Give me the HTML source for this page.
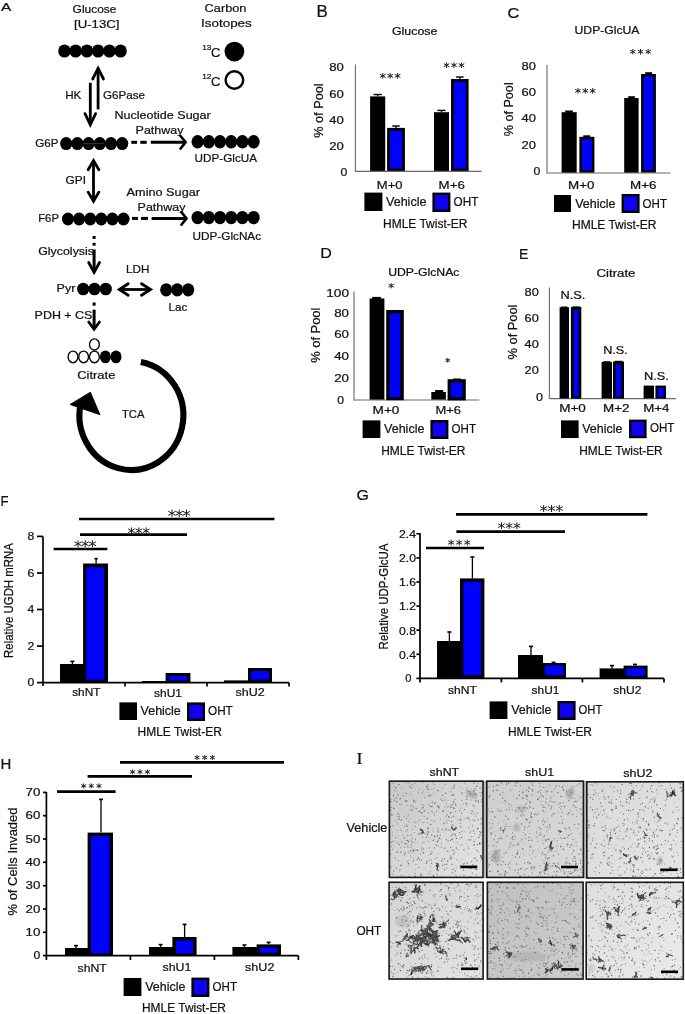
<!DOCTYPE html>
<html><head><meta charset="utf-8"><style>
html,body{margin:0;padding:0;background:#fff;}
body{width:685px;height:1014px;overflow:hidden;}
svg{display:block;will-change:transform;}
text{font-family:"Liberation Sans", sans-serif;fill:#111;stroke:#111;stroke-width:0.22px;}
</style></head><body>
<svg width="685" height="1014" viewBox="0 0 685 1014">
<rect x="0" y="0" width="685" height="1014" fill="#fff"/>
<text x="1.1" y="11.4" font-size="11.5" textLength="10.3" lengthAdjust="spacingAndGlyphs">A</text>
<text x="72.6" y="13.0" font-size="11" textLength="43.8" lengthAdjust="spacingAndGlyphs">Glucose</text>
<text x="74.0" y="28.0" font-size="11" textLength="45.4" lengthAdjust="spacingAndGlyphs">[U-13C]</text>
<ellipse cx="64.4" cy="51.0" rx="6.2" ry="6.6" fill="#000"/>
<ellipse cx="75.6" cy="51.0" rx="6.2" ry="6.6" fill="#000"/>
<ellipse cx="86.9" cy="51.0" rx="6.2" ry="6.6" fill="#000"/>
<ellipse cx="98.1" cy="51.0" rx="6.2" ry="6.6" fill="#000"/>
<ellipse cx="109.4" cy="51.0" rx="6.2" ry="6.6" fill="#000"/>
<ellipse cx="120.6" cy="51.0" rx="6.2" ry="6.6" fill="#000"/>
<polyline points="92.70,79.00 98.10,68.31 103.50,79.00" stroke="#000" stroke-width="2.8" fill="none" stroke-linejoin="miter" stroke-miterlimit="10" stroke-linecap="round"/>
<line x1="98.1" y1="68.3" x2="98.1" y2="109.4" stroke="#000" stroke-width="2.8" stroke-linecap="butt"/>
<polyline points="85.00,113.60 90.30,124.74 95.60,113.60" stroke="#000" stroke-width="2.8" fill="none" stroke-linejoin="miter" stroke-miterlimit="10" stroke-linecap="round"/>
<line x1="90.3" y1="82.8" x2="90.3" y2="124.7" stroke="#000" stroke-width="2.8" stroke-linecap="butt"/>
<text x="65.2" y="99.0" font-size="11" textLength="16.2" lengthAdjust="spacingAndGlyphs">HK</text>
<text x="103.0" y="99.0" font-size="11" textLength="41.9" lengthAdjust="spacingAndGlyphs">G6Pase</text>
<text x="204.6" y="12.4" font-size="11.5" textLength="41.8" lengthAdjust="spacingAndGlyphs">Carbon</text>
<text x="201.0" y="26.6" font-size="11.5" textLength="50.8" lengthAdjust="spacingAndGlyphs">Isotopes</text>
<text x="202.2" y="50.0" font-size="7" textLength="9.2" lengthAdjust="spacingAndGlyphs">13</text>
<text x="211.0" y="57.0" font-size="13.4" textLength="9.4" lengthAdjust="spacingAndGlyphs">C</text>
<ellipse cx="234.4" cy="51.6" rx="9.9" ry="9.9" fill="#000"/>
<text x="202.2" y="79.0" font-size="7" textLength="9.2" lengthAdjust="spacingAndGlyphs">12</text>
<text x="211.0" y="85.6" font-size="13.4" textLength="9.4" lengthAdjust="spacingAndGlyphs">C</text>
<ellipse cx="234.4" cy="80.0" rx="8.8" ry="8.8" fill="#fff" stroke="#000" stroke-width="2.4"/>
<text x="114.4" y="119.0" font-size="11" textLength="96.4" lengthAdjust="spacingAndGlyphs">Nucleotide Sugar</text>
<text x="135.6" y="133.6" font-size="11" textLength="47.8" lengthAdjust="spacingAndGlyphs">Pathway</text>
<text x="35.2" y="147.0" font-size="11.5" textLength="23.2" lengthAdjust="spacingAndGlyphs">G6P</text>
<ellipse cx="66.2" cy="143.6" rx="6.1" ry="6.5" fill="#000"/>
<ellipse cx="77.4" cy="143.6" rx="6.1" ry="6.5" fill="#000"/>
<ellipse cx="88.6" cy="143.6" rx="6.1" ry="6.5" fill="#000"/>
<ellipse cx="99.8" cy="143.6" rx="6.1" ry="6.5" fill="#000"/>
<ellipse cx="111.0" cy="143.6" rx="6.1" ry="6.5" fill="#000"/>
<ellipse cx="122.2" cy="143.6" rx="6.1" ry="6.5" fill="#000"/>
<line x1="83.0" y1="143.6" x2="104.0" y2="143.6" stroke="#3a3a3a" stroke-width="0.9" stroke-linecap="butt"/>
<line x1="131.3" y1="142.3" x2="137.1" y2="142.3" stroke="#000" stroke-width="3" stroke-linecap="butt"/>
<line x1="140.3" y1="142.3" x2="146.7" y2="142.3" stroke="#000" stroke-width="3" stroke-linecap="butt"/>
<line x1="150.8" y1="142.3" x2="150.8" y2="142.3" stroke="#000" stroke-width="3" stroke-linecap="butt"/>
<polyline points="180.50,136.00 185.62,142.30 180.50,148.60" stroke="#000" stroke-width="2.6" fill="none" stroke-linejoin="miter" stroke-miterlimit="10" stroke-linecap="round"/>
<line x1="150.8" y1="142.3" x2="185.6" y2="142.3" stroke="#000" stroke-width="3" stroke-linecap="butt"/>
<ellipse cx="197.6" cy="141.8" rx="6.1" ry="6.7" fill="#000"/>
<ellipse cx="208.8" cy="141.8" rx="6.1" ry="6.7" fill="#000"/>
<ellipse cx="220.0" cy="141.8" rx="6.1" ry="6.7" fill="#000"/>
<ellipse cx="231.2" cy="141.8" rx="6.1" ry="6.7" fill="#000"/>
<ellipse cx="242.4" cy="141.8" rx="6.1" ry="6.7" fill="#000"/>
<ellipse cx="253.6" cy="141.8" rx="6.1" ry="6.7" fill="#000"/>
<text x="194.6" y="162.4" font-size="11.5" textLength="62.4" lengthAdjust="spacingAndGlyphs">UDP-GlcUA</text>
<polyline points="88.15,169.80 93.50,160.51 98.85,169.80" stroke="#000" stroke-width="2.8" fill="none" stroke-linejoin="miter" stroke-miterlimit="10" stroke-linecap="round"/>
<polyline points="88.15,192.10 93.50,201.31 98.85,192.10" stroke="#000" stroke-width="2.8" fill="none" stroke-linejoin="miter" stroke-miterlimit="10" stroke-linecap="round"/>
<line x1="93.5" y1="160.5" x2="93.5" y2="201.3" stroke="#000" stroke-width="2.8" stroke-linecap="butt"/>
<text x="65.6" y="183.6" font-size="11" textLength="20.4" lengthAdjust="spacingAndGlyphs">GPI</text>
<text x="126.6" y="195.6" font-size="11" textLength="73.4" lengthAdjust="spacingAndGlyphs">Amino Sugar</text>
<text x="137.6" y="211.0" font-size="11" textLength="47.8" lengthAdjust="spacingAndGlyphs">Pathway</text>
<text x="38.2" y="222.4" font-size="11.5" textLength="20.8" lengthAdjust="spacingAndGlyphs">F6P</text>
<ellipse cx="68.0" cy="219.0" rx="6.1" ry="6.4" fill="#000"/>
<ellipse cx="79.1" cy="219.0" rx="6.1" ry="6.4" fill="#000"/>
<ellipse cx="90.2" cy="219.0" rx="6.1" ry="6.4" fill="#000"/>
<ellipse cx="101.3" cy="219.0" rx="6.1" ry="6.4" fill="#000"/>
<ellipse cx="112.4" cy="219.0" rx="6.1" ry="6.4" fill="#000"/>
<ellipse cx="123.5" cy="219.0" rx="6.1" ry="6.4" fill="#000"/>
<line x1="132.0" y1="218.4" x2="138.0" y2="218.4" stroke="#000" stroke-width="3" stroke-linecap="butt"/>
<line x1="141.0" y1="218.4" x2="148.0" y2="218.4" stroke="#000" stroke-width="3" stroke-linecap="butt"/>
<line x1="151.6" y1="218.4" x2="151.6" y2="218.4" stroke="#000" stroke-width="3" stroke-linecap="butt"/>
<polyline points="181.40,212.10 186.52,218.40 181.40,224.70" stroke="#000" stroke-width="2.6" fill="none" stroke-linejoin="miter" stroke-miterlimit="10" stroke-linecap="round"/>
<line x1="151.6" y1="218.4" x2="186.5" y2="218.4" stroke="#000" stroke-width="3" stroke-linecap="butt"/>
<ellipse cx="197.6" cy="217.6" rx="6.1" ry="6.7" fill="#000"/>
<ellipse cx="208.8" cy="217.6" rx="6.1" ry="6.7" fill="#000"/>
<ellipse cx="220.0" cy="217.6" rx="6.1" ry="6.7" fill="#000"/>
<ellipse cx="231.2" cy="217.6" rx="6.1" ry="6.7" fill="#000"/>
<ellipse cx="242.4" cy="217.6" rx="6.1" ry="6.7" fill="#000"/>
<ellipse cx="253.6" cy="217.6" rx="6.1" ry="6.7" fill="#000"/>
<text x="192.5" y="240.4" font-size="11.5" textLength="68.6" lengthAdjust="spacingAndGlyphs">UDP-GlcNAc</text>
<line x1="94.1" y1="236.0" x2="94.1" y2="238.9" stroke="#000" stroke-width="3" stroke-linecap="butt"/>
<line x1="94.1" y1="242.8" x2="94.1" y2="245.7" stroke="#000" stroke-width="3" stroke-linecap="butt"/>
<polyline points="88.70,262.50 94.10,272.38 99.50,262.50" stroke="#000" stroke-width="2.8" fill="none" stroke-linejoin="miter" stroke-miterlimit="10" stroke-linecap="round"/>
<line x1="94.1" y1="249.5" x2="94.1" y2="272.4" stroke="#000" stroke-width="3" stroke-linecap="butt"/>
<text x="38.2" y="255.0" font-size="11" textLength="55.8" lengthAdjust="spacingAndGlyphs">Glycolysis</text>
<text x="56.6" y="292.0" font-size="11" textLength="18.8" lengthAdjust="spacingAndGlyphs">Pyr</text>
<ellipse cx="83.2" cy="289.0" rx="6.1" ry="6.3" fill="#000"/>
<ellipse cx="94.5" cy="289.0" rx="6.1" ry="6.3" fill="#000"/>
<ellipse cx="105.8" cy="289.0" rx="6.1" ry="6.3" fill="#000"/>
<polyline points="128.20,283.80 119.30,289.50 128.20,295.20" stroke="#000" stroke-width="2.8" fill="none" stroke-linejoin="miter" stroke-miterlimit="10" stroke-linecap="round"/>
<polyline points="141.50,283.80 150.57,289.50 141.50,295.20" stroke="#000" stroke-width="2.8" fill="none" stroke-linejoin="miter" stroke-miterlimit="10" stroke-linecap="round"/>
<line x1="119.3" y1="289.5" x2="150.6" y2="289.5" stroke="#000" stroke-width="2.8" stroke-linecap="butt"/>
<text x="126.0" y="273.0" font-size="11" textLength="23.4" lengthAdjust="spacingAndGlyphs">LDH</text>
<ellipse cx="166.2" cy="289.8" rx="6.1" ry="6.6" fill="#000"/>
<ellipse cx="177.2" cy="289.8" rx="6.1" ry="6.6" fill="#000"/>
<ellipse cx="188.2" cy="289.8" rx="6.1" ry="6.6" fill="#000"/>
<text x="168.6" y="311.0" font-size="11" textLength="18.8" lengthAdjust="spacingAndGlyphs">Lac</text>
<text x="34.6" y="319.0" font-size="11" textLength="57.8" lengthAdjust="spacingAndGlyphs">PDH + CS</text>
<line x1="94.1" y1="302.5" x2="94.1" y2="305.7" stroke="#000" stroke-width="3" stroke-linecap="butt"/>
<polyline points="88.70,322.00 94.10,329.09 99.50,322.00" stroke="#000" stroke-width="2.8" fill="none" stroke-linejoin="miter" stroke-miterlimit="10" stroke-linecap="round"/>
<line x1="94.1" y1="309.7" x2="94.1" y2="329.1" stroke="#000" stroke-width="3" stroke-linecap="butt"/>
<ellipse cx="94.4" cy="344.4" rx="4.9" ry="5.6" fill="#fff" stroke="#000" stroke-width="1.35"/>
<ellipse cx="73.0" cy="356.9" rx="4.9" ry="5.8" fill="#fff" stroke="#000" stroke-width="1.35"/>
<ellipse cx="83.6" cy="356.9" rx="4.9" ry="5.8" fill="#fff" stroke="#000" stroke-width="1.35"/>
<ellipse cx="94.4" cy="356.9" rx="4.9" ry="5.8" fill="#fff" stroke="#000" stroke-width="1.35"/>
<ellipse cx="105.4" cy="356.9" rx="5.5" ry="6.4" fill="#000"/>
<ellipse cx="116.0" cy="356.9" rx="5.5" ry="6.4" fill="#000"/>
<text x="77.2" y="379.4" font-size="11" textLength="38.2" lengthAdjust="spacingAndGlyphs">Citrate</text>
<path d="M140.86,361.91 A51.9,54.5 0 1 1 81.77,399.57" stroke="#000" stroke-width="6.1" fill="none"/>
<polygon points="70.4,404.5 90.3,392.6 99.7,414.5" fill="#000" stroke="#000" stroke-width="1.2" stroke-linejoin="round"/>
<text x="122.0" y="418.0" font-size="11" textLength="22.4" lengthAdjust="spacingAndGlyphs">TCA</text>
<text x="316.6" y="17.0" font-size="16.5" textLength="11.3" lengthAdjust="spacingAndGlyphs">B</text>
<text x="392.0" y="35.0" font-size="10.5" textLength="45.4" lengthAdjust="spacingAndGlyphs">Glucose</text>
<line x1="355.4" y1="64.4" x2="355.4" y2="171.9" stroke="#6a6a6a" stroke-width="1.1" stroke-linecap="butt"/>
<line x1="355.4" y1="171.4" x2="481.6" y2="171.4" stroke="#6a6a6a" stroke-width="1.1" stroke-linecap="butt"/>
<text x="329.2" y="71.0" font-size="11" textLength="14.6" lengthAdjust="spacingAndGlyphs">80</text>
<text x="329.2" y="97.6" font-size="11" textLength="14.6" lengthAdjust="spacingAndGlyphs">60</text>
<text x="329.2" y="123.6" font-size="11" textLength="14.6" lengthAdjust="spacingAndGlyphs">40</text>
<text x="329.2" y="150.0" font-size="11" textLength="14.6" lengthAdjust="spacingAndGlyphs">20</text>
<text x="340.6" y="176.0" font-size="11" textLength="6.8" lengthAdjust="spacingAndGlyphs">0</text>
<text x="110.6" y="0" font-size="12" text-anchor="middle" textLength="54.5" lengthAdjust="spacingAndGlyphs" transform="translate(323.4,110.6) rotate(-90) translate(-110.6,0)">% of Pool</text>
<path d="M382.79,73.00V78.70M379.95,74.28L385.64,77.42M379.95,77.42L385.64,74.28M390.20,73.00V78.70M387.36,74.28L393.04,77.42M387.36,77.42L393.04,74.28M397.61,73.00V78.70M394.76,74.28L400.45,77.42M394.76,77.42L400.45,74.28" stroke="#222" stroke-width="1.0" fill="none"/>
<path d="M446.54,62.40V68.00M443.75,63.66L449.33,66.74M443.75,66.74L449.33,63.66M454.00,62.40V68.00M451.21,63.66L456.79,66.74M451.21,66.74L456.79,63.66M461.46,62.40V68.00M458.67,63.66L464.25,66.74M458.67,66.74L464.25,63.66" stroke="#222" stroke-width="1.0" fill="none"/>
<line x1="377.6" y1="96.4" x2="377.6" y2="94.5" stroke="#000" stroke-width="1.3" stroke-linecap="butt"/>
<line x1="373.5" y1="94.5" x2="381.8" y2="94.5" stroke="#000" stroke-width="1.4" stroke-linecap="butt"/>
<rect x="370.1" y="96.4" width="15.1" height="74.5" fill="#000"/>
<line x1="396.0" y1="128.0" x2="396.0" y2="126.0" stroke="#000" stroke-width="1.3" stroke-linecap="butt"/>
<line x1="392.2" y1="126.0" x2="399.8" y2="126.0" stroke="#000" stroke-width="1.4" stroke-linecap="butt"/>
<rect x="387.1" y="127.9" width="17.8" height="43.0" fill="#000"/>
<rect x="389.9" y="130.7" width="12.3" height="37.8" fill="#0000ff"/>
<line x1="441.5" y1="112.0" x2="441.5" y2="110.4" stroke="#000" stroke-width="1.3" stroke-linecap="butt"/>
<line x1="437.4" y1="110.4" x2="445.6" y2="110.4" stroke="#000" stroke-width="1.4" stroke-linecap="butt"/>
<rect x="434.0" y="112.2" width="15.0" height="58.7" fill="#000"/>
<line x1="459.8" y1="79.0" x2="459.8" y2="77.0" stroke="#000" stroke-width="1.3" stroke-linecap="butt"/>
<line x1="456.0" y1="77.0" x2="463.6" y2="77.0" stroke="#000" stroke-width="1.4" stroke-linecap="butt"/>
<rect x="451.0" y="79.0" width="17.6" height="91.9" fill="#000"/>
<rect x="453.8" y="81.8" width="12.1" height="86.7" fill="#0000ff"/>
<text x="376.8" y="188.8" font-size="10.5" textLength="25.7" lengthAdjust="spacingAndGlyphs">M+0</text>
<text x="438.6" y="188.8" font-size="10.5" textLength="26.2" lengthAdjust="spacingAndGlyphs">M+6</text>
<rect x="364.4" y="192.6" width="18.0" height="18.4" fill="#000"/>
<text x="386.0" y="206.0" font-size="13" textLength="40.4" lengthAdjust="spacingAndGlyphs">Vehicle</text>
<rect x="432.4" y="192.6" width="18.0" height="19.4" fill="#000"/>
<rect x="434.8" y="195.0" width="13.2" height="14.6" fill="#1000f0"/>
<text x="453.6" y="206.0" font-size="13" textLength="24.8" lengthAdjust="spacingAndGlyphs">OHT</text>
<text x="383.0" y="228.0" font-size="12" textLength="84.4" lengthAdjust="spacingAndGlyphs">HMLE Twist-ER</text>
<text x="507.6" y="18.0" font-size="15.5" textLength="11.8" lengthAdjust="spacingAndGlyphs">C</text>
<text x="574.6" y="33.6" font-size="10.5" textLength="64.8" lengthAdjust="spacingAndGlyphs">UDP-GlcUA</text>
<line x1="547.0" y1="65.0" x2="547.0" y2="173.5" stroke="#6a6a6a" stroke-width="1.1" stroke-linecap="butt"/>
<line x1="547.0" y1="173.0" x2="670.4" y2="173.0" stroke="#6a6a6a" stroke-width="1.1" stroke-linecap="butt"/>
<text x="521.6" y="70.0" font-size="11" textLength="14.4" lengthAdjust="spacingAndGlyphs">80</text>
<text x="521.6" y="96.0" font-size="11" textLength="14.4" lengthAdjust="spacingAndGlyphs">60</text>
<text x="521.6" y="122.0" font-size="11" textLength="14.4" lengthAdjust="spacingAndGlyphs">40</text>
<text x="521.6" y="148.6" font-size="11" textLength="14.4" lengthAdjust="spacingAndGlyphs">20</text>
<text x="533.6" y="175.0" font-size="11" textLength="6.8" lengthAdjust="spacingAndGlyphs">0</text>
<text x="109.3" y="0" font-size="12" text-anchor="middle" textLength="54.0" lengthAdjust="spacingAndGlyphs" transform="translate(513.3,109.3) rotate(-90) translate(-109.3,0)">% of Pool</text>
<path d="M577.94,88.00V93.60M575.15,89.26L580.73,92.34M575.15,92.34L580.73,89.26M585.30,88.00V93.60M582.51,89.26L588.09,92.34M582.51,92.34L588.09,89.26M592.66,88.00V93.60M589.87,89.26L595.45,92.34M589.87,92.34L595.45,89.26" stroke="#222" stroke-width="1.0" fill="none"/>
<path d="M632.84,49.00V54.40M630.14,50.22L635.53,53.19M630.14,53.19L635.53,50.22M640.50,49.00V54.40M637.81,50.22L643.19,53.19M637.81,53.19L643.19,50.22M648.17,49.00V54.40M645.47,50.22L650.86,53.19M645.47,53.19L650.86,50.22" stroke="#222" stroke-width="1.0" fill="none"/>
<rect x="565.2" y="110.5" width="7.7" height="2.3" fill="#000"/>
<rect x="561.6" y="112.2" width="15.1" height="60.4" fill="#000"/>
<rect x="583.3" y="135.3" width="6.9" height="2.1" fill="#000"/>
<rect x="579.4" y="136.8" width="15.0" height="35.8" fill="#000"/>
<rect x="581.9" y="139.3" width="10.0" height="30.9" fill="#0000ff"/>
<rect x="628.2" y="96.2" width="6.7" height="2.4" fill="#000"/>
<rect x="624.2" y="98.0" width="14.4" height="74.6" fill="#000"/>
<rect x="645.2" y="72.2" width="6.9" height="2.4" fill="#000"/>
<rect x="641.1" y="74.0" width="14.8" height="98.5" fill="#000"/>
<rect x="643.6" y="76.5" width="9.8" height="93.6" fill="#0000ff"/>
<text x="568.0" y="189.0" font-size="10.5" textLength="26.4" lengthAdjust="spacingAndGlyphs">M+0</text>
<text x="630.0" y="189.0" font-size="10.5" textLength="26.4" lengthAdjust="spacingAndGlyphs">M+6</text>
<rect x="554.0" y="195.0" width="17.0" height="17.0" fill="#000"/>
<text x="575.2" y="207.6" font-size="13" textLength="40.2" lengthAdjust="spacingAndGlyphs">Vehicle</text>
<rect x="621.6" y="194.0" width="18.0" height="19.0" fill="#000"/>
<rect x="624.0" y="196.4" width="13.2" height="14.2" fill="#1000f0"/>
<text x="642.6" y="207.6" font-size="13" textLength="24.4" lengthAdjust="spacingAndGlyphs">OHT</text>
<text x="572.0" y="228.6" font-size="12" textLength="84.4" lengthAdjust="spacingAndGlyphs">HMLE Twist-ER</text>
<text x="320.2" y="258.4" font-size="15" textLength="11.6" lengthAdjust="spacingAndGlyphs">D</text>
<text x="388.2" y="275.6" font-size="10.5" textLength="71.2" lengthAdjust="spacingAndGlyphs">UDP-GlcNAc</text>
<line x1="354.0" y1="291.6" x2="354.0" y2="400.5" stroke="#6a6a6a" stroke-width="1.1" stroke-linecap="butt"/>
<line x1="354.0" y1="400.0" x2="479.4" y2="400.0" stroke="#6a6a6a" stroke-width="1.1" stroke-linecap="butt"/>
<text x="326.2" y="297.4" font-size="11" textLength="22.8" lengthAdjust="spacingAndGlyphs">100</text>
<text x="334.2" y="317.0" font-size="11" textLength="14.8" lengthAdjust="spacingAndGlyphs">80</text>
<text x="334.2" y="338.0" font-size="11" textLength="14.8" lengthAdjust="spacingAndGlyphs">60</text>
<text x="334.2" y="359.6" font-size="11" textLength="14.8" lengthAdjust="spacingAndGlyphs">40</text>
<text x="334.2" y="381.6" font-size="11" textLength="14.8" lengthAdjust="spacingAndGlyphs">20</text>
<text x="337.2" y="403.6" font-size="11" textLength="6.8" lengthAdjust="spacingAndGlyphs">0</text>
<text x="335.2" y="0" font-size="12" text-anchor="middle" textLength="55.2" lengthAdjust="spacingAndGlyphs" transform="translate(320.3,335.2) rotate(-90) translate(-335.2,0)">% of Pool</text>
<path d="M391.20,283.00V288.40M388.54,284.21L393.86,287.19M388.54,287.19L393.86,284.21" stroke="#222" stroke-width="1.0" fill="none"/>
<path d="M447.70,358.00V362.60M445.41,359.04L449.99,361.56M445.41,361.56L449.99,359.04" stroke="#222" stroke-width="1.0" fill="none"/>
<rect x="372.2" y="296.9" width="8.7" height="2.2" fill="#000"/>
<rect x="369.6" y="298.5" width="14.8" height="101.1" fill="#000"/>
<rect x="386.2" y="310.0" width="17.6" height="90.2" fill="#000"/>
<rect x="389.6" y="313.4" width="10.7" height="83.8" fill="#0000ff"/>
<rect x="435.1" y="390.0" width="8.1" height="2.6" fill="#000"/>
<rect x="431.3" y="392.0" width="14.6" height="7.6" fill="#000"/>
<rect x="453.0" y="378.5" width="7.9" height="1.3" fill="#000"/>
<rect x="447.6" y="379.2" width="18.2" height="21.2" fill="#000"/>
<rect x="450.9" y="382.5" width="11.6" height="14.8" fill="#0000ff"/>
<text x="372.6" y="413.6" font-size="10.5" textLength="26.8" lengthAdjust="spacingAndGlyphs">M+0</text>
<text x="435.4" y="413.5" font-size="10.5" textLength="25.5" lengthAdjust="spacingAndGlyphs">M+6</text>
<rect x="362.6" y="420.4" width="17.8" height="17.6" fill="#000"/>
<text x="384.0" y="433.0" font-size="13" textLength="40.4" lengthAdjust="spacingAndGlyphs">Vehicle</text>
<rect x="430.4" y="420.0" width="18.0" height="19.0" fill="#000"/>
<rect x="432.8" y="422.4" width="13.2" height="14.2" fill="#1000f0"/>
<text x="451.6" y="432.6" font-size="13" textLength="24.4" lengthAdjust="spacingAndGlyphs">OHT</text>
<text x="381.2" y="455.0" font-size="12" textLength="84.2" lengthAdjust="spacingAndGlyphs">HMLE Twist-ER</text>
<text x="519.0" y="258.6" font-size="15" textLength="9.4" lengthAdjust="spacingAndGlyphs">E</text>
<text x="596.6" y="277.0" font-size="10.5" textLength="38.8" lengthAdjust="spacingAndGlyphs">Citrate</text>
<line x1="549.4" y1="287.6" x2="549.4" y2="399.0" stroke="#6a6a6a" stroke-width="1.1" stroke-linecap="butt"/>
<line x1="549.4" y1="398.6" x2="676.0" y2="398.6" stroke="#6a6a6a" stroke-width="1.1" stroke-linecap="butt"/>
<text x="524.6" y="295.6" font-size="11" textLength="14.2" lengthAdjust="spacingAndGlyphs">80</text>
<text x="524.6" y="321.6" font-size="11" textLength="14.2" lengthAdjust="spacingAndGlyphs">60</text>
<text x="524.6" y="348.0" font-size="11" textLength="14.2" lengthAdjust="spacingAndGlyphs">40</text>
<text x="524.6" y="374.0" font-size="11" textLength="14.2" lengthAdjust="spacingAndGlyphs">20</text>
<text x="536.0" y="401.0" font-size="11" textLength="7.0" lengthAdjust="spacingAndGlyphs">0</text>
<text x="332.0" y="0" font-size="12" text-anchor="middle" textLength="54.8" lengthAdjust="spacingAndGlyphs" transform="translate(517.1,332.0) rotate(-90) translate(-332.0,0)">% of Pool</text>
<text x="560.6" y="299.0" font-size="10.5" textLength="24.8" lengthAdjust="spacingAndGlyphs">N.S.</text>
<text x="603.2" y="354.0" font-size="10.5" textLength="24.6" lengthAdjust="spacingAndGlyphs">N.S.</text>
<text x="644.0" y="380.4" font-size="10.5" textLength="24.8" lengthAdjust="spacingAndGlyphs">N.S.</text>
<rect x="561.2" y="306.5" width="6.2" height="1.4" fill="#000"/>
<rect x="559.6" y="307.2" width="9.4" height="91.2" fill="#000"/>
<rect x="572.6" y="306.4" width="7.0" height="1.2" fill="#000"/>
<rect x="570.9" y="306.9" width="10.4" height="91.7" fill="#000"/>
<rect x="573.7" y="309.7" width="4.8" height="87.3" fill="#0000ff"/>
<rect x="603.2" y="361.2" width="7.2" height="1.4" fill="#000"/>
<rect x="601.6" y="362.0" width="10.4" height="36.4" fill="#000"/>
<rect x="614.6" y="360.8" width="8.0" height="1.4" fill="#000"/>
<rect x="613.0" y="361.6" width="11.0" height="37.0" fill="#000"/>
<rect x="615.8" y="364.4" width="5.4" height="32.6" fill="#0000ff"/>
<rect x="643.6" y="385.6" width="10.4" height="12.8" fill="#000"/>
<rect x="655.4" y="385.6" width="10.6" height="13.0" fill="#000"/>
<rect x="657.8" y="388.0" width="5.8" height="9.0" fill="#0000ff"/>
<text x="559.2" y="412.4" font-size="10.5" textLength="26.6" lengthAdjust="spacingAndGlyphs">M+0</text>
<text x="603.0" y="412.4" font-size="10.5" textLength="26.4" lengthAdjust="spacingAndGlyphs">M+2</text>
<text x="643.2" y="412.0" font-size="10.5" textLength="26.2" lengthAdjust="spacingAndGlyphs">M+4</text>
<rect x="561.0" y="420.4" width="17.6" height="17.6" fill="#000"/>
<text x="582.2" y="433.0" font-size="13" textLength="40.2" lengthAdjust="spacingAndGlyphs">Vehicle</text>
<rect x="629.0" y="419.6" width="17.6" height="18.6" fill="#000"/>
<rect x="631.4" y="422.0" width="12.8" height="13.8" fill="#1000f0"/>
<text x="650.0" y="432.4" font-size="13" textLength="24.4" lengthAdjust="spacingAndGlyphs">OHT</text>
<text x="579.3" y="455.0" font-size="12" textLength="83.3" lengthAdjust="spacingAndGlyphs">HMLE Twist-ER</text>
<text x="0.4" y="505.6" font-size="14.5" textLength="8.0" lengthAdjust="spacingAndGlyphs">F</text>
<line x1="43.0" y1="536.4" x2="43.0" y2="686.0" stroke="#000" stroke-width="1.7" stroke-linecap="butt"/>
<line x1="37.0" y1="536.4" x2="43.0" y2="536.4" stroke="#000" stroke-width="1.7" stroke-linecap="butt"/>
<text x="27.6" y="540.2" font-size="11.5" textLength="6.8" lengthAdjust="spacingAndGlyphs">8</text>
<line x1="37.0" y1="573.0" x2="43.0" y2="573.0" stroke="#000" stroke-width="1.7" stroke-linecap="butt"/>
<text x="27.6" y="576.8" font-size="11.5" textLength="6.8" lengthAdjust="spacingAndGlyphs">6</text>
<line x1="37.0" y1="609.5" x2="43.0" y2="609.5" stroke="#000" stroke-width="1.7" stroke-linecap="butt"/>
<text x="27.6" y="613.3" font-size="11.5" textLength="6.8" lengthAdjust="spacingAndGlyphs">4</text>
<line x1="37.0" y1="646.1" x2="43.0" y2="646.1" stroke="#000" stroke-width="1.7" stroke-linecap="butt"/>
<text x="27.6" y="649.9" font-size="11.5" textLength="6.8" lengthAdjust="spacingAndGlyphs">2</text>
<line x1="37.0" y1="682.6" x2="43.0" y2="682.6" stroke="#000" stroke-width="1.7" stroke-linecap="butt"/>
<text x="27.6" y="686.4" font-size="11.5" textLength="6.8" lengthAdjust="spacingAndGlyphs">0</text>
<text x="600.5" y="0" font-size="12" text-anchor="middle" textLength="114.8" lengthAdjust="spacingAndGlyphs" transform="translate(13.3,600.5) rotate(-90) translate(-600.5,0)">Relative UGDH mRNA</text>
<line x1="43.0" y1="682.6" x2="289.0" y2="682.6" stroke="#000" stroke-width="1.7" stroke-linecap="butt"/>
<line x1="125.0" y1="682.6" x2="125.0" y2="686.5" stroke="#000" stroke-width="1.7" stroke-linecap="butt"/>
<line x1="207.0" y1="682.6" x2="207.0" y2="686.5" stroke="#000" stroke-width="1.7" stroke-linecap="butt"/>
<line x1="289.0" y1="682.6" x2="289.0" y2="686.5" stroke="#000" stroke-width="1.7" stroke-linecap="butt"/>
<line x1="79.0" y1="519.0" x2="274.4" y2="519.0" stroke="#000" stroke-width="2.6" stroke-linecap="butt"/>
<path d="M171.88,509.60V517.00M168.19,511.26L175.58,515.33M168.19,515.33L175.58,511.26M179.20,509.60V517.00M175.51,511.26L182.89,515.33M175.51,515.33L182.89,511.26M186.52,509.60V517.00M182.82,511.26L190.21,515.33M182.82,515.33L190.21,511.26" stroke="#222" stroke-width="1.0" fill="none"/>
<line x1="80.0" y1="534.6" x2="187.0" y2="534.6" stroke="#000" stroke-width="2.6" stroke-linecap="butt"/>
<path d="M131.47,527.40V534.00M128.17,528.88L134.76,532.52M128.17,532.52L134.76,528.88M138.80,527.40V534.00M135.51,528.88L142.09,532.52M135.51,532.52L142.09,528.88M146.13,527.40V534.00M142.84,528.88L149.43,532.52M142.84,532.52L149.43,528.88" stroke="#222" stroke-width="1.0" fill="none"/>
<line x1="53.6" y1="549.0" x2="107.4" y2="549.0" stroke="#000" stroke-width="2.6" stroke-linecap="butt"/>
<path d="M77.98,540.20V547.40M74.39,541.82L81.57,545.78M74.39,545.78L81.57,541.82M85.20,540.20V547.40M81.61,541.82L88.79,545.78M81.61,545.78L88.79,541.82M92.42,540.20V547.40M88.83,541.82L96.01,545.78M88.83,545.78L96.01,541.82" stroke="#222" stroke-width="1.0" fill="none"/>
<line x1="72.4" y1="664.0" x2="72.4" y2="661.4" stroke="#000" stroke-width="1.3" stroke-linecap="butt"/>
<line x1="70.4" y1="661.4" x2="74.4" y2="661.4" stroke="#000" stroke-width="1.6" stroke-linecap="butt"/>
<rect x="60.0" y="664.0" width="24.2" height="18.6" fill="#000"/>
<line x1="96.1" y1="563.5" x2="96.1" y2="558.6" stroke="#000" stroke-width="1.3" stroke-linecap="butt"/>
<line x1="94.4" y1="558.6" x2="97.8" y2="558.6" stroke="#000" stroke-width="1.6" stroke-linecap="butt"/>
<rect x="83.1" y="563.5" width="24.9" height="119.1" fill="#000"/>
<rect x="86.2" y="567.3" width="17.9" height="112.5" fill="#0000ff"/>
<rect x="142.0" y="681.0" width="24.2" height="1.6" fill="#000"/>
<rect x="165.6" y="673.0" width="24.8" height="9.6" fill="#000"/>
<rect x="168.6" y="676.0" width="18.8" height="4.4" fill="#0000ff"/>
<rect x="224.0" y="680.4" width="24.6" height="2.2" fill="#000"/>
<rect x="248.0" y="668.0" width="24.0" height="14.6" fill="#000"/>
<rect x="251.0" y="671.0" width="18.0" height="8.6" fill="#0000ff"/>
<text x="72.2" y="696.4" font-size="11.5" textLength="28.2" lengthAdjust="spacingAndGlyphs">shNT</text>
<text x="154.0" y="697.0" font-size="11.5" textLength="28.0" lengthAdjust="spacingAndGlyphs">shU1</text>
<text x="235.6" y="696.4" font-size="11.5" textLength="29.2" lengthAdjust="spacingAndGlyphs">shU2</text>
<rect x="119.4" y="702.4" width="17.6" height="17.6" fill="#000"/>
<text x="140.6" y="715.0" font-size="12.5" textLength="40.2" lengthAdjust="spacingAndGlyphs">Vehicle</text>
<rect x="187.0" y="702.4" width="18.0" height="18.6" fill="#000"/>
<rect x="189.4" y="704.8" width="13.2" height="13.8" fill="#1000f0"/>
<text x="208.0" y="715.0" font-size="12.5" textLength="24.8" lengthAdjust="spacingAndGlyphs">OHT</text>
<text x="137.6" y="735.6" font-size="12" textLength="84.2" lengthAdjust="spacingAndGlyphs">HMLE Twist-ER</text>
<text x="356.6" y="500.4" font-size="14.5" textLength="12.4" lengthAdjust="spacingAndGlyphs">G</text>
<line x1="420.0" y1="533.0" x2="420.0" y2="682.4" stroke="#000" stroke-width="1.7" stroke-linecap="butt"/>
<line x1="416.4" y1="533.8" x2="420.0" y2="533.8" stroke="#000" stroke-width="1.7" stroke-linecap="butt"/>
<text x="399.0" y="538.1" font-size="11.5" textLength="17.0" lengthAdjust="spacingAndGlyphs">2.4</text>
<line x1="416.4" y1="557.9" x2="420.0" y2="557.9" stroke="#000" stroke-width="1.7" stroke-linecap="butt"/>
<text x="399.0" y="562.2" font-size="11.5" textLength="17.0" lengthAdjust="spacingAndGlyphs">2.0</text>
<line x1="416.4" y1="582.0" x2="420.0" y2="582.0" stroke="#000" stroke-width="1.7" stroke-linecap="butt"/>
<text x="399.0" y="586.3" font-size="11.5" textLength="17.0" lengthAdjust="spacingAndGlyphs">1.6</text>
<line x1="416.4" y1="606.1" x2="420.0" y2="606.1" stroke="#000" stroke-width="1.7" stroke-linecap="butt"/>
<text x="399.0" y="610.4" font-size="11.5" textLength="17.0" lengthAdjust="spacingAndGlyphs">1.2</text>
<line x1="416.4" y1="630.2" x2="420.0" y2="630.2" stroke="#000" stroke-width="1.7" stroke-linecap="butt"/>
<text x="399.0" y="634.5" font-size="11.5" textLength="17.0" lengthAdjust="spacingAndGlyphs">0.8</text>
<line x1="416.4" y1="654.3" x2="420.0" y2="654.3" stroke="#000" stroke-width="1.7" stroke-linecap="butt"/>
<text x="399.0" y="658.6" font-size="11.5" textLength="17.0" lengthAdjust="spacingAndGlyphs">0.4</text>
<line x1="416.4" y1="678.4" x2="420.0" y2="678.4" stroke="#000" stroke-width="1.7" stroke-linecap="butt"/>
<text x="405.2" y="682.4" font-size="11.5" textLength="6.2" lengthAdjust="spacingAndGlyphs">0</text>
<text x="596.5" y="0" font-size="12" text-anchor="middle" textLength="105.8" lengthAdjust="spacingAndGlyphs" transform="translate(388.3,596.5) rotate(-90) translate(-596.5,0)">Relative UDP-GlcUA</text>
<line x1="420.0" y1="678.4" x2="664.0" y2="678.4" stroke="#000" stroke-width="1.7" stroke-linecap="butt"/>
<line x1="501.4" y1="678.4" x2="501.4" y2="682.4" stroke="#000" stroke-width="1.7" stroke-linecap="butt"/>
<line x1="582.4" y1="678.4" x2="582.4" y2="682.4" stroke="#000" stroke-width="1.7" stroke-linecap="butt"/>
<line x1="664.0" y1="678.4" x2="664.0" y2="682.4" stroke="#000" stroke-width="1.7" stroke-linecap="butt"/>
<line x1="456.0" y1="514.4" x2="647.4" y2="514.4" stroke="#000" stroke-width="2.6" stroke-linecap="butt"/>
<path d="M543.67,505.00V512.00M540.18,506.57L547.17,510.43M540.18,510.43L547.17,506.57M551.50,505.00V512.00M548.01,506.57L554.99,510.43M548.01,510.43L554.99,506.57M559.32,505.00V512.00M555.83,506.57L562.82,510.43M555.83,510.43L562.82,506.57" stroke="#222" stroke-width="1.0" fill="none"/>
<line x1="456.4" y1="531.6" x2="565.0" y2="531.6" stroke="#000" stroke-width="2.6" stroke-linecap="butt"/>
<path d="M501.47,522.40V529.00M498.17,523.88L504.76,527.52M498.17,527.52L504.76,523.88M509.20,522.40V529.00M505.91,523.88L512.49,527.52M505.91,527.52L512.49,523.88M516.93,522.40V529.00M513.64,523.88L520.23,527.52M513.64,527.52L520.23,523.88" stroke="#222" stroke-width="1.0" fill="none"/>
<line x1="426.0" y1="548.0" x2="484.0" y2="548.0" stroke="#000" stroke-width="2.6" stroke-linecap="butt"/>
<path d="M451.15,539.60V545.60M448.16,540.95L454.14,544.25M448.16,544.25L454.14,540.95M459.20,539.60V545.60M456.21,540.95L462.19,544.25M456.21,544.25L462.19,540.95M467.25,539.60V545.60M464.26,540.95L470.24,544.25M464.26,544.25L470.24,540.95" stroke="#222" stroke-width="1.0" fill="none"/>
<line x1="449.4" y1="641.0" x2="449.4" y2="632.0" stroke="#000" stroke-width="1.3" stroke-linecap="butt"/>
<line x1="447.4" y1="632.0" x2="451.4" y2="632.0" stroke="#000" stroke-width="1.6" stroke-linecap="butt"/>
<rect x="437.0" y="641.0" width="23.6" height="37.4" fill="#000"/>
<line x1="472.4" y1="578.4" x2="472.4" y2="557.0" stroke="#000" stroke-width="1.3" stroke-linecap="butt"/>
<line x1="470.4" y1="557.0" x2="474.4" y2="557.0" stroke="#000" stroke-width="1.6" stroke-linecap="butt"/>
<rect x="460.0" y="578.4" width="24.4" height="100.0" fill="#000"/>
<rect x="463.3" y="581.7" width="17.8" height="93.4" fill="#0000ff"/>
<line x1="531.0" y1="655.0" x2="531.0" y2="646.4" stroke="#000" stroke-width="1.3" stroke-linecap="butt"/>
<line x1="529.0" y1="646.4" x2="533.0" y2="646.4" stroke="#000" stroke-width="1.6" stroke-linecap="butt"/>
<rect x="518.0" y="655.0" width="25.0" height="23.4" fill="#000"/>
<line x1="553.6" y1="663.0" x2="553.6" y2="662.4" stroke="#000" stroke-width="1.3" stroke-linecap="butt"/>
<line x1="551.6" y1="662.4" x2="555.6" y2="662.4" stroke="#000" stroke-width="1.6" stroke-linecap="butt"/>
<rect x="542.4" y="663.0" width="23.6" height="15.4" fill="#000"/>
<rect x="544.8" y="665.4" width="18.8" height="9.8" fill="#0000ff"/>
<line x1="612.0" y1="668.4" x2="612.0" y2="665.6" stroke="#000" stroke-width="1.3" stroke-linecap="butt"/>
<line x1="610.0" y1="665.6" x2="614.0" y2="665.6" stroke="#000" stroke-width="1.6" stroke-linecap="butt"/>
<rect x="599.6" y="668.4" width="24.6" height="10.0" fill="#000"/>
<line x1="635.0" y1="665.6" x2="635.0" y2="664.4" stroke="#000" stroke-width="1.3" stroke-linecap="butt"/>
<line x1="633.0" y1="664.4" x2="637.0" y2="664.4" stroke="#000" stroke-width="1.6" stroke-linecap="butt"/>
<rect x="623.6" y="665.6" width="24.0" height="12.8" fill="#000"/>
<rect x="626.2" y="668.2" width="18.8" height="7.8" fill="#0000ff"/>
<text x="448.0" y="694.0" font-size="11.5" textLength="28.8" lengthAdjust="spacingAndGlyphs">shNT</text>
<text x="531.6" y="694.0" font-size="11.5" textLength="27.8" lengthAdjust="spacingAndGlyphs">shU1</text>
<text x="613.2" y="694.0" font-size="11.5" textLength="28.2" lengthAdjust="spacingAndGlyphs">shU2</text>
<rect x="489.6" y="701.4" width="17.8" height="17.6" fill="#000"/>
<text x="511.2" y="714.0" font-size="12.5" textLength="40.2" lengthAdjust="spacingAndGlyphs">Vehicle</text>
<rect x="557.4" y="701.0" width="18.2" height="19.0" fill="#000"/>
<rect x="559.8" y="703.4" width="13.4" height="14.2" fill="#1000f0"/>
<text x="578.6" y="714.0" font-size="12.5" textLength="23.8" lengthAdjust="spacingAndGlyphs">OHT</text>
<text x="508.0" y="735.6" font-size="12" textLength="84.0" lengthAdjust="spacingAndGlyphs">HMLE Twist-ER</text>
<text x="0.6" y="769.4" font-size="14.5" textLength="10.8" lengthAdjust="spacingAndGlyphs">H</text>
<line x1="46.4" y1="792.0" x2="46.4" y2="960.0" stroke="#000" stroke-width="1.7" stroke-linecap="butt"/>
<line x1="43.0" y1="955.6" x2="46.4" y2="955.6" stroke="#000" stroke-width="1.7" stroke-linecap="butt"/>
<text x="33.6" y="959.2" font-size="11.5" textLength="6.8" lengthAdjust="spacingAndGlyphs">0</text>
<line x1="43.0" y1="932.3" x2="46.4" y2="932.3" stroke="#000" stroke-width="1.7" stroke-linecap="butt"/>
<text x="25.6" y="935.9" font-size="11.5" textLength="14.8" lengthAdjust="spacingAndGlyphs">10</text>
<line x1="43.0" y1="909.0" x2="46.4" y2="909.0" stroke="#000" stroke-width="1.7" stroke-linecap="butt"/>
<text x="25.6" y="912.6" font-size="11.5" textLength="14.8" lengthAdjust="spacingAndGlyphs">20</text>
<line x1="43.0" y1="885.7" x2="46.4" y2="885.7" stroke="#000" stroke-width="1.7" stroke-linecap="butt"/>
<text x="25.6" y="889.3" font-size="11.5" textLength="14.8" lengthAdjust="spacingAndGlyphs">30</text>
<line x1="43.0" y1="862.3" x2="46.4" y2="862.3" stroke="#000" stroke-width="1.7" stroke-linecap="butt"/>
<text x="25.6" y="865.9" font-size="11.5" textLength="14.8" lengthAdjust="spacingAndGlyphs">40</text>
<line x1="43.0" y1="839.0" x2="46.4" y2="839.0" stroke="#000" stroke-width="1.7" stroke-linecap="butt"/>
<text x="25.6" y="842.6" font-size="11.5" textLength="14.8" lengthAdjust="spacingAndGlyphs">50</text>
<line x1="43.0" y1="815.7" x2="46.4" y2="815.7" stroke="#000" stroke-width="1.7" stroke-linecap="butt"/>
<text x="25.6" y="819.3" font-size="11.5" textLength="14.8" lengthAdjust="spacingAndGlyphs">60</text>
<line x1="43.0" y1="792.4" x2="46.4" y2="792.4" stroke="#000" stroke-width="1.7" stroke-linecap="butt"/>
<text x="25.6" y="796.0" font-size="11.5" textLength="14.8" lengthAdjust="spacingAndGlyphs">70</text>
<text x="861.5" y="0" font-size="12" text-anchor="middle" textLength="107.8" lengthAdjust="spacingAndGlyphs" transform="translate(17.3,861.5) rotate(-90) translate(-861.5,0)">% of Cells Invaded</text>
<line x1="46.4" y1="955.6" x2="298.4" y2="955.6" stroke="#000" stroke-width="1.7" stroke-linecap="butt"/>
<line x1="130.4" y1="955.6" x2="130.4" y2="960.0" stroke="#000" stroke-width="1.7" stroke-linecap="butt"/>
<line x1="214.4" y1="955.6" x2="214.4" y2="960.0" stroke="#000" stroke-width="1.7" stroke-linecap="butt"/>
<line x1="298.4" y1="955.6" x2="298.4" y2="960.0" stroke="#000" stroke-width="1.7" stroke-linecap="butt"/>
<line x1="120.0" y1="762.4" x2="284.0" y2="762.4" stroke="#000" stroke-width="2.8" stroke-linecap="butt"/>
<path d="M197.03,755.00V760.00M194.53,756.12L199.52,758.88M194.53,758.88L199.52,756.12M204.70,755.00V760.00M202.21,756.12L207.19,758.88M202.21,758.88L207.19,756.12M212.38,755.00V760.00M209.88,756.12L214.87,758.88M209.88,758.88L214.87,756.12" stroke="#222" stroke-width="1.0" fill="none"/>
<line x1="87.6" y1="776.4" x2="192.0" y2="776.4" stroke="#000" stroke-width="2.8" stroke-linecap="butt"/>
<path d="M132.62,769.40V774.40M130.13,770.52L135.12,773.27M130.13,773.27L135.12,770.52M140.00,769.40V774.40M137.51,770.52L142.49,773.27M137.51,773.27L142.49,770.52M147.38,769.40V774.40M144.88,770.52L149.87,773.27M144.88,773.27L149.87,770.52" stroke="#222" stroke-width="1.0" fill="none"/>
<line x1="57.0" y1="791.6" x2="115.6" y2="791.6" stroke="#000" stroke-width="2.8" stroke-linecap="butt"/>
<path d="M83.62,783.40V788.40M81.13,784.52L86.12,787.27M81.13,787.27L86.12,784.52M91.30,783.40V788.40M88.81,784.52L93.79,787.27M88.81,787.27L93.79,784.52M98.97,783.40V788.40M96.48,784.52L101.47,787.27M96.48,787.27L101.47,784.52" stroke="#222" stroke-width="1.0" fill="none"/>
<line x1="76.0" y1="948.0" x2="76.0" y2="945.6" stroke="#000" stroke-width="1.3" stroke-linecap="butt"/>
<line x1="74.0" y1="945.6" x2="78.0" y2="945.6" stroke="#000" stroke-width="1.6" stroke-linecap="butt"/>
<rect x="65.0" y="948.0" width="23.6" height="7.6" fill="#000"/>
<line x1="101.0" y1="832.6" x2="101.0" y2="799.4" stroke="#000" stroke-width="1.3" stroke-linecap="butt"/>
<line x1="99.0" y1="799.4" x2="103.0" y2="799.4" stroke="#000" stroke-width="1.6" stroke-linecap="butt"/>
<rect x="87.6" y="832.6" width="25.4" height="123.0" fill="#000"/>
<rect x="91.0" y="836.0" width="18.6" height="117.4" fill="#0000ff"/>
<line x1="160.6" y1="947.0" x2="160.6" y2="944.6" stroke="#000" stroke-width="1.3" stroke-linecap="butt"/>
<line x1="158.6" y1="944.6" x2="162.6" y2="944.6" stroke="#000" stroke-width="1.6" stroke-linecap="butt"/>
<rect x="149.0" y="947.0" width="24.0" height="8.6" fill="#000"/>
<line x1="184.6" y1="937.0" x2="184.6" y2="924.4" stroke="#000" stroke-width="1.3" stroke-linecap="butt"/>
<line x1="182.6" y1="924.4" x2="186.6" y2="924.4" stroke="#000" stroke-width="1.6" stroke-linecap="butt"/>
<rect x="172.4" y="937.0" width="24.2" height="18.6" fill="#000"/>
<rect x="176.0" y="940.6" width="17.0" height="12.8" fill="#0000ff"/>
<line x1="244.4" y1="947.0" x2="244.4" y2="945.0" stroke="#000" stroke-width="1.3" stroke-linecap="butt"/>
<line x1="242.4" y1="945.0" x2="246.4" y2="945.0" stroke="#000" stroke-width="1.6" stroke-linecap="butt"/>
<rect x="232.4" y="947.0" width="24.8" height="8.6" fill="#000"/>
<line x1="268.6" y1="944.4" x2="268.6" y2="942.4" stroke="#000" stroke-width="1.3" stroke-linecap="butt"/>
<line x1="266.6" y1="942.4" x2="270.6" y2="942.4" stroke="#000" stroke-width="1.6" stroke-linecap="butt"/>
<rect x="256.6" y="944.4" width="24.4" height="11.2" fill="#000"/>
<rect x="259.8" y="947.6" width="18.0" height="5.2" fill="#0000ff"/>
<text x="77.6" y="972.0" font-size="11.5" textLength="29.2" lengthAdjust="spacingAndGlyphs">shNT</text>
<text x="162.6" y="971.4" font-size="11.5" textLength="28.8" lengthAdjust="spacingAndGlyphs">shU1</text>
<text x="245.0" y="971.0" font-size="11.5" textLength="29.4" lengthAdjust="spacingAndGlyphs">shU2</text>
<rect x="123.6" y="978.0" width="17.8" height="18.0" fill="#000"/>
<text x="145.2" y="990.6" font-size="12.5" textLength="40.2" lengthAdjust="spacingAndGlyphs">Vehicle</text>
<rect x="191.4" y="977.6" width="18.0" height="19.4" fill="#000"/>
<rect x="193.8" y="980.0" width="13.2" height="14.6" fill="#1000f0"/>
<text x="212.6" y="990.6" font-size="12.5" textLength="24.4" lengthAdjust="spacingAndGlyphs">OHT</text>
<text x="142.0" y="1012.0" font-size="12" textLength="84.0" lengthAdjust="spacingAndGlyphs">HMLE Twist-ER</text>
<text x="356.4" y="764.4" font-size="17" style="font-family:'Liberation Serif',serif" textLength="6" lengthAdjust="spacingAndGlyphs">I</text>
<text x="429.6" y="776.0" font-size="11.5" textLength="29.6" lengthAdjust="spacingAndGlyphs">shNT</text>
<text x="525.0" y="776.0" font-size="11.5" textLength="29.1" lengthAdjust="spacingAndGlyphs">shU1</text>
<text x="623.3" y="776.5" font-size="11.5" textLength="29.1" lengthAdjust="spacingAndGlyphs">shU2</text>
<text x="346.6" y="832.0" font-size="12.5" textLength="40.8" lengthAdjust="spacingAndGlyphs">Vehicle</text>
<text x="356.4" y="934.5" font-size="12.5" textLength="24.9" lengthAdjust="spacingAndGlyphs">OHT</text>
<rect x="483.6" y="781.0" width="2.8" height="97.0" fill="#b8b8b8"/>
<rect x="584.0" y="781.0" width="2.4" height="97.5" fill="#b8b8b8"/>
<defs>
<linearGradient id="lg0" x1="0" y1="0" x2="1" y2="1"><stop offset="0" stop-color="#c8c8c8"/><stop offset="1" stop-color="#e4e4e4"/></linearGradient>
<linearGradient id="lg1" x1="0" y1="0" x2="1" y2="1"><stop offset="0" stop-color="#cecece"/><stop offset="1" stop-color="#dadada"/></linearGradient>
<linearGradient id="lg2" x1="0" y1="0" x2="1" y2="1"><stop offset="0" stop-color="#d8d8d8"/><stop offset="1" stop-color="#e6e6e6"/></linearGradient>
<linearGradient id="lg3" x1="0" y1="0" x2="1" y2="1"><stop offset="0" stop-color="#d4d4d4"/><stop offset="1" stop-color="#e2e2e2"/></linearGradient>
<linearGradient id="lg4" x1="0" y1="0" x2="1" y2="1"><stop offset="0" stop-color="#c0c0c0"/><stop offset="1" stop-color="#cccccc"/></linearGradient>
<linearGradient id="lg5" x1="0" y1="0" x2="1" y2="1"><stop offset="0" stop-color="#dedede"/><stop offset="1" stop-color="#eaeaea"/></linearGradient>
<filter id="blur1" x="-50%" y="-50%" width="200%" height="200%"><feGaussianBlur stdDeviation="1.2"/></filter>
<filter id="blur2" x="-10%" y="-10%" width="120%" height="120%"><feGaussianBlur stdDeviation="0.45"/></filter>
</defs>
<g>
<rect x="388.6" y="780.4" width="95.2" height="97.8" fill="url(#lg0)"/>
<clipPath id="cp0"><rect x="388.6" y="780.4" width="95.2" height="97.8"/></clipPath>
<g clip-path="url(#cp0)">
<ellipse cx="471.4" cy="794.3" rx="6.0" ry="3.5" fill="#afafaf" filter="url(#blur1)" transform="rotate(20 471.4 794.3)"/>
<g filter="url(#blur2)"><circle cx="431.8" cy="835.0" r="0.77" fill="#7c7c7c"/><circle cx="431.7" cy="863.3" r="0.52" fill="#929292"/><circle cx="437.3" cy="841.7" r="0.73" fill="#656565"/><circle cx="431.2" cy="795.0" r="0.64" fill="#979797"/><circle cx="454.2" cy="785.4" r="0.79" fill="#7b7b7b"/><circle cx="450.5" cy="840.4" r="0.51" fill="#5f5f5f"/><circle cx="467.1" cy="787.5" r="0.46" fill="#979797"/><circle cx="412.1" cy="784.3" r="0.61" fill="#7b7b7b"/><circle cx="444.7" cy="800.1" r="0.53" fill="#717171"/><circle cx="436.2" cy="844.9" r="0.61" fill="#707070"/><circle cx="427.5" cy="834.2" r="0.78" fill="#646464"/><circle cx="455.6" cy="811.6" r="0.53" fill="#717171"/><circle cx="392.4" cy="835.3" r="0.49" fill="#656565"/><circle cx="468.5" cy="818.4" r="0.79" fill="#959595"/><circle cx="453.4" cy="801.9" r="0.77" fill="#626262"/><circle cx="433.4" cy="875.3" r="0.59" fill="#636363"/><circle cx="442.4" cy="800.4" r="0.69" fill="#747474"/><circle cx="397.7" cy="813.3" r="0.79" fill="#8f8f8f"/><circle cx="475.6" cy="794.3" r="0.70" fill="#5f5f5f"/><circle cx="395.2" cy="857.8" r="0.51" fill="#828282"/><circle cx="407.2" cy="830.1" r="0.79" fill="#909090"/><circle cx="401.8" cy="843.1" r="0.49" fill="#797979"/><circle cx="481.9" cy="781.4" r="0.75" fill="#929292"/><circle cx="444.8" cy="877.0" r="0.46" fill="#6a6a6a"/><circle cx="426.3" cy="863.2" r="0.67" fill="#656565"/><circle cx="393.5" cy="795.4" r="0.60" fill="#5f5f5f"/><circle cx="461.6" cy="812.9" r="0.55" fill="#636363"/><circle cx="396.5" cy="801.4" r="0.67" fill="#5f5f5f"/><circle cx="445.6" cy="817.0" r="0.61" fill="#848484"/><circle cx="434.7" cy="836.4" r="0.75" fill="#6a6a6a"/><circle cx="448.1" cy="811.2" r="0.53" fill="#868686"/><circle cx="412.9" cy="799.6" r="0.71" fill="#9b9b9b"/><circle cx="441.2" cy="847.2" r="0.59" fill="#7d7d7d"/><circle cx="445.8" cy="821.8" r="0.49" fill="#616161"/><circle cx="437.4" cy="805.8" r="0.71" fill="#787878"/><circle cx="413.6" cy="860.3" r="0.66" fill="#717171"/><circle cx="438.1" cy="870.4" r="0.79" fill="#676767"/><circle cx="410.9" cy="835.0" r="0.75" fill="#868686"/><circle cx="396.5" cy="801.7" r="0.77" fill="#8e8e8e"/><circle cx="391.1" cy="807.2" r="0.61" fill="#626262"/><circle cx="393.9" cy="808.4" r="0.64" fill="#676767"/><circle cx="398.2" cy="794.7" r="0.61" fill="#747474"/><circle cx="450.8" cy="847.6" r="0.65" fill="#676767"/><circle cx="444.6" cy="869.9" r="0.62" fill="#757575"/><circle cx="454.9" cy="873.6" r="0.46" fill="#878787"/><circle cx="396.6" cy="787.8" r="0.56" fill="#676767"/><circle cx="482.7" cy="788.6" r="0.64" fill="#8e8e8e"/><circle cx="393.7" cy="871.1" r="0.71" fill="#676767"/><circle cx="463.5" cy="869.1" r="0.57" fill="#8a8a8a"/><circle cx="433.7" cy="788.8" r="0.75" fill="#9b9b9b"/><circle cx="463.3" cy="864.1" r="0.65" fill="#868686"/><circle cx="451.3" cy="817.7" r="0.45" fill="#636363"/><circle cx="397.1" cy="842.7" r="0.80" fill="#979797"/><circle cx="428.4" cy="813.0" r="0.78" fill="#8b8b8b"/><circle cx="443.7" cy="823.6" r="0.74" fill="#646464"/><circle cx="437.9" cy="830.7" r="0.56" fill="#646464"/><circle cx="434.4" cy="803.5" r="0.69" fill="#7e7e7e"/><circle cx="462.3" cy="844.6" r="0.62" fill="#989898"/><circle cx="390.7" cy="810.2" r="0.69" fill="#6b6b6b"/><circle cx="437.9" cy="853.6" r="0.57" fill="#9a9a9a"/><circle cx="430.8" cy="866.8" r="0.56" fill="#898989"/><circle cx="413.0" cy="842.2" r="0.73" fill="#8f8f8f"/><circle cx="474.8" cy="865.7" r="0.58" fill="#848484"/><circle cx="475.4" cy="801.5" r="0.50" fill="#757575"/><circle cx="467.6" cy="862.7" r="0.70" fill="#9b9b9b"/><circle cx="481.0" cy="860.1" r="0.49" fill="#7d7d7d"/><circle cx="415.2" cy="801.9" r="0.59" fill="#878787"/><circle cx="438.1" cy="845.8" r="0.70" fill="#949494"/><circle cx="481.1" cy="824.7" r="0.48" fill="#616161"/><circle cx="415.5" cy="839.6" r="0.69" fill="#707070"/><circle cx="442.8" cy="811.0" r="0.73" fill="#606060"/><circle cx="449.3" cy="820.2" r="0.52" fill="#909090"/><circle cx="466.9" cy="804.1" r="0.50" fill="#626262"/><circle cx="481.3" cy="792.4" r="0.49" fill="#818181"/><circle cx="450.7" cy="858.7" r="0.79" fill="#8a8a8a"/><circle cx="408.1" cy="860.3" r="0.54" fill="#8c8c8c"/><circle cx="390.6" cy="826.6" r="0.70" fill="#6a6a6a"/><circle cx="410.7" cy="856.0" r="0.64" fill="#9b9b9b"/><circle cx="438.1" cy="840.3" r="0.71" fill="#787878"/><circle cx="468.7" cy="848.4" r="0.53" fill="#797979"/><circle cx="476.5" cy="850.6" r="0.50" fill="#7c7c7c"/><circle cx="407.9" cy="866.4" r="0.45" fill="#828282"/><circle cx="442.6" cy="865.6" r="0.73" fill="#9b9b9b"/><circle cx="421.6" cy="812.7" r="0.79" fill="#656565"/><circle cx="456.9" cy="859.8" r="0.67" fill="#8c8c8c"/><circle cx="401.1" cy="804.6" r="0.59" fill="#646464"/><circle cx="480.7" cy="832.8" r="0.73" fill="#737373"/><circle cx="414.0" cy="850.2" r="0.46" fill="#7f7f7f"/><circle cx="397.3" cy="823.6" r="0.64" fill="#909090"/><circle cx="415.3" cy="869.5" r="0.53" fill="#969696"/><circle cx="395.6" cy="858.0" r="0.51" fill="#747474"/><circle cx="453.6" cy="869.2" r="0.61" fill="#808080"/><circle cx="473.5" cy="831.0" r="0.69" fill="#7b7b7b"/><circle cx="477.7" cy="828.6" r="0.78" fill="#646464"/><circle cx="460.2" cy="823.5" r="0.65" fill="#949494"/><circle cx="457.5" cy="842.6" r="0.63" fill="#949494"/><circle cx="474.2" cy="806.0" r="0.68" fill="#959595"/><circle cx="470.7" cy="839.8" r="0.56" fill="#686868"/><circle cx="479.9" cy="831.6" r="0.65" fill="#6b6b6b"/><circle cx="427.9" cy="792.3" r="0.45" fill="#777777"/><circle cx="392.2" cy="874.3" r="0.63" fill="#787878"/><circle cx="440.3" cy="876.2" r="0.49" fill="#646464"/><circle cx="454.0" cy="787.7" r="0.64" fill="#797979"/><circle cx="475.4" cy="858.1" r="0.59" fill="#6e6e6e"/><circle cx="433.7" cy="793.6" r="0.60" fill="#939393"/><circle cx="476.8" cy="869.5" r="0.63" fill="#656565"/><circle cx="407.4" cy="840.6" r="0.77" fill="#676767"/><circle cx="455.0" cy="875.0" r="0.46" fill="#686868"/><circle cx="410.8" cy="847.2" r="0.56" fill="#757575"/><circle cx="412.4" cy="829.2" r="0.62" fill="#848484"/><circle cx="401.0" cy="830.3" r="0.54" fill="#6b6b6b"/><circle cx="455.0" cy="865.6" r="0.46" fill="#878787"/><circle cx="428.1" cy="832.1" r="0.51" fill="#6c6c6c"/><circle cx="470.1" cy="832.6" r="0.53" fill="#6c6c6c"/><circle cx="468.9" cy="840.0" r="0.75" fill="#6d6d6d"/><circle cx="474.9" cy="841.6" r="0.57" fill="#6a6a6a"/><circle cx="419.0" cy="811.6" r="0.77" fill="#6c6c6c"/><circle cx="462.1" cy="800.0" r="0.48" fill="#979797"/><circle cx="411.9" cy="851.0" r="0.54" fill="#656565"/><circle cx="430.1" cy="871.6" r="0.64" fill="#8c8c8c"/><circle cx="401.3" cy="820.0" r="0.69" fill="#606060"/><circle cx="398.6" cy="836.0" r="0.58" fill="#939393"/><circle cx="479.9" cy="792.5" r="0.63" fill="#8f8f8f"/><circle cx="421.6" cy="877.1" r="0.74" fill="#929292"/><circle cx="396.2" cy="791.6" r="0.46" fill="#828282"/><circle cx="446.8" cy="868.1" r="0.62" fill="#6b6b6b"/><circle cx="406.8" cy="800.9" r="0.74" fill="#717171"/><circle cx="476.0" cy="790.5" r="0.47" fill="#9b9b9b"/><circle cx="453.1" cy="788.8" r="0.48" fill="#787878"/><circle cx="433.1" cy="830.8" r="0.60" fill="#858585"/><circle cx="424.4" cy="842.1" r="0.46" fill="#6b6b6b"/><circle cx="406.5" cy="824.9" r="0.71" fill="#787878"/><circle cx="475.5" cy="839.3" r="0.48" fill="#919191"/><circle cx="391.0" cy="867.0" r="0.73" fill="#8c8c8c"/><circle cx="471.2" cy="868.5" r="0.78" fill="#838383"/><circle cx="445.5" cy="829.7" r="0.79" fill="#929292"/><circle cx="460.7" cy="808.2" r="0.49" fill="#8e8e8e"/><circle cx="462.1" cy="859.4" r="0.59" fill="#989898"/><circle cx="420.3" cy="833.0" r="0.58" fill="#7a7a7a"/><circle cx="460.9" cy="820.3" r="0.70" fill="#636363"/><circle cx="463.9" cy="810.3" r="0.49" fill="#979797"/><circle cx="422.7" cy="842.6" r="0.67" fill="#6d6d6d"/><circle cx="415.0" cy="873.5" r="0.55" fill="#6c6c6c"/><circle cx="451.1" cy="836.0" r="0.64" fill="#777777"/><circle cx="437.6" cy="829.1" r="0.52" fill="#666666"/><circle cx="460.6" cy="875.3" r="0.46" fill="#868686"/><circle cx="399.7" cy="804.1" r="0.61" fill="#7f7f7f"/><circle cx="394.3" cy="800.1" r="0.58" fill="#656565"/><circle cx="413.7" cy="807.8" r="0.57" fill="#818181"/><circle cx="436.9" cy="874.1" r="0.65" fill="#656565"/><circle cx="449.1" cy="859.0" r="0.48" fill="#858585"/><circle cx="451.9" cy="872.9" r="0.59" fill="#9b9b9b"/><circle cx="404.5" cy="826.6" r="0.51" fill="#7e7e7e"/><circle cx="440.1" cy="838.6" r="0.60" fill="#7e7e7e"/><circle cx="428.8" cy="831.9" r="0.66" fill="#767676"/><circle cx="439.0" cy="827.7" r="0.54" fill="#9a9a9a"/><circle cx="416.0" cy="850.1" r="0.55" fill="#5f5f5f"/><circle cx="461.6" cy="837.5" r="0.67" fill="#797979"/><circle cx="459.9" cy="818.8" r="0.76" fill="#8e8e8e"/><circle cx="426.7" cy="837.1" r="0.70" fill="#737373"/><circle cx="396.5" cy="868.2" r="0.60" fill="#7d7d7d"/><circle cx="413.0" cy="853.8" r="0.47" fill="#656565"/><circle cx="477.0" cy="850.6" r="0.61" fill="#939393"/><circle cx="412.5" cy="849.1" r="0.47" fill="#797979"/><circle cx="432.1" cy="800.9" r="0.47" fill="#808080"/><circle cx="404.0" cy="816.2" r="0.50" fill="#797979"/><circle cx="432.1" cy="806.5" r="0.65" fill="#797979"/><circle cx="423.5" cy="852.7" r="0.74" fill="#676767"/><circle cx="478.4" cy="851.7" r="0.53" fill="#666666"/><circle cx="436.5" cy="811.0" r="0.63" fill="#959595"/><circle cx="423.1" cy="807.4" r="0.69" fill="#838383"/><circle cx="454.8" cy="799.6" r="0.55" fill="#6e6e6e"/><circle cx="407.3" cy="805.3" r="0.79" fill="#999999"/><circle cx="407.9" cy="846.8" r="0.67" fill="#5f5f5f"/><circle cx="414.9" cy="822.1" r="0.67" fill="#656565"/><circle cx="410.3" cy="808.1" r="0.71" fill="#999999"/><circle cx="452.6" cy="834.2" r="0.67" fill="#767676"/><circle cx="434.7" cy="815.3" r="0.57" fill="#7e7e7e"/><circle cx="459.0" cy="861.7" r="0.48" fill="#666666"/><circle cx="431.3" cy="860.2" r="0.74" fill="#909090"/><circle cx="409.5" cy="822.1" r="0.54" fill="#929292"/><circle cx="403.6" cy="796.1" r="0.74" fill="#858585"/><circle cx="419.9" cy="834.0" r="0.71" fill="#999999"/><circle cx="406.7" cy="844.0" r="0.65" fill="#7c7c7c"/><circle cx="471.2" cy="788.9" r="0.48" fill="#838383"/><circle cx="442.5" cy="859.5" r="0.61" fill="#939393"/><circle cx="461.9" cy="788.7" r="0.52" fill="#898989"/><circle cx="445.9" cy="848.0" r="0.62" fill="#8f8f8f"/><circle cx="454.3" cy="808.5" r="0.50" fill="#757575"/><circle cx="450.9" cy="812.7" r="0.77" fill="#737373"/><circle cx="455.7" cy="835.9" r="0.77" fill="#9b9b9b"/><circle cx="453.6" cy="808.1" r="0.64" fill="#727272"/><circle cx="432.3" cy="802.6" r="0.79" fill="#8d8d8d"/><circle cx="473.0" cy="805.2" r="0.58" fill="#767676"/><circle cx="391.8" cy="846.3" r="0.65" fill="#919191"/><circle cx="407.8" cy="835.4" r="0.73" fill="#818181"/><circle cx="404.0" cy="838.0" r="0.51" fill="#646464"/><circle cx="460.3" cy="865.8" r="0.55" fill="#606060"/><circle cx="410.2" cy="786.9" r="0.51" fill="#717171"/><circle cx="479.7" cy="843.8" r="0.73" fill="#636363"/><circle cx="443.8" cy="810.7" r="0.64" fill="#747474"/><circle cx="397.2" cy="852.0" r="0.76" fill="#646464"/><circle cx="392.0" cy="844.0" r="0.48" fill="#939393"/><circle cx="450.1" cy="804.9" r="0.53" fill="#8f8f8f"/><circle cx="474.2" cy="813.8" r="0.61" fill="#757575"/><circle cx="421.1" cy="874.2" r="0.69" fill="#7e7e7e"/><circle cx="435.1" cy="858.5" r="0.48" fill="#868686"/><circle cx="474.9" cy="820.7" r="0.74" fill="#898989"/><circle cx="422.1" cy="781.8" r="0.58" fill="#646464"/><circle cx="472.4" cy="873.2" r="0.67" fill="#808080"/><circle cx="423.3" cy="782.4" r="0.49" fill="#9a9a9a"/><circle cx="428.8" cy="795.4" r="0.71" fill="#878787"/><circle cx="424.6" cy="797.5" r="0.52" fill="#7a7a7a"/><circle cx="438.9" cy="807.7" r="0.76" fill="#7d7d7d"/><circle cx="418.3" cy="792.4" r="0.68" fill="#909090"/><circle cx="475.3" cy="868.8" r="0.71" fill="#606060"/><circle cx="444.0" cy="868.5" r="0.46" fill="#656565"/><circle cx="408.0" cy="815.8" r="0.66" fill="#858585"/><circle cx="456.4" cy="838.4" r="0.53" fill="#6a6a6a"/><circle cx="473.0" cy="820.0" r="0.77" fill="#9a9a9a"/><circle cx="418.7" cy="833.9" r="0.74" fill="#7d7d7d"/><circle cx="469.1" cy="827.8" r="0.59" fill="#747474"/><circle cx="451.1" cy="855.3" r="0.48" fill="#969696"/><circle cx="410.2" cy="786.2" r="0.78" fill="#929292"/><circle cx="464.0" cy="874.9" r="0.73" fill="#909090"/><circle cx="415.2" cy="876.3" r="0.68" fill="#6e6e6e"/><circle cx="472.8" cy="865.1" r="0.77" fill="#7b7b7b"/><circle cx="463.9" cy="849.7" r="0.66" fill="#696969"/><circle cx="428.4" cy="855.4" r="0.50" fill="#999999"/><circle cx="470.6" cy="830.8" r="0.67" fill="#868686"/><circle cx="414.4" cy="832.6" r="0.50" fill="#909090"/><circle cx="406.2" cy="801.0" r="0.77" fill="#686868"/><circle cx="466.2" cy="789.3" r="0.54" fill="#8c8c8c"/><circle cx="438.8" cy="866.6" r="0.69" fill="#646464"/><circle cx="478.7" cy="837.6" r="0.75" fill="#727272"/><circle cx="391.4" cy="799.4" r="0.52" fill="#8a8a8a"/><circle cx="398.1" cy="860.6" r="0.52" fill="#818181"/><circle cx="428.1" cy="828.7" r="0.78" fill="#727272"/><circle cx="419.1" cy="820.2" r="0.64" fill="#7c7c7c"/><circle cx="451.8" cy="787.8" r="0.48" fill="#676767"/><circle cx="399.5" cy="819.2" r="0.61" fill="#919191"/><circle cx="466.9" cy="844.0" r="0.45" fill="#777777"/><circle cx="455.9" cy="826.9" r="0.55" fill="#666666"/><circle cx="432.3" cy="782.4" r="0.80" fill="#929292"/><circle cx="456.6" cy="867.8" r="0.50" fill="#878787"/><circle cx="424.6" cy="833.1" r="0.55" fill="#747474"/><circle cx="460.0" cy="834.6" r="0.48" fill="#6b6b6b"/><circle cx="408.2" cy="851.5" r="0.57" fill="#9b9b9b"/><circle cx="415.1" cy="826.4" r="0.67" fill="#7b7b7b"/><circle cx="466.7" cy="790.2" r="0.50" fill="#656565"/><circle cx="401.9" cy="841.8" r="0.51" fill="#6b6b6b"/><circle cx="427.1" cy="861.6" r="0.66" fill="#646464"/><circle cx="399.0" cy="784.5" r="0.80" fill="#7a7a7a"/><circle cx="427.5" cy="788.4" r="0.77" fill="#7a7a7a"/><circle cx="476.0" cy="794.7" r="0.52" fill="#686868"/><circle cx="466.1" cy="818.4" r="0.57" fill="#797979"/><circle cx="447.7" cy="851.0" r="0.66" fill="#737373"/><circle cx="481.1" cy="857.1" r="0.68" fill="#858585"/><circle cx="439.0" cy="806.4" r="0.52" fill="#727272"/><circle cx="450.2" cy="791.6" r="0.58" fill="#7f7f7f"/><circle cx="420.6" cy="809.5" r="0.49" fill="#8c8c8c"/><circle cx="404.4" cy="854.8" r="0.77" fill="#828282"/><circle cx="411.4" cy="840.0" r="0.63" fill="#838383"/><circle cx="456.1" cy="875.9" r="0.63" fill="#8c8c8c"/><circle cx="455.5" cy="871.1" r="0.65" fill="#606060"/><circle cx="448.0" cy="800.4" r="0.48" fill="#6e6e6e"/><circle cx="434.1" cy="821.4" r="0.57" fill="#646464"/><circle cx="476.2" cy="816.0" r="0.61" fill="#666666"/><circle cx="431.8" cy="851.3" r="0.53" fill="#838383"/><circle cx="440.2" cy="835.1" r="0.65" fill="#6f6f6f"/><circle cx="405.3" cy="852.8" r="0.76" fill="#747474"/><circle cx="445.7" cy="793.2" r="0.74" fill="#717171"/><circle cx="453.4" cy="816.2" r="0.72" fill="#767676"/><circle cx="467.0" cy="799.2" r="0.64" fill="#636363"/><circle cx="431.9" cy="820.0" r="0.72" fill="#9a9a9a"/><circle cx="477.2" cy="844.5" r="0.56" fill="#898989"/><circle cx="468.6" cy="868.2" r="0.67" fill="#878787"/><circle cx="464.5" cy="783.0" r="0.52" fill="#7c7c7c"/><circle cx="392.7" cy="832.0" r="0.49" fill="#787878"/><circle cx="405.8" cy="831.2" r="0.54" fill="#838383"/><circle cx="476.4" cy="786.5" r="0.72" fill="#8d8d8d"/><circle cx="452.1" cy="795.3" r="0.79" fill="#858585"/><circle cx="399.2" cy="814.5" r="0.76" fill="#999999"/><circle cx="453.8" cy="854.0" r="0.71" fill="#7e7e7e"/><circle cx="472.5" cy="825.8" r="0.77" fill="#8b8b8b"/><circle cx="427.7" cy="823.0" r="0.65" fill="#989898"/><circle cx="477.1" cy="813.0" r="0.63" fill="#797979"/><circle cx="473.9" cy="812.1" r="0.47" fill="#8d8d8d"/><circle cx="447.0" cy="822.9" r="0.58" fill="#737373"/><circle cx="459.7" cy="810.6" r="0.66" fill="#636363"/><circle cx="412.4" cy="862.3" r="0.53" fill="#969696"/><circle cx="426.6" cy="786.4" r="0.69" fill="#808080"/><circle cx="474.4" cy="833.6" r="0.68" fill="#9b9b9b"/><circle cx="411.6" cy="788.0" r="0.77" fill="#969696"/><circle cx="451.6" cy="864.4" r="0.60" fill="#929292"/><circle cx="404.9" cy="843.6" r="0.60" fill="#666666"/><circle cx="473.8" cy="790.8" r="0.73" fill="#666666"/><circle cx="471.8" cy="836.6" r="0.61" fill="#717171"/><circle cx="412.3" cy="810.1" r="0.56" fill="#636363"/><circle cx="430.7" cy="824.5" r="0.64" fill="#686868"/><circle cx="422.8" cy="837.5" r="0.47" fill="#606060"/><circle cx="432.0" cy="811.5" r="0.56" fill="#686868"/><circle cx="476.6" cy="875.0" r="0.62" fill="#6c6c6c"/><circle cx="408.5" cy="863.7" r="0.69" fill="#626262"/><circle cx="407.8" cy="861.7" r="0.57" fill="#7d7d7d"/><circle cx="391.1" cy="842.3" r="0.69" fill="#828282"/><circle cx="408.4" cy="842.0" r="0.52" fill="#979797"/><circle cx="480.6" cy="843.7" r="0.56" fill="#939393"/><circle cx="418.8" cy="867.6" r="0.75" fill="#8c8c8c"/><circle cx="471.5" cy="813.5" r="0.78" fill="#909090"/><circle cx="431.1" cy="789.0" r="0.53" fill="#727272"/><circle cx="400.8" cy="847.6" r="0.54" fill="#8d8d8d"/><circle cx="411.5" cy="845.1" r="0.73" fill="#767676"/><circle cx="464.5" cy="831.6" r="0.49" fill="#808080"/><circle cx="410.9" cy="810.2" r="0.77" fill="#898989"/><circle cx="410.7" cy="794.1" r="0.68" fill="#7c7c7c"/><circle cx="481.2" cy="823.6" r="0.63" fill="#808080"/><circle cx="474.2" cy="782.1" r="0.66" fill="#818181"/><circle cx="413.0" cy="858.3" r="0.48" fill="#717171"/><circle cx="481.7" cy="799.6" r="0.51" fill="#8d8d8d"/><circle cx="440.7" cy="799.3" r="0.76" fill="#989898"/><circle cx="392.7" cy="825.6" r="0.71" fill="#777777"/><circle cx="389.8" cy="866.8" r="0.47" fill="#636363"/><circle cx="441.4" cy="843.2" r="0.58" fill="#898989"/><circle cx="434.7" cy="784.5" r="0.55" fill="#939393"/><circle cx="468.4" cy="847.0" r="0.63" fill="#9b9b9b"/><circle cx="439.2" cy="838.3" r="0.72" fill="#666666"/><circle cx="446.3" cy="803.9" r="0.60" fill="#909090"/><circle cx="413.5" cy="850.0" r="0.70" fill="#6f6f6f"/><circle cx="435.2" cy="802.6" r="0.65" fill="#7e7e7e"/><circle cx="414.0" cy="800.8" r="0.79" fill="#626262"/><circle cx="443.0" cy="865.0" r="0.51" fill="#686868"/><circle cx="446.3" cy="839.7" r="0.73" fill="#7f7f7f"/><circle cx="430.8" cy="806.6" r="0.73" fill="#636363"/><circle cx="400.3" cy="798.5" r="0.67" fill="#848484"/><circle cx="463.4" cy="804.2" r="0.50" fill="#727272"/><circle cx="429.2" cy="848.0" r="0.74" fill="#8e8e8e"/><circle cx="438.6" cy="806.8" r="0.66" fill="#646464"/><circle cx="450.2" cy="830.3" r="0.58" fill="#6e6e6e"/><circle cx="404.5" cy="847.6" r="0.74" fill="#919191"/><circle cx="432.0" cy="811.7" r="0.61" fill="#8b8b8b"/><circle cx="409.8" cy="874.4" r="0.46" fill="#7e7e7e"/><circle cx="460.0" cy="839.0" r="0.50" fill="#8e8e8e"/><circle cx="432.0" cy="852.8" r="0.46" fill="#6e6e6e"/><circle cx="427.8" cy="831.8" r="0.48" fill="#828282"/><circle cx="417.4" cy="822.1" r="0.48" fill="#616161"/><circle cx="453.0" cy="850.1" r="0.79" fill="#868686"/><circle cx="411.0" cy="805.7" r="0.64" fill="#6e6e6e"/><circle cx="428.6" cy="789.6" r="0.53" fill="#727272"/><circle cx="421.0" cy="875.4" r="0.66" fill="#616161"/><circle cx="404.6" cy="837.5" r="0.80" fill="#8e8e8e"/><circle cx="421.6" cy="848.0" r="0.75" fill="#848484"/><circle cx="475.7" cy="798.4" r="0.75" fill="#9a9a9a"/><circle cx="468.2" cy="817.9" r="0.72" fill="#6c6c6c"/><circle cx="428.6" cy="805.0" r="0.73" fill="#929292"/><circle cx="404.9" cy="800.9" r="0.53" fill="#7c7c7c"/><circle cx="460.4" cy="826.7" r="0.62" fill="#878787"/><circle cx="452.9" cy="864.0" r="0.52" fill="#777777"/><circle cx="428.7" cy="785.9" r="0.55" fill="#9b9b9b"/><circle cx="415.2" cy="783.2" r="0.51" fill="#6f6f6f"/><circle cx="437.3" cy="835.8" r="0.68" fill="#6c6c6c"/><circle cx="414.6" cy="816.0" r="0.50" fill="#9a9a9a"/><circle cx="462.0" cy="794.5" r="0.53" fill="#949494"/><circle cx="474.1" cy="783.4" r="0.56" fill="#777777"/><circle cx="431.5" cy="863.3" r="0.58" fill="#6f6f6f"/><circle cx="461.4" cy="831.1" r="0.47" fill="#787878"/><circle cx="446.3" cy="828.2" r="0.52" fill="#7f7f7f"/><circle cx="445.1" cy="784.4" r="0.56" fill="#7a7a7a"/><circle cx="434.2" cy="847.9" r="0.63" fill="#828282"/><circle cx="413.9" cy="850.9" r="0.68" fill="#686868"/><circle cx="471.6" cy="861.4" r="0.64" fill="#7b7b7b"/><circle cx="427.4" cy="818.4" r="0.75" fill="#6d6d6d"/><circle cx="399.2" cy="816.9" r="0.66" fill="#676767"/><circle cx="393.4" cy="783.7" r="0.67" fill="#838383"/><circle cx="390.7" cy="854.4" r="0.71" fill="#898989"/><circle cx="452.1" cy="869.4" r="0.53" fill="#8b8b8b"/><circle cx="422.5" cy="793.1" r="0.72" fill="#767676"/><circle cx="411.5" cy="842.0" r="0.48" fill="#7a7a7a"/><circle cx="400.8" cy="828.6" r="0.62" fill="#9a9a9a"/><circle cx="420.2" cy="829.0" r="0.55" fill="#696969"/><circle cx="475.9" cy="800.7" r="0.72" fill="#757575"/><circle cx="451.6" cy="804.4" r="0.48" fill="#747474"/><circle cx="474.2" cy="858.4" r="0.62" fill="#6f6f6f"/><circle cx="455.0" cy="834.4" r="0.70" fill="#606060"/><circle cx="473.7" cy="792.9" r="0.77" fill="#999999"/><circle cx="427.3" cy="786.6" r="0.62" fill="#848484"/><circle cx="417.6" cy="850.3" r="0.76" fill="#636363"/><circle cx="391.8" cy="814.7" r="0.76" fill="#838383"/><circle cx="417.3" cy="859.5" r="0.76" fill="#888888"/><circle cx="433.3" cy="840.3" r="0.78" fill="#767676"/><circle cx="392.5" cy="849.2" r="0.53" fill="#636363"/><circle cx="448.1" cy="840.9" r="0.59" fill="#797979"/><circle cx="395.5" cy="787.9" r="0.61" fill="#7b7b7b"/><circle cx="425.2" cy="868.5" r="0.46" fill="#676767"/><circle cx="453.3" cy="807.5" r="0.62" fill="#7d7d7d"/><circle cx="480.7" cy="795.8" r="0.52" fill="#6d6d6d"/><circle cx="413.7" cy="802.5" r="0.63" fill="#9a9a9a"/><circle cx="440.3" cy="819.1" r="0.53" fill="#7e7e7e"/><circle cx="468.7" cy="854.7" r="0.48" fill="#939393"/><circle cx="441.9" cy="861.0" r="0.79" fill="#747474"/><circle cx="414.2" cy="791.4" r="0.46" fill="#929292"/><circle cx="456.3" cy="848.0" r="0.69" fill="#6b6b6b"/><circle cx="466.4" cy="796.7" r="0.67" fill="#7e7e7e"/><circle cx="464.6" cy="809.5" r="0.60" fill="#767676"/><circle cx="459.4" cy="832.6" r="0.53" fill="#6e6e6e"/><circle cx="423.4" cy="849.1" r="0.77" fill="#8e8e8e"/><circle cx="401.3" cy="787.5" r="0.47" fill="#656565"/><circle cx="472.1" cy="811.1" r="0.75" fill="#7f7f7f"/><circle cx="461.6" cy="827.5" r="0.51" fill="#969696"/><circle cx="428.1" cy="827.6" r="0.57" fill="#787878"/><circle cx="436.9" cy="857.7" r="0.59" fill="#8c8c8c"/><circle cx="448.8" cy="816.6" r="0.69" fill="#6a6a6a"/><circle cx="420.7" cy="854.1" r="0.74" fill="#949494"/><circle cx="401.7" cy="875.6" r="0.67" fill="#676767"/><circle cx="447.7" cy="861.0" r="0.73" fill="#676767"/><circle cx="408.3" cy="840.9" r="0.55" fill="#888888"/><circle cx="406.8" cy="782.7" r="0.65" fill="#9b9b9b"/><circle cx="463.3" cy="870.3" r="0.54" fill="#707070"/><circle cx="428.7" cy="841.9" r="0.59" fill="#9a9a9a"/><circle cx="452.9" cy="794.7" r="0.51" fill="#666666"/><circle cx="470.8" cy="800.0" r="0.57" fill="#818181"/><circle cx="482.2" cy="792.9" r="0.57" fill="#606060"/><circle cx="467.2" cy="863.4" r="0.51" fill="#636363"/><circle cx="418.4" cy="858.1" r="0.74" fill="#717171"/><circle cx="410.4" cy="850.6" r="0.59" fill="#686868"/><circle cx="481.0" cy="818.7" r="0.69" fill="#818181"/><circle cx="415.9" cy="864.4" r="0.60" fill="#949494"/><circle cx="399.6" cy="870.8" r="0.54" fill="#7e7e7e"/><circle cx="429.9" cy="795.9" r="0.76" fill="#707070"/><circle cx="442.3" cy="795.2" r="0.67" fill="#707070"/><circle cx="419.6" cy="789.2" r="0.52" fill="#828282"/><circle cx="413.8" cy="786.3" r="0.47" fill="#989898"/><circle cx="460.5" cy="845.6" r="0.45" fill="#747474"/><circle cx="434.7" cy="876.9" r="0.52" fill="#969696"/><circle cx="427.7" cy="784.5" r="0.57" fill="#828282"/><circle cx="426.5" cy="786.9" r="0.64" fill="#898989"/><circle cx="466.7" cy="805.6" r="0.52" fill="#717171"/><circle cx="470.2" cy="876.7" r="0.61" fill="#949494"/><circle cx="477.3" cy="785.9" r="0.75" fill="#9b9b9b"/><circle cx="405.3" cy="792.8" r="0.48" fill="#757575"/><circle cx="391.8" cy="834.6" r="0.47" fill="#7c7c7c"/><circle cx="390.6" cy="801.5" r="0.79" fill="#5f5f5f"/><circle cx="461.1" cy="806.8" r="0.54" fill="#9a9a9a"/><circle cx="458.1" cy="819.7" r="0.73" fill="#939393"/><circle cx="451.7" cy="858.3" r="0.72" fill="#9a9a9a"/><circle cx="478.2" cy="819.9" r="0.70" fill="#6f6f6f"/><circle cx="473.4" cy="841.2" r="0.45" fill="#686868"/><circle cx="410.8" cy="818.6" r="0.58" fill="#898989"/><circle cx="415.4" cy="876.5" r="0.67" fill="#7b7b7b"/><circle cx="422.6" cy="808.1" r="0.77" fill="#737373"/><circle cx="445.0" cy="806.8" r="0.52" fill="#6a6a6a"/><circle cx="409.3" cy="852.6" r="0.64" fill="#8a8a8a"/><circle cx="408.8" cy="814.7" r="0.50" fill="#767676"/><circle cx="422.3" cy="822.7" r="0.45" fill="#7f7f7f"/><circle cx="394.5" cy="790.5" r="0.78" fill="#949494"/><circle cx="478.4" cy="801.0" r="0.76" fill="#737373"/><circle cx="395.8" cy="837.8" r="0.65" fill="#737373"/><circle cx="429.7" cy="873.6" r="0.53" fill="#797979"/><circle cx="462.3" cy="866.4" r="0.73" fill="#636363"/><circle cx="452.7" cy="872.2" r="0.56" fill="#6a6a6a"/><circle cx="462.1" cy="831.7" r="0.45" fill="#8d8d8d"/><circle cx="448.8" cy="817.6" r="0.68" fill="#6c6c6c"/><circle cx="447.1" cy="814.4" r="0.60" fill="#8c8c8c"/><circle cx="448.2" cy="829.8" r="0.65" fill="#666666"/><circle cx="400.9" cy="852.2" r="0.71" fill="#7a7a7a"/><circle cx="451.6" cy="821.6" r="0.58" fill="#6d6d6d"/><circle cx="424.6" cy="833.2" r="0.46" fill="#999999"/><circle cx="392.6" cy="841.5" r="0.61" fill="#848484"/><circle cx="393.9" cy="786.6" r="0.56" fill="#818181"/><circle cx="433.3" cy="876.5" r="0.71" fill="#737373"/><circle cx="407.1" cy="826.3" r="0.64" fill="#626262"/><circle cx="470.4" cy="793.5" r="0.80" fill="#7e7e7e"/><circle cx="400.0" cy="799.3" r="0.77" fill="#919191"/><circle cx="477.0" cy="860.8" r="0.73" fill="#7f7f7f"/><circle cx="413.1" cy="806.5" r="0.51" fill="#616161"/><circle cx="455.9" cy="805.4" r="0.73" fill="#7c7c7c"/><circle cx="408.9" cy="782.8" r="0.60" fill="#7e7e7e"/><circle cx="415.7" cy="843.1" r="0.48" fill="#828282"/><circle cx="430.7" cy="853.9" r="0.76" fill="#636363"/><circle cx="464.2" cy="863.3" r="0.72" fill="#828282"/><circle cx="480.3" cy="787.7" r="0.78" fill="#929292"/><circle cx="423.7" cy="791.0" r="0.46" fill="#757575"/><circle cx="478.6" cy="802.4" r="0.55" fill="#797979"/><circle cx="406.5" cy="818.6" r="0.75" fill="#868686"/><circle cx="433.0" cy="828.3" r="0.48" fill="#888888"/><circle cx="408.9" cy="841.7" r="0.76" fill="#8d8d8d"/><circle cx="480.0" cy="835.0" r="0.80" fill="#777777"/><circle cx="391.0" cy="813.9" r="0.56" fill="#878787"/><circle cx="477.8" cy="844.5" r="0.52" fill="#6c6c6c"/><circle cx="406.4" cy="793.7" r="0.69" fill="#7c7c7c"/><circle cx="393.5" cy="808.1" r="0.54" fill="#757575"/><circle cx="446.5" cy="815.7" r="0.52" fill="#636363"/><circle cx="454.1" cy="851.9" r="0.58" fill="#727272"/><circle cx="461.3" cy="800.6" r="0.48" fill="#707070"/><circle cx="429.2" cy="860.0" r="0.59" fill="#7c7c7c"/><circle cx="402.1" cy="793.2" r="0.48" fill="#7f7f7f"/><circle cx="455.2" cy="803.9" r="0.65" fill="#717171"/><circle cx="401.1" cy="865.4" r="0.78" fill="#646464"/><circle cx="452.7" cy="825.0" r="0.78" fill="#777777"/><circle cx="408.1" cy="821.1" r="0.53" fill="#878787"/><circle cx="395.6" cy="821.5" r="0.55" fill="#7b7b7b"/><circle cx="451.0" cy="807.0" r="0.68" fill="#5f5f5f"/><circle cx="452.2" cy="804.8" r="0.59" fill="#676767"/><circle cx="444.9" cy="864.4" r="0.59" fill="#707070"/><circle cx="421.4" cy="860.0" r="0.75" fill="#848484"/><circle cx="399.3" cy="844.4" r="0.61" fill="#6c6c6c"/><circle cx="397.8" cy="816.2" r="0.58" fill="#8d8d8d"/><circle cx="444.6" cy="848.2" r="0.80" fill="#939393"/><circle cx="478.1" cy="783.6" r="0.67" fill="#7d7d7d"/><circle cx="396.4" cy="797.7" r="0.63" fill="#7d7d7d"/><circle cx="452.1" cy="839.4" r="0.79" fill="#606060"/><circle cx="482.1" cy="819.3" r="0.74" fill="#888888"/><circle cx="440.1" cy="791.9" r="0.47" fill="#7c7c7c"/><circle cx="450.8" cy="857.1" r="0.78" fill="#808080"/><circle cx="481.8" cy="801.5" r="0.58" fill="#686868"/><circle cx="437.7" cy="790.6" r="0.73" fill="#5f5f5f"/><circle cx="405.2" cy="843.6" r="0.67" fill="#8e8e8e"/><circle cx="474.1" cy="844.9" r="0.79" fill="#7d7d7d"/><circle cx="461.9" cy="792.9" r="0.61" fill="#606060"/><circle cx="424.2" cy="816.5" r="0.74" fill="#979797"/><circle cx="391.9" cy="815.0" r="0.64" fill="#818181"/><circle cx="480.4" cy="855.8" r="0.48" fill="#7f7f7f"/><circle cx="442.2" cy="787.9" r="0.53" fill="#898989"/><circle cx="397.8" cy="830.5" r="0.55" fill="#909090"/><circle cx="412.5" cy="838.0" r="0.61" fill="#6c6c6c"/><circle cx="444.5" cy="797.7" r="0.49" fill="#676767"/><circle cx="468.9" cy="791.4" r="0.75" fill="#686868"/><circle cx="403.0" cy="835.5" r="0.51" fill="#868686"/><circle cx="446.7" cy="864.2" r="0.79" fill="#797979"/><circle cx="466.2" cy="803.3" r="0.73" fill="#666666"/><circle cx="458.0" cy="849.7" r="0.50" fill="#808080"/><circle cx="447.3" cy="820.2" r="0.62" fill="#999999"/><circle cx="479.7" cy="843.0" r="0.75" fill="#616161"/><circle cx="425.9" cy="810.1" r="0.53" fill="#818181"/><circle cx="400.0" cy="869.4" r="0.57" fill="#7e7e7e"/><circle cx="408.6" cy="876.6" r="0.65" fill="#676767"/><circle cx="442.5" cy="829.4" r="0.77" fill="#787878"/><circle cx="447.9" cy="807.0" r="0.66" fill="#6d6d6d"/><circle cx="423.9" cy="822.5" r="0.62" fill="#757575"/><circle cx="450.1" cy="813.4" r="0.49" fill="#727272"/><circle cx="467.5" cy="787.3" r="0.63" fill="#828282"/><circle cx="419.7" cy="859.8" r="0.69" fill="#8c8c8c"/><circle cx="424.3" cy="811.5" r="0.62" fill="#6d6d6d"/><circle cx="438.1" cy="831.9" r="0.71" fill="#767676"/><circle cx="427.5" cy="874.0" r="0.45" fill="#848484"/><circle cx="422.9" cy="805.0" r="0.79" fill="#8b8b8b"/><circle cx="424.0" cy="810.3" r="0.66" fill="#848484"/><circle cx="394.8" cy="799.0" r="0.49" fill="#8f8f8f"/><circle cx="459.9" cy="786.5" r="0.48" fill="#6f6f6f"/><circle cx="444.5" cy="858.8" r="0.78" fill="#888888"/><circle cx="469.8" cy="819.9" r="0.55" fill="#8a8a8a"/><circle cx="398.7" cy="819.4" r="0.53" fill="#6f6f6f"/><circle cx="420.2" cy="811.8" r="0.74" fill="#919191"/><circle cx="416.2" cy="808.5" r="0.80" fill="#7e7e7e"/><circle cx="394.1" cy="841.2" r="0.64" fill="#9a9a9a"/><circle cx="421.3" cy="850.2" r="0.67" fill="#8a8a8a"/><circle cx="459.8" cy="836.9" r="0.45" fill="#8e8e8e"/><circle cx="434.3" cy="813.5" r="0.67" fill="#999999"/><circle cx="475.0" cy="788.6" r="0.72" fill="#7b7b7b"/><circle cx="453.5" cy="794.8" r="0.71" fill="#8a8a8a"/><polyline points="455.5,828.7 454.2,829.8 453.1,829.5 452.1,828.3 451.8,827.1" fill="none" stroke="#545454" stroke-width="1.6" stroke-linecap="round" stroke-linejoin="round"/><ellipse cx="454.9" cy="828.2" rx="0.6" ry="0.5" fill="#595959" transform="rotate(35 454.9 828.2)"/><ellipse cx="456.0" cy="828.3" rx="1.0" ry="0.5" fill="#393939" transform="rotate(110 456.0 828.3)"/><polyline points="423.1,832.8 422.7,831.4 421.9,830.0 420.4,829.6" fill="none" stroke="#323232" stroke-width="1.4" stroke-linecap="round" stroke-linejoin="round"/><ellipse cx="422.4" cy="833.1" rx="1.0" ry="0.6" fill="#4f4f4f" transform="rotate(151 422.4 833.1)"/><ellipse cx="422.9" cy="832.1" rx="0.8" ry="0.6" fill="#545454" transform="rotate(91 422.9 832.1)"/><ellipse cx="422.6" cy="832.5" rx="0.9" ry="0.5" fill="#3c3c3c" transform="rotate(178 422.6 832.5)"/><ellipse cx="421.3" cy="833.1" rx="0.7" ry="0.5" fill="#393939" transform="rotate(65 421.3 833.1)"/><polyline points="438.0,864.0 437.5,865.1 436.6,866.1" fill="none" stroke="#424242" stroke-width="1.5" stroke-linecap="round" stroke-linejoin="round"/><polyline points="436.4,865.6 437.3,866.2 437.5,867.1 437.2,868.4 436.9,869.5" fill="none" stroke="#313131" stroke-width="1.2" stroke-linecap="round" stroke-linejoin="round"/><ellipse cx="437.7" cy="864.9" rx="0.7" ry="0.4" fill="#404040" transform="rotate(55 437.7 864.9)"/><ellipse cx="438.0" cy="865.0" rx="0.9" ry="0.5" fill="#414141" transform="rotate(48 438.0 865.0)"/><ellipse cx="436.6" cy="863.6" rx="1.1" ry="0.6" fill="#4e4e4e" transform="rotate(27 436.6 863.6)"/><ellipse cx="437.9" cy="864.5" rx="0.7" ry="0.7" fill="#656565" transform="rotate(67 437.9 864.5)"/><ellipse cx="437.3" cy="866.3" rx="0.6" ry="0.7" fill="#616161" transform="rotate(75 437.3 866.3)"/><polyline points="481.4,857.3 481.8,858.3 482.8,859.2" fill="none" stroke="#5f5f5f" stroke-width="1.2" stroke-linecap="round" stroke-linejoin="round"/><ellipse cx="481.9" cy="855.6" rx="0.6" ry="0.4" fill="#6a6a6a" transform="rotate(41 481.9 855.6)"/><ellipse cx="480.8" cy="856.2" rx="1.1" ry="0.6" fill="#474747" transform="rotate(78 480.8 856.2)"/></g>
</g>
<rect x="389.4" y="781.2" width="93.6" height="96.2" fill="none" stroke="#1a1a1a" stroke-width="1.6"/>
<line x1="460.3" y1="866.9" x2="477.2" y2="866.9" stroke="#000" stroke-width="2.6" stroke-linecap="butt"/>
</g>
<g>
<rect x="486.0" y="780.4" width="98.2" height="97.8" fill="url(#lg1)"/>
<clipPath id="cp1"><rect x="486.0" y="780.4" width="98.2" height="97.8"/></clipPath>
<g clip-path="url(#cp1)">
<ellipse cx="570.4" cy="792.9" rx="3.5" ry="6.0" fill="#a8a8a8" filter="url(#blur1)" transform="rotate(20 570.4 792.9)"/>
<ellipse cx="521.5" cy="809.0" rx="5.0" ry="3.0" fill="#b4b4b4" filter="url(#blur1)" transform="rotate(0 521.5 809.0)"/>
<ellipse cx="516.4" cy="827.2" rx="3.0" ry="4.0" fill="#b2b2b2" filter="url(#blur1)" transform="rotate(0 516.4 827.2)"/>
<ellipse cx="496.0" cy="856.4" rx="4.0" ry="7.0" fill="#acacac" filter="url(#blur1)" transform="rotate(0 496.0 856.4)"/>
<ellipse cx="533.2" cy="868.0" rx="3.0" ry="2.0" fill="#b9b9b9" filter="url(#blur1)" transform="rotate(0 533.2 868.0)"/>
<g filter="url(#blur2)"><circle cx="492.2" cy="871.1" r="0.58" fill="#919191"/><circle cx="539.2" cy="827.5" r="0.69" fill="#757575"/><circle cx="557.2" cy="871.8" r="0.63" fill="#838383"/><circle cx="556.9" cy="866.2" r="0.48" fill="#828282"/><circle cx="497.6" cy="871.5" r="0.68" fill="#636363"/><circle cx="516.1" cy="781.7" r="0.78" fill="#666666"/><circle cx="505.8" cy="816.6" r="0.57" fill="#686868"/><circle cx="492.9" cy="845.2" r="0.47" fill="#606060"/><circle cx="526.8" cy="795.1" r="0.77" fill="#959595"/><circle cx="580.8" cy="869.5" r="0.64" fill="#7a7a7a"/><circle cx="537.7" cy="799.1" r="0.63" fill="#757575"/><circle cx="545.9" cy="870.0" r="0.76" fill="#656565"/><circle cx="527.1" cy="827.9" r="0.48" fill="#7e7e7e"/><circle cx="489.8" cy="871.4" r="0.76" fill="#646464"/><circle cx="500.0" cy="810.2" r="0.57" fill="#8b8b8b"/><circle cx="513.2" cy="795.9" r="0.64" fill="#969696"/><circle cx="576.0" cy="863.7" r="0.78" fill="#606060"/><circle cx="545.6" cy="857.6" r="0.80" fill="#838383"/><circle cx="545.9" cy="840.1" r="0.78" fill="#646464"/><circle cx="561.0" cy="796.5" r="0.77" fill="#656565"/><circle cx="497.7" cy="864.7" r="0.79" fill="#606060"/><circle cx="526.8" cy="795.7" r="0.52" fill="#858585"/><circle cx="537.0" cy="837.0" r="0.72" fill="#929292"/><circle cx="495.0" cy="817.0" r="0.79" fill="#6c6c6c"/><circle cx="580.8" cy="861.2" r="0.59" fill="#747474"/><circle cx="508.1" cy="819.0" r="0.76" fill="#6e6e6e"/><circle cx="512.2" cy="837.5" r="0.63" fill="#747474"/><circle cx="537.1" cy="815.1" r="0.68" fill="#9a9a9a"/><circle cx="571.8" cy="798.2" r="0.50" fill="#6f6f6f"/><circle cx="530.4" cy="802.6" r="0.77" fill="#6a6a6a"/><circle cx="509.9" cy="844.1" r="0.54" fill="#808080"/><circle cx="542.2" cy="836.3" r="0.46" fill="#727272"/><circle cx="509.3" cy="810.3" r="0.57" fill="#8d8d8d"/><circle cx="506.7" cy="784.7" r="0.54" fill="#646464"/><circle cx="494.6" cy="854.5" r="0.54" fill="#6c6c6c"/><circle cx="491.3" cy="834.8" r="0.50" fill="#898989"/><circle cx="521.3" cy="868.7" r="0.80" fill="#777777"/><circle cx="583.2" cy="821.6" r="0.68" fill="#6d6d6d"/><circle cx="519.5" cy="857.1" r="0.58" fill="#717171"/><circle cx="541.1" cy="871.8" r="0.47" fill="#939393"/><circle cx="574.7" cy="786.4" r="0.46" fill="#636363"/><circle cx="527.9" cy="796.6" r="0.47" fill="#696969"/><circle cx="571.5" cy="873.4" r="0.78" fill="#747474"/><circle cx="500.3" cy="794.5" r="0.73" fill="#737373"/><circle cx="578.0" cy="799.9" r="0.50" fill="#8a8a8a"/><circle cx="509.8" cy="862.7" r="0.76" fill="#898989"/><circle cx="530.7" cy="817.1" r="0.49" fill="#707070"/><circle cx="501.1" cy="864.8" r="0.79" fill="#8d8d8d"/><circle cx="520.4" cy="786.1" r="0.56" fill="#6a6a6a"/><circle cx="543.0" cy="807.6" r="0.63" fill="#939393"/><circle cx="541.6" cy="854.4" r="0.63" fill="#9b9b9b"/><circle cx="495.9" cy="844.0" r="0.46" fill="#999999"/><circle cx="516.8" cy="854.3" r="0.77" fill="#7f7f7f"/><circle cx="504.9" cy="873.9" r="0.67" fill="#656565"/><circle cx="515.3" cy="857.3" r="0.79" fill="#7c7c7c"/><circle cx="520.7" cy="876.9" r="0.62" fill="#616161"/><circle cx="505.4" cy="871.8" r="0.79" fill="#606060"/><circle cx="529.2" cy="837.4" r="0.64" fill="#717171"/><circle cx="502.7" cy="798.0" r="0.71" fill="#6c6c6c"/><circle cx="579.5" cy="783.7" r="0.60" fill="#7e7e7e"/><circle cx="545.9" cy="787.4" r="0.46" fill="#747474"/><circle cx="488.5" cy="810.6" r="0.46" fill="#6f6f6f"/><circle cx="568.6" cy="835.2" r="0.69" fill="#6f6f6f"/><circle cx="547.0" cy="811.8" r="0.57" fill="#979797"/><circle cx="542.7" cy="840.1" r="0.60" fill="#848484"/><circle cx="531.3" cy="813.2" r="0.77" fill="#6d6d6d"/><circle cx="552.2" cy="841.0" r="0.76" fill="#898989"/><circle cx="502.6" cy="830.1" r="0.79" fill="#717171"/><circle cx="560.6" cy="870.9" r="0.56" fill="#828282"/><circle cx="543.1" cy="796.5" r="0.78" fill="#717171"/><circle cx="548.5" cy="842.1" r="0.45" fill="#7d7d7d"/><circle cx="540.8" cy="829.0" r="0.77" fill="#7f7f7f"/><circle cx="549.6" cy="847.1" r="0.68" fill="#787878"/><circle cx="512.9" cy="836.4" r="0.67" fill="#7c7c7c"/><circle cx="492.4" cy="812.0" r="0.67" fill="#626262"/><circle cx="548.7" cy="874.3" r="0.55" fill="#7b7b7b"/><circle cx="491.8" cy="808.2" r="0.47" fill="#848484"/><circle cx="566.8" cy="857.8" r="0.54" fill="#989898"/><circle cx="547.9" cy="791.2" r="0.57" fill="#626262"/><circle cx="578.0" cy="828.3" r="0.62" fill="#717171"/><circle cx="517.4" cy="845.2" r="0.63" fill="#9a9a9a"/><circle cx="505.9" cy="802.0" r="0.74" fill="#929292"/><circle cx="515.7" cy="845.4" r="0.49" fill="#6e6e6e"/><circle cx="563.7" cy="849.6" r="0.73" fill="#929292"/><circle cx="571.8" cy="792.7" r="0.62" fill="#8c8c8c"/><circle cx="510.5" cy="869.5" r="0.46" fill="#7f7f7f"/><circle cx="550.3" cy="826.5" r="0.68" fill="#8a8a8a"/><circle cx="574.6" cy="870.7" r="0.68" fill="#636363"/><circle cx="580.9" cy="796.7" r="0.54" fill="#717171"/><circle cx="570.8" cy="811.2" r="0.52" fill="#8b8b8b"/><circle cx="561.5" cy="806.4" r="0.70" fill="#888888"/><circle cx="499.1" cy="851.0" r="0.47" fill="#969696"/><circle cx="526.2" cy="819.2" r="0.71" fill="#5f5f5f"/><circle cx="541.8" cy="871.8" r="0.67" fill="#7e7e7e"/><circle cx="508.6" cy="849.5" r="0.46" fill="#979797"/><circle cx="502.5" cy="857.6" r="0.53" fill="#888888"/><circle cx="546.5" cy="792.7" r="0.50" fill="#7a7a7a"/><circle cx="517.4" cy="807.5" r="0.52" fill="#888888"/><circle cx="512.7" cy="855.3" r="0.49" fill="#747474"/><circle cx="576.2" cy="868.7" r="0.55" fill="#9b9b9b"/><circle cx="542.9" cy="810.4" r="0.61" fill="#626262"/><circle cx="519.1" cy="808.2" r="0.63" fill="#7e7e7e"/><circle cx="493.3" cy="790.7" r="0.70" fill="#626262"/><circle cx="532.5" cy="852.7" r="0.54" fill="#6b6b6b"/><circle cx="576.7" cy="816.3" r="0.60" fill="#787878"/><circle cx="493.7" cy="786.4" r="0.57" fill="#808080"/><circle cx="569.7" cy="863.5" r="0.64" fill="#6c6c6c"/><circle cx="526.1" cy="803.9" r="0.62" fill="#646464"/><circle cx="498.7" cy="822.9" r="0.69" fill="#8f8f8f"/><circle cx="547.5" cy="858.9" r="0.77" fill="#7f7f7f"/><circle cx="573.8" cy="805.5" r="0.64" fill="#5f5f5f"/><circle cx="537.8" cy="799.5" r="0.72" fill="#626262"/><circle cx="546.2" cy="799.0" r="0.79" fill="#919191"/><circle cx="556.2" cy="851.0" r="0.56" fill="#909090"/><circle cx="563.7" cy="785.4" r="0.47" fill="#626262"/><circle cx="528.6" cy="791.6" r="0.62" fill="#6f6f6f"/><circle cx="572.5" cy="786.8" r="0.47" fill="#707070"/><circle cx="531.7" cy="840.3" r="0.75" fill="#7a7a7a"/><circle cx="534.9" cy="856.6" r="0.54" fill="#939393"/><circle cx="549.5" cy="846.7" r="0.67" fill="#616161"/><circle cx="495.4" cy="835.4" r="0.54" fill="#838383"/><circle cx="532.6" cy="783.0" r="0.48" fill="#787878"/><circle cx="557.3" cy="840.7" r="0.52" fill="#6e6e6e"/><circle cx="569.0" cy="828.0" r="0.66" fill="#737373"/><circle cx="576.1" cy="842.5" r="0.57" fill="#606060"/><circle cx="508.3" cy="864.3" r="0.63" fill="#797979"/><circle cx="558.1" cy="864.7" r="0.52" fill="#616161"/><circle cx="563.1" cy="849.2" r="0.61" fill="#767676"/><circle cx="550.8" cy="801.0" r="0.60" fill="#6c6c6c"/><circle cx="547.0" cy="820.8" r="0.56" fill="#909090"/><circle cx="495.6" cy="851.8" r="0.67" fill="#828282"/><circle cx="530.7" cy="817.4" r="0.76" fill="#929292"/><circle cx="562.6" cy="819.9" r="0.68" fill="#8e8e8e"/><circle cx="508.8" cy="803.3" r="0.66" fill="#858585"/><circle cx="550.1" cy="845.5" r="0.60" fill="#888888"/><circle cx="515.7" cy="838.9" r="0.48" fill="#848484"/><circle cx="581.3" cy="814.1" r="0.70" fill="#606060"/><circle cx="567.8" cy="814.4" r="0.60" fill="#646464"/><circle cx="546.0" cy="802.6" r="0.59" fill="#6b6b6b"/><circle cx="558.9" cy="822.9" r="0.62" fill="#626262"/><circle cx="566.0" cy="861.6" r="0.59" fill="#848484"/><circle cx="581.1" cy="849.6" r="0.57" fill="#767676"/><circle cx="542.7" cy="805.5" r="0.70" fill="#828282"/><circle cx="526.2" cy="796.5" r="0.46" fill="#8f8f8f"/><circle cx="562.1" cy="812.5" r="0.70" fill="#9b9b9b"/><circle cx="489.1" cy="853.9" r="0.57" fill="#7e7e7e"/><circle cx="518.5" cy="869.8" r="0.73" fill="#7e7e7e"/><circle cx="550.8" cy="809.1" r="0.73" fill="#797979"/><circle cx="552.0" cy="790.8" r="0.47" fill="#7c7c7c"/><circle cx="538.0" cy="876.4" r="0.65" fill="#717171"/><circle cx="520.9" cy="854.1" r="0.48" fill="#727272"/><circle cx="539.5" cy="797.5" r="0.58" fill="#6c6c6c"/><circle cx="523.6" cy="807.6" r="0.58" fill="#818181"/><circle cx="536.4" cy="833.1" r="0.59" fill="#787878"/><circle cx="501.3" cy="811.2" r="0.76" fill="#9a9a9a"/><circle cx="545.8" cy="801.2" r="0.46" fill="#999999"/><circle cx="495.2" cy="857.5" r="0.71" fill="#6f6f6f"/><circle cx="489.0" cy="786.9" r="0.65" fill="#898989"/><circle cx="565.8" cy="863.7" r="0.52" fill="#8c8c8c"/><circle cx="521.9" cy="812.2" r="0.73" fill="#989898"/><circle cx="508.0" cy="826.8" r="0.56" fill="#7b7b7b"/><circle cx="575.3" cy="856.9" r="0.55" fill="#7f7f7f"/><circle cx="582.0" cy="802.8" r="0.53" fill="#868686"/><circle cx="517.7" cy="843.4" r="0.77" fill="#919191"/><circle cx="529.3" cy="822.7" r="0.74" fill="#999999"/><circle cx="544.0" cy="854.6" r="0.62" fill="#858585"/><circle cx="555.0" cy="802.1" r="0.76" fill="#969696"/><circle cx="569.2" cy="827.3" r="0.47" fill="#7e7e7e"/><circle cx="556.1" cy="785.9" r="0.69" fill="#636363"/><circle cx="560.8" cy="846.6" r="0.78" fill="#606060"/><circle cx="496.2" cy="785.6" r="0.57" fill="#7e7e7e"/><circle cx="544.7" cy="864.0" r="0.47" fill="#656565"/><circle cx="527.2" cy="868.5" r="0.67" fill="#828282"/><circle cx="513.2" cy="845.3" r="0.69" fill="#737373"/><circle cx="492.2" cy="856.1" r="0.53" fill="#606060"/><circle cx="521.2" cy="815.9" r="0.54" fill="#717171"/><circle cx="515.8" cy="782.8" r="0.58" fill="#797979"/><circle cx="544.0" cy="807.1" r="0.49" fill="#959595"/><circle cx="496.3" cy="846.3" r="0.52" fill="#818181"/><circle cx="572.3" cy="853.6" r="0.67" fill="#898989"/><circle cx="529.7" cy="850.2" r="0.54" fill="#939393"/><circle cx="524.5" cy="829.7" r="0.61" fill="#808080"/><circle cx="542.3" cy="877.0" r="0.73" fill="#959595"/><circle cx="508.5" cy="783.5" r="0.56" fill="#616161"/><circle cx="549.3" cy="785.2" r="0.61" fill="#808080"/><circle cx="505.4" cy="864.6" r="0.74" fill="#8a8a8a"/><circle cx="531.5" cy="817.0" r="0.78" fill="#646464"/><circle cx="525.2" cy="834.4" r="0.76" fill="#888888"/><circle cx="575.2" cy="861.4" r="0.48" fill="#6e6e6e"/><circle cx="538.4" cy="813.6" r="0.60" fill="#828282"/><circle cx="516.8" cy="864.0" r="0.63" fill="#636363"/><circle cx="538.2" cy="792.2" r="0.75" fill="#929292"/><circle cx="524.5" cy="842.7" r="0.49" fill="#828282"/><circle cx="582.2" cy="867.2" r="0.66" fill="#818181"/><circle cx="543.9" cy="837.2" r="0.51" fill="#7c7c7c"/><circle cx="558.6" cy="804.6" r="0.62" fill="#9a9a9a"/><circle cx="530.0" cy="833.5" r="0.57" fill="#838383"/><circle cx="575.7" cy="840.3" r="0.45" fill="#8d8d8d"/><circle cx="550.2" cy="801.9" r="0.48" fill="#8f8f8f"/><circle cx="516.9" cy="798.4" r="0.76" fill="#808080"/><circle cx="496.7" cy="842.4" r="0.54" fill="#939393"/><circle cx="563.6" cy="802.8" r="0.51" fill="#757575"/><circle cx="490.3" cy="857.8" r="0.50" fill="#6b6b6b"/><circle cx="548.0" cy="852.3" r="0.76" fill="#888888"/><circle cx="579.2" cy="812.2" r="0.54" fill="#939393"/><circle cx="558.4" cy="812.0" r="0.49" fill="#5f5f5f"/><circle cx="577.0" cy="785.6" r="0.65" fill="#777777"/><circle cx="571.6" cy="844.3" r="0.59" fill="#888888"/><circle cx="504.8" cy="828.8" r="0.79" fill="#6e6e6e"/><circle cx="543.8" cy="807.3" r="0.52" fill="#646464"/><circle cx="493.3" cy="799.3" r="0.53" fill="#717171"/><circle cx="577.0" cy="845.1" r="0.49" fill="#878787"/><circle cx="551.4" cy="841.5" r="0.58" fill="#8c8c8c"/><circle cx="517.8" cy="782.1" r="0.59" fill="#848484"/><circle cx="523.9" cy="832.3" r="0.47" fill="#606060"/><circle cx="521.6" cy="839.8" r="0.65" fill="#777777"/><circle cx="501.3" cy="838.2" r="0.77" fill="#6a6a6a"/><circle cx="506.6" cy="782.5" r="0.68" fill="#888888"/><circle cx="541.4" cy="804.3" r="0.52" fill="#8d8d8d"/><circle cx="491.1" cy="833.4" r="0.79" fill="#676767"/><circle cx="505.2" cy="826.2" r="0.75" fill="#868686"/><circle cx="523.1" cy="797.0" r="0.58" fill="#979797"/><circle cx="492.0" cy="860.5" r="0.50" fill="#696969"/><circle cx="546.2" cy="867.3" r="0.53" fill="#888888"/><circle cx="523.6" cy="789.7" r="0.47" fill="#959595"/><circle cx="519.9" cy="876.1" r="0.73" fill="#848484"/><circle cx="497.8" cy="808.9" r="0.52" fill="#666666"/><circle cx="529.0" cy="788.5" r="0.63" fill="#636363"/><circle cx="503.2" cy="832.7" r="0.58" fill="#686868"/><circle cx="523.4" cy="853.0" r="0.48" fill="#5f5f5f"/><circle cx="532.6" cy="785.2" r="0.67" fill="#6b6b6b"/><circle cx="564.6" cy="871.0" r="0.60" fill="#919191"/><circle cx="543.5" cy="819.0" r="0.64" fill="#9b9b9b"/><circle cx="550.9" cy="796.8" r="0.73" fill="#979797"/><circle cx="522.8" cy="849.1" r="0.77" fill="#616161"/><circle cx="512.4" cy="809.8" r="0.54" fill="#919191"/><circle cx="496.5" cy="851.7" r="0.68" fill="#878787"/><circle cx="524.8" cy="863.1" r="0.72" fill="#666666"/><circle cx="540.6" cy="793.0" r="0.60" fill="#8a8a8a"/><circle cx="521.8" cy="839.4" r="0.79" fill="#989898"/><circle cx="571.7" cy="866.6" r="0.55" fill="#6d6d6d"/><circle cx="567.7" cy="844.2" r="0.79" fill="#686868"/><circle cx="512.0" cy="829.0" r="0.48" fill="#909090"/><circle cx="562.1" cy="787.4" r="0.67" fill="#707070"/><circle cx="507.1" cy="872.9" r="0.59" fill="#707070"/><circle cx="530.1" cy="863.5" r="0.80" fill="#6f6f6f"/><circle cx="505.0" cy="829.9" r="0.66" fill="#818181"/><circle cx="568.7" cy="800.4" r="0.64" fill="#747474"/><circle cx="557.6" cy="792.4" r="0.69" fill="#878787"/><circle cx="518.6" cy="807.8" r="0.80" fill="#878787"/><circle cx="489.6" cy="822.7" r="0.77" fill="#929292"/><circle cx="533.3" cy="850.6" r="0.75" fill="#9a9a9a"/><circle cx="551.7" cy="807.1" r="0.65" fill="#6e6e6e"/><circle cx="517.1" cy="852.5" r="0.61" fill="#8a8a8a"/><circle cx="546.5" cy="869.0" r="0.68" fill="#6b6b6b"/><circle cx="499.1" cy="838.8" r="0.69" fill="#797979"/><circle cx="526.8" cy="799.0" r="0.71" fill="#838383"/><circle cx="551.8" cy="815.8" r="0.68" fill="#767676"/><circle cx="496.5" cy="784.8" r="0.61" fill="#939393"/><circle cx="511.6" cy="805.9" r="0.61" fill="#949494"/><circle cx="522.8" cy="792.2" r="0.67" fill="#606060"/><circle cx="532.8" cy="791.1" r="0.66" fill="#959595"/><circle cx="493.1" cy="832.3" r="0.49" fill="#858585"/><circle cx="554.4" cy="863.8" r="0.77" fill="#767676"/><circle cx="551.6" cy="851.2" r="0.76" fill="#828282"/><circle cx="548.4" cy="804.5" r="0.47" fill="#818181"/><circle cx="580.8" cy="808.9" r="0.72" fill="#878787"/><circle cx="527.8" cy="801.6" r="0.60" fill="#959595"/><circle cx="512.3" cy="839.0" r="0.63" fill="#7f7f7f"/><circle cx="512.6" cy="833.0" r="0.58" fill="#767676"/><circle cx="552.6" cy="876.3" r="0.73" fill="#717171"/><circle cx="494.1" cy="839.7" r="0.60" fill="#707070"/><circle cx="525.0" cy="869.6" r="0.62" fill="#787878"/><circle cx="552.6" cy="863.3" r="0.48" fill="#666666"/><circle cx="491.5" cy="819.7" r="0.48" fill="#8a8a8a"/><circle cx="578.7" cy="823.9" r="0.65" fill="#656565"/><circle cx="544.9" cy="854.6" r="0.61" fill="#717171"/><circle cx="516.9" cy="818.2" r="0.77" fill="#8d8d8d"/><circle cx="488.1" cy="866.3" r="0.62" fill="#676767"/><circle cx="502.6" cy="792.3" r="0.76" fill="#8d8d8d"/><circle cx="493.2" cy="846.1" r="0.52" fill="#7b7b7b"/><circle cx="504.6" cy="875.4" r="0.55" fill="#626262"/><circle cx="519.2" cy="795.2" r="0.72" fill="#656565"/><circle cx="540.2" cy="874.9" r="0.57" fill="#787878"/><circle cx="573.6" cy="857.1" r="0.52" fill="#616161"/><circle cx="574.7" cy="798.5" r="0.62" fill="#727272"/><circle cx="575.2" cy="801.4" r="0.68" fill="#636363"/><circle cx="527.3" cy="796.5" r="0.61" fill="#6a6a6a"/><circle cx="517.8" cy="850.8" r="0.77" fill="#919191"/><circle cx="580.7" cy="859.6" r="0.53" fill="#959595"/><circle cx="539.6" cy="872.4" r="0.75" fill="#6e6e6e"/><circle cx="503.5" cy="830.9" r="0.76" fill="#858585"/><circle cx="558.5" cy="854.1" r="0.57" fill="#797979"/><circle cx="570.6" cy="871.2" r="0.53" fill="#636363"/><circle cx="498.4" cy="790.6" r="0.51" fill="#939393"/><circle cx="527.5" cy="862.5" r="0.62" fill="#6b6b6b"/><circle cx="522.5" cy="798.3" r="0.79" fill="#858585"/><circle cx="510.8" cy="790.0" r="0.63" fill="#808080"/><circle cx="546.0" cy="855.2" r="0.66" fill="#979797"/><circle cx="562.3" cy="822.8" r="0.53" fill="#767676"/><circle cx="574.7" cy="856.3" r="0.49" fill="#6f6f6f"/><circle cx="520.9" cy="815.1" r="0.75" fill="#929292"/><circle cx="553.2" cy="796.1" r="0.55" fill="#8a8a8a"/><circle cx="548.8" cy="805.5" r="0.56" fill="#656565"/><circle cx="580.3" cy="798.0" r="0.77" fill="#848484"/><circle cx="523.4" cy="792.6" r="0.50" fill="#878787"/><circle cx="538.1" cy="841.7" r="0.64" fill="#909090"/><circle cx="560.0" cy="803.0" r="0.76" fill="#757575"/><circle cx="554.3" cy="871.7" r="0.73" fill="#9a9a9a"/><circle cx="527.8" cy="808.1" r="0.71" fill="#606060"/><circle cx="507.1" cy="836.0" r="0.72" fill="#7e7e7e"/><circle cx="505.4" cy="792.9" r="0.48" fill="#919191"/><circle cx="559.0" cy="834.5" r="0.53" fill="#7c7c7c"/><circle cx="544.6" cy="812.0" r="0.46" fill="#797979"/><circle cx="529.2" cy="806.1" r="0.50" fill="#868686"/><circle cx="575.7" cy="864.6" r="0.65" fill="#676767"/><circle cx="519.9" cy="841.7" r="0.51" fill="#888888"/><circle cx="496.4" cy="790.3" r="0.59" fill="#696969"/><circle cx="515.8" cy="811.8" r="0.55" fill="#717171"/><circle cx="579.0" cy="854.0" r="0.68" fill="#7d7d7d"/><circle cx="499.8" cy="811.4" r="0.49" fill="#808080"/><circle cx="538.0" cy="821.0" r="0.63" fill="#8c8c8c"/><circle cx="573.1" cy="839.6" r="0.74" fill="#8f8f8f"/><circle cx="566.4" cy="790.2" r="0.50" fill="#626262"/><circle cx="569.9" cy="873.6" r="0.72" fill="#666666"/><circle cx="529.2" cy="826.0" r="0.65" fill="#707070"/><circle cx="547.5" cy="839.8" r="0.49" fill="#747474"/><circle cx="564.3" cy="781.5" r="0.64" fill="#646464"/><circle cx="574.0" cy="801.7" r="0.57" fill="#888888"/><circle cx="561.0" cy="838.0" r="0.68" fill="#797979"/><circle cx="518.6" cy="844.1" r="0.60" fill="#616161"/><circle cx="511.7" cy="846.1" r="0.49" fill="#676767"/><circle cx="544.4" cy="835.7" r="0.64" fill="#7e7e7e"/><circle cx="487.3" cy="876.0" r="0.74" fill="#777777"/><circle cx="547.3" cy="827.0" r="0.68" fill="#7b7b7b"/><circle cx="504.1" cy="853.8" r="0.74" fill="#9a9a9a"/><circle cx="543.3" cy="843.3" r="0.58" fill="#7a7a7a"/><circle cx="509.2" cy="867.6" r="0.77" fill="#7d7d7d"/><circle cx="568.1" cy="868.4" r="0.48" fill="#717171"/><circle cx="549.4" cy="850.4" r="0.72" fill="#7a7a7a"/><circle cx="579.4" cy="784.0" r="0.72" fill="#919191"/><circle cx="530.8" cy="847.0" r="0.70" fill="#737373"/><circle cx="580.5" cy="848.2" r="0.50" fill="#808080"/><circle cx="524.2" cy="815.8" r="0.46" fill="#646464"/><circle cx="573.1" cy="845.5" r="0.53" fill="#757575"/><circle cx="489.9" cy="811.7" r="0.58" fill="#727272"/><circle cx="562.6" cy="787.0" r="0.69" fill="#868686"/><circle cx="523.7" cy="798.3" r="0.49" fill="#5f5f5f"/><circle cx="529.7" cy="854.8" r="0.52" fill="#939393"/><circle cx="563.1" cy="789.4" r="0.52" fill="#737373"/><circle cx="532.2" cy="790.1" r="0.74" fill="#616161"/><circle cx="530.5" cy="815.4" r="0.62" fill="#919191"/><circle cx="580.2" cy="870.9" r="0.47" fill="#727272"/><circle cx="544.8" cy="873.3" r="0.78" fill="#696969"/><circle cx="569.0" cy="812.9" r="0.78" fill="#6d6d6d"/><circle cx="498.7" cy="810.4" r="0.60" fill="#949494"/><circle cx="543.5" cy="812.0" r="0.48" fill="#797979"/><circle cx="570.3" cy="830.2" r="0.47" fill="#717171"/><circle cx="574.8" cy="858.7" r="0.59" fill="#636363"/><circle cx="544.2" cy="859.9" r="0.47" fill="#6e6e6e"/><circle cx="525.8" cy="838.7" r="0.60" fill="#7e7e7e"/><circle cx="493.1" cy="786.3" r="0.59" fill="#818181"/><circle cx="515.1" cy="870.0" r="0.64" fill="#767676"/><circle cx="488.6" cy="846.0" r="0.57" fill="#7e7e7e"/><circle cx="563.6" cy="790.3" r="0.67" fill="#5f5f5f"/><circle cx="515.5" cy="809.9" r="0.49" fill="#606060"/><circle cx="564.3" cy="838.4" r="0.71" fill="#606060"/><circle cx="521.7" cy="823.9" r="0.63" fill="#606060"/><circle cx="527.3" cy="819.9" r="0.74" fill="#888888"/><circle cx="534.5" cy="814.3" r="0.71" fill="#7f7f7f"/><circle cx="524.6" cy="874.2" r="0.69" fill="#919191"/><circle cx="556.8" cy="846.0" r="0.61" fill="#818181"/><circle cx="573.3" cy="861.5" r="0.63" fill="#959595"/><circle cx="575.6" cy="861.2" r="0.74" fill="#818181"/><circle cx="544.6" cy="868.4" r="0.47" fill="#7d7d7d"/><circle cx="499.8" cy="782.1" r="0.65" fill="#989898"/><circle cx="541.2" cy="795.2" r="0.71" fill="#7e7e7e"/><circle cx="497.8" cy="842.1" r="0.74" fill="#7a7a7a"/><circle cx="487.7" cy="802.9" r="0.71" fill="#979797"/><circle cx="553.6" cy="855.8" r="0.79" fill="#797979"/><circle cx="555.2" cy="851.5" r="0.47" fill="#9a9a9a"/><circle cx="554.4" cy="788.8" r="0.60" fill="#6e6e6e"/><circle cx="519.5" cy="791.4" r="0.76" fill="#9a9a9a"/><circle cx="531.5" cy="858.7" r="0.49" fill="#828282"/><circle cx="551.7" cy="791.9" r="0.57" fill="#797979"/><circle cx="536.5" cy="831.7" r="0.50" fill="#727272"/><circle cx="577.4" cy="870.6" r="0.77" fill="#949494"/><circle cx="538.0" cy="849.2" r="0.52" fill="#999999"/><circle cx="548.9" cy="839.5" r="0.57" fill="#717171"/><circle cx="517.0" cy="783.3" r="0.48" fill="#6c6c6c"/><circle cx="582.3" cy="872.6" r="0.78" fill="#898989"/><circle cx="509.8" cy="804.6" r="0.73" fill="#989898"/><circle cx="571.1" cy="833.9" r="0.61" fill="#707070"/><circle cx="580.5" cy="850.1" r="0.62" fill="#8e8e8e"/><circle cx="520.8" cy="868.5" r="0.72" fill="#808080"/><circle cx="545.0" cy="848.5" r="0.71" fill="#676767"/><circle cx="501.1" cy="874.4" r="0.52" fill="#6d6d6d"/><circle cx="558.6" cy="792.5" r="0.46" fill="#8b8b8b"/><circle cx="567.9" cy="862.7" r="0.74" fill="#838383"/><circle cx="552.5" cy="865.9" r="0.78" fill="#8e8e8e"/><circle cx="567.6" cy="785.6" r="0.47" fill="#8d8d8d"/><circle cx="559.3" cy="785.9" r="0.65" fill="#8a8a8a"/><circle cx="530.0" cy="846.1" r="0.68" fill="#8b8b8b"/><circle cx="528.9" cy="787.1" r="0.79" fill="#8f8f8f"/><circle cx="573.6" cy="850.7" r="0.73" fill="#7c7c7c"/><circle cx="577.7" cy="795.8" r="0.60" fill="#939393"/><circle cx="539.7" cy="791.8" r="0.45" fill="#787878"/><circle cx="575.4" cy="861.4" r="0.50" fill="#797979"/><circle cx="565.9" cy="838.0" r="0.50" fill="#929292"/><circle cx="489.0" cy="864.5" r="0.66" fill="#8d8d8d"/><circle cx="516.5" cy="798.2" r="0.48" fill="#878787"/><circle cx="493.9" cy="845.0" r="0.47" fill="#8a8a8a"/><circle cx="539.9" cy="786.4" r="0.61" fill="#7e7e7e"/><circle cx="564.7" cy="873.3" r="0.73" fill="#7c7c7c"/><circle cx="531.2" cy="782.8" r="0.67" fill="#878787"/><circle cx="503.3" cy="861.6" r="0.58" fill="#626262"/><circle cx="487.5" cy="861.0" r="0.67" fill="#7e7e7e"/><circle cx="544.1" cy="863.1" r="0.72" fill="#6c6c6c"/><circle cx="531.5" cy="867.4" r="0.59" fill="#5f5f5f"/><circle cx="540.3" cy="869.3" r="0.47" fill="#838383"/><circle cx="525.0" cy="807.7" r="0.69" fill="#656565"/><circle cx="542.4" cy="852.7" r="0.71" fill="#646464"/><circle cx="544.5" cy="821.9" r="0.73" fill="#747474"/><circle cx="546.8" cy="846.9" r="0.65" fill="#727272"/><circle cx="508.8" cy="782.8" r="0.56" fill="#989898"/><circle cx="553.2" cy="813.9" r="0.75" fill="#868686"/><circle cx="512.6" cy="832.6" r="0.47" fill="#757575"/><circle cx="573.0" cy="872.6" r="0.72" fill="#929292"/><circle cx="554.4" cy="838.4" r="0.75" fill="#8e8e8e"/><circle cx="523.3" cy="814.6" r="0.54" fill="#656565"/><circle cx="567.8" cy="876.2" r="0.72" fill="#696969"/><circle cx="566.5" cy="791.8" r="0.60" fill="#7c7c7c"/><circle cx="499.9" cy="874.2" r="0.63" fill="#707070"/><circle cx="492.7" cy="823.6" r="0.74" fill="#8e8e8e"/><circle cx="551.4" cy="806.3" r="0.53" fill="#727272"/><circle cx="530.7" cy="822.3" r="0.75" fill="#989898"/><circle cx="541.1" cy="801.4" r="0.71" fill="#8c8c8c"/><circle cx="511.4" cy="860.3" r="0.48" fill="#848484"/><circle cx="565.0" cy="827.6" r="0.63" fill="#8b8b8b"/><circle cx="499.2" cy="850.1" r="0.63" fill="#5f5f5f"/><circle cx="566.4" cy="794.0" r="0.75" fill="#909090"/><circle cx="565.7" cy="828.9" r="0.61" fill="#606060"/><circle cx="530.2" cy="807.1" r="0.68" fill="#5f5f5f"/><circle cx="576.0" cy="846.4" r="0.49" fill="#8d8d8d"/><circle cx="504.0" cy="821.1" r="0.70" fill="#949494"/><circle cx="542.7" cy="821.0" r="0.63" fill="#707070"/><circle cx="570.1" cy="847.3" r="0.55" fill="#646464"/><circle cx="561.2" cy="816.5" r="0.52" fill="#5f5f5f"/><circle cx="496.6" cy="790.1" r="0.80" fill="#909090"/><circle cx="543.7" cy="787.4" r="0.51" fill="#626262"/><circle cx="554.9" cy="813.4" r="0.59" fill="#717171"/><circle cx="513.1" cy="789.5" r="0.46" fill="#959595"/><circle cx="489.7" cy="828.7" r="0.60" fill="#767676"/><circle cx="539.7" cy="865.8" r="0.56" fill="#6b6b6b"/><circle cx="538.2" cy="791.3" r="0.46" fill="#858585"/><circle cx="546.6" cy="830.7" r="0.54" fill="#676767"/><circle cx="509.4" cy="847.2" r="0.74" fill="#8d8d8d"/><circle cx="506.5" cy="809.7" r="0.63" fill="#7e7e7e"/><circle cx="575.1" cy="869.9" r="0.64" fill="#626262"/><circle cx="565.9" cy="862.9" r="0.53" fill="#696969"/><circle cx="515.4" cy="785.5" r="0.76" fill="#757575"/><circle cx="570.5" cy="864.4" r="0.47" fill="#9b9b9b"/><circle cx="528.7" cy="840.4" r="0.68" fill="#656565"/><circle cx="521.6" cy="810.0" r="0.49" fill="#656565"/><circle cx="564.7" cy="806.5" r="0.74" fill="#6e6e6e"/><circle cx="542.4" cy="860.3" r="0.54" fill="#818181"/><circle cx="540.3" cy="832.8" r="0.70" fill="#9b9b9b"/><circle cx="500.7" cy="827.9" r="0.79" fill="#666666"/><circle cx="533.3" cy="808.4" r="0.64" fill="#646464"/><circle cx="536.0" cy="814.3" r="0.75" fill="#808080"/><circle cx="498.6" cy="871.0" r="0.75" fill="#979797"/><circle cx="556.3" cy="875.4" r="0.53" fill="#636363"/><circle cx="556.8" cy="871.6" r="0.52" fill="#5f5f5f"/><circle cx="510.3" cy="826.5" r="0.57" fill="#959595"/><circle cx="545.3" cy="827.0" r="0.49" fill="#888888"/><circle cx="488.4" cy="808.6" r="0.46" fill="#6f6f6f"/><circle cx="548.9" cy="858.1" r="0.74" fill="#676767"/><circle cx="543.3" cy="824.7" r="0.59" fill="#808080"/><circle cx="489.7" cy="864.5" r="0.69" fill="#929292"/><circle cx="550.8" cy="866.3" r="0.52" fill="#7e7e7e"/><circle cx="566.8" cy="858.6" r="0.53" fill="#757575"/><circle cx="506.4" cy="824.0" r="0.61" fill="#7b7b7b"/><circle cx="581.9" cy="809.1" r="0.60" fill="#969696"/><circle cx="579.9" cy="809.5" r="0.52" fill="#909090"/><circle cx="575.9" cy="807.4" r="0.67" fill="#636363"/><circle cx="582.0" cy="866.5" r="0.65" fill="#868686"/><circle cx="501.0" cy="835.9" r="0.47" fill="#7c7c7c"/><circle cx="582.5" cy="853.8" r="0.62" fill="#6c6c6c"/><circle cx="558.1" cy="863.2" r="0.61" fill="#7b7b7b"/><circle cx="563.5" cy="872.1" r="0.49" fill="#868686"/><circle cx="526.2" cy="795.3" r="0.61" fill="#636363"/><circle cx="500.2" cy="830.1" r="0.68" fill="#656565"/><circle cx="500.2" cy="860.7" r="0.66" fill="#969696"/><circle cx="529.8" cy="846.6" r="0.74" fill="#999999"/><circle cx="567.8" cy="837.4" r="0.68" fill="#878787"/><circle cx="539.4" cy="783.6" r="0.57" fill="#656565"/><circle cx="568.2" cy="871.8" r="0.66" fill="#6f6f6f"/><circle cx="502.3" cy="802.2" r="0.57" fill="#959595"/><circle cx="576.5" cy="801.2" r="0.52" fill="#606060"/><circle cx="526.6" cy="790.3" r="0.74" fill="#787878"/><circle cx="501.8" cy="782.9" r="0.65" fill="#6e6e6e"/><circle cx="504.9" cy="800.6" r="0.79" fill="#808080"/><circle cx="513.9" cy="839.5" r="0.55" fill="#8f8f8f"/><circle cx="506.0" cy="852.6" r="0.73" fill="#6c6c6c"/><circle cx="572.8" cy="814.5" r="0.78" fill="#848484"/><circle cx="489.5" cy="857.7" r="0.46" fill="#8d8d8d"/><circle cx="497.9" cy="785.2" r="0.66" fill="#6e6e6e"/><circle cx="493.4" cy="799.7" r="0.69" fill="#989898"/><circle cx="559.6" cy="807.6" r="0.58" fill="#9a9a9a"/><circle cx="487.1" cy="841.6" r="0.70" fill="#6a6a6a"/><circle cx="545.1" cy="871.0" r="0.67" fill="#848484"/><circle cx="546.3" cy="791.0" r="0.66" fill="#717171"/><circle cx="510.8" cy="842.9" r="0.75" fill="#8d8d8d"/><circle cx="570.9" cy="845.1" r="0.53" fill="#666666"/><circle cx="528.8" cy="862.5" r="0.64" fill="#808080"/><circle cx="572.7" cy="860.0" r="0.46" fill="#696969"/><circle cx="540.7" cy="834.3" r="0.53" fill="#666666"/><circle cx="542.4" cy="811.3" r="0.49" fill="#9a9a9a"/><circle cx="515.2" cy="836.5" r="0.63" fill="#7c7c7c"/><circle cx="532.3" cy="873.0" r="0.66" fill="#8b8b8b"/><circle cx="508.9" cy="808.1" r="0.52" fill="#6b6b6b"/><circle cx="550.6" cy="798.6" r="0.70" fill="#848484"/><circle cx="548.8" cy="838.9" r="0.67" fill="#7d7d7d"/><circle cx="532.3" cy="794.9" r="0.63" fill="#808080"/><circle cx="553.2" cy="802.0" r="0.71" fill="#848484"/><circle cx="576.7" cy="810.1" r="0.54" fill="#8f8f8f"/><circle cx="560.9" cy="809.0" r="0.58" fill="#7a7a7a"/><circle cx="534.4" cy="866.8" r="0.64" fill="#757575"/><circle cx="578.8" cy="875.5" r="0.62" fill="#747474"/><circle cx="546.8" cy="818.2" r="0.48" fill="#606060"/><circle cx="517.5" cy="853.5" r="0.75" fill="#6d6d6d"/><circle cx="562.3" cy="823.2" r="0.71" fill="#858585"/><circle cx="567.6" cy="845.8" r="0.58" fill="#959595"/><circle cx="540.9" cy="790.1" r="0.69" fill="#8c8c8c"/><circle cx="491.8" cy="827.4" r="0.70" fill="#8e8e8e"/><circle cx="503.0" cy="830.4" r="0.58" fill="#696969"/><circle cx="489.6" cy="796.1" r="0.73" fill="#6a6a6a"/><circle cx="503.4" cy="830.9" r="0.80" fill="#646464"/><circle cx="549.7" cy="824.7" r="0.64" fill="#6b6b6b"/><circle cx="574.4" cy="824.4" r="0.67" fill="#7c7c7c"/><circle cx="580.5" cy="863.3" r="0.58" fill="#717171"/><circle cx="570.7" cy="792.3" r="0.64" fill="#7d7d7d"/><circle cx="565.7" cy="781.7" r="0.65" fill="#7a7a7a"/><circle cx="518.1" cy="872.9" r="0.66" fill="#707070"/><circle cx="519.8" cy="830.7" r="0.66" fill="#999999"/><circle cx="549.3" cy="828.1" r="0.55" fill="#696969"/><circle cx="529.6" cy="801.4" r="0.53" fill="#757575"/><circle cx="544.9" cy="807.3" r="0.67" fill="#7d7d7d"/><circle cx="548.1" cy="870.8" r="0.51" fill="#868686"/><circle cx="581.0" cy="833.7" r="0.57" fill="#6f6f6f"/><circle cx="528.8" cy="876.0" r="0.62" fill="#6f6f6f"/><circle cx="545.5" cy="841.0" r="0.58" fill="#7b7b7b"/><circle cx="524.9" cy="821.9" r="0.50" fill="#999999"/><circle cx="539.7" cy="835.1" r="0.78" fill="#8e8e8e"/><circle cx="505.7" cy="815.5" r="0.49" fill="#808080"/><circle cx="492.1" cy="859.8" r="0.55" fill="#606060"/><circle cx="562.9" cy="870.2" r="0.49" fill="#7c7c7c"/><circle cx="488.9" cy="797.2" r="0.45" fill="#626262"/><circle cx="524.6" cy="826.8" r="0.74" fill="#868686"/><circle cx="549.4" cy="863.3" r="0.66" fill="#999999"/><polyline points="561.6,831.5 560.7,831.6 559.7,830.9 558.4,830.8" fill="none" stroke="#5b5b5b" stroke-width="1.2" stroke-linecap="round" stroke-linejoin="round"/><ellipse cx="560.6" cy="831.5" rx="0.9" ry="0.4" fill="#4c4c4c" transform="rotate(129 560.6 831.5)"/><ellipse cx="560.3" cy="831.5" rx="0.5" ry="0.7" fill="#474747" transform="rotate(8 560.3 831.5)"/><ellipse cx="560.0" cy="832.2" rx="0.8" ry="0.5" fill="#424242" transform="rotate(64 560.0 832.2)"/><polyline points="551.5,849.1 552.3,849.0 553.1,847.5" fill="none" stroke="#5a5a5a" stroke-width="1.4" stroke-linecap="round" stroke-linejoin="round"/><polyline points="550.8,847.7 550.6,846.5 550.4,845.0 551.2,843.7 551.3,842.1" fill="none" stroke="#2e2e2e" stroke-width="1.5" stroke-linecap="round" stroke-linejoin="round"/><ellipse cx="551.5" cy="848.5" rx="0.9" ry="0.4" fill="#373737" transform="rotate(94 551.5 848.5)"/><ellipse cx="550.0" cy="848.1" rx="1.1" ry="0.5" fill="#686868" transform="rotate(2 550.0 848.1)"/><ellipse cx="550.7" cy="847.3" rx="0.6" ry="0.6" fill="#4b4b4b" transform="rotate(176 550.7 847.3)"/><ellipse cx="551.0" cy="847.8" rx="1.0" ry="0.6" fill="#454545" transform="rotate(90 551.0 847.8)"/><ellipse cx="552.1" cy="848.1" rx="0.8" ry="0.4" fill="#656565" transform="rotate(149 552.1 848.1)"/><ellipse cx="550.4" cy="849.2" rx="0.6" ry="0.6" fill="#525252" transform="rotate(175 550.4 849.2)"/><polyline points="545.5,866.0 545.5,867.3 546.1,868.3 545.6,869.5 544.9,870.1" fill="none" stroke="#505050" stroke-width="1.5" stroke-linecap="round" stroke-linejoin="round"/><polyline points="545.4,868.3 546.7,867.1 547.1,866.4" fill="none" stroke="#565656" stroke-width="1.2" stroke-linecap="round" stroke-linejoin="round"/><polyline points="547.8,868.6 546.6,869.6 545.6,869.8 544.0,870.1" fill="none" stroke="#4e4e4e" stroke-width="1.0" stroke-linecap="round" stroke-linejoin="round"/><polyline points="546.0,866.4 546.2,865.0 546.3,863.6 546.7,862.2" fill="none" stroke="#424242" stroke-width="1.2" stroke-linecap="round" stroke-linejoin="round"/><ellipse cx="547.6" cy="865.0" rx="0.6" ry="0.4" fill="#6e6e6e" transform="rotate(176 547.6 865.0)"/><ellipse cx="548.3" cy="865.4" rx="0.9" ry="0.4" fill="#494949" transform="rotate(63 548.3 865.4)"/><ellipse cx="546.4" cy="865.7" rx="0.8" ry="0.5" fill="#464646" transform="rotate(44 546.4 865.7)"/><ellipse cx="546.4" cy="869.0" rx="1.0" ry="0.5" fill="#4b4b4b" transform="rotate(129 546.4 869.0)"/><ellipse cx="545.6" cy="867.2" rx="0.9" ry="0.6" fill="#686868" transform="rotate(141 545.6 867.2)"/><ellipse cx="547.7" cy="864.2" rx="1.1" ry="0.5" fill="#535353" transform="rotate(132 547.7 864.2)"/><ellipse cx="546.3" cy="865.2" rx="1.0" ry="0.5" fill="#5a5a5a" transform="rotate(133 546.3 865.2)"/><ellipse cx="545.9" cy="867.3" rx="1.0" ry="0.6" fill="#595959" transform="rotate(35 545.9 867.3)"/><ellipse cx="549.0" cy="868.0" rx="0.5" ry="0.6" fill="#696969" transform="rotate(4 549.0 868.0)"/><ellipse cx="546.5" cy="865.6" rx="1.1" ry="0.5" fill="#606060" transform="rotate(172 546.5 865.6)"/><polyline points="555.6,866.4 556.9,867.2 558.1,867.1 559.4,867.8 559.7,869.0" fill="none" stroke="#595959" stroke-width="0.9" stroke-linecap="round" stroke-linejoin="round"/><ellipse cx="555.7" cy="866.1" rx="0.9" ry="0.5" fill="#4f4f4f" transform="rotate(17 555.7 866.1)"/><ellipse cx="555.5" cy="866.1" rx="0.6" ry="0.5" fill="#5a5a5a" transform="rotate(16 555.5 866.1)"/><ellipse cx="555.5" cy="865.8" rx="0.9" ry="0.4" fill="#4c4c4c" transform="rotate(119 555.5 865.8)"/></g>
</g>
<rect x="486.8" y="781.2" width="96.6" height="96.2" fill="none" stroke="#1a1a1a" stroke-width="1.6"/>
<line x1="561.0" y1="867.0" x2="578.0" y2="867.0" stroke="#000" stroke-width="2.6" stroke-linecap="butt"/>
</g>
<g>
<rect x="586.0" y="781.0" width="98.1" height="97.8" fill="url(#lg2)"/>
<clipPath id="cp2"><rect x="586.0" y="781.0" width="98.1" height="97.8"/></clipPath>
<g clip-path="url(#cp2)">
<ellipse cx="660.0" cy="861.0" rx="2.5" ry="4.0" fill="#afafaf" filter="url(#blur1)" transform="rotate(0 660.0 861.0)"/>
<g filter="url(#blur2)"><circle cx="609.0" cy="865.2" r="0.63" fill="#676767"/><circle cx="669.1" cy="834.8" r="0.54" fill="#7d7d7d"/><circle cx="610.3" cy="786.1" r="0.64" fill="#797979"/><circle cx="601.3" cy="806.2" r="0.49" fill="#606060"/><circle cx="648.5" cy="825.5" r="0.70" fill="#939393"/><circle cx="673.7" cy="840.3" r="0.68" fill="#717171"/><circle cx="652.4" cy="876.9" r="0.71" fill="#8c8c8c"/><circle cx="610.5" cy="873.2" r="0.69" fill="#6a6a6a"/><circle cx="595.6" cy="792.5" r="0.56" fill="#767676"/><circle cx="623.4" cy="814.1" r="0.58" fill="#696969"/><circle cx="602.2" cy="845.3" r="0.55" fill="#919191"/><circle cx="621.0" cy="850.2" r="0.60" fill="#6c6c6c"/><circle cx="671.5" cy="849.6" r="0.74" fill="#999999"/><circle cx="623.9" cy="825.4" r="0.51" fill="#7c7c7c"/><circle cx="593.6" cy="816.9" r="0.56" fill="#868686"/><circle cx="621.5" cy="874.8" r="0.62" fill="#919191"/><circle cx="627.6" cy="828.5" r="0.74" fill="#878787"/><circle cx="594.8" cy="871.6" r="0.56" fill="#8a8a8a"/><circle cx="646.3" cy="821.6" r="0.78" fill="#7b7b7b"/><circle cx="610.3" cy="832.6" r="0.75" fill="#747474"/><circle cx="620.5" cy="805.3" r="0.64" fill="#898989"/><circle cx="650.2" cy="869.3" r="0.74" fill="#878787"/><circle cx="656.5" cy="829.5" r="0.69" fill="#8a8a8a"/><circle cx="668.2" cy="841.6" r="0.67" fill="#777777"/><circle cx="616.2" cy="799.5" r="0.55" fill="#666666"/><circle cx="622.8" cy="847.0" r="0.71" fill="#999999"/><circle cx="602.3" cy="791.0" r="0.70" fill="#646464"/><circle cx="638.2" cy="846.8" r="0.51" fill="#7a7a7a"/><circle cx="662.4" cy="830.5" r="0.63" fill="#767676"/><circle cx="614.1" cy="848.0" r="0.46" fill="#6b6b6b"/><circle cx="666.5" cy="792.1" r="0.60" fill="#818181"/><circle cx="670.9" cy="850.2" r="0.61" fill="#959595"/><circle cx="677.2" cy="877.8" r="0.64" fill="#8d8d8d"/><circle cx="612.7" cy="796.2" r="0.49" fill="#9b9b9b"/><circle cx="648.7" cy="824.5" r="0.69" fill="#616161"/><circle cx="587.7" cy="836.6" r="0.73" fill="#777777"/><circle cx="633.0" cy="809.4" r="0.72" fill="#808080"/><circle cx="659.2" cy="814.4" r="0.61" fill="#767676"/><circle cx="592.8" cy="785.5" r="0.79" fill="#979797"/><circle cx="616.1" cy="877.6" r="0.47" fill="#929292"/><circle cx="652.5" cy="792.0" r="0.60" fill="#868686"/><circle cx="647.3" cy="791.3" r="0.77" fill="#7b7b7b"/><circle cx="649.9" cy="801.9" r="0.62" fill="#7a7a7a"/><circle cx="609.4" cy="862.2" r="0.70" fill="#8e8e8e"/><circle cx="655.8" cy="797.9" r="0.62" fill="#909090"/><circle cx="645.6" cy="852.3" r="0.72" fill="#8e8e8e"/><circle cx="624.3" cy="819.9" r="0.71" fill="#606060"/><circle cx="653.3" cy="798.2" r="0.76" fill="#8b8b8b"/><circle cx="657.4" cy="864.5" r="0.63" fill="#8b8b8b"/><circle cx="630.8" cy="866.4" r="0.47" fill="#929292"/><circle cx="646.1" cy="829.0" r="0.63" fill="#797979"/><circle cx="673.1" cy="812.3" r="0.77" fill="#7e7e7e"/><circle cx="636.6" cy="785.7" r="0.67" fill="#949494"/><circle cx="624.5" cy="872.1" r="0.62" fill="#656565"/><circle cx="604.5" cy="830.7" r="0.61" fill="#696969"/><circle cx="631.0" cy="829.3" r="0.75" fill="#737373"/><circle cx="591.0" cy="843.8" r="0.68" fill="#6f6f6f"/><circle cx="657.2" cy="846.0" r="0.77" fill="#686868"/><circle cx="676.1" cy="844.2" r="0.61" fill="#8e8e8e"/><circle cx="654.2" cy="859.3" r="0.79" fill="#717171"/><circle cx="657.4" cy="853.7" r="0.66" fill="#666666"/><circle cx="604.6" cy="810.5" r="0.46" fill="#8a8a8a"/><circle cx="646.8" cy="843.0" r="0.48" fill="#767676"/><circle cx="657.0" cy="836.1" r="0.67" fill="#777777"/><circle cx="626.7" cy="863.7" r="0.67" fill="#6d6d6d"/><circle cx="611.8" cy="855.7" r="0.75" fill="#777777"/><circle cx="654.4" cy="801.8" r="0.71" fill="#5f5f5f"/><circle cx="667.0" cy="871.8" r="0.79" fill="#949494"/><circle cx="590.4" cy="797.4" r="0.71" fill="#8f8f8f"/><circle cx="629.1" cy="797.2" r="0.61" fill="#646464"/><circle cx="680.3" cy="869.0" r="0.65" fill="#646464"/><circle cx="642.3" cy="853.8" r="0.65" fill="#959595"/><circle cx="660.0" cy="830.2" r="0.79" fill="#7c7c7c"/><circle cx="626.6" cy="799.2" r="0.79" fill="#747474"/><circle cx="643.5" cy="872.1" r="0.55" fill="#989898"/><circle cx="634.6" cy="865.4" r="0.72" fill="#727272"/><circle cx="644.8" cy="841.4" r="0.79" fill="#828282"/><circle cx="677.6" cy="832.4" r="0.53" fill="#898989"/><circle cx="655.3" cy="873.7" r="0.75" fill="#767676"/><circle cx="675.0" cy="809.7" r="0.48" fill="#9b9b9b"/><circle cx="592.3" cy="857.4" r="0.71" fill="#949494"/><circle cx="600.5" cy="862.5" r="0.68" fill="#7c7c7c"/><circle cx="589.3" cy="827.7" r="0.75" fill="#878787"/><circle cx="588.4" cy="825.2" r="0.47" fill="#606060"/><circle cx="649.2" cy="840.8" r="0.64" fill="#636363"/><circle cx="634.1" cy="824.0" r="0.48" fill="#676767"/><circle cx="608.4" cy="796.9" r="0.62" fill="#767676"/><circle cx="633.1" cy="876.9" r="0.79" fill="#6b6b6b"/><circle cx="645.4" cy="806.7" r="0.71" fill="#6c6c6c"/><circle cx="677.3" cy="830.5" r="0.58" fill="#878787"/><circle cx="638.0" cy="869.4" r="0.80" fill="#919191"/><circle cx="617.7" cy="782.4" r="0.57" fill="#676767"/><circle cx="599.3" cy="798.9" r="0.48" fill="#888888"/><circle cx="678.4" cy="854.9" r="0.64" fill="#959595"/><circle cx="638.1" cy="814.6" r="0.56" fill="#626262"/><circle cx="610.3" cy="818.5" r="0.56" fill="#838383"/><circle cx="587.8" cy="875.9" r="0.58" fill="#909090"/><circle cx="607.3" cy="863.2" r="0.77" fill="#727272"/><circle cx="632.5" cy="844.0" r="0.46" fill="#999999"/><circle cx="682.1" cy="791.1" r="0.67" fill="#878787"/><circle cx="594.5" cy="790.3" r="0.73" fill="#9b9b9b"/><circle cx="647.5" cy="856.0" r="0.57" fill="#717171"/><circle cx="661.7" cy="830.6" r="0.72" fill="#878787"/><circle cx="632.8" cy="865.0" r="0.66" fill="#848484"/><circle cx="594.8" cy="823.4" r="0.55" fill="#868686"/><circle cx="591.7" cy="854.7" r="0.49" fill="#656565"/><circle cx="632.5" cy="822.4" r="0.53" fill="#838383"/><circle cx="643.2" cy="820.2" r="0.57" fill="#676767"/><circle cx="640.7" cy="872.3" r="0.45" fill="#7d7d7d"/><circle cx="665.7" cy="789.3" r="0.60" fill="#757575"/><circle cx="592.6" cy="838.3" r="0.60" fill="#777777"/><circle cx="631.1" cy="783.4" r="0.63" fill="#636363"/><circle cx="617.4" cy="820.1" r="0.70" fill="#848484"/><circle cx="607.5" cy="837.9" r="0.56" fill="#8b8b8b"/><circle cx="674.4" cy="828.1" r="0.66" fill="#686868"/><circle cx="603.6" cy="809.9" r="0.67" fill="#656565"/><circle cx="648.9" cy="823.3" r="0.69" fill="#9b9b9b"/><circle cx="594.0" cy="825.7" r="0.79" fill="#6a6a6a"/><circle cx="633.4" cy="869.8" r="0.54" fill="#878787"/><circle cx="600.7" cy="803.0" r="0.66" fill="#6e6e6e"/><circle cx="644.5" cy="833.9" r="0.50" fill="#727272"/><circle cx="664.5" cy="863.9" r="0.52" fill="#727272"/><circle cx="652.4" cy="835.8" r="0.63" fill="#707070"/><circle cx="640.2" cy="804.4" r="0.53" fill="#646464"/><circle cx="611.4" cy="809.3" r="0.61" fill="#888888"/><circle cx="671.2" cy="873.9" r="0.50" fill="#7f7f7f"/><circle cx="647.0" cy="782.5" r="0.58" fill="#767676"/><circle cx="604.4" cy="855.7" r="0.74" fill="#7d7d7d"/><circle cx="588.7" cy="825.0" r="0.62" fill="#6d6d6d"/><circle cx="657.5" cy="826.8" r="0.52" fill="#929292"/><circle cx="630.7" cy="869.7" r="0.57" fill="#666666"/><circle cx="620.8" cy="852.9" r="0.57" fill="#6a6a6a"/><circle cx="665.2" cy="822.9" r="0.55" fill="#606060"/><circle cx="611.2" cy="829.7" r="0.73" fill="#858585"/><circle cx="637.4" cy="793.5" r="0.58" fill="#7d7d7d"/><circle cx="658.2" cy="848.2" r="0.77" fill="#858585"/><circle cx="665.0" cy="870.7" r="0.61" fill="#767676"/><circle cx="677.5" cy="810.7" r="0.52" fill="#7f7f7f"/><circle cx="642.5" cy="803.2" r="0.58" fill="#7e7e7e"/><circle cx="587.2" cy="802.0" r="0.67" fill="#787878"/><circle cx="634.9" cy="851.1" r="0.57" fill="#9a9a9a"/><circle cx="653.3" cy="875.3" r="0.48" fill="#868686"/><circle cx="629.6" cy="861.3" r="0.51" fill="#878787"/><circle cx="635.7" cy="876.8" r="0.76" fill="#7a7a7a"/><circle cx="612.0" cy="863.5" r="0.62" fill="#9b9b9b"/><circle cx="682.9" cy="788.8" r="0.52" fill="#6d6d6d"/><circle cx="623.3" cy="838.7" r="0.72" fill="#858585"/><circle cx="633.7" cy="867.2" r="0.70" fill="#848484"/><circle cx="671.2" cy="844.9" r="0.67" fill="#636363"/><circle cx="679.8" cy="809.9" r="0.67" fill="#8f8f8f"/><circle cx="633.8" cy="830.2" r="0.56" fill="#686868"/><circle cx="663.0" cy="875.6" r="0.48" fill="#878787"/><circle cx="616.3" cy="808.4" r="0.63" fill="#8f8f8f"/><circle cx="613.9" cy="791.7" r="0.51" fill="#6f6f6f"/><circle cx="652.3" cy="840.6" r="0.58" fill="#626262"/><circle cx="595.3" cy="847.7" r="0.74" fill="#666666"/><circle cx="670.3" cy="785.2" r="0.55" fill="#646464"/><circle cx="638.4" cy="859.7" r="0.46" fill="#969696"/><circle cx="638.2" cy="839.8" r="0.76" fill="#686868"/><circle cx="634.3" cy="872.1" r="0.47" fill="#646464"/><circle cx="663.5" cy="871.8" r="0.75" fill="#818181"/><circle cx="605.1" cy="826.1" r="0.73" fill="#838383"/><circle cx="615.3" cy="833.5" r="0.66" fill="#646464"/><circle cx="643.3" cy="851.4" r="0.48" fill="#646464"/><circle cx="592.9" cy="799.5" r="0.77" fill="#838383"/><circle cx="603.4" cy="789.1" r="0.68" fill="#939393"/><circle cx="647.9" cy="870.1" r="0.49" fill="#868686"/><circle cx="654.2" cy="800.0" r="0.71" fill="#959595"/><circle cx="646.0" cy="869.6" r="0.78" fill="#676767"/><circle cx="609.0" cy="802.3" r="0.80" fill="#6d6d6d"/><circle cx="588.4" cy="863.0" r="0.68" fill="#797979"/><circle cx="672.4" cy="794.1" r="0.54" fill="#808080"/><circle cx="632.5" cy="792.5" r="0.70" fill="#666666"/><circle cx="682.5" cy="820.7" r="0.48" fill="#808080"/><circle cx="596.0" cy="809.0" r="0.61" fill="#818181"/><circle cx="630.0" cy="863.6" r="0.59" fill="#8f8f8f"/><circle cx="620.6" cy="802.0" r="0.71" fill="#767676"/><circle cx="591.0" cy="784.8" r="0.57" fill="#7d7d7d"/><circle cx="667.4" cy="824.0" r="0.73" fill="#7d7d7d"/><circle cx="607.7" cy="864.3" r="0.74" fill="#7b7b7b"/><circle cx="656.6" cy="790.1" r="0.61" fill="#6f6f6f"/><circle cx="597.4" cy="784.6" r="0.46" fill="#757575"/><circle cx="642.4" cy="785.9" r="0.53" fill="#6f6f6f"/><circle cx="652.3" cy="854.7" r="0.50" fill="#999999"/><circle cx="672.3" cy="794.7" r="0.52" fill="#737373"/><circle cx="641.5" cy="818.4" r="0.51" fill="#979797"/><circle cx="669.6" cy="783.7" r="0.46" fill="#747474"/><circle cx="604.6" cy="813.3" r="0.56" fill="#868686"/><circle cx="599.3" cy="865.7" r="0.52" fill="#737373"/><circle cx="592.7" cy="840.2" r="0.57" fill="#727272"/><circle cx="629.2" cy="803.1" r="0.54" fill="#676767"/><circle cx="655.6" cy="852.5" r="0.57" fill="#848484"/><circle cx="648.1" cy="803.8" r="0.47" fill="#818181"/><circle cx="597.6" cy="808.7" r="0.51" fill="#878787"/><circle cx="665.5" cy="805.2" r="0.79" fill="#868686"/><circle cx="595.7" cy="867.5" r="0.68" fill="#919191"/><circle cx="652.8" cy="810.7" r="0.68" fill="#9a9a9a"/><circle cx="652.5" cy="812.2" r="0.71" fill="#7e7e7e"/><circle cx="633.9" cy="832.4" r="0.77" fill="#949494"/><circle cx="587.2" cy="840.7" r="0.54" fill="#999999"/><circle cx="620.6" cy="812.7" r="0.47" fill="#787878"/><circle cx="647.9" cy="851.4" r="0.60" fill="#929292"/><circle cx="633.1" cy="787.9" r="0.54" fill="#909090"/><circle cx="670.5" cy="867.6" r="0.59" fill="#848484"/><circle cx="646.8" cy="830.1" r="0.74" fill="#747474"/><circle cx="658.6" cy="821.0" r="0.80" fill="#6f6f6f"/><circle cx="653.4" cy="832.8" r="0.73" fill="#6f6f6f"/><circle cx="639.4" cy="798.6" r="0.74" fill="#979797"/><circle cx="605.8" cy="828.3" r="0.68" fill="#999999"/><circle cx="621.2" cy="857.7" r="0.70" fill="#838383"/><circle cx="642.5" cy="847.9" r="0.58" fill="#767676"/><circle cx="662.2" cy="872.6" r="0.47" fill="#838383"/><circle cx="600.2" cy="811.8" r="0.50" fill="#646464"/><circle cx="672.9" cy="856.8" r="0.70" fill="#747474"/><circle cx="642.0" cy="873.6" r="0.73" fill="#666666"/><circle cx="656.5" cy="849.8" r="0.61" fill="#9b9b9b"/><circle cx="617.6" cy="790.8" r="0.62" fill="#676767"/><circle cx="626.2" cy="810.0" r="0.62" fill="#8f8f8f"/><circle cx="643.1" cy="837.0" r="0.52" fill="#737373"/><circle cx="657.5" cy="852.6" r="0.48" fill="#797979"/><circle cx="592.9" cy="854.1" r="0.77" fill="#686868"/><circle cx="622.8" cy="805.3" r="0.48" fill="#818181"/><circle cx="606.8" cy="816.1" r="0.48" fill="#676767"/><circle cx="628.3" cy="797.1" r="0.47" fill="#8b8b8b"/><circle cx="619.3" cy="858.7" r="0.51" fill="#6e6e6e"/><circle cx="626.5" cy="868.8" r="0.47" fill="#6d6d6d"/><circle cx="630.9" cy="858.0" r="0.73" fill="#646464"/><circle cx="628.5" cy="810.4" r="0.72" fill="#656565"/><circle cx="613.8" cy="787.1" r="0.77" fill="#8a8a8a"/><circle cx="657.1" cy="816.0" r="0.67" fill="#656565"/><circle cx="609.2" cy="797.8" r="0.58" fill="#8e8e8e"/><circle cx="631.6" cy="785.6" r="0.64" fill="#969696"/><circle cx="674.3" cy="861.5" r="0.64" fill="#6d6d6d"/><circle cx="681.6" cy="791.6" r="0.77" fill="#8b8b8b"/><circle cx="671.8" cy="855.9" r="0.66" fill="#969696"/><circle cx="657.4" cy="848.7" r="0.67" fill="#646464"/><circle cx="680.6" cy="872.3" r="0.67" fill="#878787"/><circle cx="669.6" cy="867.2" r="0.79" fill="#636363"/><circle cx="609.2" cy="842.5" r="0.68" fill="#878787"/><circle cx="611.8" cy="844.9" r="0.48" fill="#808080"/><circle cx="596.6" cy="817.4" r="0.77" fill="#7c7c7c"/><circle cx="649.5" cy="847.5" r="0.77" fill="#686868"/><circle cx="663.8" cy="810.1" r="0.71" fill="#858585"/><circle cx="680.1" cy="783.8" r="0.70" fill="#616161"/><circle cx="681.6" cy="818.0" r="0.55" fill="#8c8c8c"/><circle cx="643.7" cy="848.7" r="0.62" fill="#868686"/><circle cx="622.9" cy="806.1" r="0.74" fill="#999999"/><circle cx="608.8" cy="848.5" r="0.48" fill="#666666"/><circle cx="672.3" cy="829.6" r="0.80" fill="#858585"/><circle cx="651.3" cy="853.0" r="0.52" fill="#7f7f7f"/><circle cx="590.9" cy="858.4" r="0.73" fill="#949494"/><circle cx="598.1" cy="793.6" r="0.57" fill="#7d7d7d"/><circle cx="594.5" cy="833.4" r="0.46" fill="#5f5f5f"/><circle cx="678.3" cy="876.4" r="0.77" fill="#676767"/><circle cx="640.1" cy="782.3" r="0.54" fill="#8e8e8e"/><circle cx="601.3" cy="844.2" r="0.79" fill="#9a9a9a"/><circle cx="636.9" cy="876.9" r="0.48" fill="#828282"/><circle cx="677.0" cy="868.2" r="0.79" fill="#8f8f8f"/><circle cx="644.3" cy="844.5" r="0.46" fill="#8f8f8f"/><circle cx="642.1" cy="871.1" r="0.65" fill="#606060"/><circle cx="608.5" cy="844.4" r="0.71" fill="#717171"/><circle cx="633.4" cy="871.5" r="0.71" fill="#6d6d6d"/><circle cx="660.5" cy="873.3" r="0.76" fill="#7b7b7b"/><circle cx="677.0" cy="823.4" r="0.75" fill="#5f5f5f"/><circle cx="597.8" cy="843.3" r="0.52" fill="#878787"/><circle cx="650.2" cy="858.2" r="0.68" fill="#999999"/><circle cx="653.3" cy="858.3" r="0.75" fill="#828282"/><circle cx="663.2" cy="852.7" r="0.80" fill="#969696"/><circle cx="638.8" cy="827.6" r="0.73" fill="#939393"/><circle cx="637.0" cy="847.1" r="0.75" fill="#949494"/><circle cx="619.7" cy="875.6" r="0.78" fill="#8e8e8e"/><circle cx="665.4" cy="800.2" r="0.75" fill="#8f8f8f"/><circle cx="620.8" cy="851.4" r="0.80" fill="#767676"/><circle cx="646.9" cy="797.3" r="0.77" fill="#6c6c6c"/><circle cx="634.6" cy="843.8" r="0.46" fill="#7a7a7a"/><circle cx="654.4" cy="834.7" r="0.77" fill="#7b7b7b"/><circle cx="648.9" cy="858.7" r="0.77" fill="#656565"/><circle cx="617.8" cy="869.3" r="0.46" fill="#979797"/><circle cx="592.6" cy="809.8" r="0.69" fill="#626262"/><circle cx="617.9" cy="838.6" r="0.59" fill="#636363"/><circle cx="640.5" cy="827.8" r="0.73" fill="#747474"/><circle cx="590.4" cy="797.6" r="0.53" fill="#939393"/><circle cx="602.4" cy="815.0" r="0.61" fill="#666666"/><circle cx="624.2" cy="863.1" r="0.75" fill="#6e6e6e"/><circle cx="654.2" cy="837.2" r="0.59" fill="#7a7a7a"/><circle cx="650.4" cy="788.7" r="0.61" fill="#7a7a7a"/><circle cx="651.4" cy="806.8" r="0.61" fill="#737373"/><circle cx="625.7" cy="831.8" r="0.74" fill="#8a8a8a"/><circle cx="624.4" cy="824.0" r="0.46" fill="#6b6b6b"/><circle cx="678.4" cy="819.1" r="0.76" fill="#7c7c7c"/><circle cx="654.2" cy="817.3" r="0.71" fill="#7f7f7f"/><circle cx="657.9" cy="835.9" r="0.77" fill="#949494"/><circle cx="652.8" cy="842.3" r="0.51" fill="#838383"/><circle cx="606.9" cy="833.8" r="0.65" fill="#989898"/><circle cx="606.8" cy="817.4" r="0.54" fill="#7e7e7e"/><circle cx="612.1" cy="810.1" r="0.76" fill="#6e6e6e"/><circle cx="669.5" cy="830.2" r="0.49" fill="#767676"/><circle cx="630.9" cy="828.8" r="0.46" fill="#909090"/><circle cx="633.1" cy="875.7" r="0.64" fill="#696969"/><circle cx="619.5" cy="850.4" r="0.67" fill="#979797"/><circle cx="626.4" cy="829.3" r="0.59" fill="#8a8a8a"/><circle cx="611.1" cy="782.0" r="0.52" fill="#818181"/><circle cx="611.0" cy="837.8" r="0.61" fill="#8f8f8f"/><circle cx="638.4" cy="843.6" r="0.68" fill="#757575"/><circle cx="635.8" cy="792.8" r="0.71" fill="#6b6b6b"/><circle cx="654.8" cy="821.6" r="0.45" fill="#5f5f5f"/><circle cx="670.0" cy="834.3" r="0.79" fill="#606060"/><circle cx="614.2" cy="829.2" r="0.64" fill="#676767"/><circle cx="649.3" cy="838.6" r="0.78" fill="#7b7b7b"/><circle cx="588.9" cy="834.8" r="0.67" fill="#878787"/><circle cx="612.8" cy="870.3" r="0.53" fill="#636363"/><circle cx="627.5" cy="850.1" r="0.46" fill="#868686"/><circle cx="665.4" cy="840.5" r="0.63" fill="#717171"/><circle cx="674.6" cy="789.3" r="0.56" fill="#737373"/><circle cx="640.2" cy="876.0" r="0.73" fill="#818181"/><circle cx="617.2" cy="836.7" r="0.57" fill="#909090"/><circle cx="667.0" cy="799.1" r="0.77" fill="#8a8a8a"/><circle cx="634.7" cy="835.3" r="0.54" fill="#797979"/><circle cx="653.7" cy="830.3" r="0.67" fill="#999999"/><circle cx="616.3" cy="806.6" r="0.61" fill="#636363"/><circle cx="655.7" cy="845.9" r="0.48" fill="#7f7f7f"/><circle cx="656.8" cy="822.0" r="0.49" fill="#828282"/><circle cx="615.6" cy="806.1" r="0.55" fill="#838383"/><circle cx="660.2" cy="817.7" r="0.46" fill="#818181"/><circle cx="660.2" cy="819.4" r="0.60" fill="#888888"/><circle cx="595.4" cy="782.9" r="0.67" fill="#616161"/><circle cx="671.6" cy="788.2" r="0.77" fill="#6d6d6d"/><circle cx="654.1" cy="846.8" r="0.60" fill="#717171"/><circle cx="604.2" cy="840.2" r="0.64" fill="#818181"/><circle cx="678.9" cy="799.0" r="0.62" fill="#9b9b9b"/><circle cx="656.3" cy="849.6" r="0.74" fill="#7d7d7d"/><circle cx="616.0" cy="808.1" r="0.62" fill="#636363"/><circle cx="630.5" cy="847.2" r="0.53" fill="#868686"/><circle cx="614.8" cy="829.1" r="0.61" fill="#6c6c6c"/><circle cx="601.8" cy="806.1" r="0.67" fill="#767676"/><circle cx="602.3" cy="826.9" r="0.74" fill="#8a8a8a"/><circle cx="629.5" cy="837.4" r="0.54" fill="#9a9a9a"/><circle cx="615.9" cy="850.2" r="0.65" fill="#626262"/><circle cx="638.1" cy="813.1" r="0.78" fill="#7b7b7b"/><circle cx="648.1" cy="855.0" r="0.75" fill="#7e7e7e"/><circle cx="681.8" cy="817.4" r="0.46" fill="#6f6f6f"/><circle cx="604.3" cy="852.3" r="0.75" fill="#6c6c6c"/><circle cx="616.3" cy="827.5" r="0.61" fill="#6a6a6a"/><circle cx="620.6" cy="793.4" r="0.77" fill="#686868"/><circle cx="658.1" cy="825.4" r="0.52" fill="#9b9b9b"/><circle cx="677.4" cy="818.7" r="0.74" fill="#999999"/><circle cx="626.7" cy="802.2" r="0.75" fill="#727272"/><circle cx="680.3" cy="787.7" r="0.80" fill="#636363"/><circle cx="628.4" cy="794.7" r="0.64" fill="#8d8d8d"/><circle cx="633.5" cy="870.6" r="0.74" fill="#9b9b9b"/><circle cx="631.1" cy="845.8" r="0.58" fill="#9b9b9b"/><circle cx="630.5" cy="810.8" r="0.58" fill="#7f7f7f"/><circle cx="624.4" cy="848.7" r="0.74" fill="#7e7e7e"/><circle cx="660.4" cy="808.5" r="0.50" fill="#676767"/><circle cx="655.1" cy="831.5" r="0.49" fill="#989898"/><circle cx="629.9" cy="783.2" r="0.77" fill="#6e6e6e"/><circle cx="661.7" cy="785.7" r="0.62" fill="#727272"/><circle cx="678.0" cy="869.8" r="0.60" fill="#656565"/><circle cx="628.7" cy="854.7" r="0.68" fill="#707070"/><circle cx="618.8" cy="826.3" r="0.70" fill="#989898"/><circle cx="627.8" cy="830.3" r="0.72" fill="#8e8e8e"/><circle cx="612.1" cy="810.3" r="0.63" fill="#5f5f5f"/><circle cx="676.1" cy="836.0" r="0.62" fill="#7c7c7c"/><circle cx="643.4" cy="818.7" r="0.80" fill="#727272"/><circle cx="620.9" cy="840.0" r="0.47" fill="#767676"/><circle cx="657.9" cy="852.8" r="0.57" fill="#979797"/><circle cx="620.6" cy="790.4" r="0.75" fill="#8e8e8e"/><circle cx="638.2" cy="857.7" r="0.56" fill="#989898"/><circle cx="650.2" cy="829.1" r="0.70" fill="#8a8a8a"/><circle cx="607.3" cy="836.0" r="0.78" fill="#5f5f5f"/><circle cx="648.2" cy="808.3" r="0.71" fill="#909090"/><circle cx="651.1" cy="799.6" r="0.66" fill="#5f5f5f"/><circle cx="671.4" cy="788.3" r="0.46" fill="#858585"/><circle cx="674.4" cy="802.8" r="0.55" fill="#8d8d8d"/><circle cx="626.1" cy="836.3" r="0.77" fill="#858585"/><circle cx="656.7" cy="853.4" r="0.75" fill="#747474"/><circle cx="660.9" cy="830.7" r="0.56" fill="#727272"/><circle cx="661.5" cy="844.5" r="0.69" fill="#696969"/><circle cx="637.0" cy="822.9" r="0.66" fill="#717171"/><circle cx="598.6" cy="814.8" r="0.75" fill="#6c6c6c"/><circle cx="612.0" cy="867.0" r="0.64" fill="#818181"/><circle cx="619.3" cy="835.3" r="0.47" fill="#8b8b8b"/><circle cx="638.4" cy="816.8" r="0.61" fill="#707070"/><circle cx="671.2" cy="867.8" r="0.72" fill="#6f6f6f"/><circle cx="622.1" cy="784.6" r="0.68" fill="#656565"/><circle cx="644.0" cy="810.5" r="0.75" fill="#888888"/><circle cx="639.8" cy="809.9" r="0.70" fill="#727272"/><circle cx="633.2" cy="833.0" r="0.53" fill="#929292"/><circle cx="671.8" cy="847.9" r="0.54" fill="#888888"/><circle cx="661.6" cy="831.1" r="0.49" fill="#808080"/><circle cx="638.9" cy="844.1" r="0.75" fill="#6f6f6f"/><circle cx="639.9" cy="790.2" r="0.53" fill="#636363"/><circle cx="633.1" cy="864.8" r="0.77" fill="#797979"/><circle cx="596.5" cy="844.2" r="0.64" fill="#929292"/><circle cx="638.0" cy="856.5" r="0.66" fill="#808080"/><circle cx="660.6" cy="788.8" r="0.46" fill="#8d8d8d"/><circle cx="587.8" cy="851.0" r="0.74" fill="#8e8e8e"/><circle cx="650.1" cy="856.0" r="0.70" fill="#8f8f8f"/><circle cx="617.9" cy="870.3" r="0.49" fill="#979797"/><circle cx="677.2" cy="873.6" r="0.65" fill="#8d8d8d"/><circle cx="657.3" cy="844.6" r="0.46" fill="#808080"/><circle cx="607.6" cy="859.2" r="0.56" fill="#7e7e7e"/><circle cx="588.3" cy="819.9" r="0.45" fill="#989898"/><circle cx="641.7" cy="788.0" r="0.48" fill="#858585"/><circle cx="677.1" cy="807.3" r="0.68" fill="#8f8f8f"/><circle cx="599.6" cy="872.8" r="0.70" fill="#8a8a8a"/><circle cx="657.2" cy="793.9" r="0.58" fill="#9a9a9a"/><circle cx="619.3" cy="866.9" r="0.66" fill="#868686"/><circle cx="620.6" cy="857.7" r="0.58" fill="#949494"/><circle cx="681.0" cy="827.9" r="0.61" fill="#616161"/><circle cx="629.8" cy="793.8" r="0.77" fill="#747474"/><circle cx="640.5" cy="838.7" r="0.54" fill="#676767"/><circle cx="681.2" cy="847.5" r="0.50" fill="#898989"/><circle cx="603.1" cy="830.6" r="0.61" fill="#6b6b6b"/><circle cx="601.6" cy="862.9" r="0.66" fill="#8e8e8e"/><circle cx="642.5" cy="853.9" r="0.64" fill="#8f8f8f"/><circle cx="616.1" cy="844.7" r="0.60" fill="#919191"/><circle cx="665.3" cy="822.6" r="0.54" fill="#979797"/><circle cx="590.8" cy="802.6" r="0.46" fill="#7a7a7a"/><circle cx="681.6" cy="787.3" r="0.67" fill="#929292"/><circle cx="681.7" cy="791.1" r="0.74" fill="#757575"/><circle cx="619.5" cy="796.7" r="0.58" fill="#8e8e8e"/><circle cx="588.6" cy="794.5" r="0.69" fill="#8d8d8d"/><circle cx="651.6" cy="791.6" r="0.61" fill="#777777"/><circle cx="619.9" cy="831.4" r="0.55" fill="#797979"/><circle cx="657.6" cy="864.1" r="0.52" fill="#6f6f6f"/><circle cx="674.3" cy="825.3" r="0.73" fill="#818181"/><circle cx="635.3" cy="821.8" r="0.53" fill="#929292"/><circle cx="623.6" cy="877.6" r="0.48" fill="#959595"/><circle cx="645.9" cy="876.8" r="0.56" fill="#797979"/><circle cx="659.0" cy="786.2" r="0.68" fill="#969696"/><circle cx="628.2" cy="848.7" r="0.63" fill="#6c6c6c"/><circle cx="635.2" cy="855.8" r="0.62" fill="#666666"/><circle cx="588.0" cy="821.3" r="0.66" fill="#999999"/><circle cx="631.4" cy="862.0" r="0.45" fill="#969696"/><circle cx="642.8" cy="861.9" r="0.65" fill="#848484"/><circle cx="642.1" cy="809.6" r="0.50" fill="#797979"/><circle cx="661.5" cy="874.9" r="0.46" fill="#999999"/><circle cx="653.9" cy="847.8" r="0.77" fill="#696969"/><circle cx="604.0" cy="796.9" r="0.78" fill="#929292"/><circle cx="637.3" cy="820.6" r="0.77" fill="#868686"/><circle cx="681.2" cy="830.1" r="0.49" fill="#888888"/><circle cx="640.0" cy="826.8" r="0.65" fill="#626262"/><circle cx="589.3" cy="825.0" r="0.75" fill="#777777"/><circle cx="605.1" cy="799.1" r="0.78" fill="#969696"/><circle cx="608.9" cy="858.1" r="0.75" fill="#606060"/><circle cx="671.8" cy="869.1" r="0.78" fill="#959595"/><circle cx="656.8" cy="804.7" r="0.74" fill="#777777"/><circle cx="603.1" cy="852.8" r="0.57" fill="#616161"/><circle cx="664.4" cy="844.2" r="0.49" fill="#6f6f6f"/><circle cx="604.4" cy="846.0" r="0.60" fill="#626262"/><circle cx="673.6" cy="852.7" r="0.46" fill="#929292"/><circle cx="661.1" cy="871.6" r="0.51" fill="#6c6c6c"/><circle cx="681.0" cy="841.4" r="0.71" fill="#979797"/><circle cx="659.3" cy="782.5" r="0.64" fill="#676767"/><circle cx="669.9" cy="848.8" r="0.72" fill="#666666"/><circle cx="677.2" cy="852.5" r="0.60" fill="#969696"/><circle cx="611.4" cy="800.0" r="0.67" fill="#909090"/><circle cx="614.3" cy="830.7" r="0.70" fill="#747474"/><circle cx="637.5" cy="845.6" r="0.71" fill="#929292"/><circle cx="638.9" cy="870.0" r="0.61" fill="#9b9b9b"/><circle cx="624.4" cy="862.4" r="0.66" fill="#929292"/><circle cx="636.6" cy="835.7" r="0.64" fill="#949494"/><circle cx="670.2" cy="868.3" r="0.71" fill="#6b6b6b"/><circle cx="637.5" cy="820.7" r="0.49" fill="#999999"/><circle cx="661.0" cy="860.3" r="0.79" fill="#646464"/><circle cx="595.0" cy="812.8" r="0.57" fill="#646464"/><circle cx="590.5" cy="807.7" r="0.66" fill="#747474"/><circle cx="593.6" cy="794.7" r="0.78" fill="#828282"/><circle cx="622.9" cy="823.6" r="0.67" fill="#747474"/><circle cx="633.6" cy="799.0" r="0.71" fill="#9a9a9a"/><circle cx="610.6" cy="834.7" r="0.71" fill="#696969"/><circle cx="638.6" cy="832.0" r="0.69" fill="#767676"/><circle cx="640.9" cy="857.5" r="0.77" fill="#606060"/><circle cx="651.8" cy="785.8" r="0.74" fill="#626262"/><circle cx="627.7" cy="818.8" r="0.58" fill="#676767"/><circle cx="609.2" cy="840.9" r="0.70" fill="#979797"/><circle cx="611.5" cy="803.0" r="0.79" fill="#636363"/><circle cx="595.2" cy="794.3" r="0.51" fill="#717171"/><circle cx="655.3" cy="800.0" r="0.61" fill="#6f6f6f"/><polyline points="631.1,793.2 631.5,794.7 630.7,796.2 630.3,797.4 630.7,799.0" fill="none" stroke="#5f5f5f" stroke-width="1.3" stroke-linecap="round" stroke-linejoin="round"/><polyline points="632.1,790.2 633.4,790.8 633.9,791.7 635.3,792.4 636.1,792.7" fill="none" stroke="#575757" stroke-width="1.1" stroke-linecap="round" stroke-linejoin="round"/><polyline points="632.6,795.2 632.5,794.2 633.1,793.1" fill="none" stroke="#4b4b4b" stroke-width="1.1" stroke-linecap="round" stroke-linejoin="round"/><polyline points="631.3,793.2 632.2,793.8 632.6,794.6 633.1,795.4" fill="none" stroke="#4d4d4d" stroke-width="1.5" stroke-linecap="round" stroke-linejoin="round"/><ellipse cx="633.0" cy="792.3" rx="0.9" ry="0.5" fill="#5e5e5e" transform="rotate(8 633.0 792.3)"/><ellipse cx="631.6" cy="791.7" rx="0.8" ry="0.6" fill="#383838" transform="rotate(45 631.6 791.7)"/><ellipse cx="633.2" cy="793.3" rx="1.0" ry="0.6" fill="#5c5c5c" transform="rotate(80 633.2 793.3)"/><ellipse cx="633.1" cy="791.7" rx="0.9" ry="0.7" fill="#404040" transform="rotate(160 633.1 791.7)"/><ellipse cx="631.8" cy="793.8" rx="1.1" ry="0.6" fill="#4e4e4e" transform="rotate(17 631.8 793.8)"/><ellipse cx="631.6" cy="794.0" rx="0.6" ry="0.5" fill="#3d3d3d" transform="rotate(161 631.6 794.0)"/><ellipse cx="632.7" cy="792.8" rx="0.6" ry="0.7" fill="#696969" transform="rotate(147 632.7 792.8)"/><ellipse cx="633.5" cy="793.5" rx="1.1" ry="0.7" fill="#3d3d3d" transform="rotate(17 633.5 793.5)"/><polyline points="671.4,795.2 672.1,794.8 673.1,793.9 673.7,792.6 674.4,791.9" fill="none" stroke="#2d2d2d" stroke-width="1.5" stroke-linecap="round" stroke-linejoin="round"/><polyline points="671.5,794.5 671.1,795.5 671.0,796.3" fill="none" stroke="#3c3c3c" stroke-width="1.4" stroke-linecap="round" stroke-linejoin="round"/><polyline points="667.3,795.4 667.0,794.5 667.1,793.1 666.7,791.3" fill="none" stroke="#575757" stroke-width="1.2" stroke-linecap="round" stroke-linejoin="round"/><polyline points="672.0,794.4 673.1,793.2 674.3,792.9" fill="none" stroke="#4a4a4a" stroke-width="1.6" stroke-linecap="round" stroke-linejoin="round"/><polyline points="673.1,790.6 672.7,791.4 672.5,792.3 672.7,793.9" fill="none" stroke="#282828" stroke-width="1.3" stroke-linecap="round" stroke-linejoin="round"/><polyline points="673.0,792.7 674.2,794.0 674.7,795.1 675.8,795.7" fill="none" stroke="#292929" stroke-width="1.2" stroke-linecap="round" stroke-linejoin="round"/><ellipse cx="670.7" cy="792.8" rx="0.9" ry="0.5" fill="#636363" transform="rotate(160 670.7 792.8)"/><ellipse cx="674.5" cy="791.8" rx="1.1" ry="0.7" fill="#6d6d6d" transform="rotate(19 674.5 791.8)"/><ellipse cx="671.9" cy="793.9" rx="0.6" ry="0.6" fill="#3a3a3a" transform="rotate(141 671.9 793.9)"/><ellipse cx="674.2" cy="790.0" rx="0.7" ry="0.4" fill="#3a3a3a" transform="rotate(130 674.2 790.0)"/><ellipse cx="669.7" cy="795.7" rx="0.8" ry="0.6" fill="#696969" transform="rotate(52 669.7 795.7)"/><ellipse cx="670.2" cy="795.1" rx="0.7" ry="0.7" fill="#414141" transform="rotate(106 670.2 795.1)"/><ellipse cx="667.2" cy="796.8" rx="0.8" ry="0.7" fill="#525252" transform="rotate(81 667.2 796.8)"/><ellipse cx="667.7" cy="796.6" rx="0.6" ry="0.7" fill="#474747" transform="rotate(84 667.7 796.6)"/><ellipse cx="669.5" cy="795.8" rx="0.8" ry="0.5" fill="#555555" transform="rotate(90 669.5 795.8)"/><ellipse cx="668.6" cy="793.8" rx="0.6" ry="0.5" fill="#585858" transform="rotate(69 668.6 793.8)"/><ellipse cx="669.9" cy="794.5" rx="0.9" ry="0.4" fill="#606060" transform="rotate(146 669.9 794.5)"/><ellipse cx="671.5" cy="793.2" rx="0.7" ry="0.6" fill="#555555" transform="rotate(45 671.5 793.2)"/><ellipse cx="668.0" cy="796.3" rx="0.9" ry="0.5" fill="#484848" transform="rotate(115 668.0 796.3)"/><ellipse cx="671.5" cy="793.1" rx="0.5" ry="0.4" fill="#616161" transform="rotate(4 671.5 793.1)"/><polyline points="660.5,817.9 659.2,817.0 658.4,815.8 657.6,814.6 657.4,813.1" fill="none" stroke="#4f4f4f" stroke-width="1.4" stroke-linecap="round" stroke-linejoin="round"/><ellipse cx="659.3" cy="818.9" rx="0.8" ry="0.4" fill="#656565" transform="rotate(2 659.3 818.9)"/><ellipse cx="660.6" cy="817.3" rx="0.7" ry="0.4" fill="#3e3e3e" transform="rotate(16 660.6 817.3)"/><ellipse cx="659.8" cy="817.1" rx="0.7" ry="0.4" fill="#464646" transform="rotate(53 659.8 817.1)"/><ellipse cx="661.5" cy="817.9" rx="0.5" ry="0.4" fill="#3c3c3c" transform="rotate(68 661.5 817.9)"/><polyline points="645.6,835.1 646.5,835.5 647.2,835.1" fill="none" stroke="#2d2d2d" stroke-width="1.1" stroke-linecap="round" stroke-linejoin="round"/><polyline points="645.0,835.9 645.4,834.2 644.5,833.2 644.4,832.1 643.5,831.4" fill="none" stroke="#404040" stroke-width="1.0" stroke-linecap="round" stroke-linejoin="round"/><ellipse cx="644.5" cy="837.2" rx="0.9" ry="0.5" fill="#636363" transform="rotate(52 644.5 837.2)"/><ellipse cx="644.5" cy="838.1" rx="0.7" ry="0.5" fill="#5c5c5c" transform="rotate(46 644.5 838.1)"/><ellipse cx="644.3" cy="838.4" rx="0.5" ry="0.4" fill="#636363" transform="rotate(58 644.3 838.4)"/><ellipse cx="645.0" cy="837.8" rx="1.0" ry="0.4" fill="#646464" transform="rotate(133 645.0 837.8)"/><polyline points="610.9,837.2 609.7,838.0 609.7,839.0 610.1,840.5" fill="none" stroke="#585858" stroke-width="1.1" stroke-linecap="round" stroke-linejoin="round"/><ellipse cx="611.9" cy="837.4" rx="0.5" ry="0.4" fill="#494949" transform="rotate(167 611.9 837.4)"/><ellipse cx="610.6" cy="838.3" rx="0.8" ry="0.6" fill="#3b3b3b" transform="rotate(160 610.6 838.3)"/><ellipse cx="612.1" cy="838.6" rx="0.6" ry="0.4" fill="#6b6b6b" transform="rotate(41 612.1 838.6)"/><polyline points="626.2,856.4 625.6,855.6 624.0,854.8 623.6,854.1" fill="none" stroke="#282828" stroke-width="1.5" stroke-linecap="round" stroke-linejoin="round"/><ellipse cx="626.2" cy="855.1" rx="1.1" ry="0.7" fill="#414141" transform="rotate(34 626.2 855.1)"/><ellipse cx="627.0" cy="856.0" rx="1.0" ry="0.7" fill="#656565" transform="rotate(61 627.0 856.0)"/><ellipse cx="626.1" cy="855.3" rx="0.5" ry="0.6" fill="#6d6d6d" transform="rotate(68 626.1 855.3)"/><ellipse cx="626.4" cy="855.5" rx="0.9" ry="0.4" fill="#404040" transform="rotate(115 626.4 855.5)"/><polyline points="630.2,862.0 630.5,861.2 630.3,859.9 630.0,858.5" fill="none" stroke="#4c4c4c" stroke-width="1.1" stroke-linecap="round" stroke-linejoin="round"/><ellipse cx="630.6" cy="860.7" rx="0.6" ry="0.6" fill="#434343" transform="rotate(107 630.6 860.7)"/><ellipse cx="630.3" cy="861.0" rx="1.0" ry="0.5" fill="#606060" transform="rotate(165 630.3 861.0)"/><ellipse cx="628.4" cy="861.9" rx="0.7" ry="0.6" fill="#565656" transform="rotate(126 628.4 861.9)"/><ellipse cx="629.2" cy="862.3" rx="0.8" ry="0.6" fill="#535353" transform="rotate(11 629.2 862.3)"/><polyline points="636.1,858.3 635.2,857.4 634.2,856.9" fill="none" stroke="#484848" stroke-width="1.5" stroke-linecap="round" stroke-linejoin="round"/><ellipse cx="635.4" cy="858.8" rx="1.0" ry="0.4" fill="#3e3e3e" transform="rotate(122 635.4 858.8)"/><ellipse cx="636.5" cy="859.2" rx="0.9" ry="0.7" fill="#6a6a6a" transform="rotate(113 636.5 859.2)"/><ellipse cx="636.4" cy="859.9" rx="0.8" ry="0.4" fill="#424242" transform="rotate(15 636.4 859.9)"/><ellipse cx="637.3" cy="858.1" rx="0.6" ry="0.4" fill="#4d4d4d" transform="rotate(44 637.3 858.1)"/></g>
</g>
<rect x="586.8" y="781.8" width="96.5" height="96.2" fill="none" stroke="#1a1a1a" stroke-width="1.6"/>
<line x1="660.2" y1="869.8" x2="677.5" y2="869.8" stroke="#000" stroke-width="2.6" stroke-linecap="butt"/>
</g>
<g>
<rect x="388.3" y="881.5" width="95.6" height="98.3" fill="url(#lg3)"/>
<clipPath id="cp3"><rect x="388.3" y="881.5" width="95.6" height="98.3"/></clipPath>
<g clip-path="url(#cp3)">
<ellipse cx="403.3" cy="921.5" rx="8.0" ry="6.0" fill="#c3c3c3" filter="url(#blur1)" transform="rotate(0 403.3 921.5)"/>
<g filter="url(#blur2)"><circle cx="454.6" cy="935.0" r="0.61" fill="#929292"/><circle cx="477.5" cy="894.5" r="0.72" fill="#858585"/><circle cx="423.7" cy="934.4" r="0.60" fill="#989898"/><circle cx="454.1" cy="948.1" r="0.48" fill="#7d7d7d"/><circle cx="419.0" cy="946.5" r="0.68" fill="#868686"/><circle cx="450.2" cy="928.3" r="0.77" fill="#767676"/><circle cx="434.1" cy="949.3" r="0.71" fill="#939393"/><circle cx="464.3" cy="931.2" r="0.76" fill="#7f7f7f"/><circle cx="447.4" cy="961.5" r="0.52" fill="#6b6b6b"/><circle cx="418.8" cy="913.1" r="0.55" fill="#989898"/><circle cx="422.1" cy="972.4" r="0.74" fill="#616161"/><circle cx="424.2" cy="911.2" r="0.70" fill="#8f8f8f"/><circle cx="462.2" cy="965.5" r="0.56" fill="#5f5f5f"/><circle cx="472.4" cy="967.4" r="0.76" fill="#626262"/><circle cx="451.2" cy="883.6" r="0.78" fill="#868686"/><circle cx="396.8" cy="889.9" r="0.76" fill="#636363"/><circle cx="406.1" cy="932.0" r="0.75" fill="#818181"/><circle cx="401.1" cy="925.7" r="0.63" fill="#757575"/><circle cx="411.6" cy="911.8" r="0.62" fill="#9b9b9b"/><circle cx="427.8" cy="945.4" r="0.50" fill="#727272"/><circle cx="477.1" cy="905.2" r="0.55" fill="#797979"/><circle cx="467.3" cy="969.5" r="0.50" fill="#616161"/><circle cx="412.3" cy="905.0" r="0.73" fill="#7d7d7d"/><circle cx="392.5" cy="894.8" r="0.73" fill="#909090"/><circle cx="475.5" cy="975.9" r="0.49" fill="#8e8e8e"/><circle cx="474.0" cy="949.2" r="0.72" fill="#828282"/><circle cx="401.4" cy="897.2" r="0.53" fill="#929292"/><circle cx="420.1" cy="889.8" r="0.51" fill="#797979"/><circle cx="459.3" cy="939.4" r="0.48" fill="#7c7c7c"/><circle cx="419.9" cy="916.2" r="0.59" fill="#8c8c8c"/><circle cx="407.7" cy="913.6" r="0.65" fill="#898989"/><circle cx="430.5" cy="918.2" r="0.72" fill="#7d7d7d"/><circle cx="476.3" cy="887.3" r="0.76" fill="#828282"/><circle cx="405.9" cy="943.9" r="0.56" fill="#606060"/><circle cx="391.5" cy="903.9" r="0.68" fill="#747474"/><circle cx="402.0" cy="919.8" r="0.59" fill="#636363"/><circle cx="451.9" cy="936.8" r="0.54" fill="#6c6c6c"/><circle cx="424.9" cy="884.8" r="0.60" fill="#797979"/><circle cx="418.0" cy="977.5" r="0.59" fill="#646464"/><circle cx="477.4" cy="932.7" r="0.55" fill="#828282"/><circle cx="393.3" cy="973.7" r="0.60" fill="#7c7c7c"/><circle cx="470.2" cy="884.2" r="0.61" fill="#858585"/><circle cx="404.5" cy="950.3" r="0.79" fill="#939393"/><circle cx="467.8" cy="908.5" r="0.52" fill="#898989"/><circle cx="451.5" cy="967.9" r="0.69" fill="#898989"/><circle cx="427.2" cy="966.2" r="0.54" fill="#939393"/><circle cx="464.1" cy="897.5" r="0.61" fill="#878787"/><circle cx="413.9" cy="925.8" r="0.64" fill="#8d8d8d"/><circle cx="397.5" cy="953.2" r="0.70" fill="#979797"/><circle cx="456.6" cy="924.6" r="0.79" fill="#747474"/><circle cx="433.7" cy="924.9" r="0.66" fill="#747474"/><circle cx="407.3" cy="926.6" r="0.52" fill="#727272"/><circle cx="437.5" cy="950.8" r="0.74" fill="#939393"/><circle cx="437.5" cy="945.0" r="0.70" fill="#626262"/><circle cx="400.6" cy="890.6" r="0.63" fill="#636363"/><circle cx="474.2" cy="923.3" r="0.53" fill="#676767"/><circle cx="471.0" cy="917.1" r="0.62" fill="#6f6f6f"/><circle cx="428.4" cy="933.2" r="0.70" fill="#9a9a9a"/><circle cx="403.1" cy="910.4" r="0.70" fill="#727272"/><circle cx="409.6" cy="905.7" r="0.79" fill="#848484"/><circle cx="471.3" cy="883.9" r="0.59" fill="#757575"/><circle cx="412.5" cy="977.0" r="0.76" fill="#5f5f5f"/><circle cx="398.2" cy="963.4" r="0.59" fill="#626262"/><circle cx="433.7" cy="911.5" r="0.72" fill="#787878"/><circle cx="421.8" cy="921.1" r="0.68" fill="#7d7d7d"/><circle cx="405.6" cy="949.9" r="0.50" fill="#858585"/><circle cx="448.8" cy="887.7" r="0.63" fill="#686868"/><circle cx="454.2" cy="887.9" r="0.76" fill="#888888"/><circle cx="452.0" cy="902.6" r="0.72" fill="#747474"/><circle cx="418.7" cy="899.1" r="0.73" fill="#9b9b9b"/><circle cx="427.1" cy="907.2" r="0.63" fill="#7e7e7e"/><circle cx="438.1" cy="924.9" r="0.55" fill="#969696"/><circle cx="400.7" cy="900.8" r="0.75" fill="#606060"/><circle cx="393.0" cy="943.5" r="0.67" fill="#9a9a9a"/><circle cx="425.3" cy="884.9" r="0.68" fill="#636363"/><circle cx="414.8" cy="903.5" r="0.73" fill="#5f5f5f"/><circle cx="409.7" cy="935.9" r="0.46" fill="#838383"/><circle cx="431.8" cy="906.0" r="0.53" fill="#8b8b8b"/><circle cx="417.0" cy="966.2" r="0.47" fill="#7e7e7e"/><circle cx="415.8" cy="944.3" r="0.50" fill="#6d6d6d"/><circle cx="436.0" cy="885.3" r="0.45" fill="#717171"/><circle cx="443.5" cy="946.6" r="0.68" fill="#828282"/><circle cx="428.2" cy="941.1" r="0.66" fill="#8c8c8c"/><circle cx="457.8" cy="965.8" r="0.52" fill="#6b6b6b"/><circle cx="441.4" cy="889.8" r="0.74" fill="#808080"/><circle cx="464.5" cy="888.0" r="0.46" fill="#7f7f7f"/><circle cx="478.0" cy="922.7" r="0.61" fill="#989898"/><circle cx="465.5" cy="963.5" r="0.72" fill="#7a7a7a"/><circle cx="402.1" cy="966.6" r="0.80" fill="#6e6e6e"/><circle cx="455.0" cy="936.6" r="0.64" fill="#6c6c6c"/><circle cx="426.6" cy="925.4" r="0.46" fill="#8a8a8a"/><circle cx="391.7" cy="903.6" r="0.52" fill="#939393"/><circle cx="451.0" cy="917.7" r="0.55" fill="#8a8a8a"/><circle cx="439.3" cy="947.4" r="0.75" fill="#878787"/><circle cx="445.3" cy="885.4" r="0.73" fill="#969696"/><circle cx="422.1" cy="949.9" r="0.74" fill="#828282"/><circle cx="480.7" cy="961.2" r="0.75" fill="#696969"/><circle cx="414.7" cy="885.2" r="0.47" fill="#929292"/><circle cx="474.7" cy="960.8" r="0.77" fill="#989898"/><circle cx="476.7" cy="975.7" r="0.74" fill="#939393"/><circle cx="405.5" cy="916.0" r="0.73" fill="#949494"/><circle cx="482.3" cy="917.9" r="0.72" fill="#939393"/><circle cx="482.5" cy="943.0" r="0.57" fill="#6e6e6e"/><circle cx="429.2" cy="905.4" r="0.50" fill="#9b9b9b"/><circle cx="410.1" cy="954.1" r="0.66" fill="#838383"/><circle cx="477.4" cy="911.9" r="0.60" fill="#868686"/><circle cx="439.6" cy="946.3" r="0.76" fill="#888888"/><circle cx="439.1" cy="908.7" r="0.67" fill="#868686"/><circle cx="479.5" cy="973.4" r="0.48" fill="#626262"/><circle cx="443.4" cy="931.3" r="0.65" fill="#999999"/><circle cx="447.7" cy="913.8" r="0.66" fill="#656565"/><circle cx="452.3" cy="977.6" r="0.65" fill="#878787"/><circle cx="400.0" cy="945.0" r="0.79" fill="#9a9a9a"/><circle cx="433.0" cy="972.0" r="0.52" fill="#7d7d7d"/><circle cx="403.9" cy="938.6" r="0.64" fill="#949494"/><circle cx="478.2" cy="948.9" r="0.75" fill="#7a7a7a"/><circle cx="460.0" cy="891.1" r="0.62" fill="#909090"/><circle cx="430.4" cy="973.1" r="0.69" fill="#969696"/><circle cx="417.2" cy="944.0" r="0.64" fill="#7e7e7e"/><circle cx="474.6" cy="960.0" r="0.70" fill="#8f8f8f"/><circle cx="399.5" cy="887.0" r="0.52" fill="#666666"/><circle cx="464.2" cy="893.1" r="0.63" fill="#7e7e7e"/><circle cx="462.4" cy="955.3" r="0.50" fill="#7e7e7e"/><circle cx="390.3" cy="966.3" r="0.79" fill="#747474"/><circle cx="464.6" cy="909.2" r="0.51" fill="#8e8e8e"/><circle cx="448.9" cy="949.1" r="0.77" fill="#767676"/><circle cx="448.3" cy="949.0" r="0.65" fill="#7a7a7a"/><circle cx="437.7" cy="970.9" r="0.79" fill="#606060"/><circle cx="459.7" cy="972.1" r="0.58" fill="#939393"/><circle cx="448.3" cy="890.1" r="0.65" fill="#8b8b8b"/><circle cx="468.0" cy="899.5" r="0.61" fill="#777777"/><circle cx="403.6" cy="907.1" r="0.78" fill="#878787"/><circle cx="433.5" cy="976.0" r="0.67" fill="#898989"/><circle cx="460.1" cy="921.1" r="0.64" fill="#737373"/><circle cx="411.7" cy="946.5" r="0.71" fill="#868686"/><circle cx="424.1" cy="964.5" r="0.56" fill="#999999"/><circle cx="469.3" cy="910.0" r="0.80" fill="#626262"/><circle cx="448.8" cy="958.9" r="0.76" fill="#939393"/><circle cx="478.0" cy="923.5" r="0.65" fill="#6b6b6b"/><circle cx="433.0" cy="916.1" r="0.46" fill="#6c6c6c"/><circle cx="442.0" cy="935.5" r="0.61" fill="#727272"/><circle cx="458.4" cy="885.7" r="0.66" fill="#6c6c6c"/><circle cx="421.6" cy="965.2" r="0.50" fill="#6e6e6e"/><circle cx="422.3" cy="883.1" r="0.56" fill="#727272"/><circle cx="431.8" cy="908.3" r="0.78" fill="#6f6f6f"/><circle cx="396.9" cy="972.6" r="0.54" fill="#767676"/><circle cx="457.2" cy="921.2" r="0.72" fill="#666666"/><circle cx="396.4" cy="918.2" r="0.77" fill="#999999"/><circle cx="400.5" cy="956.4" r="0.59" fill="#939393"/><circle cx="473.8" cy="955.1" r="0.54" fill="#949494"/><circle cx="395.8" cy="954.9" r="0.74" fill="#949494"/><circle cx="442.4" cy="906.7" r="0.64" fill="#6f6f6f"/><circle cx="434.1" cy="904.0" r="0.48" fill="#797979"/><circle cx="431.2" cy="931.8" r="0.68" fill="#6f6f6f"/><circle cx="435.3" cy="904.1" r="0.57" fill="#868686"/><circle cx="457.8" cy="926.8" r="0.66" fill="#6f6f6f"/><circle cx="476.5" cy="913.8" r="0.52" fill="#626262"/><circle cx="423.9" cy="938.2" r="0.70" fill="#818181"/><circle cx="468.1" cy="910.7" r="0.66" fill="#838383"/><circle cx="419.1" cy="932.1" r="0.50" fill="#787878"/><circle cx="465.6" cy="901.1" r="0.47" fill="#9b9b9b"/><circle cx="440.1" cy="945.8" r="0.69" fill="#8a8a8a"/><circle cx="478.7" cy="937.3" r="0.64" fill="#868686"/><circle cx="440.2" cy="909.5" r="0.45" fill="#7f7f7f"/><circle cx="408.2" cy="955.0" r="0.53" fill="#626262"/><circle cx="447.6" cy="886.1" r="0.64" fill="#888888"/><circle cx="450.5" cy="911.2" r="0.77" fill="#898989"/><circle cx="407.6" cy="907.8" r="0.76" fill="#9a9a9a"/><circle cx="433.1" cy="933.6" r="0.56" fill="#959595"/><circle cx="411.4" cy="966.6" r="0.70" fill="#7a7a7a"/><circle cx="430.5" cy="941.1" r="0.56" fill="#858585"/><circle cx="410.7" cy="902.9" r="0.55" fill="#989898"/><circle cx="471.0" cy="965.2" r="0.73" fill="#8f8f8f"/><circle cx="457.8" cy="883.9" r="0.65" fill="#8e8e8e"/><circle cx="467.8" cy="885.0" r="0.65" fill="#7e7e7e"/><circle cx="397.8" cy="946.8" r="0.69" fill="#626262"/><circle cx="470.6" cy="965.1" r="0.78" fill="#858585"/><circle cx="474.3" cy="908.8" r="0.46" fill="#646464"/><circle cx="424.7" cy="884.7" r="0.70" fill="#797979"/><circle cx="430.1" cy="890.5" r="0.74" fill="#737373"/><circle cx="453.2" cy="932.2" r="0.57" fill="#8c8c8c"/><circle cx="432.5" cy="930.2" r="0.65" fill="#646464"/><circle cx="448.6" cy="888.4" r="0.50" fill="#7c7c7c"/><circle cx="457.0" cy="968.7" r="0.66" fill="#8e8e8e"/><circle cx="415.6" cy="937.9" r="0.50" fill="#646464"/><circle cx="481.6" cy="976.0" r="0.53" fill="#878787"/><circle cx="426.3" cy="973.0" r="0.71" fill="#777777"/><circle cx="482.5" cy="919.4" r="0.61" fill="#646464"/><circle cx="445.5" cy="927.2" r="0.46" fill="#7d7d7d"/><circle cx="411.7" cy="905.2" r="0.46" fill="#757575"/><circle cx="420.4" cy="907.3" r="0.75" fill="#8e8e8e"/><circle cx="458.9" cy="904.6" r="0.71" fill="#909090"/><circle cx="469.5" cy="886.4" r="0.72" fill="#919191"/><circle cx="468.2" cy="922.0" r="0.71" fill="#878787"/><circle cx="452.6" cy="938.4" r="0.62" fill="#909090"/><circle cx="422.3" cy="901.0" r="0.75" fill="#686868"/><circle cx="473.2" cy="977.9" r="0.76" fill="#6f6f6f"/><circle cx="412.0" cy="922.0" r="0.55" fill="#8b8b8b"/><circle cx="396.7" cy="917.8" r="0.78" fill="#777777"/><circle cx="434.4" cy="896.9" r="0.62" fill="#898989"/><circle cx="475.1" cy="976.5" r="0.45" fill="#848484"/><circle cx="460.4" cy="956.8" r="0.55" fill="#747474"/><circle cx="403.5" cy="967.4" r="0.65" fill="#848484"/><circle cx="400.6" cy="953.1" r="0.79" fill="#676767"/><circle cx="440.8" cy="925.6" r="0.57" fill="#707070"/><circle cx="449.8" cy="930.1" r="0.48" fill="#878787"/><circle cx="439.8" cy="933.5" r="0.54" fill="#6c6c6c"/><circle cx="426.0" cy="903.8" r="0.53" fill="#7a7a7a"/><circle cx="439.6" cy="910.4" r="0.70" fill="#707070"/><circle cx="398.8" cy="964.0" r="0.59" fill="#6c6c6c"/><circle cx="424.4" cy="955.0" r="0.74" fill="#878787"/><circle cx="389.4" cy="899.7" r="0.78" fill="#7e7e7e"/><circle cx="402.1" cy="883.4" r="0.56" fill="#606060"/><circle cx="403.5" cy="965.5" r="0.67" fill="#737373"/><circle cx="474.7" cy="946.2" r="0.60" fill="#6a6a6a"/><circle cx="462.8" cy="964.6" r="0.55" fill="#6c6c6c"/><circle cx="477.8" cy="902.0" r="0.48" fill="#636363"/><circle cx="439.9" cy="927.5" r="0.72" fill="#6f6f6f"/><circle cx="404.2" cy="908.8" r="0.74" fill="#676767"/><circle cx="413.1" cy="916.7" r="0.61" fill="#707070"/><circle cx="475.3" cy="964.4" r="0.77" fill="#999999"/><circle cx="467.1" cy="968.1" r="0.62" fill="#757575"/><circle cx="458.7" cy="922.4" r="0.55" fill="#616161"/><circle cx="425.0" cy="907.0" r="0.74" fill="#696969"/><circle cx="422.9" cy="959.2" r="0.58" fill="#969696"/><circle cx="416.7" cy="940.1" r="0.57" fill="#898989"/><circle cx="440.1" cy="921.6" r="0.52" fill="#6f6f6f"/><circle cx="400.9" cy="908.5" r="0.68" fill="#878787"/><circle cx="411.9" cy="968.2" r="0.64" fill="#808080"/><circle cx="396.2" cy="887.2" r="0.64" fill="#737373"/><circle cx="421.1" cy="929.1" r="0.45" fill="#878787"/><circle cx="421.9" cy="957.1" r="0.69" fill="#6c6c6c"/><circle cx="425.5" cy="945.0" r="0.71" fill="#9a9a9a"/><circle cx="428.8" cy="944.8" r="0.78" fill="#626262"/><circle cx="418.1" cy="932.9" r="0.64" fill="#7b7b7b"/><circle cx="445.6" cy="907.7" r="0.50" fill="#828282"/><circle cx="419.2" cy="894.7" r="0.58" fill="#646464"/><circle cx="406.4" cy="902.2" r="0.68" fill="#7f7f7f"/><circle cx="458.3" cy="964.1" r="0.72" fill="#919191"/><circle cx="428.1" cy="978.2" r="0.77" fill="#6b6b6b"/><circle cx="459.6" cy="955.9" r="0.67" fill="#717171"/><circle cx="444.7" cy="949.0" r="0.50" fill="#888888"/><circle cx="482.2" cy="925.8" r="0.60" fill="#636363"/><circle cx="412.9" cy="941.0" r="0.49" fill="#6c6c6c"/><circle cx="448.9" cy="914.8" r="0.56" fill="#767676"/><circle cx="440.2" cy="896.8" r="0.57" fill="#626262"/><circle cx="436.2" cy="956.9" r="0.53" fill="#838383"/><circle cx="412.3" cy="909.1" r="0.50" fill="#777777"/><circle cx="466.5" cy="884.1" r="0.60" fill="#676767"/><circle cx="421.1" cy="963.4" r="0.77" fill="#909090"/><circle cx="482.1" cy="963.2" r="0.51" fill="#5f5f5f"/><circle cx="468.0" cy="896.3" r="0.71" fill="#646464"/><circle cx="436.4" cy="922.2" r="0.65" fill="#606060"/><circle cx="394.9" cy="910.6" r="0.52" fill="#929292"/><circle cx="415.7" cy="963.4" r="0.52" fill="#686868"/><circle cx="390.9" cy="895.1" r="0.69" fill="#6c6c6c"/><circle cx="407.4" cy="895.3" r="0.45" fill="#666666"/><circle cx="464.2" cy="930.9" r="0.70" fill="#727272"/><circle cx="406.2" cy="920.7" r="0.64" fill="#696969"/><circle cx="459.7" cy="897.5" r="0.54" fill="#676767"/><circle cx="392.8" cy="976.4" r="0.79" fill="#7d7d7d"/><circle cx="470.9" cy="977.0" r="0.74" fill="#7a7a7a"/><circle cx="427.7" cy="971.1" r="0.78" fill="#707070"/><circle cx="447.7" cy="939.6" r="0.78" fill="#959595"/><circle cx="482.1" cy="930.7" r="0.68" fill="#656565"/><circle cx="458.2" cy="906.6" r="0.70" fill="#6b6b6b"/><circle cx="480.1" cy="920.7" r="0.65" fill="#909090"/><circle cx="406.9" cy="907.7" r="0.74" fill="#737373"/><circle cx="461.9" cy="913.1" r="0.57" fill="#848484"/><circle cx="409.2" cy="975.6" r="0.67" fill="#767676"/><circle cx="460.3" cy="896.3" r="0.52" fill="#676767"/><circle cx="408.3" cy="912.6" r="0.53" fill="#939393"/><circle cx="408.6" cy="925.6" r="0.72" fill="#717171"/><circle cx="443.4" cy="951.7" r="0.79" fill="#616161"/><circle cx="422.0" cy="973.5" r="0.50" fill="#727272"/><circle cx="404.0" cy="964.8" r="0.61" fill="#696969"/><circle cx="399.0" cy="931.2" r="0.71" fill="#767676"/><circle cx="441.2" cy="883.4" r="0.50" fill="#767676"/><circle cx="442.2" cy="917.2" r="0.75" fill="#777777"/><circle cx="439.3" cy="959.1" r="0.48" fill="#606060"/><circle cx="446.3" cy="911.4" r="0.69" fill="#898989"/><circle cx="471.4" cy="909.5" r="0.51" fill="#909090"/><circle cx="478.1" cy="978.2" r="0.74" fill="#666666"/><circle cx="443.9" cy="924.9" r="0.52" fill="#6b6b6b"/><circle cx="431.6" cy="974.7" r="0.78" fill="#888888"/><circle cx="419.0" cy="915.2" r="0.57" fill="#777777"/><circle cx="482.8" cy="888.9" r="0.54" fill="#8c8c8c"/><circle cx="440.6" cy="941.3" r="0.57" fill="#8d8d8d"/><circle cx="466.5" cy="933.6" r="0.72" fill="#7d7d7d"/><circle cx="408.7" cy="950.3" r="0.78" fill="#696969"/><circle cx="402.9" cy="922.0" r="0.55" fill="#9a9a9a"/><circle cx="475.1" cy="895.8" r="0.63" fill="#686868"/><circle cx="438.5" cy="966.9" r="0.59" fill="#888888"/><circle cx="433.4" cy="937.4" r="0.51" fill="#747474"/><circle cx="456.6" cy="955.7" r="0.52" fill="#888888"/><circle cx="480.3" cy="895.2" r="0.52" fill="#7f7f7f"/><circle cx="440.8" cy="883.9" r="0.79" fill="#888888"/><circle cx="418.2" cy="936.3" r="0.74" fill="#838383"/><circle cx="441.5" cy="958.3" r="0.75" fill="#676767"/><circle cx="451.0" cy="934.3" r="0.63" fill="#686868"/><circle cx="414.9" cy="931.2" r="0.65" fill="#949494"/><circle cx="434.7" cy="953.4" r="0.76" fill="#909090"/><circle cx="419.5" cy="958.7" r="0.78" fill="#5f5f5f"/><circle cx="466.8" cy="962.6" r="0.61" fill="#727272"/><circle cx="403.1" cy="916.3" r="0.71" fill="#6c6c6c"/><circle cx="453.9" cy="967.6" r="0.75" fill="#868686"/><circle cx="413.9" cy="897.6" r="0.52" fill="#656565"/><circle cx="459.5" cy="899.1" r="0.57" fill="#7e7e7e"/><circle cx="406.0" cy="921.3" r="0.47" fill="#717171"/><circle cx="448.7" cy="923.2" r="0.71" fill="#7e7e7e"/><circle cx="433.2" cy="895.6" r="0.69" fill="#808080"/><circle cx="455.2" cy="890.7" r="0.52" fill="#696969"/><circle cx="391.1" cy="946.8" r="0.64" fill="#8a8a8a"/><circle cx="461.4" cy="962.8" r="0.60" fill="#797979"/><circle cx="453.7" cy="958.5" r="0.78" fill="#8e8e8e"/><circle cx="455.4" cy="924.6" r="0.74" fill="#858585"/><circle cx="479.0" cy="954.0" r="0.74" fill="#7f7f7f"/><circle cx="475.1" cy="887.0" r="0.59" fill="#7a7a7a"/><circle cx="441.0" cy="967.8" r="0.48" fill="#939393"/><circle cx="401.8" cy="909.2" r="0.56" fill="#636363"/><circle cx="410.7" cy="949.0" r="0.78" fill="#8e8e8e"/><circle cx="453.5" cy="972.0" r="0.66" fill="#828282"/><circle cx="413.4" cy="922.8" r="0.53" fill="#707070"/><circle cx="405.8" cy="938.9" r="0.73" fill="#616161"/><circle cx="474.3" cy="940.7" r="0.52" fill="#828282"/><circle cx="467.2" cy="975.7" r="0.64" fill="#717171"/><circle cx="424.5" cy="913.6" r="0.76" fill="#7a7a7a"/><circle cx="405.3" cy="887.5" r="0.70" fill="#7e7e7e"/><circle cx="400.3" cy="964.9" r="0.52" fill="#6b6b6b"/><circle cx="415.4" cy="972.9" r="0.62" fill="#999999"/><circle cx="431.5" cy="972.1" r="0.66" fill="#7a7a7a"/><circle cx="450.4" cy="895.6" r="0.65" fill="#939393"/><circle cx="391.7" cy="960.0" r="0.72" fill="#8c8c8c"/><circle cx="415.9" cy="943.2" r="0.61" fill="#626262"/><circle cx="476.4" cy="959.0" r="0.53" fill="#818181"/><circle cx="439.9" cy="891.1" r="0.67" fill="#656565"/><circle cx="402.4" cy="883.3" r="0.67" fill="#868686"/><circle cx="410.3" cy="933.5" r="0.79" fill="#8f8f8f"/><circle cx="400.5" cy="970.6" r="0.73" fill="#686868"/><circle cx="401.8" cy="922.0" r="0.45" fill="#848484"/><circle cx="434.5" cy="934.5" r="0.52" fill="#626262"/><circle cx="458.7" cy="925.1" r="0.80" fill="#909090"/><circle cx="472.1" cy="910.7" r="0.45" fill="#888888"/><circle cx="424.8" cy="957.2" r="0.67" fill="#939393"/><circle cx="475.0" cy="947.6" r="0.78" fill="#919191"/><circle cx="423.6" cy="928.0" r="0.49" fill="#636363"/><circle cx="448.4" cy="919.9" r="0.61" fill="#767676"/><circle cx="401.6" cy="950.1" r="0.51" fill="#929292"/><circle cx="422.0" cy="894.9" r="0.67" fill="#868686"/><circle cx="445.2" cy="894.7" r="0.46" fill="#7f7f7f"/><circle cx="460.7" cy="940.2" r="0.78" fill="#838383"/><circle cx="478.7" cy="913.9" r="0.64" fill="#797979"/><circle cx="423.4" cy="908.1" r="0.55" fill="#6a6a6a"/><circle cx="481.3" cy="948.0" r="0.57" fill="#828282"/><circle cx="464.5" cy="952.3" r="0.78" fill="#999999"/><circle cx="456.8" cy="955.1" r="0.65" fill="#646464"/><circle cx="423.4" cy="966.3" r="0.51" fill="#7e7e7e"/><circle cx="477.9" cy="967.2" r="0.50" fill="#5f5f5f"/><circle cx="408.4" cy="945.8" r="0.48" fill="#686868"/><circle cx="442.6" cy="917.1" r="0.60" fill="#878787"/><circle cx="406.8" cy="977.0" r="0.58" fill="#868686"/><circle cx="456.1" cy="958.3" r="0.67" fill="#707070"/><circle cx="409.8" cy="911.4" r="0.76" fill="#797979"/><circle cx="473.0" cy="939.2" r="0.66" fill="#777777"/><circle cx="447.0" cy="956.2" r="0.67" fill="#606060"/><circle cx="449.5" cy="933.6" r="0.54" fill="#999999"/><circle cx="394.8" cy="890.4" r="0.73" fill="#747474"/><circle cx="442.9" cy="920.1" r="0.52" fill="#767676"/><circle cx="399.2" cy="910.8" r="0.80" fill="#7b7b7b"/><circle cx="478.2" cy="918.0" r="0.55" fill="#868686"/><circle cx="475.9" cy="885.6" r="0.68" fill="#616161"/><circle cx="466.9" cy="884.6" r="0.67" fill="#6e6e6e"/><circle cx="409.1" cy="929.8" r="0.69" fill="#6c6c6c"/><circle cx="407.2" cy="918.3" r="0.51" fill="#949494"/><circle cx="446.7" cy="958.9" r="0.77" fill="#646464"/><circle cx="458.2" cy="926.2" r="0.51" fill="#898989"/><circle cx="461.7" cy="930.2" r="0.65" fill="#6c6c6c"/><circle cx="422.0" cy="941.5" r="0.46" fill="#777777"/><circle cx="465.4" cy="907.7" r="0.52" fill="#7a7a7a"/><circle cx="452.0" cy="906.1" r="0.69" fill="#717171"/><circle cx="413.6" cy="921.5" r="0.75" fill="#8c8c8c"/><circle cx="414.7" cy="884.2" r="0.65" fill="#767676"/><circle cx="451.9" cy="945.5" r="0.51" fill="#717171"/><circle cx="444.4" cy="962.4" r="0.79" fill="#949494"/><circle cx="464.6" cy="932.4" r="0.50" fill="#7d7d7d"/><circle cx="475.6" cy="936.2" r="0.67" fill="#858585"/><circle cx="474.6" cy="971.7" r="0.48" fill="#7d7d7d"/><circle cx="435.0" cy="894.4" r="0.62" fill="#7a7a7a"/><circle cx="446.5" cy="933.2" r="0.54" fill="#808080"/><circle cx="408.0" cy="954.7" r="0.65" fill="#909090"/><circle cx="467.8" cy="906.5" r="0.49" fill="#7d7d7d"/><circle cx="405.5" cy="916.1" r="0.55" fill="#929292"/><circle cx="399.2" cy="931.9" r="0.48" fill="#979797"/><circle cx="457.1" cy="927.5" r="0.69" fill="#8a8a8a"/><circle cx="422.8" cy="891.9" r="0.67" fill="#636363"/><circle cx="394.6" cy="969.4" r="0.59" fill="#616161"/><circle cx="450.1" cy="950.8" r="0.47" fill="#999999"/><circle cx="402.8" cy="906.1" r="0.53" fill="#9b9b9b"/><circle cx="421.4" cy="894.9" r="0.60" fill="#999999"/><circle cx="422.0" cy="908.0" r="0.68" fill="#878787"/><circle cx="464.9" cy="926.9" r="0.68" fill="#969696"/><circle cx="423.0" cy="913.0" r="0.61" fill="#828282"/><circle cx="462.8" cy="964.1" r="0.50" fill="#6b6b6b"/><circle cx="403.1" cy="925.3" r="0.59" fill="#949494"/><circle cx="389.3" cy="925.2" r="0.80" fill="#797979"/><circle cx="464.3" cy="958.2" r="0.60" fill="#868686"/><circle cx="391.8" cy="898.9" r="0.63" fill="#767676"/><circle cx="425.6" cy="930.3" r="0.54" fill="#878787"/><circle cx="474.7" cy="954.8" r="0.68" fill="#858585"/><circle cx="408.9" cy="930.4" r="0.58" fill="#676767"/><circle cx="453.3" cy="927.1" r="0.63" fill="#646464"/><circle cx="429.2" cy="904.3" r="0.59" fill="#676767"/><circle cx="464.7" cy="973.7" r="0.58" fill="#7b7b7b"/><circle cx="395.9" cy="935.9" r="0.69" fill="#767676"/><circle cx="409.6" cy="915.0" r="0.45" fill="#636363"/><circle cx="463.4" cy="954.8" r="0.59" fill="#898989"/><circle cx="417.7" cy="916.1" r="0.78" fill="#626262"/><circle cx="431.6" cy="929.0" r="0.59" fill="#606060"/><circle cx="453.4" cy="978.2" r="0.79" fill="#858585"/><circle cx="425.1" cy="915.7" r="0.71" fill="#828282"/><circle cx="436.9" cy="908.4" r="0.77" fill="#929292"/><circle cx="478.0" cy="896.7" r="0.68" fill="#858585"/><circle cx="461.5" cy="896.6" r="0.65" fill="#656565"/><circle cx="448.7" cy="935.2" r="0.63" fill="#666666"/><circle cx="427.5" cy="932.1" r="0.49" fill="#808080"/><circle cx="467.6" cy="928.6" r="0.66" fill="#858585"/><circle cx="434.6" cy="882.9" r="0.72" fill="#9b9b9b"/><circle cx="449.3" cy="894.1" r="0.73" fill="#797979"/><circle cx="460.0" cy="889.9" r="0.57" fill="#7d7d7d"/><circle cx="407.9" cy="890.3" r="0.54" fill="#838383"/><circle cx="402.3" cy="939.2" r="0.60" fill="#676767"/><circle cx="460.6" cy="908.2" r="0.51" fill="#646464"/><circle cx="419.2" cy="951.7" r="0.66" fill="#5f5f5f"/><circle cx="475.3" cy="920.0" r="0.72" fill="#868686"/><circle cx="461.4" cy="965.5" r="0.77" fill="#8f8f8f"/><circle cx="409.9" cy="969.2" r="0.54" fill="#828282"/><circle cx="416.8" cy="907.7" r="0.73" fill="#919191"/><circle cx="446.2" cy="896.7" r="0.55" fill="#999999"/><circle cx="449.2" cy="916.8" r="0.45" fill="#808080"/><circle cx="417.1" cy="924.1" r="0.64" fill="#797979"/><circle cx="425.5" cy="906.9" r="0.51" fill="#7a7a7a"/><circle cx="445.8" cy="941.5" r="0.70" fill="#666666"/><circle cx="478.5" cy="957.6" r="0.60" fill="#6e6e6e"/><circle cx="472.3" cy="945.7" r="0.56" fill="#707070"/><circle cx="476.5" cy="938.3" r="0.50" fill="#696969"/><circle cx="410.0" cy="937.1" r="0.65" fill="#979797"/><circle cx="413.8" cy="901.4" r="0.65" fill="#707070"/><circle cx="463.0" cy="937.9" r="0.49" fill="#777777"/><circle cx="461.7" cy="969.0" r="0.79" fill="#696969"/><circle cx="448.8" cy="887.8" r="0.59" fill="#606060"/><circle cx="417.9" cy="897.4" r="0.68" fill="#757575"/><circle cx="456.3" cy="887.3" r="0.50" fill="#9a9a9a"/><circle cx="428.2" cy="958.9" r="0.65" fill="#8f8f8f"/><circle cx="461.0" cy="926.4" r="0.60" fill="#787878"/><circle cx="410.6" cy="930.7" r="0.57" fill="#949494"/><circle cx="460.8" cy="928.7" r="0.53" fill="#6f6f6f"/><circle cx="412.2" cy="936.2" r="0.76" fill="#707070"/><circle cx="425.4" cy="976.5" r="0.58" fill="#757575"/><circle cx="465.7" cy="901.3" r="0.72" fill="#838383"/><circle cx="437.2" cy="922.9" r="0.61" fill="#949494"/><circle cx="448.1" cy="944.1" r="0.77" fill="#9b9b9b"/><circle cx="425.3" cy="957.5" r="0.47" fill="#828282"/><circle cx="407.4" cy="902.5" r="0.74" fill="#666666"/><circle cx="447.2" cy="977.2" r="0.76" fill="#808080"/><circle cx="455.1" cy="920.3" r="0.53" fill="#9b9b9b"/><circle cx="402.0" cy="898.2" r="0.64" fill="#737373"/><circle cx="441.2" cy="889.6" r="0.78" fill="#737373"/><circle cx="434.8" cy="905.7" r="0.71" fill="#626262"/><circle cx="441.8" cy="894.7" r="0.70" fill="#7f7f7f"/><circle cx="392.7" cy="966.4" r="0.60" fill="#838383"/><circle cx="430.4" cy="915.9" r="0.67" fill="#797979"/><circle cx="398.8" cy="935.4" r="0.49" fill="#979797"/><circle cx="398.9" cy="943.6" r="0.77" fill="#848484"/><circle cx="414.2" cy="902.2" r="0.48" fill="#656565"/><circle cx="475.9" cy="918.8" r="0.47" fill="#8b8b8b"/><circle cx="407.6" cy="950.0" r="0.52" fill="#858585"/><circle cx="391.5" cy="971.8" r="0.59" fill="#7b7b7b"/><circle cx="437.6" cy="943.1" r="0.52" fill="#737373"/><circle cx="437.9" cy="934.9" r="0.76" fill="#898989"/><circle cx="475.1" cy="932.0" r="0.70" fill="#6c6c6c"/><circle cx="409.2" cy="931.8" r="0.54" fill="#989898"/><circle cx="408.8" cy="903.5" r="0.64" fill="#6f6f6f"/><circle cx="419.0" cy="950.8" r="0.62" fill="#919191"/><circle cx="411.1" cy="920.4" r="0.70" fill="#888888"/><circle cx="427.0" cy="972.7" r="0.77" fill="#6d6d6d"/><circle cx="405.7" cy="889.4" r="0.51" fill="#787878"/><circle cx="470.5" cy="911.7" r="0.74" fill="#777777"/><circle cx="479.2" cy="965.9" r="0.73" fill="#959595"/><circle cx="390.5" cy="942.1" r="0.65" fill="#717171"/><circle cx="409.4" cy="898.6" r="0.63" fill="#7c7c7c"/><circle cx="410.4" cy="952.9" r="0.64" fill="#686868"/><circle cx="393.0" cy="887.6" r="0.46" fill="#7b7b7b"/><circle cx="456.9" cy="922.9" r="0.73" fill="#7a7a7a"/><circle cx="417.6" cy="919.1" r="0.77" fill="#8f8f8f"/><circle cx="404.6" cy="893.3" r="0.62" fill="#686868"/><circle cx="406.6" cy="972.7" r="0.59" fill="#6e6e6e"/><circle cx="397.3" cy="908.8" r="0.58" fill="#6f6f6f"/><circle cx="481.4" cy="913.0" r="0.65" fill="#858585"/><circle cx="400.8" cy="931.1" r="0.68" fill="#606060"/><circle cx="467.6" cy="889.2" r="0.55" fill="#6b6b6b"/><polyline points="429.5,936.8 430.5,936.6 431.3,935.5" fill="none" stroke="#323232" stroke-width="1.2" stroke-linecap="round" stroke-linejoin="round"/><polyline points="418.5,937.6 419.3,938.0 419.9,938.9 421.5,939.1" fill="none" stroke="#5a5a5a" stroke-width="1.5" stroke-linecap="round" stroke-linejoin="round"/><polyline points="436.0,936.8 437.0,936.6 438.5,936.3 439.3,935.7" fill="none" stroke="#313131" stroke-width="1.4" stroke-linecap="round" stroke-linejoin="round"/><polyline points="436.0,936.0 436.6,937.1 437.5,938.0 437.3,939.7" fill="none" stroke="#565656" stroke-width="1.4" stroke-linecap="round" stroke-linejoin="round"/><polyline points="433.2,930.8 434.2,931.5 436.0,931.3" fill="none" stroke="#343434" stroke-width="1.1" stroke-linecap="round" stroke-linejoin="round"/><polyline points="424.6,928.8 425.2,929.3 426.9,929.2 428.0,928.0 429.1,926.6" fill="none" stroke="#545454" stroke-width="1.0" stroke-linecap="round" stroke-linejoin="round"/><polyline points="434.3,932.9 435.4,931.7 436.8,930.9 437.6,930.8" fill="none" stroke="#3f3f3f" stroke-width="1.5" stroke-linecap="round" stroke-linejoin="round"/><polyline points="427.7,929.5 426.7,929.5 425.4,930.6" fill="none" stroke="#484848" stroke-width="0.9" stroke-linecap="round" stroke-linejoin="round"/><polyline points="423.9,931.3 423.5,933.0 423.0,934.0 421.8,934.6 420.6,934.9" fill="none" stroke="#555555" stroke-width="1.1" stroke-linecap="round" stroke-linejoin="round"/><polyline points="426.4,940.1 425.6,938.8 425.1,937.3 423.6,936.4" fill="none" stroke="#404040" stroke-width="1.5" stroke-linecap="round" stroke-linejoin="round"/><polyline points="420.2,930.4 421.5,930.4 422.9,931.1 424.3,931.6 424.8,932.5" fill="none" stroke="#404040" stroke-width="1.2" stroke-linecap="round" stroke-linejoin="round"/><polyline points="434.7,938.1 435.7,938.6 436.1,940.0 437.1,941.0" fill="none" stroke="#3a3a3a" stroke-width="1.5" stroke-linecap="round" stroke-linejoin="round"/><polyline points="423.5,941.9 424.5,940.6 424.4,939.0 425.2,937.5" fill="none" stroke="#4c4c4c" stroke-width="1.2" stroke-linecap="round" stroke-linejoin="round"/><polyline points="422.5,939.6 421.7,938.6 420.4,938.5 419.6,939.1 417.8,939.2" fill="none" stroke="#505050" stroke-width="1.0" stroke-linecap="round" stroke-linejoin="round"/><polyline points="435.6,932.9 436.4,933.3 437.4,932.8" fill="none" stroke="#474747" stroke-width="1.4" stroke-linecap="round" stroke-linejoin="round"/><polyline points="421.8,942.7 420.1,942.9 419.3,943.9 418.8,945.5 417.6,946.7" fill="none" stroke="#414141" stroke-width="1.3" stroke-linecap="round" stroke-linejoin="round"/><polyline points="433.2,941.0 433.6,942.1 433.3,943.2" fill="none" stroke="#2b2b2b" stroke-width="0.9" stroke-linecap="round" stroke-linejoin="round"/><polyline points="423.2,934.8 422.7,935.7 423.2,936.6 424.1,936.9" fill="none" stroke="#595959" stroke-width="1.0" stroke-linecap="round" stroke-linejoin="round"/><polyline points="418.5,937.5 417.0,938.2 415.9,937.8" fill="none" stroke="#373737" stroke-width="1.5" stroke-linecap="round" stroke-linejoin="round"/><polyline points="421.4,931.2 421.5,929.8 421.7,928.4 421.5,927.1 421.7,925.4" fill="none" stroke="#3a3a3a" stroke-width="1.0" stroke-linecap="round" stroke-linejoin="round"/><polyline points="433.1,932.9 432.2,931.6 431.2,930.5 430.3,929.9 429.6,928.7" fill="none" stroke="#393939" stroke-width="1.4" stroke-linecap="round" stroke-linejoin="round"/><polyline points="426.6,930.9 427.5,929.9 427.3,928.7 427.4,927.1 427.2,925.9" fill="none" stroke="#5e5e5e" stroke-width="1.5" stroke-linecap="round" stroke-linejoin="round"/><polyline points="428.5,933.8 428.8,934.6 429.9,935.3 430.8,935.9 431.6,936.2" fill="none" stroke="#282828" stroke-width="0.9" stroke-linecap="round" stroke-linejoin="round"/><polyline points="431.1,935.2 432.5,934.8 433.9,935.8" fill="none" stroke="#303030" stroke-width="1.5" stroke-linecap="round" stroke-linejoin="round"/><polyline points="432.8,934.0 433.4,932.8 434.7,932.0 436.3,932.6" fill="none" stroke="#5f5f5f" stroke-width="1.5" stroke-linecap="round" stroke-linejoin="round"/><polyline points="427.5,932.6 426.6,931.2 427.1,930.0 427.5,929.1" fill="none" stroke="#4a4a4a" stroke-width="1.5" stroke-linecap="round" stroke-linejoin="round"/><polyline points="425.0,933.5 426.2,933.4 427.1,933.7 428.1,933.8" fill="none" stroke="#2c2c2c" stroke-width="1.5" stroke-linecap="round" stroke-linejoin="round"/><polyline points="425.8,928.4 425.3,930.0 425.7,931.6" fill="none" stroke="#5e5e5e" stroke-width="1.2" stroke-linecap="round" stroke-linejoin="round"/><polyline points="422.8,942.4 423.4,941.7 423.1,940.4 422.1,939.9 420.5,939.8" fill="none" stroke="#474747" stroke-width="1.6" stroke-linecap="round" stroke-linejoin="round"/><polyline points="433.4,939.7 433.5,938.8 432.5,937.6 432.7,936.7 432.2,936.1" fill="none" stroke="#353535" stroke-width="1.2" stroke-linecap="round" stroke-linejoin="round"/><polyline points="427.5,932.4 426.7,931.5 425.6,931.5" fill="none" stroke="#3b3b3b" stroke-width="1.6" stroke-linecap="round" stroke-linejoin="round"/><polyline points="422.6,932.9 422.9,934.3 423.9,934.8" fill="none" stroke="#454545" stroke-width="1.4" stroke-linecap="round" stroke-linejoin="round"/><polyline points="424.6,938.4 423.7,939.0 423.4,940.4" fill="none" stroke="#343434" stroke-width="1.1" stroke-linecap="round" stroke-linejoin="round"/><polyline points="426.4,934.3 426.4,935.5 426.8,936.7 426.2,937.5" fill="none" stroke="#474747" stroke-width="1.1" stroke-linecap="round" stroke-linejoin="round"/><polyline points="417.2,937.2 417.8,936.0 419.3,935.6 420.5,935.6" fill="none" stroke="#595959" stroke-width="1.2" stroke-linecap="round" stroke-linejoin="round"/><polyline points="430.2,928.7 429.9,927.8 429.9,926.8 431.0,925.4" fill="none" stroke="#454545" stroke-width="1.5" stroke-linecap="round" stroke-linejoin="round"/><polyline points="427.1,933.4 428.4,933.2 429.4,932.3" fill="none" stroke="#3f3f3f" stroke-width="0.9" stroke-linecap="round" stroke-linejoin="round"/><polyline points="429.3,934.1 428.9,934.8 427.9,935.1 426.3,934.8 425.6,934.1" fill="none" stroke="#5c5c5c" stroke-width="1.5" stroke-linecap="round" stroke-linejoin="round"/><polyline points="432.5,939.0 433.5,939.2 435.1,939.6 436.4,939.6" fill="none" stroke="#5e5e5e" stroke-width="1.2" stroke-linecap="round" stroke-linejoin="round"/><polyline points="419.6,939.4 420.4,938.4 421.2,938.0" fill="none" stroke="#373737" stroke-width="1.3" stroke-linecap="round" stroke-linejoin="round"/><polyline points="435.7,934.2 435.2,935.2 433.6,935.5 432.7,936.3 431.7,936.7" fill="none" stroke="#5f5f5f" stroke-width="1.4" stroke-linecap="round" stroke-linejoin="round"/><polyline points="425.1,936.4 425.2,937.5 424.8,939.0 424.4,939.7 424.4,940.6" fill="none" stroke="#292929" stroke-width="1.0" stroke-linecap="round" stroke-linejoin="round"/><polyline points="420.0,940.5 421.0,942.0 421.1,943.6 421.5,945.3 421.5,946.4" fill="none" stroke="#353535" stroke-width="1.4" stroke-linecap="round" stroke-linejoin="round"/><polyline points="434.5,937.5 433.7,938.5 434.0,940.0 434.2,941.3" fill="none" stroke="#5e5e5e" stroke-width="1.6" stroke-linecap="round" stroke-linejoin="round"/><polyline points="422.9,937.7 422.2,938.2 421.2,939.3" fill="none" stroke="#4a4a4a" stroke-width="1.4" stroke-linecap="round" stroke-linejoin="round"/><polyline points="432.5,938.7 431.6,938.8 430.3,938.8 429.4,939.0" fill="none" stroke="#444444" stroke-width="1.1" stroke-linecap="round" stroke-linejoin="round"/><polyline points="435.1,939.6 435.2,940.6 436.3,941.7" fill="none" stroke="#5d5d5d" stroke-width="0.9" stroke-linecap="round" stroke-linejoin="round"/><polyline points="426.1,931.1 425.9,932.0 424.9,932.8 424.2,933.3" fill="none" stroke="#484848" stroke-width="1.1" stroke-linecap="round" stroke-linejoin="round"/><polyline points="436.7,934.7 436.1,934.0 435.5,933.3 434.9,932.0" fill="none" stroke="#595959" stroke-width="1.4" stroke-linecap="round" stroke-linejoin="round"/><polyline points="430.2,942.1 429.8,943.0 428.6,944.1 428.4,944.9 428.0,946.2" fill="none" stroke="#4f4f4f" stroke-width="1.3" stroke-linecap="round" stroke-linejoin="round"/><polyline points="417.2,936.9 416.3,935.4 416.1,934.3" fill="none" stroke="#585858" stroke-width="1.3" stroke-linecap="round" stroke-linejoin="round"/><polyline points="420.1,935.0 419.9,934.0 418.7,932.7" fill="none" stroke="#565656" stroke-width="1.0" stroke-linecap="round" stroke-linejoin="round"/><polyline points="417.3,935.4 417.0,936.3 416.2,937.0 415.5,938.1 413.7,938.4" fill="none" stroke="#4b4b4b" stroke-width="1.2" stroke-linecap="round" stroke-linejoin="round"/><polyline points="428.6,934.7 428.8,935.8 428.7,936.8 429.5,937.5" fill="none" stroke="#494949" stroke-width="1.3" stroke-linecap="round" stroke-linejoin="round"/><polyline points="429.4,938.0 429.9,936.8 429.6,935.6 428.6,934.4 426.9,933.8" fill="none" stroke="#353535" stroke-width="1.5" stroke-linecap="round" stroke-linejoin="round"/><polyline points="435.6,935.4 434.2,935.0 433.4,933.9 432.2,933.2" fill="none" stroke="#515151" stroke-width="1.2" stroke-linecap="round" stroke-linejoin="round"/><polyline points="428.5,937.0 427.2,936.2 426.1,936.1 425.0,936.8" fill="none" stroke="#595959" stroke-width="1.2" stroke-linecap="round" stroke-linejoin="round"/><polyline points="425.7,943.6 427.0,942.7 428.1,941.4" fill="none" stroke="#282828" stroke-width="1.3" stroke-linecap="round" stroke-linejoin="round"/><polyline points="433.4,941.0 434.2,940.9 435.1,939.6 436.5,938.6" fill="none" stroke="#434343" stroke-width="1.1" stroke-linecap="round" stroke-linejoin="round"/><polyline points="429.8,934.2 431.1,935.2 432.2,935.6" fill="none" stroke="#2e2e2e" stroke-width="1.4" stroke-linecap="round" stroke-linejoin="round"/><polyline points="424.4,943.4 425.6,943.9 426.3,944.4 427.8,944.1" fill="none" stroke="#363636" stroke-width="1.6" stroke-linecap="round" stroke-linejoin="round"/><polyline points="427.6,935.3 426.2,936.4 425.0,937.0 423.9,937.6 423.8,938.5" fill="none" stroke="#454545" stroke-width="1.5" stroke-linecap="round" stroke-linejoin="round"/><polyline points="433.9,936.1 434.4,937.5 435.8,937.9 437.4,938.3" fill="none" stroke="#373737" stroke-width="1.5" stroke-linecap="round" stroke-linejoin="round"/><polyline points="425.1,931.3 424.3,930.9 423.0,930.6 421.7,930.6" fill="none" stroke="#454545" stroke-width="1.5" stroke-linecap="round" stroke-linejoin="round"/><polyline points="424.3,940.5 423.4,939.5 422.0,938.9 421.0,937.8 420.2,937.3" fill="none" stroke="#343434" stroke-width="1.1" stroke-linecap="round" stroke-linejoin="round"/><polyline points="436.2,934.0 436.7,934.8 436.6,936.1 435.7,936.9" fill="none" stroke="#2a2a2a" stroke-width="1.3" stroke-linecap="round" stroke-linejoin="round"/><ellipse cx="434.9" cy="935.4" rx="1.1" ry="0.6" fill="#545454" transform="rotate(171 434.9 935.4)"/><ellipse cx="428.9" cy="941.0" rx="0.6" ry="0.4" fill="#4a4a4a" transform="rotate(120 428.9 941.0)"/><ellipse cx="429.2" cy="937.3" rx="1.1" ry="0.6" fill="#5b5b5b" transform="rotate(46 429.2 937.3)"/><ellipse cx="420.3" cy="935.1" rx="0.9" ry="0.6" fill="#3f3f3f" transform="rotate(100 420.3 935.1)"/><ellipse cx="422.6" cy="940.4" rx="0.6" ry="0.4" fill="#606060" transform="rotate(168 422.6 940.4)"/><ellipse cx="436.0" cy="935.3" rx="0.7" ry="0.5" fill="#616161" transform="rotate(6 436.0 935.3)"/><ellipse cx="424.7" cy="934.7" rx="0.6" ry="0.6" fill="#4e4e4e" transform="rotate(169 424.7 934.7)"/><ellipse cx="423.7" cy="941.4" rx="0.6" ry="0.6" fill="#4f4f4f" transform="rotate(32 423.7 941.4)"/><ellipse cx="425.3" cy="941.3" rx="0.7" ry="0.4" fill="#434343" transform="rotate(48 425.3 941.3)"/><ellipse cx="422.3" cy="937.4" rx="0.8" ry="0.5" fill="#636363" transform="rotate(129 422.3 937.4)"/><ellipse cx="428.4" cy="932.9" rx="1.0" ry="0.6" fill="#525252" transform="rotate(112 428.4 932.9)"/><ellipse cx="421.3" cy="930.4" rx="0.6" ry="0.5" fill="#414141" transform="rotate(11 421.3 930.4)"/><ellipse cx="426.2" cy="929.8" rx="0.8" ry="0.5" fill="#4b4b4b" transform="rotate(118 426.2 929.8)"/><ellipse cx="425.9" cy="941.6" rx="0.8" ry="0.5" fill="#454545" transform="rotate(124 425.9 941.6)"/><ellipse cx="432.1" cy="934.9" rx="1.1" ry="0.4" fill="#454545" transform="rotate(129 432.1 934.9)"/><ellipse cx="418.8" cy="937.7" rx="0.7" ry="0.7" fill="#464646" transform="rotate(16 418.8 937.7)"/><ellipse cx="418.2" cy="937.9" rx="0.9" ry="0.6" fill="#404040" transform="rotate(108 418.2 937.9)"/><ellipse cx="418.6" cy="934.0" rx="0.7" ry="0.5" fill="#616161" transform="rotate(25 418.6 934.0)"/><ellipse cx="432.0" cy="937.6" rx="0.6" ry="0.4" fill="#474747" transform="rotate(6 432.0 937.6)"/><ellipse cx="427.1" cy="943.2" rx="1.0" ry="0.6" fill="#444444" transform="rotate(152 427.1 943.2)"/><ellipse cx="436.2" cy="936.0" rx="1.0" ry="0.4" fill="#4c4c4c" transform="rotate(30 436.2 936.0)"/><ellipse cx="420.9" cy="938.4" rx="0.7" ry="0.6" fill="#474747" transform="rotate(80 420.9 938.4)"/><ellipse cx="427.7" cy="941.9" rx="0.7" ry="0.5" fill="#3c3c3c" transform="rotate(34 427.7 941.9)"/><ellipse cx="435.3" cy="932.4" rx="1.0" ry="0.5" fill="#505050" transform="rotate(105 435.3 932.4)"/><ellipse cx="424.3" cy="930.1" rx="1.0" ry="0.5" fill="#4b4b4b" transform="rotate(13 424.3 930.1)"/><ellipse cx="432.9" cy="937.4" rx="0.5" ry="0.4" fill="#676767" transform="rotate(22 432.9 937.4)"/><ellipse cx="436.1" cy="939.0" rx="1.0" ry="0.5" fill="#555555" transform="rotate(156 436.1 939.0)"/><ellipse cx="431.3" cy="936.1" rx="0.5" ry="0.5" fill="#474747" transform="rotate(17 431.3 936.1)"/><ellipse cx="429.6" cy="943.1" rx="0.6" ry="0.4" fill="#4b4b4b" transform="rotate(111 429.6 943.1)"/><ellipse cx="424.4" cy="937.1" rx="1.0" ry="0.4" fill="#454545" transform="rotate(129 424.4 937.1)"/><ellipse cx="435.8" cy="938.0" rx="0.8" ry="0.6" fill="#575757" transform="rotate(4 435.8 938.0)"/><ellipse cx="434.3" cy="931.9" rx="0.8" ry="0.6" fill="#444444" transform="rotate(132 434.3 931.9)"/><ellipse cx="427.1" cy="935.2" rx="1.0" ry="0.5" fill="#3e3e3e" transform="rotate(11 427.1 935.2)"/><ellipse cx="433.5" cy="935.5" rx="0.8" ry="0.5" fill="#474747" transform="rotate(89 433.5 935.5)"/><ellipse cx="422.8" cy="942.9" rx="0.8" ry="0.6" fill="#5e5e5e" transform="rotate(15 422.8 942.9)"/><ellipse cx="427.3" cy="943.6" rx="1.1" ry="0.4" fill="#3a3a3a" transform="rotate(172 427.3 943.6)"/><ellipse cx="432.4" cy="942.0" rx="0.8" ry="0.5" fill="#484848" transform="rotate(120 432.4 942.0)"/><ellipse cx="421.7" cy="934.5" rx="0.5" ry="0.5" fill="#6e6e6e" transform="rotate(170 421.7 934.5)"/><ellipse cx="428.2" cy="936.1" rx="0.6" ry="0.4" fill="#626262" transform="rotate(94 428.2 936.1)"/><ellipse cx="421.6" cy="940.2" rx="0.7" ry="0.5" fill="#6d6d6d" transform="rotate(167 421.6 940.2)"/><ellipse cx="429.5" cy="930.7" rx="0.6" ry="0.5" fill="#454545" transform="rotate(50 429.5 930.7)"/><ellipse cx="423.8" cy="938.8" rx="1.0" ry="0.5" fill="#686868" transform="rotate(125 423.8 938.8)"/><ellipse cx="433.3" cy="932.3" rx="1.0" ry="0.6" fill="#3c3c3c" transform="rotate(79 433.3 932.3)"/><ellipse cx="429.3" cy="939.4" rx="0.6" ry="0.4" fill="#616161" transform="rotate(145 429.3 939.4)"/><ellipse cx="426.7" cy="930.6" rx="0.8" ry="0.6" fill="#626262" transform="rotate(0 426.7 930.6)"/><ellipse cx="421.6" cy="938.1" rx="0.8" ry="0.6" fill="#3f3f3f" transform="rotate(82 421.6 938.1)"/><ellipse cx="420.1" cy="937.4" rx="1.0" ry="0.4" fill="#656565" transform="rotate(164 420.1 937.4)"/><ellipse cx="421.9" cy="932.1" rx="0.6" ry="0.5" fill="#4a4a4a" transform="rotate(84 421.9 932.1)"/><ellipse cx="424.3" cy="936.3" rx="0.5" ry="0.7" fill="#373737" transform="rotate(26 424.3 936.3)"/><ellipse cx="425.0" cy="940.8" rx="1.1" ry="0.5" fill="#494949" transform="rotate(115 425.0 940.8)"/><ellipse cx="419.1" cy="936.6" rx="1.0" ry="0.6" fill="#3b3b3b" transform="rotate(57 419.1 936.6)"/><ellipse cx="434.8" cy="931.6" rx="0.6" ry="0.6" fill="#4a4a4a" transform="rotate(116 434.8 931.6)"/><ellipse cx="424.2" cy="942.0" rx="1.0" ry="0.6" fill="#5d5d5d" transform="rotate(86 424.2 942.0)"/><ellipse cx="433.1" cy="931.7" rx="0.7" ry="0.7" fill="#515151" transform="rotate(77 433.1 931.7)"/><ellipse cx="434.6" cy="940.7" rx="0.7" ry="0.6" fill="#696969" transform="rotate(143 434.6 940.7)"/><ellipse cx="424.9" cy="931.8" rx="0.8" ry="0.5" fill="#6a6a6a" transform="rotate(80 424.9 931.8)"/><ellipse cx="423.3" cy="938.2" rx="0.8" ry="0.4" fill="#535353" transform="rotate(141 423.3 938.2)"/><ellipse cx="421.1" cy="933.9" rx="0.5" ry="0.6" fill="#545454" transform="rotate(158 421.1 933.9)"/><ellipse cx="424.5" cy="933.2" rx="0.7" ry="0.4" fill="#4e4e4e" transform="rotate(74 424.5 933.2)"/><ellipse cx="421.4" cy="937.7" rx="0.8" ry="0.6" fill="#434343" transform="rotate(55 421.4 937.7)"/><ellipse cx="425.9" cy="941.5" rx="0.6" ry="0.4" fill="#3f3f3f" transform="rotate(148 425.9 941.5)"/><ellipse cx="431.8" cy="930.9" rx="0.6" ry="0.5" fill="#3f3f3f" transform="rotate(72 431.8 930.9)"/><ellipse cx="423.9" cy="943.2" rx="0.9" ry="0.4" fill="#6b6b6b" transform="rotate(66 423.9 943.2)"/><ellipse cx="420.1" cy="939.4" rx="0.6" ry="0.6" fill="#454545" transform="rotate(96 420.1 939.4)"/><ellipse cx="428.8" cy="940.7" rx="0.7" ry="0.5" fill="#686868" transform="rotate(97 428.8 940.7)"/><ellipse cx="420.3" cy="938.0" rx="0.7" ry="0.7" fill="#4c4c4c" transform="rotate(120 420.3 938.0)"/><ellipse cx="418.3" cy="932.1" rx="0.5" ry="0.6" fill="#6b6b6b" transform="rotate(25 418.3 932.1)"/><ellipse cx="423.7" cy="935.1" rx="1.1" ry="0.5" fill="#393939" transform="rotate(121 423.7 935.1)"/><ellipse cx="432.3" cy="939.8" rx="0.8" ry="0.4" fill="#4c4c4c" transform="rotate(147 432.3 939.8)"/><ellipse cx="433.1" cy="936.7" rx="1.0" ry="0.5" fill="#5d5d5d" transform="rotate(24 433.1 936.7)"/><ellipse cx="430.1" cy="928.9" rx="0.5" ry="0.5" fill="#404040" transform="rotate(78 430.1 928.9)"/><ellipse cx="424.3" cy="939.9" rx="1.1" ry="0.6" fill="#444444" transform="rotate(11 424.3 939.9)"/><ellipse cx="428.1" cy="928.6" rx="0.5" ry="0.4" fill="#555555" transform="rotate(78 428.1 928.6)"/><ellipse cx="418.5" cy="931.9" rx="0.7" ry="0.4" fill="#464646" transform="rotate(117 418.5 931.9)"/><ellipse cx="433.1" cy="940.9" rx="0.8" ry="0.4" fill="#676767" transform="rotate(97 433.1 940.9)"/><ellipse cx="428.8" cy="941.6" rx="0.8" ry="0.6" fill="#646464" transform="rotate(68 428.8 941.6)"/><ellipse cx="436.5" cy="934.0" rx="0.5" ry="0.4" fill="#575757" transform="rotate(52 436.5 934.0)"/><ellipse cx="421.1" cy="935.5" rx="0.6" ry="0.4" fill="#505050" transform="rotate(126 421.1 935.5)"/><ellipse cx="427.6" cy="938.8" rx="0.5" ry="0.5" fill="#6e6e6e" transform="rotate(147 427.6 938.8)"/><ellipse cx="425.2" cy="939.7" rx="0.8" ry="0.6" fill="#484848" transform="rotate(171 425.2 939.7)"/><ellipse cx="429.9" cy="934.5" rx="0.6" ry="0.5" fill="#424242" transform="rotate(85 429.9 934.5)"/><ellipse cx="430.8" cy="939.3" rx="0.5" ry="0.6" fill="#5a5a5a" transform="rotate(47 430.8 939.3)"/><ellipse cx="432.3" cy="941.4" rx="0.7" ry="0.5" fill="#656565" transform="rotate(128 432.3 941.4)"/><ellipse cx="417.9" cy="933.8" rx="0.6" ry="0.5" fill="#626262" transform="rotate(60 417.9 933.8)"/><ellipse cx="431.1" cy="940.9" rx="0.5" ry="0.4" fill="#383838" transform="rotate(133 431.1 940.9)"/><ellipse cx="427.9" cy="940.4" rx="0.6" ry="0.5" fill="#6a6a6a" transform="rotate(68 427.9 940.4)"/><ellipse cx="426.1" cy="935.6" rx="0.9" ry="0.4" fill="#595959" transform="rotate(158 426.1 935.6)"/><ellipse cx="424.5" cy="931.6" rx="0.9" ry="0.6" fill="#676767" transform="rotate(90 424.5 931.6)"/><ellipse cx="424.6" cy="938.4" rx="0.9" ry="0.5" fill="#616161" transform="rotate(3 424.6 938.4)"/><ellipse cx="424.6" cy="939.2" rx="1.0" ry="0.6" fill="#686868" transform="rotate(168 424.6 939.2)"/><ellipse cx="424.6" cy="929.1" rx="1.0" ry="0.4" fill="#686868" transform="rotate(50 424.6 929.1)"/><ellipse cx="426.6" cy="941.4" rx="1.1" ry="0.6" fill="#585858" transform="rotate(2 426.6 941.4)"/><ellipse cx="418.0" cy="935.5" rx="1.0" ry="0.4" fill="#404040" transform="rotate(66 418.0 935.5)"/><ellipse cx="419.8" cy="930.9" rx="1.0" ry="0.4" fill="#646464" transform="rotate(117 419.8 930.9)"/><ellipse cx="428.9" cy="938.6" rx="0.9" ry="0.7" fill="#4a4a4a" transform="rotate(106 428.9 938.6)"/><ellipse cx="428.0" cy="929.6" rx="0.6" ry="0.6" fill="#494949" transform="rotate(43 428.0 929.6)"/><ellipse cx="431.1" cy="935.2" rx="0.8" ry="0.6" fill="#4a4a4a" transform="rotate(102 431.1 935.2)"/><ellipse cx="436.4" cy="935.4" rx="0.9" ry="0.7" fill="#393939" transform="rotate(22 436.4 935.4)"/><ellipse cx="422.3" cy="940.0" rx="0.6" ry="0.6" fill="#6b6b6b" transform="rotate(114 422.3 940.0)"/><ellipse cx="429.1" cy="939.0" rx="0.9" ry="0.4" fill="#555555" transform="rotate(98 429.1 939.0)"/><ellipse cx="429.8" cy="940.9" rx="1.1" ry="0.4" fill="#5c5c5c" transform="rotate(128 429.8 940.9)"/><ellipse cx="427.2" cy="942.9" rx="0.6" ry="0.7" fill="#515151" transform="rotate(51 427.2 942.9)"/><ellipse cx="422.9" cy="940.8" rx="0.6" ry="0.5" fill="#4b4b4b" transform="rotate(140 422.9 940.8)"/><ellipse cx="431.1" cy="942.6" rx="0.8" ry="0.6" fill="#5d5d5d" transform="rotate(105 431.1 942.6)"/><ellipse cx="427.8" cy="940.2" rx="0.6" ry="0.6" fill="#4a4a4a" transform="rotate(33 427.8 940.2)"/><ellipse cx="418.9" cy="939.5" rx="0.7" ry="0.5" fill="#6d6d6d" transform="rotate(172 418.9 939.5)"/><ellipse cx="424.6" cy="934.4" rx="1.0" ry="0.5" fill="#464646" transform="rotate(137 424.6 934.4)"/><ellipse cx="429.3" cy="937.9" rx="0.9" ry="0.5" fill="#6c6c6c" transform="rotate(97 429.3 937.9)"/><ellipse cx="431.9" cy="942.2" rx="0.9" ry="0.7" fill="#515151" transform="rotate(118 431.9 942.2)"/><ellipse cx="423.5" cy="936.8" rx="0.7" ry="0.4" fill="#5c5c5c" transform="rotate(166 423.5 936.8)"/><ellipse cx="425.6" cy="940.5" rx="0.9" ry="0.6" fill="#6d6d6d" transform="rotate(41 425.6 940.5)"/><ellipse cx="430.6" cy="938.9" rx="0.6" ry="0.4" fill="#505050" transform="rotate(115 430.6 938.9)"/><ellipse cx="428.1" cy="928.8" rx="0.6" ry="0.6" fill="#434343" transform="rotate(115 428.1 928.8)"/><ellipse cx="421.9" cy="935.1" rx="0.6" ry="0.6" fill="#626262" transform="rotate(126 421.9 935.1)"/><ellipse cx="431.3" cy="928.8" rx="0.9" ry="0.4" fill="#3a3a3a" transform="rotate(33 431.3 928.8)"/><ellipse cx="421.4" cy="933.8" rx="0.8" ry="0.5" fill="#5f5f5f" transform="rotate(66 421.4 933.8)"/><ellipse cx="427.9" cy="932.4" rx="0.5" ry="0.6" fill="#676767" transform="rotate(162 427.9 932.4)"/><ellipse cx="432.6" cy="931.6" rx="1.0" ry="0.5" fill="#3c3c3c" transform="rotate(131 432.6 931.6)"/><ellipse cx="430.5" cy="933.8" rx="0.5" ry="0.6" fill="#3d3d3d" transform="rotate(130 430.5 933.8)"/><ellipse cx="427.6" cy="928.3" rx="0.8" ry="0.6" fill="#404040" transform="rotate(179 427.6 928.3)"/><ellipse cx="425.3" cy="939.8" rx="0.7" ry="0.6" fill="#4c4c4c" transform="rotate(153 425.3 939.8)"/><ellipse cx="433.0" cy="942.2" rx="1.0" ry="0.5" fill="#3d3d3d" transform="rotate(30 433.0 942.2)"/><ellipse cx="433.1" cy="937.8" rx="0.7" ry="0.5" fill="#474747" transform="rotate(46 433.1 937.8)"/><ellipse cx="422.2" cy="929.5" rx="0.7" ry="0.4" fill="#464646" transform="rotate(7 422.2 929.5)"/><ellipse cx="425.5" cy="938.5" rx="1.0" ry="0.6" fill="#3f3f3f" transform="rotate(79 425.5 938.5)"/><ellipse cx="433.0" cy="933.0" rx="0.9" ry="0.6" fill="#666666" transform="rotate(54 433.0 933.0)"/><ellipse cx="420.9" cy="938.2" rx="1.0" ry="0.4" fill="#5f5f5f" transform="rotate(57 420.9 938.2)"/><ellipse cx="420.5" cy="930.0" rx="0.8" ry="0.4" fill="#6e6e6e" transform="rotate(79 420.5 930.0)"/><ellipse cx="436.3" cy="935.1" rx="1.0" ry="0.4" fill="#6a6a6a" transform="rotate(107 436.3 935.1)"/><ellipse cx="429.2" cy="933.2" rx="0.6" ry="0.7" fill="#424242" transform="rotate(114 429.2 933.2)"/><ellipse cx="432.7" cy="937.4" rx="0.7" ry="0.5" fill="#424242" transform="rotate(116 432.7 937.4)"/><ellipse cx="428.5" cy="936.7" rx="0.8" ry="0.7" fill="#6b6b6b" transform="rotate(166 428.5 936.7)"/><ellipse cx="434.4" cy="937.1" rx="0.6" ry="0.4" fill="#6e6e6e" transform="rotate(69 434.4 937.1)"/><ellipse cx="428.2" cy="936.0" rx="0.5" ry="0.5" fill="#4e4e4e" transform="rotate(137 428.2 936.0)"/><polyline points="433.6,923.9 433.1,924.6 432.3,925.3" fill="none" stroke="#4d4d4d" stroke-width="1.0" stroke-linecap="round" stroke-linejoin="round"/><polyline points="429.4,924.3 428.9,923.5 429.6,921.9 429.9,920.7" fill="none" stroke="#595959" stroke-width="0.9" stroke-linecap="round" stroke-linejoin="round"/><polyline points="430.7,923.4 429.2,923.9 428.8,924.6 428.0,925.5 427.7,927.0" fill="none" stroke="#4d4d4d" stroke-width="1.5" stroke-linecap="round" stroke-linejoin="round"/><polyline points="432.8,920.9 433.6,920.7 434.6,921.0 435.4,921.0" fill="none" stroke="#4b4b4b" stroke-width="1.1" stroke-linecap="round" stroke-linejoin="round"/><polyline points="431.0,924.9 429.7,925.6 429.3,926.4 429.7,928.0 428.9,929.3" fill="none" stroke="#404040" stroke-width="1.0" stroke-linecap="round" stroke-linejoin="round"/><polyline points="430.8,915.5 431.8,914.6 432.8,914.3" fill="none" stroke="#565656" stroke-width="1.0" stroke-linecap="round" stroke-linejoin="round"/><polyline points="432.7,923.8 431.8,923.5 430.5,922.2 430.5,920.9" fill="none" stroke="#2b2b2b" stroke-width="1.2" stroke-linecap="round" stroke-linejoin="round"/><polyline points="433.4,921.2 434.2,921.0 434.6,920.2 434.0,918.8" fill="none" stroke="#2f2f2f" stroke-width="1.6" stroke-linecap="round" stroke-linejoin="round"/><polyline points="433.0,919.9 433.4,918.9 433.9,918.2" fill="none" stroke="#424242" stroke-width="1.6" stroke-linecap="round" stroke-linejoin="round"/><ellipse cx="433.8" cy="917.5" rx="1.0" ry="0.6" fill="#4f4f4f" transform="rotate(172 433.8 917.5)"/><ellipse cx="434.0" cy="915.2" rx="0.7" ry="0.7" fill="#4d4d4d" transform="rotate(175 434.0 915.2)"/><ellipse cx="431.6" cy="925.6" rx="1.0" ry="0.4" fill="#585858" transform="rotate(83 431.6 925.6)"/><ellipse cx="432.7" cy="924.6" rx="0.6" ry="0.7" fill="#414141" transform="rotate(93 432.7 924.6)"/><ellipse cx="432.2" cy="921.0" rx="0.6" ry="0.6" fill="#444444" transform="rotate(5 432.2 921.0)"/><ellipse cx="429.5" cy="919.9" rx="1.1" ry="0.6" fill="#373737" transform="rotate(51 429.5 919.9)"/><ellipse cx="432.1" cy="915.6" rx="0.8" ry="0.4" fill="#4f4f4f" transform="rotate(96 432.1 915.6)"/><ellipse cx="430.4" cy="921.2" rx="0.6" ry="0.5" fill="#464646" transform="rotate(10 430.4 921.2)"/><ellipse cx="431.8" cy="924.0" rx="0.8" ry="0.7" fill="#525252" transform="rotate(36 431.8 924.0)"/><ellipse cx="432.6" cy="920.5" rx="0.9" ry="0.5" fill="#5c5c5c" transform="rotate(6 432.6 920.5)"/><ellipse cx="433.7" cy="919.4" rx="0.6" ry="0.5" fill="#424242" transform="rotate(8 433.7 919.4)"/><ellipse cx="430.0" cy="917.5" rx="0.7" ry="0.5" fill="#444444" transform="rotate(149 430.0 917.5)"/><ellipse cx="430.4" cy="916.6" rx="0.8" ry="0.7" fill="#464646" transform="rotate(70 430.4 916.6)"/><ellipse cx="432.2" cy="914.6" rx="0.8" ry="0.5" fill="#4f4f4f" transform="rotate(74 432.2 914.6)"/><ellipse cx="434.6" cy="920.5" rx="0.5" ry="0.5" fill="#6c6c6c" transform="rotate(131 434.6 920.5)"/><ellipse cx="432.7" cy="916.0" rx="0.7" ry="0.6" fill="#505050" transform="rotate(103 432.7 916.0)"/><ellipse cx="430.3" cy="922.4" rx="0.6" ry="0.6" fill="#525252" transform="rotate(157 430.3 922.4)"/><ellipse cx="430.7" cy="921.8" rx="1.0" ry="0.4" fill="#565656" transform="rotate(34 430.7 921.8)"/><ellipse cx="432.7" cy="918.3" rx="0.6" ry="0.4" fill="#606060" transform="rotate(29 432.7 918.3)"/><polyline points="403.8,938.8 405.0,937.5 406.2,936.4 407.1,935.0 407.2,933.8" fill="none" stroke="#363636" stroke-width="1.5" stroke-linecap="round" stroke-linejoin="round"/><polyline points="411.1,936.9 412.0,936.2 413.4,935.8" fill="none" stroke="#2d2d2d" stroke-width="1.5" stroke-linecap="round" stroke-linejoin="round"/><polyline points="412.2,939.0 414.0,938.9 414.8,938.4 416.0,938.3" fill="none" stroke="#5e5e5e" stroke-width="1.3" stroke-linecap="round" stroke-linejoin="round"/><polyline points="409.1,937.9 410.5,938.0 412.0,937.5" fill="none" stroke="#333333" stroke-width="1.6" stroke-linecap="round" stroke-linejoin="round"/><polyline points="409.0,938.1 408.8,939.3 407.8,939.9 406.3,940.6" fill="none" stroke="#585858" stroke-width="1.1" stroke-linecap="round" stroke-linejoin="round"/><polyline points="405.5,935.9 407.1,936.4 407.7,937.0" fill="none" stroke="#474747" stroke-width="1.1" stroke-linecap="round" stroke-linejoin="round"/><polyline points="407.7,940.1 408.6,940.4 409.8,941.7 411.3,942.5 412.1,943.0" fill="none" stroke="#303030" stroke-width="1.0" stroke-linecap="round" stroke-linejoin="round"/><ellipse cx="404.5" cy="938.8" rx="1.0" ry="0.7" fill="#454545" transform="rotate(51 404.5 938.8)"/><ellipse cx="404.4" cy="937.2" rx="1.1" ry="0.5" fill="#515151" transform="rotate(22 404.4 937.2)"/><ellipse cx="412.6" cy="937.4" rx="1.0" ry="0.4" fill="#383838" transform="rotate(29 412.6 937.4)"/><ellipse cx="407.5" cy="940.2" rx="0.9" ry="0.4" fill="#575757" transform="rotate(89 407.5 940.2)"/><ellipse cx="408.8" cy="940.0" rx="1.1" ry="0.4" fill="#4d4d4d" transform="rotate(96 408.8 940.0)"/><ellipse cx="407.9" cy="940.1" rx="0.8" ry="0.4" fill="#666666" transform="rotate(18 407.9 940.1)"/><ellipse cx="412.8" cy="938.6" rx="0.6" ry="0.5" fill="#5a5a5a" transform="rotate(61 412.8 938.6)"/><ellipse cx="412.7" cy="937.5" rx="0.8" ry="0.4" fill="#393939" transform="rotate(27 412.7 937.5)"/><ellipse cx="410.0" cy="936.5" rx="0.9" ry="0.7" fill="#4e4e4e" transform="rotate(89 410.0 936.5)"/><ellipse cx="406.7" cy="937.8" rx="0.6" ry="0.6" fill="#6b6b6b" transform="rotate(5 406.7 937.8)"/><ellipse cx="405.0" cy="936.0" rx="1.1" ry="0.4" fill="#3f3f3f" transform="rotate(98 405.0 936.0)"/><ellipse cx="409.1" cy="940.1" rx="0.6" ry="0.6" fill="#555555" transform="rotate(32 409.1 940.1)"/><ellipse cx="410.1" cy="937.2" rx="1.1" ry="0.4" fill="#4b4b4b" transform="rotate(36 410.1 937.2)"/><ellipse cx="403.7" cy="938.9" rx="0.5" ry="0.7" fill="#6a6a6a" transform="rotate(29 403.7 938.9)"/><ellipse cx="404.7" cy="938.1" rx="1.0" ry="0.6" fill="#5d5d5d" transform="rotate(12 404.7 938.1)"/><polyline points="414.1,949.0 414.4,948.0 415.5,947.6 417.0,947.7 418.2,948.7" fill="none" stroke="#373737" stroke-width="1.4" stroke-linecap="round" stroke-linejoin="round"/><polyline points="409.2,947.8 409.1,946.9 408.2,946.5" fill="none" stroke="#424242" stroke-width="1.0" stroke-linecap="round" stroke-linejoin="round"/><polyline points="410.0,945.8 409.0,945.2 407.8,945.1" fill="none" stroke="#5f5f5f" stroke-width="1.3" stroke-linecap="round" stroke-linejoin="round"/><polyline points="413.6,950.6 412.0,951.2 411.5,952.2 411.4,953.3" fill="none" stroke="#2a2a2a" stroke-width="1.1" stroke-linecap="round" stroke-linejoin="round"/><polyline points="411.6,950.7 411.6,949.7 410.6,948.7 410.8,947.9 410.8,946.8" fill="none" stroke="#5a5a5a" stroke-width="1.2" stroke-linecap="round" stroke-linejoin="round"/><polyline points="414.3,948.8 414.6,950.4 415.0,951.2 414.8,952.8" fill="none" stroke="#292929" stroke-width="1.4" stroke-linecap="round" stroke-linejoin="round"/><ellipse cx="415.2" cy="948.1" rx="0.9" ry="0.5" fill="#626262" transform="rotate(50 415.2 948.1)"/><ellipse cx="413.9" cy="950.4" rx="0.6" ry="0.6" fill="#545454" transform="rotate(106 413.9 950.4)"/><ellipse cx="414.4" cy="948.1" rx="0.9" ry="0.6" fill="#6d6d6d" transform="rotate(35 414.4 948.1)"/><ellipse cx="414.1" cy="945.9" rx="0.9" ry="0.4" fill="#3b3b3b" transform="rotate(9 414.1 945.9)"/><ellipse cx="410.7" cy="951.1" rx="0.7" ry="0.6" fill="#494949" transform="rotate(66 410.7 951.1)"/><ellipse cx="411.3" cy="948.6" rx="0.9" ry="0.5" fill="#575757" transform="rotate(7 411.3 948.6)"/><ellipse cx="411.4" cy="948.4" rx="0.7" ry="0.6" fill="#595959" transform="rotate(36 411.4 948.4)"/><ellipse cx="412.8" cy="945.3" rx="1.0" ry="0.5" fill="#4a4a4a" transform="rotate(162 412.8 945.3)"/><ellipse cx="413.6" cy="950.0" rx="0.9" ry="0.4" fill="#494949" transform="rotate(56 413.6 950.0)"/><ellipse cx="414.1" cy="949.1" rx="1.1" ry="0.6" fill="#434343" transform="rotate(76 414.1 949.1)"/><ellipse cx="410.3" cy="950.6" rx="0.9" ry="0.4" fill="#575757" transform="rotate(101 410.3 950.6)"/><ellipse cx="412.5" cy="945.1" rx="1.0" ry="0.5" fill="#616161" transform="rotate(161 412.5 945.1)"/><ellipse cx="410.9" cy="945.6" rx="1.0" ry="0.5" fill="#3a3a3a" transform="rotate(14 410.9 945.6)"/><ellipse cx="412.1" cy="947.1" rx="0.8" ry="0.5" fill="#3f3f3f" transform="rotate(42 412.1 947.1)"/><polyline points="443.5,925.3 444.1,926.1 444.7,926.6" fill="none" stroke="#4d4d4d" stroke-width="1.2" stroke-linecap="round" stroke-linejoin="round"/><polyline points="443.9,927.0 443.7,925.6 444.2,924.7" fill="none" stroke="#2b2b2b" stroke-width="1.0" stroke-linecap="round" stroke-linejoin="round"/><polyline points="444.0,927.7 443.9,926.2 443.9,925.4 444.7,924.5" fill="none" stroke="#2a2a2a" stroke-width="1.0" stroke-linecap="round" stroke-linejoin="round"/><polyline points="445.9,923.9 445.6,922.6 446.8,921.3 447.7,920.9 448.7,920.1" fill="none" stroke="#282828" stroke-width="0.9" stroke-linecap="round" stroke-linejoin="round"/><polyline points="444.1,926.3 443.4,925.0 443.7,923.3 443.8,921.9" fill="none" stroke="#4e4e4e" stroke-width="1.4" stroke-linecap="round" stroke-linejoin="round"/><ellipse cx="444.3" cy="926.1" rx="0.8" ry="0.4" fill="#5a5a5a" transform="rotate(19 444.3 926.1)"/><ellipse cx="446.0" cy="925.2" rx="1.0" ry="0.6" fill="#535353" transform="rotate(80 446.0 925.2)"/><ellipse cx="445.7" cy="924.1" rx="0.7" ry="0.4" fill="#676767" transform="rotate(179 445.7 924.1)"/><ellipse cx="444.7" cy="925.5" rx="0.7" ry="0.4" fill="#3e3e3e" transform="rotate(8 444.7 925.5)"/><ellipse cx="443.0" cy="927.2" rx="0.7" ry="0.6" fill="#565656" transform="rotate(63 443.0 927.2)"/><ellipse cx="442.7" cy="925.0" rx="0.6" ry="0.4" fill="#454545" transform="rotate(141 442.7 925.0)"/><ellipse cx="444.2" cy="926.7" rx="0.6" ry="0.4" fill="#5d5d5d" transform="rotate(62 444.2 926.7)"/><ellipse cx="443.7" cy="927.4" rx="0.6" ry="0.5" fill="#434343" transform="rotate(69 443.7 927.4)"/><ellipse cx="443.8" cy="924.1" rx="0.6" ry="0.6" fill="#3c3c3c" transform="rotate(174 443.8 924.1)"/><ellipse cx="444.9" cy="924.5" rx="0.7" ry="0.4" fill="#545454" transform="rotate(63 444.9 924.5)"/><polyline points="440.6,951.4 441.4,951.4 442.5,950.8 443.1,949.4" fill="none" stroke="#2f2f2f" stroke-width="1.4" stroke-linecap="round" stroke-linejoin="round"/><polyline points="437.9,948.2 436.5,948.1 435.7,947.2" fill="none" stroke="#292929" stroke-width="1.1" stroke-linecap="round" stroke-linejoin="round"/><polyline points="437.6,951.5 438.5,951.8 439.4,952.1 440.7,952.8" fill="none" stroke="#4d4d4d" stroke-width="1.1" stroke-linecap="round" stroke-linejoin="round"/><polyline points="440.0,952.6 441.3,952.4 442.7,953.2 443.2,954.0" fill="none" stroke="#303030" stroke-width="1.1" stroke-linecap="round" stroke-linejoin="round"/><ellipse cx="441.0" cy="947.9" rx="0.6" ry="0.6" fill="#666666" transform="rotate(149 441.0 947.9)"/><ellipse cx="440.2" cy="948.0" rx="0.9" ry="0.6" fill="#484848" transform="rotate(49 440.2 948.0)"/><ellipse cx="439.5" cy="951.6" rx="1.1" ry="0.7" fill="#525252" transform="rotate(106 439.5 951.6)"/><ellipse cx="440.5" cy="950.0" rx="1.0" ry="0.4" fill="#525252" transform="rotate(2 440.5 950.0)"/><ellipse cx="440.8" cy="949.6" rx="0.8" ry="0.6" fill="#575757" transform="rotate(68 440.8 949.6)"/><ellipse cx="438.7" cy="951.7" rx="1.0" ry="0.6" fill="#6a6a6a" transform="rotate(1 438.7 951.7)"/><ellipse cx="437.7" cy="950.2" rx="0.5" ry="0.7" fill="#5f5f5f" transform="rotate(36 437.7 950.2)"/><ellipse cx="440.7" cy="949.2" rx="0.6" ry="0.4" fill="#686868" transform="rotate(14 440.7 949.2)"/><ellipse cx="437.6" cy="950.1" rx="0.7" ry="0.5" fill="#3a3a3a" transform="rotate(159 437.6 950.1)"/><ellipse cx="438.9" cy="948.7" rx="0.8" ry="0.5" fill="#666666" transform="rotate(124 438.9 948.7)"/><polyline points="420.7,919.7 419.6,918.4 418.5,918.4 416.9,917.8" fill="none" stroke="#505050" stroke-width="1.1" stroke-linecap="round" stroke-linejoin="round"/><polyline points="419.9,919.9 419.5,921.0 418.3,921.8 417.2,921.4 416.7,920.6" fill="none" stroke="#4a4a4a" stroke-width="0.9" stroke-linecap="round" stroke-linejoin="round"/><polyline points="417.8,917.1 417.3,918.1 417.2,919.0 417.5,920.6 417.4,922.2" fill="none" stroke="#545454" stroke-width="1.3" stroke-linecap="round" stroke-linejoin="round"/><polyline points="420.3,916.7 421.4,917.2 422.8,917.2" fill="none" stroke="#4a4a4a" stroke-width="1.4" stroke-linecap="round" stroke-linejoin="round"/><ellipse cx="421.9" cy="919.3" rx="1.0" ry="0.7" fill="#646464" transform="rotate(132 421.9 919.3)"/><ellipse cx="421.1" cy="915.9" rx="0.5" ry="0.4" fill="#373737" transform="rotate(90 421.1 915.9)"/><ellipse cx="417.8" cy="916.2" rx="0.9" ry="0.6" fill="#646464" transform="rotate(103 417.8 916.2)"/><ellipse cx="420.5" cy="914.4" rx="1.1" ry="0.6" fill="#4a4a4a" transform="rotate(57 420.5 914.4)"/><ellipse cx="420.8" cy="918.6" rx="1.0" ry="0.6" fill="#494949" transform="rotate(163 420.8 918.6)"/><ellipse cx="421.3" cy="917.7" rx="1.0" ry="0.6" fill="#404040" transform="rotate(44 421.3 917.7)"/><ellipse cx="419.0" cy="918.7" rx="0.8" ry="0.5" fill="#393939" transform="rotate(99 419.0 918.7)"/><ellipse cx="419.9" cy="917.9" rx="0.9" ry="0.6" fill="#515151" transform="rotate(132 419.9 917.9)"/><ellipse cx="420.7" cy="919.6" rx="0.5" ry="0.4" fill="#545454" transform="rotate(80 420.7 919.6)"/><ellipse cx="417.7" cy="917.0" rx="1.0" ry="0.5" fill="#484848" transform="rotate(6 417.7 917.0)"/><polyline points="438.1,941.7 437.7,940.0 438.4,939.2" fill="none" stroke="#373737" stroke-width="1.0" stroke-linecap="round" stroke-linejoin="round"/><polyline points="432.4,940.3 432.5,939.0 432.2,938.2 431.1,937.7" fill="none" stroke="#464646" stroke-width="1.4" stroke-linecap="round" stroke-linejoin="round"/><polyline points="437.1,938.9 436.2,939.0 434.8,938.9 433.5,939.1" fill="none" stroke="#5d5d5d" stroke-width="1.2" stroke-linecap="round" stroke-linejoin="round"/><polyline points="433.4,943.8 434.3,943.3 435.3,942.1" fill="none" stroke="#595959" stroke-width="1.2" stroke-linecap="round" stroke-linejoin="round"/><polyline points="435.5,944.1 434.4,942.8 434.4,941.5" fill="none" stroke="#373737" stroke-width="1.4" stroke-linecap="round" stroke-linejoin="round"/><polyline points="434.2,942.3 435.0,942.5 435.6,943.9 435.2,945.1" fill="none" stroke="#525252" stroke-width="1.5" stroke-linecap="round" stroke-linejoin="round"/><ellipse cx="436.7" cy="943.2" rx="1.1" ry="0.5" fill="#5d5d5d" transform="rotate(55 436.7 943.2)"/><ellipse cx="434.8" cy="944.3" rx="0.9" ry="0.5" fill="#5c5c5c" transform="rotate(46 434.8 944.3)"/><ellipse cx="436.2" cy="944.2" rx="0.8" ry="0.6" fill="#5b5b5b" transform="rotate(74 436.2 944.2)"/><ellipse cx="431.9" cy="942.6" rx="0.7" ry="0.6" fill="#535353" transform="rotate(49 431.9 942.6)"/><ellipse cx="439.0" cy="941.6" rx="0.6" ry="0.6" fill="#3f3f3f" transform="rotate(59 439.0 941.6)"/><ellipse cx="438.3" cy="940.5" rx="0.9" ry="0.5" fill="#3f3f3f" transform="rotate(50 438.3 940.5)"/><ellipse cx="436.3" cy="938.7" rx="0.9" ry="0.5" fill="#676767" transform="rotate(152 436.3 938.7)"/><ellipse cx="434.0" cy="941.0" rx="0.8" ry="0.5" fill="#565656" transform="rotate(88 434.0 941.0)"/><ellipse cx="435.2" cy="943.4" rx="0.7" ry="0.6" fill="#535353" transform="rotate(65 435.2 943.4)"/><ellipse cx="434.7" cy="942.1" rx="0.6" ry="0.4" fill="#5a5a5a" transform="rotate(37 434.7 942.1)"/><ellipse cx="433.7" cy="940.1" rx="1.0" ry="0.7" fill="#4d4d4d" transform="rotate(133 433.7 940.1)"/><ellipse cx="437.0" cy="939.7" rx="0.6" ry="0.4" fill="#565656" transform="rotate(127 437.0 939.7)"/><ellipse cx="434.2" cy="939.8" rx="0.9" ry="0.6" fill="#393939" transform="rotate(165 434.2 939.8)"/><ellipse cx="433.1" cy="943.2" rx="1.0" ry="0.4" fill="#606060" transform="rotate(83 433.1 943.2)"/><polyline points="420.2,944.6 418.9,944.2 417.8,944.4 417.1,944.9 415.6,944.3" fill="none" stroke="#525252" stroke-width="1.1" stroke-linecap="round" stroke-linejoin="round"/><polyline points="415.8,939.1 414.9,938.4 414.7,936.8" fill="none" stroke="#454545" stroke-width="1.6" stroke-linecap="round" stroke-linejoin="round"/><polyline points="415.6,940.3 414.5,940.7 413.6,941.8 413.6,943.2 414.3,944.0" fill="none" stroke="#404040" stroke-width="1.4" stroke-linecap="round" stroke-linejoin="round"/><polyline points="417.2,943.0 417.8,941.7 418.4,940.4" fill="none" stroke="#484848" stroke-width="1.0" stroke-linecap="round" stroke-linejoin="round"/><polyline points="415.8,940.0 416.6,940.9 417.4,940.8 418.2,940.2 418.3,939.3" fill="none" stroke="#383838" stroke-width="1.6" stroke-linecap="round" stroke-linejoin="round"/><polyline points="417.2,937.8 416.4,937.8 415.2,938.9 414.3,938.9 412.6,939.0" fill="none" stroke="#535353" stroke-width="1.0" stroke-linecap="round" stroke-linejoin="round"/><polyline points="421.0,944.3 421.2,943.0 421.5,941.7 422.7,940.7 422.8,939.0" fill="none" stroke="#464646" stroke-width="1.4" stroke-linecap="round" stroke-linejoin="round"/><polyline points="420.6,943.1 421.3,944.7 421.3,945.8" fill="none" stroke="#424242" stroke-width="1.6" stroke-linecap="round" stroke-linejoin="round"/><ellipse cx="415.0" cy="941.0" rx="1.0" ry="0.6" fill="#505050" transform="rotate(5 415.0 941.0)"/><ellipse cx="416.9" cy="939.7" rx="0.9" ry="0.5" fill="#6b6b6b" transform="rotate(88 416.9 939.7)"/><ellipse cx="414.5" cy="941.2" rx="0.9" ry="0.6" fill="#565656" transform="rotate(76 414.5 941.2)"/><ellipse cx="417.4" cy="942.8" rx="0.6" ry="0.5" fill="#373737" transform="rotate(76 417.4 942.8)"/><ellipse cx="417.7" cy="939.5" rx="1.0" ry="0.6" fill="#696969" transform="rotate(127 417.7 939.5)"/><ellipse cx="422.3" cy="941.6" rx="0.8" ry="0.5" fill="#3d3d3d" transform="rotate(82 422.3 941.6)"/><ellipse cx="419.5" cy="938.8" rx="0.7" ry="0.6" fill="#515151" transform="rotate(81 419.5 938.8)"/><ellipse cx="418.6" cy="939.2" rx="0.7" ry="0.7" fill="#626262" transform="rotate(178 418.6 939.2)"/><ellipse cx="418.7" cy="938.3" rx="1.0" ry="0.4" fill="#575757" transform="rotate(70 418.7 938.3)"/><ellipse cx="417.8" cy="939.4" rx="1.0" ry="0.4" fill="#525252" transform="rotate(102 417.8 939.4)"/><ellipse cx="420.0" cy="944.2" rx="1.0" ry="0.4" fill="#606060" transform="rotate(116 420.0 944.2)"/><ellipse cx="417.7" cy="939.4" rx="0.9" ry="0.6" fill="#3f3f3f" transform="rotate(104 417.7 939.4)"/><ellipse cx="416.7" cy="940.0" rx="0.7" ry="0.7" fill="#636363" transform="rotate(98 416.7 940.0)"/><ellipse cx="421.7" cy="940.0" rx="0.8" ry="0.4" fill="#696969" transform="rotate(162 421.7 940.0)"/><ellipse cx="417.1" cy="939.5" rx="0.5" ry="0.6" fill="#444444" transform="rotate(13 417.1 939.5)"/><ellipse cx="419.7" cy="943.2" rx="1.0" ry="0.6" fill="#4d4d4d" transform="rotate(171 419.7 943.2)"/><ellipse cx="417.7" cy="939.7" rx="1.1" ry="0.5" fill="#505050" transform="rotate(131 417.7 939.7)"/><polyline points="403.0,892.8 402.2,892.2 400.7,892.7 400.2,894.0 400.7,895.1" fill="none" stroke="#525252" stroke-width="1.6" stroke-linecap="round" stroke-linejoin="round"/><polyline points="401.4,890.0 402.8,890.7 403.4,891.3" fill="none" stroke="#5f5f5f" stroke-width="1.2" stroke-linecap="round" stroke-linejoin="round"/><polyline points="397.6,890.4 398.3,891.5 398.9,892.5 400.4,893.1" fill="none" stroke="#343434" stroke-width="1.4" stroke-linecap="round" stroke-linejoin="round"/><polyline points="399.3,894.3 400.7,894.6 402.0,895.4 403.0,895.0 403.7,894.0" fill="none" stroke="#2b2b2b" stroke-width="1.4" stroke-linecap="round" stroke-linejoin="round"/><polyline points="400.3,891.8 399.2,890.8 398.3,891.0" fill="none" stroke="#434343" stroke-width="1.5" stroke-linecap="round" stroke-linejoin="round"/><polyline points="400.3,894.6 398.7,894.0 397.4,894.4" fill="none" stroke="#434343" stroke-width="1.1" stroke-linecap="round" stroke-linejoin="round"/><polyline points="395.5,892.0 394.1,892.6 393.4,894.0 393.5,895.3 394.5,896.6" fill="none" stroke="#2a2a2a" stroke-width="1.6" stroke-linecap="round" stroke-linejoin="round"/><polyline points="402.4,890.9 401.2,889.9 400.0,889.2 399.1,889.3 398.0,890.2" fill="none" stroke="#292929" stroke-width="1.2" stroke-linecap="round" stroke-linejoin="round"/><polyline points="399.4,890.8 399.1,890.0 398.5,888.7" fill="none" stroke="#4e4e4e" stroke-width="1.2" stroke-linecap="round" stroke-linejoin="round"/><polyline points="401.5,891.5 402.5,892.7 403.6,892.6 405.2,891.8 406.1,891.6" fill="none" stroke="#2d2d2d" stroke-width="1.3" stroke-linecap="round" stroke-linejoin="round"/><ellipse cx="396.5" cy="895.0" rx="0.7" ry="0.6" fill="#5e5e5e" transform="rotate(73 396.5 895.0)"/><ellipse cx="399.9" cy="890.6" rx="0.9" ry="0.5" fill="#393939" transform="rotate(124 399.9 890.6)"/><ellipse cx="398.9" cy="894.2" rx="0.6" ry="0.5" fill="#525252" transform="rotate(44 398.9 894.2)"/><ellipse cx="399.7" cy="892.3" rx="0.8" ry="0.6" fill="#3d3d3d" transform="rotate(126 399.7 892.3)"/><ellipse cx="400.4" cy="893.4" rx="0.8" ry="0.4" fill="#6b6b6b" transform="rotate(57 400.4 893.4)"/><ellipse cx="396.7" cy="891.4" rx="0.8" ry="0.4" fill="#4a4a4a" transform="rotate(116 396.7 891.4)"/><ellipse cx="396.8" cy="895.3" rx="0.5" ry="0.4" fill="#606060" transform="rotate(140 396.8 895.3)"/><ellipse cx="400.1" cy="892.1" rx="0.8" ry="0.5" fill="#606060" transform="rotate(177 400.1 892.1)"/><ellipse cx="399.1" cy="891.9" rx="0.7" ry="0.6" fill="#4c4c4c" transform="rotate(171 399.1 891.9)"/><ellipse cx="398.7" cy="892.2" rx="0.9" ry="0.5" fill="#676767" transform="rotate(56 398.7 892.2)"/><ellipse cx="398.4" cy="890.7" rx="0.9" ry="0.5" fill="#3f3f3f" transform="rotate(156 398.4 890.7)"/><ellipse cx="397.7" cy="891.8" rx="1.1" ry="0.5" fill="#676767" transform="rotate(74 397.7 891.8)"/><ellipse cx="402.6" cy="892.6" rx="0.8" ry="0.5" fill="#636363" transform="rotate(127 402.6 892.6)"/><ellipse cx="394.7" cy="894.9" rx="1.0" ry="0.7" fill="#434343" transform="rotate(37 394.7 894.9)"/><ellipse cx="401.7" cy="891.1" rx="1.0" ry="0.4" fill="#444444" transform="rotate(134 401.7 891.1)"/><ellipse cx="398.7" cy="893.1" rx="1.0" ry="0.6" fill="#464646" transform="rotate(37 398.7 893.1)"/><ellipse cx="395.6" cy="894.9" rx="1.0" ry="0.6" fill="#5a5a5a" transform="rotate(174 395.6 894.9)"/><ellipse cx="402.8" cy="892.5" rx="1.0" ry="0.6" fill="#4a4a4a" transform="rotate(107 402.8 892.5)"/><ellipse cx="401.3" cy="892.3" rx="1.1" ry="0.6" fill="#444444" transform="rotate(169 401.3 892.3)"/><ellipse cx="401.5" cy="891.3" rx="1.0" ry="0.6" fill="#686868" transform="rotate(97 401.5 891.3)"/><polyline points="418.2,892.4 418.5,891.4 419.2,890.3 419.5,888.5" fill="none" stroke="#2d2d2d" stroke-width="1.4" stroke-linecap="round" stroke-linejoin="round"/><polyline points="418.2,893.4 417.1,894.8 417.3,896.1" fill="none" stroke="#4a4a4a" stroke-width="1.0" stroke-linecap="round" stroke-linejoin="round"/><polyline points="417.6,892.5 416.7,892.0 416.5,891.0 415.9,890.0 416.0,888.6" fill="none" stroke="#333333" stroke-width="1.1" stroke-linecap="round" stroke-linejoin="round"/><polyline points="414.8,890.7 413.8,891.6 412.1,891.5" fill="none" stroke="#2f2f2f" stroke-width="1.5" stroke-linecap="round" stroke-linejoin="round"/><polyline points="418.9,888.1 417.8,888.3 416.8,888.1" fill="none" stroke="#3f3f3f" stroke-width="1.2" stroke-linecap="round" stroke-linejoin="round"/><polyline points="415.0,891.4 414.1,892.2 413.1,891.9" fill="none" stroke="#2d2d2d" stroke-width="1.1" stroke-linecap="round" stroke-linejoin="round"/><polyline points="418.3,889.8 417.0,890.3 416.0,890.4 414.7,889.8 414.3,888.7" fill="none" stroke="#2f2f2f" stroke-width="0.9" stroke-linecap="round" stroke-linejoin="round"/><polyline points="419.3,888.9 418.9,888.0 419.4,886.7 420.0,885.9" fill="none" stroke="#292929" stroke-width="1.4" stroke-linecap="round" stroke-linejoin="round"/><polyline points="415.9,889.8 415.9,888.8 415.6,887.3 415.8,886.3 416.2,884.9" fill="none" stroke="#303030" stroke-width="1.5" stroke-linecap="round" stroke-linejoin="round"/><polyline points="416.9,888.5 418.2,888.2 419.3,887.0" fill="none" stroke="#3f3f3f" stroke-width="1.0" stroke-linecap="round" stroke-linejoin="round"/><ellipse cx="417.6" cy="891.2" rx="0.8" ry="0.5" fill="#3e3e3e" transform="rotate(50 417.6 891.2)"/><ellipse cx="420.3" cy="891.5" rx="0.5" ry="0.4" fill="#3e3e3e" transform="rotate(139 420.3 891.5)"/><ellipse cx="417.6" cy="889.9" rx="0.8" ry="0.4" fill="#404040" transform="rotate(103 417.6 889.9)"/><ellipse cx="420.8" cy="889.4" rx="0.7" ry="0.6" fill="#696969" transform="rotate(173 420.8 889.4)"/><ellipse cx="416.2" cy="891.7" rx="0.7" ry="0.5" fill="#666666" transform="rotate(23 416.2 891.7)"/><ellipse cx="416.3" cy="890.9" rx="0.8" ry="0.5" fill="#666666" transform="rotate(75 416.3 890.9)"/><ellipse cx="416.0" cy="889.5" rx="0.9" ry="0.4" fill="#3c3c3c" transform="rotate(121 416.0 889.5)"/><ellipse cx="418.9" cy="890.5" rx="0.9" ry="0.7" fill="#3c3c3c" transform="rotate(12 418.9 890.5)"/><ellipse cx="420.0" cy="892.5" rx="1.0" ry="0.6" fill="#5b5b5b" transform="rotate(102 420.0 892.5)"/><ellipse cx="419.2" cy="888.4" rx="0.7" ry="0.5" fill="#434343" transform="rotate(88 419.2 888.4)"/><ellipse cx="420.3" cy="889.8" rx="0.6" ry="0.6" fill="#5a5a5a" transform="rotate(96 420.3 889.8)"/><ellipse cx="416.0" cy="892.6" rx="0.8" ry="0.5" fill="#646464" transform="rotate(44 416.0 892.6)"/><ellipse cx="414.9" cy="889.8" rx="1.0" ry="0.4" fill="#454545" transform="rotate(162 414.9 889.8)"/><ellipse cx="421.1" cy="891.9" rx="0.9" ry="0.7" fill="#5b5b5b" transform="rotate(163 421.1 891.9)"/><ellipse cx="418.4" cy="889.1" rx="0.7" ry="0.6" fill="#6a6a6a" transform="rotate(24 418.4 889.1)"/><ellipse cx="421.3" cy="891.5" rx="0.7" ry="0.6" fill="#666666" transform="rotate(100 421.3 891.5)"/><ellipse cx="415.0" cy="888.6" rx="0.7" ry="0.6" fill="#404040" transform="rotate(91 415.0 888.6)"/><ellipse cx="421.0" cy="892.0" rx="0.6" ry="0.7" fill="#393939" transform="rotate(98 421.0 892.0)"/><ellipse cx="416.2" cy="891.4" rx="0.7" ry="0.4" fill="#4e4e4e" transform="rotate(97 416.2 891.4)"/><ellipse cx="419.9" cy="890.0" rx="0.8" ry="0.4" fill="#5c5c5c" transform="rotate(107 419.9 890.0)"/><polyline points="395.3,893.9 396.4,895.1 396.1,896.6 395.5,897.5 394.1,897.6" fill="none" stroke="#4d4d4d" stroke-width="1.4" stroke-linecap="round" stroke-linejoin="round"/><polyline points="395.9,894.0 397.1,894.8 398.0,896.2 398.3,897.1" fill="none" stroke="#565656" stroke-width="1.1" stroke-linecap="round" stroke-linejoin="round"/><polyline points="394.9,898.2 394.4,899.2 392.8,899.7 391.3,899.1" fill="none" stroke="#5b5b5b" stroke-width="1.2" stroke-linecap="round" stroke-linejoin="round"/><ellipse cx="393.7" cy="895.1" rx="0.7" ry="0.5" fill="#434343" transform="rotate(47 393.7 895.1)"/><ellipse cx="396.3" cy="896.6" rx="0.9" ry="0.6" fill="#5b5b5b" transform="rotate(116 396.3 896.6)"/><ellipse cx="393.1" cy="895.6" rx="0.8" ry="0.7" fill="#6c6c6c" transform="rotate(76 393.1 895.6)"/><ellipse cx="396.2" cy="897.1" rx="0.8" ry="0.4" fill="#4c4c4c" transform="rotate(102 396.2 897.1)"/><ellipse cx="395.4" cy="893.7" rx="0.6" ry="0.5" fill="#3d3d3d" transform="rotate(52 395.4 893.7)"/><ellipse cx="395.6" cy="896.5" rx="0.5" ry="0.5" fill="#6a6a6a" transform="rotate(89 395.6 896.5)"/><ellipse cx="394.9" cy="893.0" rx="1.0" ry="0.7" fill="#4b4b4b" transform="rotate(146 394.9 893.0)"/><polyline points="456.1,935.3 455.8,933.8 455.3,932.3 454.3,931.0" fill="none" stroke="#2b2b2b" stroke-width="1.1" stroke-linecap="round" stroke-linejoin="round"/><polyline points="458.5,940.4 459.8,940.9 460.9,941.9 462.5,942.9" fill="none" stroke="#5a5a5a" stroke-width="1.2" stroke-linecap="round" stroke-linejoin="round"/><polyline points="453.6,935.7 452.9,935.1 451.5,935.2" fill="none" stroke="#5b5b5b" stroke-width="1.2" stroke-linecap="round" stroke-linejoin="round"/><polyline points="453.7,937.7 452.1,936.9 451.1,936.7" fill="none" stroke="#3a3a3a" stroke-width="1.2" stroke-linecap="round" stroke-linejoin="round"/><polyline points="457.7,936.1 458.5,934.8 459.4,933.8 459.6,932.3 461.0,931.2" fill="none" stroke="#383838" stroke-width="1.5" stroke-linecap="round" stroke-linejoin="round"/><polyline points="452.4,937.7 453.7,938.6 454.5,938.7 455.4,938.2" fill="none" stroke="#2e2e2e" stroke-width="1.6" stroke-linecap="round" stroke-linejoin="round"/><polyline points="458.0,937.2 457.9,936.2 457.3,935.2 456.8,933.9" fill="none" stroke="#2a2a2a" stroke-width="1.4" stroke-linecap="round" stroke-linejoin="round"/><polyline points="455.3,939.0 454.0,939.2 452.8,939.3 451.7,939.4 450.1,939.4" fill="none" stroke="#464646" stroke-width="1.4" stroke-linecap="round" stroke-linejoin="round"/><polyline points="451.6,938.1 451.0,939.1 449.5,939.9 448.9,940.4" fill="none" stroke="#393939" stroke-width="1.4" stroke-linecap="round" stroke-linejoin="round"/><polyline points="458.7,937.0 457.7,936.4 457.0,934.9 457.7,933.4 458.6,932.3" fill="none" stroke="#3f3f3f" stroke-width="1.5" stroke-linecap="round" stroke-linejoin="round"/><polyline points="458.4,940.0 457.1,940.1 456.2,940.1 455.1,939.6" fill="none" stroke="#505050" stroke-width="0.9" stroke-linecap="round" stroke-linejoin="round"/><ellipse cx="453.1" cy="939.7" rx="0.6" ry="0.5" fill="#505050" transform="rotate(71 453.1 939.7)"/><ellipse cx="456.6" cy="940.1" rx="0.6" ry="0.6" fill="#494949" transform="rotate(102 456.6 940.1)"/><ellipse cx="458.4" cy="935.4" rx="0.9" ry="0.5" fill="#5d5d5d" transform="rotate(36 458.4 935.4)"/><ellipse cx="458.7" cy="937.3" rx="0.6" ry="0.7" fill="#383838" transform="rotate(89 458.7 937.3)"/><ellipse cx="455.2" cy="936.3" rx="1.0" ry="0.6" fill="#3e3e3e" transform="rotate(38 455.2 936.3)"/><ellipse cx="452.5" cy="938.8" rx="0.5" ry="0.6" fill="#555555" transform="rotate(160 452.5 938.8)"/><ellipse cx="453.9" cy="939.2" rx="0.6" ry="0.7" fill="#6d6d6d" transform="rotate(60 453.9 939.2)"/><ellipse cx="459.6" cy="939.7" rx="0.6" ry="0.5" fill="#676767" transform="rotate(87 459.6 939.7)"/><ellipse cx="454.9" cy="937.0" rx="0.6" ry="0.6" fill="#3c3c3c" transform="rotate(139 454.9 937.0)"/><ellipse cx="454.7" cy="935.4" rx="0.9" ry="0.4" fill="#4b4b4b" transform="rotate(151 454.7 935.4)"/><ellipse cx="456.0" cy="940.5" rx="0.8" ry="0.4" fill="#686868" transform="rotate(100 456.0 940.5)"/><ellipse cx="455.1" cy="936.2" rx="1.0" ry="0.6" fill="#4e4e4e" transform="rotate(132 455.1 936.2)"/><ellipse cx="457.4" cy="940.3" rx="1.0" ry="0.6" fill="#515151" transform="rotate(51 457.4 940.3)"/><ellipse cx="456.1" cy="937.6" rx="0.8" ry="0.6" fill="#383838" transform="rotate(8 456.1 937.6)"/><ellipse cx="457.0" cy="936.5" rx="1.0" ry="0.7" fill="#585858" transform="rotate(47 457.0 936.5)"/><ellipse cx="453.3" cy="936.2" rx="0.9" ry="0.4" fill="#6d6d6d" transform="rotate(106 453.3 936.2)"/><ellipse cx="457.9" cy="940.1" rx="0.7" ry="0.7" fill="#494949" transform="rotate(120 457.9 940.1)"/><ellipse cx="455.8" cy="937.4" rx="0.9" ry="0.6" fill="#6b6b6b" transform="rotate(152 455.8 937.4)"/><ellipse cx="457.1" cy="940.6" rx="1.0" ry="0.4" fill="#5f5f5f" transform="rotate(27 457.1 940.6)"/><ellipse cx="452.8" cy="938.7" rx="0.9" ry="0.7" fill="#616161" transform="rotate(37 452.8 938.7)"/><ellipse cx="457.9" cy="935.3" rx="0.9" ry="0.4" fill="#393939" transform="rotate(32 457.9 935.3)"/><ellipse cx="455.3" cy="936.5" rx="0.8" ry="0.6" fill="#6c6c6c" transform="rotate(111 455.3 936.5)"/><ellipse cx="459.2" cy="940.1" rx="1.0" ry="0.4" fill="#3d3d3d" transform="rotate(86 459.2 940.1)"/><ellipse cx="453.7" cy="935.3" rx="0.8" ry="0.6" fill="#434343" transform="rotate(24 453.7 935.3)"/><polyline points="465.9,940.9 467.3,940.3 467.9,939.3" fill="none" stroke="#3a3a3a" stroke-width="1.5" stroke-linecap="round" stroke-linejoin="round"/><polyline points="466.6,939.0 468.0,939.4 468.7,940.7 469.2,941.4 470.0,942.1" fill="none" stroke="#505050" stroke-width="1.5" stroke-linecap="round" stroke-linejoin="round"/><polyline points="464.9,941.5 464.0,940.2 463.8,939.3 462.5,938.2 461.3,937.6" fill="none" stroke="#292929" stroke-width="1.4" stroke-linecap="round" stroke-linejoin="round"/><polyline points="465.8,937.7 466.9,937.9 467.9,937.3 469.2,938.0 469.9,937.6" fill="none" stroke="#5b5b5b" stroke-width="1.0" stroke-linecap="round" stroke-linejoin="round"/><ellipse cx="465.0" cy="938.5" rx="0.8" ry="0.7" fill="#6d6d6d" transform="rotate(11 465.0 938.5)"/><ellipse cx="467.4" cy="939.3" rx="0.5" ry="0.5" fill="#5e5e5e" transform="rotate(82 467.4 939.3)"/><ellipse cx="467.3" cy="938.6" rx="0.5" ry="0.4" fill="#666666" transform="rotate(104 467.3 938.6)"/><ellipse cx="465.7" cy="940.9" rx="0.6" ry="0.6" fill="#494949" transform="rotate(101 465.7 940.9)"/><ellipse cx="464.9" cy="937.6" rx="0.9" ry="0.5" fill="#545454" transform="rotate(107 464.9 937.6)"/><ellipse cx="466.7" cy="937.5" rx="1.0" ry="0.5" fill="#494949" transform="rotate(120 466.7 937.5)"/><ellipse cx="465.6" cy="942.2" rx="0.6" ry="0.6" fill="#3a3a3a" transform="rotate(34 465.6 942.2)"/><ellipse cx="465.7" cy="940.8" rx="1.1" ry="0.6" fill="#575757" transform="rotate(27 465.7 940.8)"/><polyline points="440.9,926.4 442.0,926.9 442.8,926.6 444.5,926.5 445.4,925.6" fill="none" stroke="#505050" stroke-width="1.1" stroke-linecap="round" stroke-linejoin="round"/><polyline points="441.6,927.5 440.7,927.9 439.2,927.5" fill="none" stroke="#383838" stroke-width="1.4" stroke-linecap="round" stroke-linejoin="round"/><polyline points="442.9,923.4 441.7,924.2 440.8,924.2 439.2,924.6" fill="none" stroke="#4e4e4e" stroke-width="1.1" stroke-linecap="round" stroke-linejoin="round"/><polyline points="444.2,925.7 444.2,924.1 443.6,922.7" fill="none" stroke="#424242" stroke-width="1.4" stroke-linecap="round" stroke-linejoin="round"/><ellipse cx="442.5" cy="925.0" rx="1.0" ry="0.7" fill="#414141" transform="rotate(82 442.5 925.0)"/><ellipse cx="441.1" cy="927.0" rx="0.7" ry="0.6" fill="#373737" transform="rotate(130 441.1 927.0)"/><ellipse cx="444.0" cy="926.4" rx="0.8" ry="0.4" fill="#5c5c5c" transform="rotate(163 444.0 926.4)"/><ellipse cx="442.9" cy="925.6" rx="0.8" ry="0.5" fill="#494949" transform="rotate(13 442.9 925.6)"/><ellipse cx="443.5" cy="926.5" rx="0.7" ry="0.6" fill="#606060" transform="rotate(42 443.5 926.5)"/><ellipse cx="443.4" cy="926.9" rx="0.6" ry="0.5" fill="#5f5f5f" transform="rotate(117 443.4 926.9)"/><ellipse cx="443.0" cy="925.8" rx="1.1" ry="0.5" fill="#616161" transform="rotate(3 443.0 925.8)"/><ellipse cx="443.5" cy="927.2" rx="1.0" ry="0.5" fill="#3e3e3e" transform="rotate(95 443.5 927.2)"/><polyline points="400.6,943.8 399.8,943.4 399.2,942.8 397.9,942.1 396.2,942.2" fill="none" stroke="#3b3b3b" stroke-width="1.4" stroke-linecap="round" stroke-linejoin="round"/><polyline points="398.6,943.9 399.0,942.4 400.4,941.4 402.1,941.3 403.7,940.6" fill="none" stroke="#484848" stroke-width="1.0" stroke-linecap="round" stroke-linejoin="round"/><ellipse cx="398.4" cy="944.1" rx="0.6" ry="0.5" fill="#3f3f3f" transform="rotate(104 398.4 944.1)"/><ellipse cx="398.7" cy="943.9" rx="1.0" ry="0.4" fill="#404040" transform="rotate(24 398.7 943.9)"/><ellipse cx="397.4" cy="945.2" rx="1.1" ry="0.4" fill="#585858" transform="rotate(117 397.4 945.2)"/><ellipse cx="398.9" cy="943.4" rx="0.7" ry="0.7" fill="#393939" transform="rotate(23 398.9 943.4)"/><polyline points="418.8,968.3 420.0,968.6 421.3,968.4 422.5,968.2" fill="none" stroke="#3e3e3e" stroke-width="1.1" stroke-linecap="round" stroke-linejoin="round"/><polyline points="416.4,971.0 415.4,970.3 414.6,969.4 414.8,968.0" fill="none" stroke="#383838" stroke-width="1.1" stroke-linecap="round" stroke-linejoin="round"/><polyline points="414.1,968.3 414.8,968.7 416.0,968.9 417.5,968.3" fill="none" stroke="#3a3a3a" stroke-width="1.4" stroke-linecap="round" stroke-linejoin="round"/><polyline points="425.1,966.4 424.0,966.7 423.5,968.3" fill="none" stroke="#434343" stroke-width="1.4" stroke-linecap="round" stroke-linejoin="round"/><polyline points="417.1,968.3 416.1,967.4 414.9,967.4 413.3,967.8" fill="none" stroke="#4a4a4a" stroke-width="1.1" stroke-linecap="round" stroke-linejoin="round"/><polyline points="421.9,969.3 420.2,969.2 418.6,970.0" fill="none" stroke="#545454" stroke-width="1.1" stroke-linecap="round" stroke-linejoin="round"/><polyline points="418.6,969.1 418.2,967.9 418.0,966.5" fill="none" stroke="#494949" stroke-width="1.1" stroke-linecap="round" stroke-linejoin="round"/><polyline points="425.1,969.1 424.1,969.9 423.2,970.1 422.5,970.5" fill="none" stroke="#3f3f3f" stroke-width="1.6" stroke-linecap="round" stroke-linejoin="round"/><polyline points="413.2,970.3 412.3,971.3 411.5,972.5 411.4,973.9 410.8,974.5" fill="none" stroke="#2b2b2b" stroke-width="1.4" stroke-linecap="round" stroke-linejoin="round"/><polyline points="418.7,971.2 418.5,970.1 418.8,968.3" fill="none" stroke="#5a5a5a" stroke-width="1.3" stroke-linecap="round" stroke-linejoin="round"/><polyline points="420.7,969.7 420.6,970.6 420.1,972.1" fill="none" stroke="#575757" stroke-width="1.0" stroke-linecap="round" stroke-linejoin="round"/><polyline points="421.8,966.4 420.4,966.5 419.6,967.2 418.5,967.4" fill="none" stroke="#3a3a3a" stroke-width="1.4" stroke-linecap="round" stroke-linejoin="round"/><polyline points="418.5,970.6 419.6,969.7 421.1,969.5 421.6,968.7" fill="none" stroke="#474747" stroke-width="1.4" stroke-linecap="round" stroke-linejoin="round"/><ellipse cx="419.9" cy="967.8" rx="0.7" ry="0.4" fill="#535353" transform="rotate(167 419.9 967.8)"/><ellipse cx="420.9" cy="967.1" rx="0.9" ry="0.7" fill="#3a3a3a" transform="rotate(75 420.9 967.1)"/><ellipse cx="420.6" cy="969.5" rx="1.0" ry="0.6" fill="#4d4d4d" transform="rotate(92 420.6 969.5)"/><ellipse cx="421.6" cy="966.3" rx="0.7" ry="0.4" fill="#6b6b6b" transform="rotate(105 421.6 966.3)"/><ellipse cx="417.2" cy="968.7" rx="0.6" ry="0.6" fill="#3c3c3c" transform="rotate(96 417.2 968.7)"/><ellipse cx="422.6" cy="966.5" rx="0.7" ry="0.4" fill="#444444" transform="rotate(146 422.6 966.5)"/><ellipse cx="420.5" cy="967.5" rx="1.0" ry="0.7" fill="#696969" transform="rotate(14 420.5 967.5)"/><ellipse cx="419.3" cy="966.7" rx="0.6" ry="0.7" fill="#626262" transform="rotate(75 419.3 966.7)"/><ellipse cx="418.2" cy="966.7" rx="0.9" ry="0.6" fill="#545454" transform="rotate(144 418.2 966.7)"/><ellipse cx="418.0" cy="967.8" rx="0.8" ry="0.5" fill="#5d5d5d" transform="rotate(24 418.0 967.8)"/><ellipse cx="417.0" cy="970.9" rx="1.1" ry="0.4" fill="#4a4a4a" transform="rotate(50 417.0 970.9)"/><ellipse cx="422.9" cy="969.9" rx="0.7" ry="0.6" fill="#666666" transform="rotate(108 422.9 969.9)"/><ellipse cx="420.1" cy="970.3" rx="0.7" ry="0.5" fill="#454545" transform="rotate(168 420.1 970.3)"/><ellipse cx="419.9" cy="969.2" rx="1.1" ry="0.6" fill="#464646" transform="rotate(142 419.9 969.2)"/><ellipse cx="421.0" cy="966.4" rx="0.8" ry="0.6" fill="#6a6a6a" transform="rotate(178 421.0 966.4)"/><ellipse cx="424.8" cy="969.2" rx="0.7" ry="0.4" fill="#525252" transform="rotate(88 424.8 969.2)"/><ellipse cx="423.1" cy="967.8" rx="0.5" ry="0.7" fill="#383838" transform="rotate(22 423.1 967.8)"/><ellipse cx="420.5" cy="969.2" rx="1.0" ry="0.6" fill="#636363" transform="rotate(127 420.5 969.2)"/><ellipse cx="421.9" cy="968.8" rx="1.0" ry="0.4" fill="#424242" transform="rotate(53 421.9 968.8)"/><ellipse cx="415.6" cy="967.8" rx="0.8" ry="0.6" fill="#6a6a6a" transform="rotate(149 415.6 967.8)"/><ellipse cx="416.2" cy="970.7" rx="0.6" ry="0.7" fill="#6e6e6e" transform="rotate(100 416.2 970.7)"/><ellipse cx="423.0" cy="968.5" rx="0.6" ry="0.5" fill="#3e3e3e" transform="rotate(120 423.0 968.5)"/><ellipse cx="415.7" cy="968.3" rx="0.6" ry="0.4" fill="#434343" transform="rotate(133 415.7 968.3)"/><ellipse cx="417.6" cy="968.3" rx="0.7" ry="0.5" fill="#575757" transform="rotate(33 417.6 968.3)"/><ellipse cx="426.0" cy="966.9" rx="0.9" ry="0.7" fill="#3d3d3d" transform="rotate(37 426.0 966.9)"/><ellipse cx="415.2" cy="967.2" rx="0.5" ry="0.7" fill="#626262" transform="rotate(108 415.2 967.2)"/><ellipse cx="422.7" cy="967.5" rx="0.6" ry="0.6" fill="#414141" transform="rotate(60 422.7 967.5)"/><polyline points="412.2,969.5 412.6,970.4 413.9,971.1" fill="none" stroke="#363636" stroke-width="1.0" stroke-linecap="round" stroke-linejoin="round"/><polyline points="411.8,971.4 412.2,972.3 412.8,973.3" fill="none" stroke="#4b4b4b" stroke-width="1.2" stroke-linecap="round" stroke-linejoin="round"/><polyline points="411.9,969.9 410.2,970.0 408.8,970.9 407.3,970.5" fill="none" stroke="#5e5e5e" stroke-width="0.9" stroke-linecap="round" stroke-linejoin="round"/><ellipse cx="415.9" cy="969.4" rx="0.6" ry="0.6" fill="#595959" transform="rotate(150 415.9 969.4)"/><ellipse cx="416.6" cy="970.3" rx="0.6" ry="0.5" fill="#525252" transform="rotate(100 416.6 970.3)"/><ellipse cx="414.7" cy="968.7" rx="0.9" ry="0.4" fill="#434343" transform="rotate(179 414.7 968.7)"/><ellipse cx="415.1" cy="970.8" rx="1.0" ry="0.6" fill="#6a6a6a" transform="rotate(144 415.1 970.8)"/><ellipse cx="413.3" cy="971.1" rx="1.0" ry="0.4" fill="#6b6b6b" transform="rotate(4 413.3 971.1)"/><ellipse cx="412.5" cy="971.6" rx="1.1" ry="0.6" fill="#686868" transform="rotate(113 412.5 971.6)"/><ellipse cx="415.6" cy="971.5" rx="0.5" ry="0.6" fill="#676767" transform="rotate(126 415.6 971.5)"/><polyline points="445.8,953.2 445.8,952.2 444.8,951.3" fill="none" stroke="#4c4c4c" stroke-width="1.5" stroke-linecap="round" stroke-linejoin="round"/><ellipse cx="445.0" cy="953.4" rx="0.7" ry="0.6" fill="#5c5c5c" transform="rotate(139 445.0 953.4)"/><ellipse cx="446.9" cy="955.0" rx="1.0" ry="0.6" fill="#5b5b5b" transform="rotate(37 446.9 955.0)"/><ellipse cx="446.6" cy="953.0" rx="0.9" ry="0.5" fill="#404040" transform="rotate(136 446.6 953.0)"/><ellipse cx="445.7" cy="952.6" rx="0.6" ry="0.6" fill="#6a6a6a" transform="rotate(92 445.7 952.6)"/><polyline points="456.9,907.3 457.7,906.8 458.5,906.9 460.2,906.7" fill="none" stroke="#414141" stroke-width="1.6" stroke-linecap="round" stroke-linejoin="round"/><ellipse cx="456.0" cy="906.3" rx="0.8" ry="0.6" fill="#5c5c5c" transform="rotate(135 456.0 906.3)"/><ellipse cx="456.2" cy="906.8" rx="0.7" ry="0.4" fill="#585858" transform="rotate(109 456.2 906.8)"/><ellipse cx="457.8" cy="905.3" rx="0.5" ry="0.4" fill="#646464" transform="rotate(154 457.8 905.3)"/><ellipse cx="456.4" cy="905.5" rx="1.0" ry="0.5" fill="#5e5e5e" transform="rotate(118 456.4 905.5)"/><polyline points="447.5,899.8 446.3,898.7 446.2,897.8 445.8,897.0 445.9,895.9" fill="none" stroke="#5f5f5f" stroke-width="1.5" stroke-linecap="round" stroke-linejoin="round"/><ellipse cx="446.3" cy="899.5" rx="0.7" ry="0.5" fill="#565656" transform="rotate(110 446.3 899.5)"/><ellipse cx="446.9" cy="900.0" rx="0.6" ry="0.6" fill="#444444" transform="rotate(42 446.9 900.0)"/><ellipse cx="446.6" cy="899.8" rx="0.7" ry="0.5" fill="#393939" transform="rotate(92 446.6 899.8)"/><polyline points="476.4,908.6 478.1,908.6 479.2,907.4 480.6,906.3 480.9,905.1" fill="none" stroke="#2d2d2d" stroke-width="1.6" stroke-linecap="round" stroke-linejoin="round"/><ellipse cx="476.8" cy="907.8" rx="1.0" ry="0.7" fill="#4c4c4c" transform="rotate(79 476.8 907.8)"/><ellipse cx="475.5" cy="909.5" rx="0.7" ry="0.4" fill="#4b4b4b" transform="rotate(124 475.5 909.5)"/><ellipse cx="476.2" cy="908.0" rx="0.8" ry="0.4" fill="#525252" transform="rotate(46 476.2 908.0)"/><polyline points="407.1,955.7 406.6,954.8 407.0,953.1" fill="none" stroke="#5c5c5c" stroke-width="1.3" stroke-linecap="round" stroke-linejoin="round"/><ellipse cx="408.4" cy="956.0" rx="1.0" ry="0.7" fill="#6e6e6e" transform="rotate(56 408.4 956.0)"/><ellipse cx="406.7" cy="956.0" rx="0.7" ry="0.4" fill="#3b3b3b" transform="rotate(72 406.7 956.0)"/><ellipse cx="406.1" cy="956.6" rx="0.9" ry="0.6" fill="#434343" transform="rotate(72 406.1 956.6)"/><ellipse cx="407.5" cy="956.3" rx="0.8" ry="0.5" fill="#666666" transform="rotate(169 407.5 956.3)"/><polyline points="466.3,957.6 466.3,958.7 465.7,959.5 464.8,960.3 464.7,961.8" fill="none" stroke="#5a5a5a" stroke-width="0.9" stroke-linecap="round" stroke-linejoin="round"/><ellipse cx="466.4" cy="959.3" rx="1.0" ry="0.6" fill="#454545" transform="rotate(94 466.4 959.3)"/><ellipse cx="466.5" cy="958.5" rx="0.8" ry="0.6" fill="#3e3e3e" transform="rotate(83 466.5 958.5)"/><ellipse cx="465.8" cy="957.9" rx="0.8" ry="0.4" fill="#666666" transform="rotate(124 465.8 957.9)"/><ellipse cx="465.4" cy="958.0" rx="0.6" ry="0.4" fill="#4f4f4f" transform="rotate(154 465.4 958.0)"/><polyline points="428.9,966.3 429.7,967.6 430.3,968.9 431.3,969.9" fill="none" stroke="#4b4b4b" stroke-width="1.2" stroke-linecap="round" stroke-linejoin="round"/><polyline points="428.7,965.7 427.8,965.4 426.5,966.3 426.3,967.4 426.4,968.3" fill="none" stroke="#4e4e4e" stroke-width="1.0" stroke-linecap="round" stroke-linejoin="round"/><ellipse cx="431.4" cy="966.6" rx="0.7" ry="0.4" fill="#3b3b3b" transform="rotate(37 431.4 966.6)"/><ellipse cx="431.7" cy="965.0" rx="0.6" ry="0.6" fill="#545454" transform="rotate(140 431.7 965.0)"/><ellipse cx="430.7" cy="966.9" rx="0.7" ry="0.4" fill="#454545" transform="rotate(49 430.7 966.9)"/><ellipse cx="428.7" cy="965.9" rx="0.6" ry="0.4" fill="#494949" transform="rotate(42 428.7 965.9)"/><ellipse cx="429.2" cy="965.9" rx="0.6" ry="0.6" fill="#666666" transform="rotate(112 429.2 965.9)"/><ellipse cx="428.6" cy="966.7" rx="0.6" ry="0.7" fill="#3c3c3c" transform="rotate(71 428.6 966.7)"/></g>
</g>
<rect x="389.1" y="882.3" width="94.0" height="96.7" fill="none" stroke="#1a1a1a" stroke-width="1.6"/>
<line x1="461.0" y1="968.8" x2="478.2" y2="968.8" stroke="#000" stroke-width="2.6" stroke-linecap="butt"/>
</g>
<g>
<rect x="486.6" y="881.5" width="97.3" height="98.3" fill="url(#lg4)"/>
<clipPath id="cp4"><rect x="486.6" y="881.5" width="97.3" height="98.3"/></clipPath>
<g clip-path="url(#cp4)">
<ellipse cx="526.6" cy="956.5" rx="20.0" ry="5.0" fill="#b6b6b6" filter="url(#blur1)" transform="rotate(0 526.6 956.5)"/>
<g filter="url(#blur2)"><circle cx="494.2" cy="958.2" r="0.52" fill="#686868"/><circle cx="582.8" cy="917.1" r="0.64" fill="#6a6a6a"/><circle cx="547.6" cy="929.5" r="0.78" fill="#6e6e6e"/><circle cx="553.9" cy="908.5" r="0.59" fill="#767676"/><circle cx="569.6" cy="923.8" r="0.77" fill="#949494"/><circle cx="515.1" cy="913.0" r="0.74" fill="#626262"/><circle cx="521.7" cy="978.8" r="0.67" fill="#8a8a8a"/><circle cx="490.1" cy="951.8" r="0.76" fill="#7a7a7a"/><circle cx="556.6" cy="917.6" r="0.52" fill="#6a6a6a"/><circle cx="529.6" cy="948.7" r="0.80" fill="#8d8d8d"/><circle cx="494.0" cy="951.3" r="0.78" fill="#9b9b9b"/><circle cx="523.2" cy="890.7" r="0.48" fill="#737373"/><circle cx="527.6" cy="926.7" r="0.73" fill="#828282"/><circle cx="568.8" cy="903.5" r="0.46" fill="#838383"/><circle cx="553.7" cy="963.0" r="0.55" fill="#6a6a6a"/><circle cx="509.4" cy="899.2" r="0.72" fill="#929292"/><circle cx="549.2" cy="915.5" r="0.64" fill="#7c7c7c"/><circle cx="519.0" cy="965.3" r="0.45" fill="#9b9b9b"/><circle cx="498.8" cy="932.2" r="0.59" fill="#787878"/><circle cx="523.3" cy="884.5" r="0.65" fill="#868686"/><circle cx="500.0" cy="964.8" r="0.55" fill="#636363"/><circle cx="517.9" cy="909.2" r="0.70" fill="#828282"/><circle cx="488.6" cy="951.4" r="0.62" fill="#818181"/><circle cx="526.1" cy="898.4" r="0.52" fill="#767676"/><circle cx="538.8" cy="971.4" r="0.48" fill="#818181"/><circle cx="541.9" cy="926.3" r="0.64" fill="#828282"/><circle cx="577.3" cy="919.5" r="0.57" fill="#8c8c8c"/><circle cx="503.4" cy="976.4" r="0.62" fill="#737373"/><circle cx="507.8" cy="932.2" r="0.71" fill="#707070"/><circle cx="543.3" cy="973.4" r="0.48" fill="#828282"/><circle cx="552.3" cy="888.6" r="0.48" fill="#8d8d8d"/><circle cx="562.5" cy="927.9" r="0.52" fill="#828282"/><circle cx="517.4" cy="912.0" r="0.69" fill="#757575"/><circle cx="523.3" cy="976.7" r="0.50" fill="#949494"/><circle cx="522.9" cy="898.8" r="0.73" fill="#636363"/><circle cx="515.8" cy="960.4" r="0.71" fill="#9a9a9a"/><circle cx="499.6" cy="887.2" r="0.68" fill="#696969"/><circle cx="541.1" cy="907.1" r="0.61" fill="#767676"/><circle cx="564.5" cy="962.0" r="0.71" fill="#777777"/><circle cx="562.4" cy="952.6" r="0.79" fill="#666666"/><circle cx="571.9" cy="971.1" r="0.58" fill="#9b9b9b"/><circle cx="580.0" cy="926.8" r="0.74" fill="#858585"/><circle cx="543.9" cy="963.0" r="0.68" fill="#676767"/><circle cx="490.8" cy="913.2" r="0.72" fill="#6e6e6e"/><circle cx="499.2" cy="958.2" r="0.71" fill="#606060"/><circle cx="504.8" cy="949.3" r="0.47" fill="#797979"/><circle cx="573.5" cy="908.2" r="0.51" fill="#8c8c8c"/><circle cx="544.0" cy="886.6" r="0.79" fill="#646464"/><circle cx="523.1" cy="947.0" r="0.78" fill="#616161"/><circle cx="545.9" cy="975.7" r="0.66" fill="#898989"/><circle cx="496.7" cy="899.8" r="0.72" fill="#929292"/><circle cx="519.3" cy="969.1" r="0.66" fill="#7f7f7f"/><circle cx="514.2" cy="946.8" r="0.73" fill="#8f8f8f"/><circle cx="506.7" cy="963.3" r="0.53" fill="#838383"/><circle cx="550.1" cy="971.2" r="0.63" fill="#757575"/><circle cx="490.4" cy="941.1" r="0.73" fill="#757575"/><circle cx="493.1" cy="949.4" r="0.70" fill="#717171"/><circle cx="568.7" cy="938.3" r="0.57" fill="#707070"/><circle cx="541.8" cy="960.4" r="0.62" fill="#939393"/><circle cx="579.2" cy="917.5" r="0.45" fill="#6c6c6c"/><circle cx="525.9" cy="942.5" r="0.62" fill="#9a9a9a"/><circle cx="514.4" cy="970.1" r="0.67" fill="#959595"/><circle cx="501.5" cy="964.9" r="0.78" fill="#838383"/><circle cx="536.1" cy="907.2" r="0.69" fill="#858585"/><circle cx="564.2" cy="971.2" r="0.66" fill="#8b8b8b"/><circle cx="545.9" cy="900.8" r="0.46" fill="#949494"/><circle cx="553.4" cy="963.3" r="0.75" fill="#666666"/><circle cx="548.4" cy="957.3" r="0.78" fill="#878787"/><circle cx="529.3" cy="937.7" r="0.49" fill="#8a8a8a"/><circle cx="495.1" cy="950.9" r="0.67" fill="#9b9b9b"/><circle cx="580.5" cy="974.2" r="0.61" fill="#8b8b8b"/><circle cx="576.1" cy="956.4" r="0.63" fill="#6d6d6d"/><circle cx="546.8" cy="972.0" r="0.61" fill="#6c6c6c"/><circle cx="526.6" cy="891.5" r="0.46" fill="#919191"/><circle cx="569.6" cy="892.4" r="0.60" fill="#9b9b9b"/><circle cx="553.5" cy="950.7" r="0.70" fill="#858585"/><circle cx="557.3" cy="915.4" r="0.73" fill="#898989"/><circle cx="539.8" cy="974.3" r="0.64" fill="#7a7a7a"/><circle cx="497.4" cy="922.4" r="0.46" fill="#626262"/><circle cx="512.0" cy="946.2" r="0.70" fill="#939393"/><circle cx="499.5" cy="960.4" r="0.62" fill="#757575"/><circle cx="503.3" cy="903.0" r="0.63" fill="#848484"/><circle cx="564.8" cy="958.6" r="0.63" fill="#898989"/><circle cx="517.3" cy="899.1" r="0.49" fill="#6d6d6d"/><circle cx="569.9" cy="890.2" r="0.66" fill="#8d8d8d"/><circle cx="510.4" cy="903.9" r="0.49" fill="#979797"/><circle cx="489.7" cy="977.5" r="0.71" fill="#979797"/><circle cx="490.6" cy="888.5" r="0.55" fill="#646464"/><circle cx="501.9" cy="905.6" r="0.67" fill="#646464"/><circle cx="536.9" cy="928.5" r="0.49" fill="#8d8d8d"/><circle cx="550.6" cy="969.2" r="0.75" fill="#6d6d6d"/><circle cx="526.2" cy="934.2" r="0.66" fill="#666666"/><circle cx="578.8" cy="924.4" r="0.73" fill="#838383"/><circle cx="514.9" cy="888.2" r="0.68" fill="#808080"/><circle cx="492.5" cy="933.4" r="0.67" fill="#5f5f5f"/><circle cx="556.8" cy="953.5" r="0.56" fill="#7d7d7d"/><circle cx="507.7" cy="895.9" r="0.65" fill="#666666"/><circle cx="572.0" cy="885.1" r="0.80" fill="#8f8f8f"/><circle cx="556.9" cy="893.3" r="0.69" fill="#8e8e8e"/><circle cx="491.9" cy="963.1" r="0.58" fill="#7b7b7b"/><circle cx="546.3" cy="902.6" r="0.77" fill="#6b6b6b"/><circle cx="563.2" cy="971.5" r="0.72" fill="#919191"/><circle cx="491.7" cy="929.8" r="0.48" fill="#737373"/><circle cx="561.6" cy="888.3" r="0.68" fill="#929292"/><circle cx="566.5" cy="921.8" r="0.76" fill="#7e7e7e"/><circle cx="542.9" cy="915.3" r="0.47" fill="#7b7b7b"/><circle cx="553.9" cy="910.2" r="0.68" fill="#8d8d8d"/><circle cx="512.9" cy="901.1" r="0.62" fill="#7a7a7a"/><circle cx="581.4" cy="921.6" r="0.48" fill="#727272"/><circle cx="576.3" cy="974.1" r="0.63" fill="#717171"/><circle cx="572.0" cy="961.3" r="0.73" fill="#828282"/><circle cx="526.6" cy="934.1" r="0.77" fill="#939393"/><circle cx="510.0" cy="914.2" r="0.52" fill="#8d8d8d"/><circle cx="576.9" cy="950.7" r="0.67" fill="#6b6b6b"/><circle cx="549.8" cy="938.8" r="0.72" fill="#929292"/><circle cx="520.2" cy="953.9" r="0.50" fill="#626262"/><circle cx="526.2" cy="918.0" r="0.72" fill="#969696"/><circle cx="580.8" cy="898.8" r="0.51" fill="#707070"/><circle cx="516.9" cy="903.9" r="0.52" fill="#8a8a8a"/><circle cx="504.6" cy="956.7" r="0.77" fill="#808080"/><circle cx="503.5" cy="953.4" r="0.75" fill="#868686"/><circle cx="533.7" cy="901.5" r="0.75" fill="#747474"/><circle cx="489.1" cy="932.7" r="0.64" fill="#6b6b6b"/><circle cx="489.4" cy="907.9" r="0.75" fill="#8c8c8c"/><circle cx="567.0" cy="904.6" r="0.55" fill="#5f5f5f"/><circle cx="541.4" cy="922.6" r="0.71" fill="#9a9a9a"/><circle cx="570.1" cy="882.8" r="0.68" fill="#616161"/><circle cx="559.1" cy="899.3" r="0.47" fill="#616161"/><circle cx="557.4" cy="931.0" r="0.80" fill="#6b6b6b"/><circle cx="519.0" cy="904.7" r="0.72" fill="#636363"/><circle cx="538.1" cy="924.2" r="0.71" fill="#636363"/><circle cx="519.1" cy="919.6" r="0.66" fill="#606060"/><circle cx="528.6" cy="928.6" r="0.61" fill="#7c7c7c"/><circle cx="507.3" cy="920.0" r="0.76" fill="#737373"/><circle cx="503.1" cy="942.6" r="0.59" fill="#626262"/><circle cx="546.9" cy="920.8" r="0.52" fill="#6f6f6f"/><circle cx="519.6" cy="928.3" r="0.57" fill="#797979"/><circle cx="513.3" cy="895.7" r="0.46" fill="#949494"/><circle cx="495.6" cy="944.6" r="0.73" fill="#616161"/><circle cx="535.8" cy="887.5" r="0.51" fill="#717171"/><circle cx="563.7" cy="944.7" r="0.70" fill="#656565"/><circle cx="537.8" cy="907.7" r="0.68" fill="#747474"/><circle cx="518.0" cy="936.3" r="0.52" fill="#626262"/><circle cx="525.0" cy="906.4" r="0.75" fill="#929292"/><circle cx="533.8" cy="931.7" r="0.76" fill="#939393"/><circle cx="543.5" cy="920.6" r="0.71" fill="#8f8f8f"/><circle cx="491.6" cy="899.8" r="0.71" fill="#858585"/><circle cx="567.9" cy="960.9" r="0.63" fill="#909090"/><circle cx="515.7" cy="973.2" r="0.76" fill="#8f8f8f"/><circle cx="530.2" cy="943.8" r="0.48" fill="#979797"/><circle cx="555.3" cy="939.8" r="0.59" fill="#5f5f5f"/><circle cx="519.1" cy="976.0" r="0.61" fill="#666666"/><circle cx="565.1" cy="920.4" r="0.60" fill="#6a6a6a"/><circle cx="573.5" cy="901.7" r="0.64" fill="#909090"/><circle cx="572.6" cy="946.2" r="0.69" fill="#8e8e8e"/><circle cx="539.7" cy="963.6" r="0.57" fill="#737373"/><circle cx="508.4" cy="942.0" r="0.70" fill="#787878"/><circle cx="507.2" cy="887.9" r="0.79" fill="#727272"/><circle cx="541.8" cy="978.6" r="0.64" fill="#838383"/><circle cx="489.9" cy="946.3" r="0.47" fill="#9b9b9b"/><circle cx="520.0" cy="946.7" r="0.69" fill="#878787"/><circle cx="574.1" cy="898.7" r="0.76" fill="#696969"/><circle cx="571.0" cy="898.7" r="0.49" fill="#6b6b6b"/><circle cx="543.6" cy="965.8" r="0.47" fill="#6f6f6f"/><circle cx="575.5" cy="947.5" r="0.64" fill="#959595"/><circle cx="503.7" cy="938.5" r="0.66" fill="#939393"/><circle cx="542.9" cy="907.7" r="0.71" fill="#8d8d8d"/><circle cx="500.5" cy="971.3" r="0.57" fill="#696969"/><circle cx="526.6" cy="916.2" r="0.58" fill="#909090"/><circle cx="514.1" cy="911.1" r="0.57" fill="#646464"/><circle cx="521.6" cy="901.3" r="0.53" fill="#9b9b9b"/><circle cx="573.9" cy="947.3" r="0.79" fill="#797979"/><circle cx="489.2" cy="931.7" r="0.79" fill="#626262"/><circle cx="504.1" cy="925.0" r="0.46" fill="#8a8a8a"/><circle cx="520.1" cy="907.4" r="0.45" fill="#797979"/><circle cx="526.6" cy="928.8" r="0.69" fill="#6c6c6c"/><circle cx="533.5" cy="975.4" r="0.58" fill="#939393"/><circle cx="491.9" cy="895.4" r="0.72" fill="#848484"/><circle cx="538.4" cy="908.1" r="0.62" fill="#808080"/><circle cx="505.6" cy="915.9" r="0.58" fill="#969696"/><circle cx="521.4" cy="947.1" r="0.59" fill="#747474"/><circle cx="582.0" cy="947.0" r="0.61" fill="#7e7e7e"/><circle cx="557.4" cy="960.2" r="0.56" fill="#747474"/><circle cx="490.7" cy="910.6" r="0.67" fill="#7f7f7f"/><circle cx="553.6" cy="933.4" r="0.54" fill="#959595"/><circle cx="518.7" cy="883.9" r="0.57" fill="#868686"/><circle cx="568.7" cy="954.0" r="0.72" fill="#888888"/><circle cx="569.2" cy="887.9" r="0.48" fill="#676767"/><circle cx="505.4" cy="947.6" r="0.63" fill="#666666"/><circle cx="516.0" cy="956.3" r="0.60" fill="#9a9a9a"/><circle cx="572.1" cy="901.3" r="0.51" fill="#6a6a6a"/><circle cx="518.0" cy="968.1" r="0.46" fill="#8a8a8a"/><circle cx="502.3" cy="966.1" r="0.48" fill="#616161"/><circle cx="502.4" cy="891.4" r="0.74" fill="#7d7d7d"/><circle cx="492.2" cy="974.8" r="0.53" fill="#6c6c6c"/><circle cx="515.9" cy="907.1" r="0.78" fill="#767676"/><circle cx="570.1" cy="914.0" r="0.65" fill="#666666"/><circle cx="500.5" cy="908.8" r="0.69" fill="#6a6a6a"/><circle cx="501.9" cy="920.6" r="0.80" fill="#747474"/><circle cx="512.2" cy="932.9" r="0.46" fill="#898989"/><circle cx="582.3" cy="953.7" r="0.72" fill="#777777"/><circle cx="490.5" cy="926.2" r="0.77" fill="#909090"/><circle cx="520.1" cy="896.8" r="0.67" fill="#818181"/><circle cx="491.4" cy="953.4" r="0.70" fill="#6a6a6a"/><circle cx="528.0" cy="916.0" r="0.74" fill="#696969"/><circle cx="548.4" cy="970.9" r="0.53" fill="#636363"/><circle cx="522.0" cy="970.1" r="0.70" fill="#6f6f6f"/><circle cx="565.4" cy="921.1" r="0.51" fill="#828282"/><circle cx="575.9" cy="904.4" r="0.52" fill="#7f7f7f"/><circle cx="497.5" cy="891.6" r="0.70" fill="#616161"/><circle cx="575.1" cy="945.9" r="0.78" fill="#808080"/><circle cx="499.5" cy="905.8" r="0.77" fill="#8d8d8d"/><circle cx="517.9" cy="924.0" r="0.74" fill="#939393"/><circle cx="531.3" cy="948.6" r="0.48" fill="#808080"/><circle cx="559.2" cy="951.4" r="0.63" fill="#969696"/><circle cx="582.3" cy="975.5" r="0.73" fill="#616161"/><circle cx="561.0" cy="894.8" r="0.54" fill="#616161"/><circle cx="504.9" cy="952.4" r="0.51" fill="#959595"/><circle cx="552.0" cy="930.2" r="0.58" fill="#979797"/><circle cx="548.1" cy="959.1" r="0.69" fill="#8f8f8f"/><circle cx="572.6" cy="953.7" r="0.66" fill="#636363"/><circle cx="508.7" cy="968.3" r="0.46" fill="#616161"/><circle cx="502.9" cy="934.7" r="0.61" fill="#6c6c6c"/><circle cx="537.4" cy="933.9" r="0.53" fill="#848484"/><circle cx="520.0" cy="901.4" r="0.57" fill="#696969"/><circle cx="498.2" cy="933.1" r="0.52" fill="#6a6a6a"/><circle cx="573.6" cy="947.5" r="0.68" fill="#989898"/><circle cx="573.5" cy="928.1" r="0.64" fill="#6d6d6d"/><circle cx="489.2" cy="905.7" r="0.46" fill="#888888"/><circle cx="493.9" cy="963.2" r="0.66" fill="#7c7c7c"/><circle cx="519.7" cy="912.6" r="0.76" fill="#646464"/><circle cx="528.3" cy="909.0" r="0.56" fill="#858585"/><circle cx="489.4" cy="935.1" r="0.47" fill="#7c7c7c"/><circle cx="567.7" cy="922.8" r="0.56" fill="#858585"/><circle cx="507.1" cy="908.6" r="0.62" fill="#919191"/><circle cx="544.4" cy="966.4" r="0.50" fill="#727272"/><circle cx="578.0" cy="927.1" r="0.61" fill="#898989"/><circle cx="569.3" cy="887.3" r="0.74" fill="#8b8b8b"/><circle cx="541.8" cy="917.6" r="0.66" fill="#6b6b6b"/><circle cx="558.3" cy="884.6" r="0.65" fill="#909090"/><circle cx="538.7" cy="940.1" r="0.78" fill="#707070"/><circle cx="530.5" cy="967.2" r="0.48" fill="#7d7d7d"/><circle cx="560.7" cy="940.9" r="0.53" fill="#969696"/><circle cx="517.2" cy="884.9" r="0.62" fill="#939393"/><circle cx="578.4" cy="901.6" r="0.55" fill="#7e7e7e"/><circle cx="513.9" cy="977.8" r="0.77" fill="#797979"/><circle cx="577.9" cy="943.3" r="0.66" fill="#7a7a7a"/><circle cx="507.1" cy="888.0" r="0.78" fill="#6a6a6a"/><circle cx="556.0" cy="905.6" r="0.52" fill="#787878"/><circle cx="564.3" cy="936.9" r="0.79" fill="#747474"/><circle cx="515.7" cy="938.8" r="0.46" fill="#838383"/><circle cx="499.0" cy="964.6" r="0.48" fill="#818181"/><circle cx="540.2" cy="911.1" r="0.71" fill="#7e7e7e"/><circle cx="487.7" cy="917.5" r="0.49" fill="#9b9b9b"/><circle cx="492.1" cy="901.3" r="0.77" fill="#777777"/><circle cx="528.8" cy="898.7" r="0.53" fill="#626262"/><circle cx="522.5" cy="890.8" r="0.63" fill="#636363"/><circle cx="529.2" cy="909.7" r="0.70" fill="#828282"/><circle cx="554.6" cy="951.7" r="0.61" fill="#797979"/><circle cx="548.0" cy="962.2" r="0.65" fill="#676767"/><circle cx="546.1" cy="966.7" r="0.55" fill="#6a6a6a"/><circle cx="525.4" cy="947.2" r="0.73" fill="#868686"/><circle cx="526.8" cy="895.9" r="0.56" fill="#646464"/><circle cx="498.9" cy="949.8" r="0.62" fill="#686868"/><circle cx="555.9" cy="949.6" r="0.71" fill="#5f5f5f"/><circle cx="547.9" cy="971.5" r="0.50" fill="#818181"/><circle cx="537.7" cy="886.4" r="0.66" fill="#676767"/><circle cx="546.9" cy="925.7" r="0.75" fill="#878787"/><circle cx="536.9" cy="965.0" r="0.77" fill="#9a9a9a"/><circle cx="490.4" cy="943.4" r="0.75" fill="#6f6f6f"/><circle cx="517.4" cy="948.2" r="0.51" fill="#999999"/><circle cx="547.0" cy="917.8" r="0.69" fill="#787878"/><circle cx="503.7" cy="893.1" r="0.45" fill="#6d6d6d"/><circle cx="571.2" cy="901.5" r="0.78" fill="#757575"/><circle cx="489.4" cy="953.5" r="0.76" fill="#5f5f5f"/><circle cx="488.9" cy="930.6" r="0.74" fill="#989898"/><circle cx="524.3" cy="940.0" r="0.66" fill="#8b8b8b"/><circle cx="565.3" cy="920.4" r="0.68" fill="#666666"/><circle cx="567.6" cy="954.3" r="0.73" fill="#959595"/><circle cx="540.6" cy="948.5" r="0.46" fill="#8b8b8b"/><circle cx="555.8" cy="922.6" r="0.79" fill="#787878"/><circle cx="547.1" cy="976.0" r="0.53" fill="#909090"/><circle cx="502.5" cy="930.2" r="0.54" fill="#808080"/><circle cx="573.0" cy="954.7" r="0.55" fill="#767676"/><circle cx="536.4" cy="923.0" r="0.80" fill="#878787"/><circle cx="528.9" cy="929.6" r="0.57" fill="#828282"/><circle cx="542.5" cy="965.0" r="0.47" fill="#777777"/><circle cx="521.4" cy="917.1" r="0.74" fill="#7d7d7d"/><circle cx="493.1" cy="932.6" r="0.78" fill="#878787"/><circle cx="552.7" cy="883.5" r="0.58" fill="#636363"/><circle cx="514.5" cy="945.1" r="0.46" fill="#606060"/><circle cx="501.9" cy="910.1" r="0.75" fill="#949494"/><circle cx="546.3" cy="963.9" r="0.78" fill="#7c7c7c"/><circle cx="523.6" cy="972.9" r="0.76" fill="#868686"/><circle cx="510.2" cy="977.9" r="0.67" fill="#777777"/><circle cx="568.8" cy="957.9" r="0.70" fill="#7e7e7e"/><circle cx="547.2" cy="909.7" r="0.52" fill="#6a6a6a"/><circle cx="501.0" cy="971.8" r="0.75" fill="#616161"/><circle cx="549.2" cy="956.0" r="0.58" fill="#797979"/><circle cx="527.3" cy="896.5" r="0.79" fill="#9a9a9a"/><circle cx="507.9" cy="978.4" r="0.73" fill="#696969"/><circle cx="519.0" cy="924.0" r="0.60" fill="#777777"/><circle cx="531.2" cy="891.1" r="0.69" fill="#8e8e8e"/><circle cx="490.5" cy="962.2" r="0.71" fill="#707070"/><circle cx="525.7" cy="927.8" r="0.66" fill="#666666"/><circle cx="581.3" cy="897.5" r="0.51" fill="#949494"/><circle cx="580.5" cy="963.5" r="0.58" fill="#727272"/><circle cx="574.9" cy="916.9" r="0.67" fill="#818181"/><circle cx="575.9" cy="898.4" r="0.49" fill="#868686"/><circle cx="552.0" cy="963.9" r="0.75" fill="#7e7e7e"/><circle cx="526.0" cy="891.9" r="0.71" fill="#929292"/><circle cx="528.8" cy="894.2" r="0.54" fill="#909090"/><circle cx="560.7" cy="943.6" r="0.52" fill="#8e8e8e"/><circle cx="521.1" cy="914.4" r="0.47" fill="#8c8c8c"/><circle cx="498.3" cy="945.8" r="0.73" fill="#8e8e8e"/><circle cx="571.8" cy="893.2" r="0.73" fill="#7d7d7d"/><circle cx="531.6" cy="969.3" r="0.76" fill="#747474"/><circle cx="521.6" cy="945.5" r="0.63" fill="#7c7c7c"/><circle cx="528.6" cy="973.3" r="0.75" fill="#626262"/><circle cx="539.3" cy="913.1" r="0.58" fill="#767676"/><circle cx="493.5" cy="924.5" r="0.46" fill="#929292"/><circle cx="551.1" cy="948.1" r="0.72" fill="#949494"/><circle cx="552.8" cy="890.3" r="0.67" fill="#9a9a9a"/><circle cx="557.8" cy="964.1" r="0.73" fill="#606060"/><circle cx="537.4" cy="973.9" r="0.66" fill="#848484"/><circle cx="542.0" cy="923.4" r="0.55" fill="#7e7e7e"/><circle cx="553.2" cy="927.4" r="0.55" fill="#757575"/><circle cx="551.1" cy="968.8" r="0.77" fill="#8a8a8a"/><circle cx="505.1" cy="950.2" r="0.62" fill="#797979"/><circle cx="554.6" cy="913.0" r="0.65" fill="#6e6e6e"/><circle cx="509.4" cy="914.4" r="0.53" fill="#969696"/><circle cx="524.7" cy="887.3" r="0.53" fill="#777777"/><circle cx="494.5" cy="926.3" r="0.56" fill="#989898"/><circle cx="516.8" cy="902.1" r="0.74" fill="#676767"/><circle cx="537.1" cy="942.8" r="0.60" fill="#929292"/><circle cx="568.3" cy="974.0" r="0.65" fill="#7b7b7b"/><circle cx="572.0" cy="971.2" r="0.65" fill="#8f8f8f"/><circle cx="516.2" cy="927.5" r="0.77" fill="#959595"/><circle cx="544.9" cy="920.8" r="0.55" fill="#707070"/><circle cx="513.3" cy="887.9" r="0.69" fill="#737373"/><circle cx="554.0" cy="954.9" r="0.67" fill="#6b6b6b"/><circle cx="562.7" cy="898.3" r="0.53" fill="#929292"/><circle cx="505.9" cy="893.4" r="0.71" fill="#959595"/><circle cx="526.0" cy="959.4" r="0.60" fill="#727272"/><circle cx="497.7" cy="942.5" r="0.79" fill="#767676"/><circle cx="525.0" cy="976.1" r="0.75" fill="#939393"/><circle cx="500.2" cy="912.7" r="0.72" fill="#696969"/><circle cx="554.3" cy="947.0" r="0.56" fill="#6d6d6d"/><circle cx="574.2" cy="933.2" r="0.51" fill="#727272"/><circle cx="493.7" cy="950.1" r="0.63" fill="#969696"/><circle cx="497.2" cy="884.4" r="0.68" fill="#6f6f6f"/><circle cx="574.1" cy="928.9" r="0.75" fill="#686868"/><circle cx="544.8" cy="950.8" r="0.79" fill="#808080"/><circle cx="508.1" cy="887.9" r="0.46" fill="#7d7d7d"/><circle cx="570.5" cy="904.5" r="0.74" fill="#737373"/><circle cx="499.4" cy="934.0" r="0.47" fill="#999999"/><circle cx="541.2" cy="944.5" r="0.70" fill="#7a7a7a"/><circle cx="528.1" cy="893.4" r="0.69" fill="#8e8e8e"/><circle cx="506.9" cy="968.7" r="0.68" fill="#959595"/><circle cx="540.8" cy="914.0" r="0.76" fill="#858585"/><circle cx="544.0" cy="960.3" r="0.52" fill="#949494"/><circle cx="545.7" cy="945.0" r="0.70" fill="#989898"/><circle cx="562.7" cy="899.0" r="0.47" fill="#969696"/><circle cx="547.2" cy="923.4" r="0.60" fill="#737373"/><circle cx="533.1" cy="900.3" r="0.70" fill="#616161"/><circle cx="521.2" cy="960.9" r="0.63" fill="#939393"/><circle cx="567.1" cy="962.2" r="0.76" fill="#828282"/><circle cx="497.7" cy="921.4" r="0.51" fill="#616161"/><circle cx="542.8" cy="925.8" r="0.67" fill="#676767"/><circle cx="532.8" cy="912.6" r="0.56" fill="#939393"/><circle cx="561.2" cy="971.7" r="0.58" fill="#868686"/><circle cx="539.9" cy="916.9" r="0.78" fill="#7c7c7c"/><circle cx="573.5" cy="937.4" r="0.72" fill="#7d7d7d"/><circle cx="571.0" cy="932.7" r="0.73" fill="#8d8d8d"/><circle cx="493.7" cy="938.3" r="0.75" fill="#6b6b6b"/><circle cx="560.9" cy="972.2" r="0.52" fill="#616161"/><circle cx="561.6" cy="909.2" r="0.60" fill="#8f8f8f"/><circle cx="578.8" cy="967.1" r="0.47" fill="#969696"/><circle cx="548.4" cy="901.4" r="0.60" fill="#8e8e8e"/><circle cx="525.9" cy="936.4" r="0.57" fill="#757575"/><circle cx="530.8" cy="920.7" r="0.56" fill="#6f6f6f"/><circle cx="491.8" cy="914.4" r="0.80" fill="#959595"/><circle cx="574.9" cy="901.3" r="0.61" fill="#797979"/><circle cx="519.4" cy="918.1" r="0.72" fill="#9a9a9a"/><circle cx="538.2" cy="951.9" r="0.59" fill="#7d7d7d"/><circle cx="552.4" cy="948.9" r="0.65" fill="#939393"/><circle cx="575.9" cy="964.3" r="0.49" fill="#616161"/><circle cx="494.8" cy="917.4" r="0.48" fill="#7b7b7b"/><circle cx="525.3" cy="916.6" r="0.69" fill="#787878"/><circle cx="562.9" cy="920.6" r="0.76" fill="#787878"/><circle cx="553.1" cy="938.2" r="0.59" fill="#6d6d6d"/><circle cx="498.7" cy="978.1" r="0.47" fill="#717171"/><circle cx="545.7" cy="964.6" r="0.48" fill="#656565"/><circle cx="535.0" cy="952.5" r="0.80" fill="#6d6d6d"/><circle cx="574.7" cy="902.3" r="0.74" fill="#9b9b9b"/><circle cx="489.6" cy="939.0" r="0.62" fill="#7f7f7f"/><circle cx="521.0" cy="887.9" r="0.48" fill="#7b7b7b"/><circle cx="508.5" cy="921.9" r="0.51" fill="#636363"/><circle cx="539.0" cy="909.2" r="0.56" fill="#6e6e6e"/><circle cx="528.9" cy="928.2" r="0.54" fill="#6b6b6b"/><circle cx="572.2" cy="890.2" r="0.57" fill="#616161"/><circle cx="564.6" cy="975.3" r="0.66" fill="#818181"/><circle cx="545.7" cy="901.6" r="0.50" fill="#696969"/><circle cx="582.9" cy="906.5" r="0.47" fill="#636363"/><circle cx="529.5" cy="978.0" r="0.68" fill="#787878"/><circle cx="531.1" cy="970.5" r="0.80" fill="#808080"/><circle cx="491.8" cy="925.1" r="0.46" fill="#7d7d7d"/><circle cx="542.0" cy="916.8" r="0.72" fill="#878787"/><circle cx="544.7" cy="915.9" r="0.69" fill="#999999"/><circle cx="523.5" cy="966.2" r="0.48" fill="#969696"/><circle cx="516.0" cy="970.5" r="0.68" fill="#787878"/><circle cx="518.6" cy="965.8" r="0.75" fill="#979797"/><circle cx="509.9" cy="953.1" r="0.62" fill="#929292"/><circle cx="516.5" cy="947.7" r="0.68" fill="#838383"/><circle cx="515.8" cy="968.1" r="0.63" fill="#8a8a8a"/><circle cx="490.0" cy="957.5" r="0.61" fill="#6a6a6a"/><circle cx="570.3" cy="956.4" r="0.55" fill="#606060"/><circle cx="560.5" cy="886.1" r="0.66" fill="#787878"/><circle cx="505.0" cy="919.4" r="0.59" fill="#838383"/><circle cx="557.8" cy="928.2" r="0.70" fill="#787878"/><circle cx="547.1" cy="974.1" r="0.62" fill="#8e8e8e"/><circle cx="488.4" cy="909.7" r="0.60" fill="#646464"/><circle cx="550.9" cy="950.7" r="0.62" fill="#646464"/><circle cx="563.5" cy="902.2" r="0.68" fill="#939393"/><circle cx="522.5" cy="972.1" r="0.50" fill="#737373"/><circle cx="579.9" cy="886.7" r="0.47" fill="#727272"/><circle cx="569.5" cy="932.6" r="0.60" fill="#8e8e8e"/><circle cx="573.8" cy="889.8" r="0.61" fill="#959595"/><circle cx="575.7" cy="966.9" r="0.73" fill="#8c8c8c"/><circle cx="500.9" cy="883.2" r="0.55" fill="#676767"/><circle cx="511.5" cy="953.1" r="0.61" fill="#878787"/><circle cx="546.2" cy="978.7" r="0.65" fill="#7d7d7d"/><circle cx="509.1" cy="948.2" r="0.75" fill="#7c7c7c"/><circle cx="535.7" cy="933.6" r="0.55" fill="#929292"/><circle cx="511.0" cy="956.2" r="0.73" fill="#868686"/><circle cx="530.2" cy="913.0" r="0.52" fill="#757575"/><circle cx="547.0" cy="885.0" r="0.55" fill="#868686"/><circle cx="549.5" cy="901.7" r="0.53" fill="#939393"/><circle cx="562.7" cy="902.8" r="0.74" fill="#8b8b8b"/><circle cx="497.1" cy="930.1" r="0.66" fill="#8d8d8d"/><circle cx="571.0" cy="896.1" r="0.57" fill="#949494"/><circle cx="504.5" cy="913.1" r="0.75" fill="#878787"/><circle cx="495.1" cy="968.9" r="0.54" fill="#868686"/><circle cx="548.1" cy="883.7" r="0.60" fill="#939393"/><circle cx="555.4" cy="963.1" r="0.68" fill="#797979"/><circle cx="564.8" cy="898.3" r="0.68" fill="#626262"/><circle cx="488.3" cy="962.9" r="0.79" fill="#8f8f8f"/><circle cx="550.4" cy="890.7" r="0.51" fill="#6f6f6f"/><circle cx="546.6" cy="970.4" r="0.63" fill="#7d7d7d"/><circle cx="542.8" cy="976.8" r="0.45" fill="#707070"/><circle cx="522.7" cy="960.0" r="0.79" fill="#909090"/><circle cx="504.4" cy="961.6" r="0.73" fill="#919191"/><circle cx="537.4" cy="898.0" r="0.76" fill="#676767"/><circle cx="529.2" cy="890.9" r="0.50" fill="#818181"/><circle cx="573.1" cy="914.3" r="0.66" fill="#999999"/><circle cx="519.6" cy="914.8" r="0.77" fill="#808080"/><circle cx="574.6" cy="917.6" r="0.78" fill="#868686"/><circle cx="510.2" cy="965.8" r="0.62" fill="#6e6e6e"/><circle cx="529.5" cy="897.1" r="0.50" fill="#6d6d6d"/><circle cx="490.1" cy="926.5" r="0.69" fill="#666666"/><circle cx="561.6" cy="958.4" r="0.74" fill="#868686"/><circle cx="564.4" cy="947.1" r="0.71" fill="#737373"/><circle cx="565.1" cy="939.5" r="0.64" fill="#636363"/><circle cx="526.8" cy="945.5" r="0.71" fill="#898989"/><circle cx="520.3" cy="970.0" r="0.78" fill="#707070"/><circle cx="520.9" cy="893.6" r="0.56" fill="#898989"/><circle cx="542.7" cy="907.2" r="0.49" fill="#828282"/><circle cx="551.0" cy="954.8" r="0.61" fill="#929292"/><circle cx="531.4" cy="899.9" r="0.69" fill="#898989"/><circle cx="497.3" cy="977.1" r="0.58" fill="#757575"/><circle cx="487.9" cy="974.5" r="0.70" fill="#7b7b7b"/><circle cx="515.8" cy="936.2" r="0.63" fill="#777777"/><circle cx="506.7" cy="943.5" r="0.65" fill="#7f7f7f"/><circle cx="517.3" cy="951.8" r="0.55" fill="#696969"/><circle cx="557.8" cy="942.6" r="0.77" fill="#6d6d6d"/><circle cx="506.7" cy="908.8" r="0.46" fill="#828282"/><circle cx="545.6" cy="963.9" r="0.70" fill="#8d8d8d"/><circle cx="497.8" cy="920.0" r="0.50" fill="#838383"/><circle cx="498.4" cy="902.2" r="0.61" fill="#8a8a8a"/><circle cx="503.4" cy="928.3" r="0.66" fill="#6e6e6e"/><circle cx="497.0" cy="938.5" r="0.58" fill="#848484"/><circle cx="499.1" cy="899.5" r="0.66" fill="#919191"/><circle cx="551.8" cy="921.2" r="0.67" fill="#929292"/><circle cx="568.4" cy="952.6" r="0.68" fill="#989898"/><circle cx="559.5" cy="901.7" r="0.62" fill="#696969"/><circle cx="511.2" cy="964.6" r="0.72" fill="#898989"/><circle cx="491.6" cy="960.7" r="0.80" fill="#989898"/><circle cx="564.0" cy="932.0" r="0.52" fill="#989898"/><circle cx="565.3" cy="907.7" r="0.75" fill="#8e8e8e"/><circle cx="548.2" cy="948.2" r="0.59" fill="#717171"/><circle cx="529.9" cy="917.9" r="0.59" fill="#6c6c6c"/><circle cx="522.9" cy="900.0" r="0.57" fill="#828282"/><circle cx="538.9" cy="975.6" r="0.76" fill="#757575"/><circle cx="520.2" cy="922.0" r="0.48" fill="#808080"/><circle cx="499.2" cy="923.6" r="0.58" fill="#636363"/><circle cx="533.4" cy="939.7" r="0.59" fill="#6d6d6d"/><circle cx="501.6" cy="965.0" r="0.61" fill="#6d6d6d"/><circle cx="572.5" cy="951.1" r="0.76" fill="#808080"/><circle cx="551.9" cy="908.6" r="0.51" fill="#696969"/><circle cx="509.3" cy="911.0" r="0.51" fill="#777777"/><circle cx="488.7" cy="891.9" r="0.70" fill="#7e7e7e"/><circle cx="568.8" cy="922.7" r="0.55" fill="#7d7d7d"/><circle cx="580.6" cy="909.9" r="0.73" fill="#949494"/><circle cx="488.0" cy="900.2" r="0.47" fill="#717171"/><circle cx="521.1" cy="894.4" r="0.80" fill="#848484"/><circle cx="544.8" cy="977.2" r="0.49" fill="#797979"/><circle cx="526.0" cy="915.0" r="0.67" fill="#808080"/><circle cx="566.8" cy="895.8" r="0.61" fill="#656565"/><circle cx="508.2" cy="934.6" r="0.46" fill="#747474"/><circle cx="542.7" cy="908.7" r="0.79" fill="#919191"/><circle cx="527.9" cy="934.9" r="0.74" fill="#7e7e7e"/><circle cx="524.8" cy="931.7" r="0.72" fill="#828282"/><circle cx="569.5" cy="907.8" r="0.65" fill="#8a8a8a"/><circle cx="570.7" cy="944.1" r="0.79" fill="#909090"/><circle cx="574.8" cy="953.6" r="0.73" fill="#8c8c8c"/><circle cx="531.2" cy="963.5" r="0.59" fill="#777777"/><circle cx="508.6" cy="963.9" r="0.47" fill="#7e7e7e"/><circle cx="498.1" cy="946.3" r="0.68" fill="#979797"/><circle cx="554.8" cy="964.3" r="0.78" fill="#757575"/><circle cx="503.5" cy="954.6" r="0.57" fill="#909090"/><circle cx="495.5" cy="884.4" r="0.46" fill="#6c6c6c"/><circle cx="511.0" cy="900.2" r="0.55" fill="#858585"/><circle cx="503.5" cy="904.5" r="0.67" fill="#999999"/><circle cx="489.4" cy="912.4" r="0.64" fill="#8f8f8f"/><circle cx="490.6" cy="953.8" r="0.77" fill="#838383"/><circle cx="533.7" cy="947.8" r="0.59" fill="#646464"/><circle cx="492.9" cy="968.8" r="0.71" fill="#8c8c8c"/><circle cx="578.1" cy="975.1" r="0.62" fill="#686868"/><circle cx="543.3" cy="918.2" r="0.77" fill="#767676"/><circle cx="499.1" cy="918.4" r="0.74" fill="#979797"/><circle cx="503.2" cy="968.9" r="0.50" fill="#6b6b6b"/><circle cx="561.9" cy="905.2" r="0.76" fill="#696969"/><circle cx="573.6" cy="900.2" r="0.79" fill="#6f6f6f"/><circle cx="576.6" cy="948.5" r="0.67" fill="#797979"/><circle cx="569.1" cy="966.0" r="0.78" fill="#939393"/><circle cx="502.6" cy="938.1" r="0.58" fill="#8d8d8d"/><circle cx="531.9" cy="969.2" r="0.49" fill="#7d7d7d"/><circle cx="492.1" cy="908.2" r="0.71" fill="#919191"/><circle cx="581.5" cy="973.7" r="0.60" fill="#929292"/><circle cx="514.2" cy="956.7" r="0.71" fill="#636363"/><circle cx="491.9" cy="906.4" r="0.58" fill="#606060"/><circle cx="528.3" cy="911.3" r="0.79" fill="#606060"/><circle cx="495.8" cy="965.4" r="0.69" fill="#808080"/><circle cx="519.0" cy="938.0" r="0.68" fill="#8d8d8d"/><circle cx="509.7" cy="883.7" r="0.47" fill="#6f6f6f"/><circle cx="559.2" cy="962.2" r="0.74" fill="#8b8b8b"/><circle cx="528.0" cy="911.5" r="0.50" fill="#7c7c7c"/><circle cx="497.4" cy="914.8" r="0.62" fill="#919191"/><circle cx="516.0" cy="923.7" r="0.52" fill="#6b6b6b"/><circle cx="567.1" cy="936.4" r="0.69" fill="#7b7b7b"/><circle cx="525.0" cy="961.7" r="0.52" fill="#868686"/><circle cx="549.4" cy="937.3" r="0.58" fill="#6a6a6a"/><circle cx="518.0" cy="927.9" r="0.71" fill="#727272"/><circle cx="518.2" cy="951.4" r="0.69" fill="#7d7d7d"/><circle cx="492.7" cy="947.6" r="0.68" fill="#959595"/><circle cx="517.4" cy="935.7" r="0.71" fill="#686868"/><circle cx="539.1" cy="967.9" r="0.77" fill="#6c6c6c"/><circle cx="525.6" cy="899.0" r="0.58" fill="#626262"/><circle cx="520.3" cy="906.7" r="0.49" fill="#6b6b6b"/><circle cx="514.3" cy="940.1" r="0.63" fill="#878787"/><polyline points="508.4,953.7 509.3,954.8 510.3,954.8 511.1,954.0" fill="none" stroke="#5e5e5e" stroke-width="1.2" stroke-linecap="round" stroke-linejoin="round"/><polyline points="508.4,955.0 508.5,953.4 507.5,952.0 506.4,951.6" fill="none" stroke="#4f4f4f" stroke-width="0.9" stroke-linecap="round" stroke-linejoin="round"/><polyline points="511.9,952.9 510.6,953.3 509.8,953.9 509.0,954.6 507.8,954.3" fill="none" stroke="#4f4f4f" stroke-width="1.1" stroke-linecap="round" stroke-linejoin="round"/><polyline points="510.9,953.0 511.1,954.5 509.9,955.6 509.3,956.9 508.7,958.0" fill="none" stroke="#333333" stroke-width="1.1" stroke-linecap="round" stroke-linejoin="round"/><polyline points="510.9,954.3 509.9,954.3 508.8,953.7 507.7,952.6 506.4,952.2" fill="none" stroke="#2e2e2e" stroke-width="1.4" stroke-linecap="round" stroke-linejoin="round"/><ellipse cx="511.0" cy="953.9" rx="1.1" ry="0.5" fill="#444444" transform="rotate(18 511.0 953.9)"/><ellipse cx="508.5" cy="954.7" rx="0.6" ry="0.5" fill="#616161" transform="rotate(178 508.5 954.7)"/><ellipse cx="508.4" cy="956.3" rx="0.6" ry="0.4" fill="#535353" transform="rotate(49 508.4 956.3)"/><ellipse cx="508.7" cy="957.2" rx="1.0" ry="0.5" fill="#696969" transform="rotate(13 508.7 957.2)"/><ellipse cx="507.7" cy="956.0" rx="0.9" ry="0.4" fill="#4e4e4e" transform="rotate(162 507.7 956.0)"/><ellipse cx="507.1" cy="955.1" rx="0.6" ry="0.5" fill="#6a6a6a" transform="rotate(118 507.1 955.1)"/><ellipse cx="506.3" cy="955.6" rx="0.8" ry="0.6" fill="#6a6a6a" transform="rotate(136 506.3 955.6)"/><ellipse cx="510.5" cy="954.6" rx="1.1" ry="0.6" fill="#545454" transform="rotate(16 510.5 954.6)"/><ellipse cx="507.7" cy="952.6" rx="1.1" ry="0.4" fill="#646464" transform="rotate(111 507.7 952.6)"/><ellipse cx="509.4" cy="952.8" rx="1.0" ry="0.5" fill="#373737" transform="rotate(75 509.4 952.8)"/><ellipse cx="509.1" cy="956.0" rx="0.7" ry="0.6" fill="#393939" transform="rotate(124 509.1 956.0)"/><polyline points="496.7,946.7 497.1,947.8 497.3,948.9 498.3,949.8" fill="none" stroke="#494949" stroke-width="1.3" stroke-linecap="round" stroke-linejoin="round"/><polyline points="495.7,947.6 494.6,947.2 493.5,947.9 492.4,949.2 490.6,949.1" fill="none" stroke="#3e3e3e" stroke-width="1.5" stroke-linecap="round" stroke-linejoin="round"/><ellipse cx="496.0" cy="947.0" rx="0.8" ry="0.6" fill="#505050" transform="rotate(68 496.0 947.0)"/><ellipse cx="497.4" cy="947.7" rx="0.7" ry="0.4" fill="#595959" transform="rotate(63 497.4 947.7)"/><ellipse cx="494.8" cy="949.0" rx="1.0" ry="0.7" fill="#474747" transform="rotate(73 494.8 949.0)"/><ellipse cx="495.3" cy="950.0" rx="0.5" ry="0.4" fill="#5e5e5e" transform="rotate(165 495.3 950.0)"/><ellipse cx="494.2" cy="948.1" rx="0.7" ry="0.5" fill="#3e3e3e" transform="rotate(82 494.2 948.1)"/><ellipse cx="497.5" cy="947.3" rx="0.5" ry="0.7" fill="#5a5a5a" transform="rotate(93 497.5 947.3)"/><polyline points="572.8,946.3 572.6,944.8 572.2,944.0" fill="none" stroke="#595959" stroke-width="1.0" stroke-linecap="round" stroke-linejoin="round"/><polyline points="572.8,946.8 574.0,945.7 575.3,945.7" fill="none" stroke="#3f3f3f" stroke-width="1.4" stroke-linecap="round" stroke-linejoin="round"/><polyline points="573.7,946.3 572.7,947.1 571.9,946.8 571.3,945.4 569.8,944.8" fill="none" stroke="#505050" stroke-width="1.0" stroke-linecap="round" stroke-linejoin="round"/><ellipse cx="572.3" cy="945.9" rx="0.5" ry="0.5" fill="#4e4e4e" transform="rotate(99 572.3 945.9)"/><ellipse cx="573.2" cy="947.5" rx="1.1" ry="0.7" fill="#4c4c4c" transform="rotate(0 573.2 947.5)"/><ellipse cx="573.5" cy="948.2" rx="0.7" ry="0.5" fill="#414141" transform="rotate(22 573.5 948.2)"/><ellipse cx="570.9" cy="947.9" rx="1.0" ry="0.5" fill="#393939" transform="rotate(92 570.9 947.9)"/><ellipse cx="574.8" cy="948.5" rx="1.1" ry="0.6" fill="#636363" transform="rotate(69 574.8 948.5)"/><ellipse cx="572.3" cy="949.4" rx="0.5" ry="0.7" fill="#5e5e5e" transform="rotate(170 572.3 949.4)"/><ellipse cx="573.0" cy="949.1" rx="0.6" ry="0.4" fill="#585858" transform="rotate(88 573.0 949.1)"/><polyline points="576.9,936.4 575.8,935.1 575.8,934.2 575.5,933.1" fill="none" stroke="#4d4d4d" stroke-width="1.3" stroke-linecap="round" stroke-linejoin="round"/><polyline points="575.8,936.7 574.2,936.5 573.4,937.0" fill="none" stroke="#545454" stroke-width="1.0" stroke-linecap="round" stroke-linejoin="round"/><ellipse cx="577.2" cy="933.8" rx="0.5" ry="0.6" fill="#444444" transform="rotate(165 577.2 933.8)"/><ellipse cx="577.5" cy="937.8" rx="0.7" ry="0.6" fill="#5a5a5a" transform="rotate(154 577.5 937.8)"/><ellipse cx="577.2" cy="936.9" rx="0.5" ry="0.6" fill="#6c6c6c" transform="rotate(64 577.2 936.9)"/><ellipse cx="576.8" cy="935.1" rx="0.6" ry="0.6" fill="#5b5b5b" transform="rotate(110 576.8 935.1)"/><ellipse cx="577.0" cy="936.1" rx="0.9" ry="0.5" fill="#6a6a6a" transform="rotate(94 577.0 936.1)"/><ellipse cx="578.2" cy="935.4" rx="0.9" ry="0.6" fill="#545454" transform="rotate(21 578.2 935.4)"/><polyline points="556.7,965.5 555.8,965.6 554.9,965.9 553.9,965.9 553.3,966.5" fill="none" stroke="#505050" stroke-width="1.2" stroke-linecap="round" stroke-linejoin="round"/><polyline points="552.1,966.9 552.5,968.0 552.4,969.4 551.7,970.2 550.3,970.7" fill="none" stroke="#282828" stroke-width="1.1" stroke-linecap="round" stroke-linejoin="round"/><polyline points="554.1,968.1 554.6,966.9 555.4,966.3" fill="none" stroke="#555555" stroke-width="1.1" stroke-linecap="round" stroke-linejoin="round"/><polyline points="558.5,963.5 558.7,961.8 558.2,961.1" fill="none" stroke="#303030" stroke-width="1.1" stroke-linecap="round" stroke-linejoin="round"/><polyline points="560.5,964.2 560.9,965.0 562.4,966.0" fill="none" stroke="#505050" stroke-width="1.3" stroke-linecap="round" stroke-linejoin="round"/><polyline points="557.0,967.6 558.5,967.8 559.8,967.1 561.2,966.7" fill="none" stroke="#323232" stroke-width="1.3" stroke-linecap="round" stroke-linejoin="round"/><polyline points="558.4,965.8 559.6,966.5 560.2,967.4" fill="none" stroke="#373737" stroke-width="1.3" stroke-linecap="round" stroke-linejoin="round"/><polyline points="558.8,966.8 558.0,967.2 556.5,967.2" fill="none" stroke="#2e2e2e" stroke-width="1.4" stroke-linecap="round" stroke-linejoin="round"/><ellipse cx="557.9" cy="969.0" rx="0.9" ry="0.5" fill="#585858" transform="rotate(86 557.9 969.0)"/><ellipse cx="554.3" cy="967.7" rx="0.9" ry="0.6" fill="#5b5b5b" transform="rotate(27 554.3 967.7)"/><ellipse cx="557.2" cy="967.7" rx="1.0" ry="0.7" fill="#696969" transform="rotate(7 557.2 967.7)"/><ellipse cx="554.7" cy="963.4" rx="0.5" ry="0.6" fill="#585858" transform="rotate(123 554.7 963.4)"/><ellipse cx="555.7" cy="964.9" rx="1.1" ry="0.5" fill="#464646" transform="rotate(174 555.7 964.9)"/><ellipse cx="558.9" cy="965.3" rx="0.6" ry="0.6" fill="#5a5a5a" transform="rotate(65 558.9 965.3)"/><ellipse cx="560.5" cy="967.7" rx="0.7" ry="0.6" fill="#6d6d6d" transform="rotate(52 560.5 967.7)"/><ellipse cx="557.4" cy="968.4" rx="1.1" ry="0.6" fill="#4b4b4b" transform="rotate(35 557.4 968.4)"/><ellipse cx="561.4" cy="965.7" rx="1.0" ry="0.5" fill="#4c4c4c" transform="rotate(139 561.4 965.7)"/><ellipse cx="558.7" cy="964.4" rx="0.8" ry="0.4" fill="#404040" transform="rotate(36 558.7 964.4)"/><ellipse cx="559.1" cy="967.0" rx="0.6" ry="0.6" fill="#6b6b6b" transform="rotate(163 559.1 967.0)"/><ellipse cx="560.4" cy="966.6" rx="0.6" ry="0.4" fill="#383838" transform="rotate(41 560.4 966.6)"/><ellipse cx="555.5" cy="965.6" rx="0.6" ry="0.5" fill="#515151" transform="rotate(142 555.5 965.6)"/><ellipse cx="552.8" cy="965.4" rx="1.0" ry="0.4" fill="#6b6b6b" transform="rotate(93 552.8 965.4)"/><ellipse cx="555.6" cy="968.7" rx="0.6" ry="0.5" fill="#696969" transform="rotate(102 555.6 968.7)"/><ellipse cx="554.8" cy="964.6" rx="0.9" ry="0.7" fill="#575757" transform="rotate(154 554.8 964.6)"/><ellipse cx="555.4" cy="964.4" rx="0.8" ry="0.4" fill="#5a5a5a" transform="rotate(128 555.4 964.4)"/><polyline points="519.0,908.1 518.6,909.7 517.6,910.9 517.6,911.8" fill="none" stroke="#535353" stroke-width="1.2" stroke-linecap="round" stroke-linejoin="round"/><ellipse cx="518.2" cy="908.0" rx="1.0" ry="0.5" fill="#6c6c6c" transform="rotate(176 518.2 908.0)"/><ellipse cx="520.0" cy="908.5" rx="0.9" ry="0.4" fill="#636363" transform="rotate(146 520.0 908.5)"/><ellipse cx="519.8" cy="907.4" rx="1.0" ry="0.4" fill="#5c5c5c" transform="rotate(7 519.8 907.4)"/><ellipse cx="519.2" cy="906.9" rx="0.9" ry="0.7" fill="#636363" transform="rotate(139 519.2 906.9)"/><polyline points="541.1,941.1 540.7,940.1 539.2,939.6 538.9,938.7" fill="none" stroke="#555555" stroke-width="1.5" stroke-linecap="round" stroke-linejoin="round"/><ellipse cx="539.5" cy="941.7" rx="0.8" ry="0.6" fill="#434343" transform="rotate(33 539.5 941.7)"/><ellipse cx="541.0" cy="942.3" rx="0.7" ry="0.6" fill="#5d5d5d" transform="rotate(92 541.0 942.3)"/><ellipse cx="540.2" cy="941.4" rx="0.5" ry="0.5" fill="#494949" transform="rotate(110 540.2 941.4)"/><ellipse cx="541.6" cy="941.1" rx="0.6" ry="0.4" fill="#3f3f3f" transform="rotate(83 541.6 941.1)"/><polyline points="551.7,944.4 551.1,943.1 550.2,941.8 550.2,940.9" fill="none" stroke="#373737" stroke-width="1.6" stroke-linecap="round" stroke-linejoin="round"/><polyline points="551.7,944.8 551.1,943.8 550.1,943.5 549.0,943.2 548.2,942.5" fill="none" stroke="#333333" stroke-width="0.9" stroke-linecap="round" stroke-linejoin="round"/><ellipse cx="554.1" cy="945.3" rx="1.0" ry="0.7" fill="#3b3b3b" transform="rotate(163 554.1 945.3)"/><ellipse cx="553.9" cy="944.4" rx="0.7" ry="0.4" fill="#636363" transform="rotate(113 553.9 944.4)"/><ellipse cx="551.9" cy="945.3" rx="0.8" ry="0.4" fill="#525252" transform="rotate(124 551.9 945.3)"/><ellipse cx="551.1" cy="944.7" rx="1.1" ry="0.5" fill="#3d3d3d" transform="rotate(57 551.1 944.7)"/><polyline points="546.6,970.5 546.3,969.7 545.7,968.8" fill="none" stroke="#2f2f2f" stroke-width="1.5" stroke-linecap="round" stroke-linejoin="round"/><polyline points="547.7,969.9 546.8,971.2 546.0,972.0 545.2,972.8" fill="none" stroke="#3f3f3f" stroke-width="1.6" stroke-linecap="round" stroke-linejoin="round"/><polyline points="549.8,970.6 550.2,972.2 550.8,973.0 551.9,973.6" fill="none" stroke="#575757" stroke-width="0.9" stroke-linecap="round" stroke-linejoin="round"/><ellipse cx="547.0" cy="968.0" rx="0.9" ry="0.5" fill="#3e3e3e" transform="rotate(131 547.0 968.0)"/><ellipse cx="547.1" cy="969.5" rx="0.9" ry="0.4" fill="#676767" transform="rotate(57 547.1 969.5)"/><ellipse cx="551.3" cy="969.6" rx="0.9" ry="0.7" fill="#373737" transform="rotate(6 551.3 969.6)"/><ellipse cx="551.3" cy="969.0" rx="0.8" ry="0.6" fill="#3d3d3d" transform="rotate(137 551.3 969.0)"/><ellipse cx="550.2" cy="969.0" rx="1.0" ry="0.7" fill="#5a5a5a" transform="rotate(141 550.2 969.0)"/><ellipse cx="548.2" cy="969.8" rx="0.9" ry="0.7" fill="#4a4a4a" transform="rotate(102 548.2 969.8)"/><ellipse cx="547.4" cy="969.9" rx="0.9" ry="0.7" fill="#3f3f3f" transform="rotate(114 547.4 969.9)"/></g>
</g>
<rect x="487.4" y="882.3" width="95.7" height="96.7" fill="none" stroke="#1a1a1a" stroke-width="1.6"/>
<line x1="561.4" y1="969.4" x2="578.8" y2="969.4" stroke="#000" stroke-width="2.6" stroke-linecap="butt"/>
</g>
<g>
<rect x="585.4" y="881.5" width="98.7" height="98.5" fill="url(#lg5)"/>
<clipPath id="cp5"><rect x="585.4" y="881.5" width="98.7" height="98.5"/></clipPath>
<g clip-path="url(#cp5)">
<ellipse cx="591.6" cy="967.5" rx="3.0" ry="3.0" fill="#c8c8c8" filter="url(#blur1)" transform="rotate(0 591.6 967.5)"/>
<g filter="url(#blur2)"><circle cx="615.7" cy="911.1" r="0.73" fill="#6b6b6b"/><circle cx="637.4" cy="930.3" r="0.70" fill="#6d6d6d"/><circle cx="614.0" cy="958.1" r="0.75" fill="#929292"/><circle cx="631.7" cy="916.0" r="0.61" fill="#727272"/><circle cx="614.7" cy="887.2" r="0.72" fill="#969696"/><circle cx="603.6" cy="900.4" r="0.66" fill="#818181"/><circle cx="629.5" cy="957.1" r="0.55" fill="#6e6e6e"/><circle cx="649.4" cy="888.0" r="0.68" fill="#6e6e6e"/><circle cx="675.4" cy="920.0" r="0.54" fill="#808080"/><circle cx="665.5" cy="889.4" r="0.74" fill="#727272"/><circle cx="614.5" cy="965.2" r="0.56" fill="#5f5f5f"/><circle cx="632.8" cy="977.0" r="0.80" fill="#737373"/><circle cx="632.2" cy="892.1" r="0.77" fill="#626262"/><circle cx="605.1" cy="944.5" r="0.49" fill="#8f8f8f"/><circle cx="643.5" cy="921.6" r="0.49" fill="#6b6b6b"/><circle cx="624.1" cy="909.8" r="0.76" fill="#929292"/><circle cx="644.3" cy="961.1" r="0.74" fill="#969696"/><circle cx="586.4" cy="952.1" r="0.70" fill="#767676"/><circle cx="600.2" cy="908.5" r="0.69" fill="#8c8c8c"/><circle cx="656.7" cy="890.2" r="0.78" fill="#767676"/><circle cx="652.0" cy="911.9" r="0.74" fill="#969696"/><circle cx="613.0" cy="888.8" r="0.64" fill="#878787"/><circle cx="616.9" cy="928.0" r="0.60" fill="#696969"/><circle cx="593.0" cy="916.3" r="0.74" fill="#8f8f8f"/><circle cx="653.8" cy="896.8" r="0.62" fill="#8e8e8e"/><circle cx="628.0" cy="934.4" r="0.49" fill="#626262"/><circle cx="634.2" cy="962.2" r="0.72" fill="#919191"/><circle cx="638.2" cy="946.3" r="0.67" fill="#7f7f7f"/><circle cx="617.9" cy="936.6" r="0.53" fill="#909090"/><circle cx="588.9" cy="935.9" r="0.80" fill="#848484"/><circle cx="680.6" cy="890.5" r="0.54" fill="#737373"/><circle cx="635.1" cy="962.8" r="0.51" fill="#707070"/><circle cx="600.1" cy="911.5" r="0.58" fill="#8f8f8f"/><circle cx="632.0" cy="960.4" r="0.76" fill="#606060"/><circle cx="677.6" cy="935.6" r="0.66" fill="#8b8b8b"/><circle cx="671.7" cy="934.5" r="0.60" fill="#666666"/><circle cx="662.9" cy="950.9" r="0.49" fill="#808080"/><circle cx="680.4" cy="936.1" r="0.61" fill="#7a7a7a"/><circle cx="614.1" cy="899.3" r="0.62" fill="#909090"/><circle cx="651.0" cy="953.8" r="0.64" fill="#858585"/><circle cx="589.0" cy="970.0" r="0.65" fill="#838383"/><circle cx="634.5" cy="964.4" r="0.50" fill="#656565"/><circle cx="618.3" cy="915.7" r="0.65" fill="#6b6b6b"/><circle cx="660.9" cy="946.2" r="0.58" fill="#808080"/><circle cx="597.4" cy="971.8" r="0.74" fill="#6a6a6a"/><circle cx="674.5" cy="965.1" r="0.61" fill="#757575"/><circle cx="639.1" cy="967.0" r="0.48" fill="#696969"/><circle cx="650.7" cy="910.2" r="0.61" fill="#5f5f5f"/><circle cx="659.0" cy="953.5" r="0.53" fill="#808080"/><circle cx="674.3" cy="977.2" r="0.75" fill="#878787"/><circle cx="670.3" cy="886.5" r="0.65" fill="#696969"/><circle cx="610.8" cy="911.5" r="0.56" fill="#959595"/><circle cx="591.5" cy="939.9" r="0.67" fill="#5f5f5f"/><circle cx="587.9" cy="964.2" r="0.50" fill="#8c8c8c"/><circle cx="628.8" cy="908.9" r="0.65" fill="#7c7c7c"/><circle cx="635.5" cy="975.2" r="0.50" fill="#828282"/><circle cx="607.1" cy="914.3" r="0.48" fill="#8d8d8d"/><circle cx="644.2" cy="938.4" r="0.52" fill="#6e6e6e"/><circle cx="634.1" cy="916.2" r="0.49" fill="#757575"/><circle cx="626.9" cy="952.2" r="0.51" fill="#717171"/><circle cx="598.7" cy="923.7" r="0.65" fill="#909090"/><circle cx="618.0" cy="944.9" r="0.51" fill="#979797"/><circle cx="662.3" cy="964.8" r="0.49" fill="#8c8c8c"/><circle cx="612.6" cy="956.9" r="0.50" fill="#5f5f5f"/><circle cx="643.9" cy="885.7" r="0.54" fill="#616161"/><circle cx="621.2" cy="939.6" r="0.50" fill="#9b9b9b"/><circle cx="619.0" cy="946.9" r="0.49" fill="#949494"/><circle cx="624.9" cy="945.7" r="0.56" fill="#8b8b8b"/><circle cx="670.9" cy="950.2" r="0.53" fill="#646464"/><circle cx="611.1" cy="899.8" r="0.49" fill="#6d6d6d"/><circle cx="672.1" cy="909.7" r="0.60" fill="#8f8f8f"/><circle cx="605.8" cy="906.7" r="0.49" fill="#8f8f8f"/><circle cx="672.4" cy="900.8" r="0.49" fill="#909090"/><circle cx="635.5" cy="922.2" r="0.50" fill="#5f5f5f"/><circle cx="650.2" cy="897.3" r="0.61" fill="#858585"/><circle cx="613.6" cy="898.1" r="0.56" fill="#666666"/><circle cx="662.8" cy="973.9" r="0.56" fill="#717171"/><circle cx="629.7" cy="925.0" r="0.61" fill="#7e7e7e"/><circle cx="650.0" cy="911.4" r="0.52" fill="#8f8f8f"/><circle cx="625.3" cy="938.3" r="0.57" fill="#9b9b9b"/><circle cx="599.2" cy="884.9" r="0.47" fill="#858585"/><circle cx="596.8" cy="901.0" r="0.65" fill="#8a8a8a"/><circle cx="586.6" cy="956.1" r="0.68" fill="#727272"/><circle cx="600.4" cy="915.8" r="0.77" fill="#636363"/><circle cx="674.6" cy="965.0" r="0.56" fill="#717171"/><circle cx="634.4" cy="949.4" r="0.64" fill="#9b9b9b"/><circle cx="654.1" cy="889.2" r="0.51" fill="#838383"/><circle cx="646.7" cy="883.5" r="0.74" fill="#9b9b9b"/><circle cx="612.3" cy="929.8" r="0.49" fill="#676767"/><circle cx="635.6" cy="972.5" r="0.77" fill="#959595"/><circle cx="679.1" cy="969.0" r="0.47" fill="#757575"/><circle cx="592.5" cy="946.9" r="0.59" fill="#6f6f6f"/><circle cx="625.3" cy="914.1" r="0.59" fill="#676767"/><circle cx="589.3" cy="960.1" r="0.75" fill="#999999"/><circle cx="664.1" cy="898.3" r="0.56" fill="#757575"/><circle cx="638.7" cy="930.2" r="0.59" fill="#888888"/><circle cx="632.3" cy="921.8" r="0.50" fill="#8d8d8d"/><circle cx="664.2" cy="968.9" r="0.62" fill="#8a8a8a"/><circle cx="654.7" cy="959.3" r="0.46" fill="#868686"/><circle cx="635.6" cy="976.0" r="0.64" fill="#616161"/><circle cx="608.8" cy="915.4" r="0.51" fill="#848484"/><circle cx="592.7" cy="975.6" r="0.73" fill="#787878"/><circle cx="658.9" cy="898.0" r="0.77" fill="#848484"/><circle cx="654.9" cy="888.9" r="0.78" fill="#787878"/><circle cx="588.3" cy="898.4" r="0.47" fill="#6a6a6a"/><circle cx="646.5" cy="964.7" r="0.47" fill="#787878"/><circle cx="620.8" cy="949.9" r="0.63" fill="#797979"/><circle cx="672.0" cy="971.8" r="0.62" fill="#6e6e6e"/><circle cx="587.7" cy="895.6" r="0.69" fill="#969696"/><circle cx="601.4" cy="972.6" r="0.48" fill="#959595"/><circle cx="642.7" cy="963.0" r="0.50" fill="#6e6e6e"/><circle cx="674.9" cy="918.7" r="0.53" fill="#606060"/><circle cx="605.9" cy="946.7" r="0.52" fill="#8c8c8c"/><circle cx="603.7" cy="909.7" r="0.48" fill="#838383"/><circle cx="638.8" cy="914.1" r="0.55" fill="#9a9a9a"/><circle cx="598.2" cy="971.1" r="0.56" fill="#717171"/><circle cx="611.0" cy="973.1" r="0.78" fill="#989898"/><circle cx="631.6" cy="896.6" r="0.65" fill="#787878"/><circle cx="651.5" cy="959.1" r="0.60" fill="#999999"/><circle cx="651.4" cy="969.8" r="0.65" fill="#767676"/><circle cx="619.4" cy="931.1" r="0.60" fill="#6d6d6d"/><circle cx="587.7" cy="950.9" r="0.46" fill="#8a8a8a"/><circle cx="623.2" cy="974.3" r="0.57" fill="#797979"/><circle cx="605.2" cy="921.5" r="0.64" fill="#858585"/><circle cx="666.2" cy="920.4" r="0.53" fill="#838383"/><circle cx="629.2" cy="905.6" r="0.64" fill="#6d6d6d"/><circle cx="638.0" cy="894.0" r="0.69" fill="#8d8d8d"/><circle cx="622.4" cy="975.0" r="0.59" fill="#646464"/><circle cx="648.0" cy="954.7" r="0.51" fill="#747474"/><circle cx="661.0" cy="918.9" r="0.67" fill="#7c7c7c"/><circle cx="604.0" cy="966.2" r="0.78" fill="#777777"/><circle cx="587.0" cy="953.0" r="0.69" fill="#6d6d6d"/><circle cx="622.7" cy="892.3" r="0.78" fill="#616161"/><circle cx="660.0" cy="927.3" r="0.76" fill="#888888"/><circle cx="682.0" cy="977.3" r="0.51" fill="#6a6a6a"/><circle cx="625.0" cy="956.2" r="0.51" fill="#707070"/><circle cx="639.4" cy="947.0" r="0.60" fill="#9a9a9a"/><circle cx="670.5" cy="883.5" r="0.67" fill="#919191"/><circle cx="642.4" cy="907.0" r="0.59" fill="#989898"/><circle cx="616.0" cy="926.1" r="0.49" fill="#8d8d8d"/><circle cx="604.1" cy="961.6" r="0.63" fill="#606060"/><circle cx="611.5" cy="886.0" r="0.49" fill="#818181"/><circle cx="667.8" cy="913.1" r="0.71" fill="#858585"/><circle cx="617.2" cy="889.5" r="0.76" fill="#999999"/><circle cx="648.5" cy="900.9" r="0.78" fill="#929292"/><circle cx="590.4" cy="958.9" r="0.59" fill="#696969"/><circle cx="673.7" cy="913.7" r="0.69" fill="#7a7a7a"/><circle cx="677.6" cy="901.2" r="0.73" fill="#696969"/><circle cx="602.6" cy="914.4" r="0.65" fill="#707070"/><circle cx="657.6" cy="902.8" r="0.47" fill="#616161"/><circle cx="681.1" cy="902.2" r="0.65" fill="#9b9b9b"/><circle cx="632.0" cy="896.1" r="0.65" fill="#717171"/><circle cx="639.5" cy="886.8" r="0.72" fill="#676767"/><circle cx="672.4" cy="960.1" r="0.53" fill="#8b8b8b"/><circle cx="630.0" cy="899.0" r="0.70" fill="#646464"/><circle cx="593.0" cy="928.2" r="0.62" fill="#7b7b7b"/><circle cx="642.6" cy="891.5" r="0.61" fill="#727272"/><circle cx="647.8" cy="910.7" r="0.74" fill="#727272"/><circle cx="616.4" cy="901.4" r="0.57" fill="#939393"/><circle cx="652.1" cy="885.1" r="0.49" fill="#8f8f8f"/><circle cx="625.7" cy="947.3" r="0.56" fill="#777777"/><circle cx="680.5" cy="967.3" r="0.61" fill="#898989"/><circle cx="632.9" cy="897.0" r="0.60" fill="#747474"/><circle cx="657.4" cy="916.0" r="0.79" fill="#828282"/><circle cx="664.0" cy="904.9" r="0.50" fill="#676767"/><circle cx="682.1" cy="896.8" r="0.74" fill="#696969"/><circle cx="648.5" cy="978.7" r="0.47" fill="#858585"/><circle cx="641.1" cy="906.2" r="0.59" fill="#6c6c6c"/><circle cx="669.4" cy="898.7" r="0.50" fill="#787878"/><circle cx="606.9" cy="974.1" r="0.77" fill="#6f6f6f"/><circle cx="634.7" cy="919.4" r="0.69" fill="#969696"/><circle cx="632.3" cy="888.8" r="0.67" fill="#7c7c7c"/><circle cx="662.5" cy="937.5" r="0.56" fill="#7a7a7a"/><circle cx="644.2" cy="954.1" r="0.65" fill="#9b9b9b"/><circle cx="608.9" cy="923.5" r="0.60" fill="#989898"/><circle cx="658.4" cy="953.9" r="0.46" fill="#636363"/><circle cx="608.2" cy="897.1" r="0.52" fill="#757575"/><circle cx="601.3" cy="885.5" r="0.67" fill="#9a9a9a"/><circle cx="654.0" cy="898.9" r="0.74" fill="#989898"/><circle cx="610.9" cy="913.5" r="0.66" fill="#868686"/><circle cx="620.7" cy="969.7" r="0.79" fill="#656565"/><circle cx="586.5" cy="904.6" r="0.76" fill="#818181"/><circle cx="601.0" cy="888.8" r="0.67" fill="#656565"/><circle cx="613.4" cy="950.2" r="0.48" fill="#838383"/><circle cx="656.1" cy="887.6" r="0.68" fill="#979797"/><circle cx="681.6" cy="897.7" r="0.46" fill="#8b8b8b"/><circle cx="675.0" cy="959.3" r="0.61" fill="#787878"/><circle cx="614.9" cy="913.8" r="0.79" fill="#929292"/><circle cx="591.2" cy="884.9" r="0.57" fill="#737373"/><circle cx="671.2" cy="899.2" r="0.49" fill="#6d6d6d"/><circle cx="663.9" cy="918.2" r="0.67" fill="#686868"/><circle cx="609.5" cy="925.6" r="0.68" fill="#717171"/><circle cx="594.9" cy="955.2" r="0.67" fill="#9a9a9a"/><circle cx="611.9" cy="956.3" r="0.48" fill="#606060"/><circle cx="621.5" cy="912.5" r="0.63" fill="#757575"/><circle cx="620.7" cy="972.2" r="0.67" fill="#6a6a6a"/><circle cx="644.1" cy="967.6" r="0.57" fill="#656565"/><circle cx="678.9" cy="927.0" r="0.71" fill="#797979"/><circle cx="605.8" cy="938.0" r="0.77" fill="#8d8d8d"/><circle cx="600.1" cy="901.1" r="0.62" fill="#909090"/><circle cx="613.8" cy="884.8" r="0.57" fill="#909090"/><circle cx="607.4" cy="941.0" r="0.76" fill="#656565"/><circle cx="629.0" cy="949.9" r="0.66" fill="#8d8d8d"/><circle cx="649.6" cy="960.8" r="0.48" fill="#858585"/><circle cx="620.7" cy="896.1" r="0.64" fill="#666666"/><circle cx="604.4" cy="888.0" r="0.46" fill="#979797"/><circle cx="631.0" cy="917.3" r="0.48" fill="#626262"/><circle cx="619.1" cy="915.1" r="0.67" fill="#797979"/><circle cx="666.9" cy="893.8" r="0.49" fill="#787878"/><circle cx="622.7" cy="960.0" r="0.54" fill="#989898"/><circle cx="601.6" cy="910.9" r="0.48" fill="#717171"/><circle cx="649.6" cy="895.1" r="0.68" fill="#606060"/><circle cx="613.9" cy="907.6" r="0.62" fill="#747474"/><circle cx="627.9" cy="923.7" r="0.75" fill="#929292"/><circle cx="662.1" cy="946.9" r="0.59" fill="#939393"/><circle cx="677.9" cy="922.8" r="0.61" fill="#646464"/><circle cx="633.5" cy="909.5" r="0.49" fill="#6e6e6e"/><circle cx="643.2" cy="964.7" r="0.76" fill="#989898"/><circle cx="617.0" cy="889.6" r="0.60" fill="#909090"/><circle cx="655.1" cy="950.4" r="0.70" fill="#606060"/><circle cx="622.1" cy="911.3" r="0.63" fill="#888888"/><circle cx="654.3" cy="902.5" r="0.48" fill="#9b9b9b"/><circle cx="622.2" cy="964.5" r="0.48" fill="#616161"/><circle cx="654.8" cy="891.2" r="0.50" fill="#6c6c6c"/><circle cx="647.9" cy="920.7" r="0.66" fill="#959595"/><circle cx="586.6" cy="893.5" r="0.66" fill="#616161"/><circle cx="634.7" cy="947.9" r="0.78" fill="#656565"/><circle cx="675.4" cy="930.4" r="0.72" fill="#707070"/><circle cx="618.2" cy="969.5" r="0.78" fill="#727272"/><circle cx="649.3" cy="951.9" r="0.66" fill="#969696"/><circle cx="614.6" cy="933.6" r="0.57" fill="#747474"/><circle cx="680.0" cy="916.4" r="0.53" fill="#848484"/><circle cx="681.3" cy="976.8" r="0.71" fill="#6b6b6b"/><circle cx="654.5" cy="969.0" r="0.56" fill="#747474"/><circle cx="636.5" cy="976.2" r="0.80" fill="#777777"/><circle cx="596.0" cy="920.4" r="0.74" fill="#949494"/><circle cx="635.4" cy="915.0" r="0.79" fill="#666666"/><circle cx="594.6" cy="978.6" r="0.72" fill="#6e6e6e"/><circle cx="615.5" cy="960.9" r="0.65" fill="#747474"/><circle cx="613.6" cy="940.9" r="0.72" fill="#6b6b6b"/><circle cx="601.4" cy="924.7" r="0.67" fill="#848484"/><circle cx="668.4" cy="898.2" r="0.74" fill="#696969"/><circle cx="598.3" cy="892.3" r="0.77" fill="#979797"/><circle cx="604.5" cy="953.0" r="0.78" fill="#696969"/><circle cx="608.2" cy="907.5" r="0.52" fill="#777777"/><circle cx="648.1" cy="962.2" r="0.47" fill="#777777"/><circle cx="607.5" cy="927.9" r="0.69" fill="#7e7e7e"/><circle cx="625.2" cy="935.1" r="0.70" fill="#7c7c7c"/><circle cx="680.1" cy="891.1" r="0.67" fill="#828282"/><circle cx="635.5" cy="923.9" r="0.49" fill="#797979"/><circle cx="590.1" cy="972.8" r="0.73" fill="#989898"/><circle cx="612.7" cy="948.9" r="0.56" fill="#888888"/><circle cx="666.9" cy="888.2" r="0.58" fill="#737373"/><circle cx="615.3" cy="970.6" r="0.59" fill="#646464"/><circle cx="631.1" cy="888.2" r="0.67" fill="#666666"/><circle cx="613.2" cy="902.1" r="0.61" fill="#838383"/><circle cx="606.6" cy="932.9" r="0.50" fill="#656565"/><circle cx="659.5" cy="886.1" r="0.72" fill="#8d8d8d"/><circle cx="604.9" cy="936.4" r="0.58" fill="#6c6c6c"/><circle cx="658.3" cy="927.8" r="0.67" fill="#7d7d7d"/><circle cx="613.3" cy="966.0" r="0.63" fill="#9a9a9a"/><circle cx="624.8" cy="907.8" r="0.67" fill="#767676"/><circle cx="633.0" cy="929.4" r="0.64" fill="#939393"/><circle cx="659.7" cy="933.1" r="0.47" fill="#8c8c8c"/><circle cx="636.4" cy="928.0" r="0.57" fill="#949494"/><circle cx="638.6" cy="883.2" r="0.64" fill="#7d7d7d"/><circle cx="664.8" cy="978.2" r="0.76" fill="#757575"/><circle cx="655.4" cy="959.3" r="0.51" fill="#636363"/><circle cx="596.0" cy="904.0" r="0.77" fill="#7d7d7d"/><circle cx="621.4" cy="957.0" r="0.55" fill="#6a6a6a"/><circle cx="615.9" cy="900.8" r="0.60" fill="#868686"/><circle cx="594.6" cy="974.4" r="0.47" fill="#8f8f8f"/><circle cx="599.4" cy="940.6" r="0.61" fill="#8a8a8a"/><circle cx="602.9" cy="938.5" r="0.60" fill="#919191"/><circle cx="670.8" cy="914.7" r="0.77" fill="#747474"/><circle cx="672.0" cy="933.8" r="0.74" fill="#626262"/><circle cx="592.0" cy="917.5" r="0.74" fill="#808080"/><circle cx="627.5" cy="945.2" r="0.74" fill="#999999"/><circle cx="642.2" cy="937.4" r="0.64" fill="#808080"/><circle cx="608.7" cy="950.6" r="0.53" fill="#8b8b8b"/><circle cx="646.3" cy="896.4" r="0.72" fill="#8f8f8f"/><circle cx="649.7" cy="924.6" r="0.76" fill="#616161"/><circle cx="647.5" cy="934.3" r="0.72" fill="#6a6a6a"/><circle cx="631.3" cy="920.1" r="0.60" fill="#929292"/><circle cx="636.8" cy="906.2" r="0.59" fill="#919191"/><circle cx="670.6" cy="907.0" r="0.50" fill="#7b7b7b"/><circle cx="659.2" cy="926.7" r="0.79" fill="#747474"/><circle cx="617.2" cy="942.3" r="0.62" fill="#656565"/><circle cx="673.8" cy="970.1" r="0.77" fill="#8b8b8b"/><circle cx="622.4" cy="898.6" r="0.62" fill="#717171"/><circle cx="642.0" cy="950.6" r="0.72" fill="#646464"/><circle cx="592.6" cy="971.2" r="0.50" fill="#8f8f8f"/><circle cx="590.5" cy="917.7" r="0.77" fill="#878787"/><circle cx="677.4" cy="937.6" r="0.59" fill="#7e7e7e"/><circle cx="621.0" cy="965.6" r="0.71" fill="#717171"/><circle cx="680.5" cy="911.8" r="0.69" fill="#9b9b9b"/><circle cx="639.8" cy="939.2" r="0.75" fill="#989898"/><circle cx="633.9" cy="937.9" r="0.80" fill="#6c6c6c"/><circle cx="651.7" cy="941.9" r="0.54" fill="#7d7d7d"/><circle cx="619.4" cy="976.1" r="0.78" fill="#6d6d6d"/><circle cx="616.3" cy="963.6" r="0.78" fill="#868686"/><circle cx="601.5" cy="977.0" r="0.57" fill="#7b7b7b"/><circle cx="593.1" cy="953.7" r="0.74" fill="#7d7d7d"/><circle cx="604.9" cy="902.1" r="0.78" fill="#878787"/><circle cx="624.1" cy="958.0" r="0.73" fill="#6d6d6d"/><circle cx="590.4" cy="901.0" r="0.64" fill="#787878"/><circle cx="595.2" cy="883.8" r="0.59" fill="#949494"/><circle cx="615.8" cy="948.9" r="0.60" fill="#9b9b9b"/><circle cx="608.3" cy="976.4" r="0.78" fill="#646464"/><circle cx="623.0" cy="900.8" r="0.66" fill="#979797"/><circle cx="643.8" cy="964.8" r="0.72" fill="#828282"/><circle cx="639.1" cy="940.8" r="0.50" fill="#838383"/><circle cx="666.7" cy="907.6" r="0.48" fill="#8d8d8d"/><circle cx="608.4" cy="961.0" r="0.55" fill="#939393"/><circle cx="609.0" cy="913.5" r="0.76" fill="#8e8e8e"/><circle cx="671.9" cy="934.2" r="0.54" fill="#8c8c8c"/><circle cx="612.1" cy="909.4" r="0.65" fill="#6c6c6c"/><circle cx="655.7" cy="897.4" r="0.50" fill="#7a7a7a"/><circle cx="621.8" cy="903.3" r="0.66" fill="#6e6e6e"/><circle cx="603.0" cy="895.8" r="0.46" fill="#8f8f8f"/><circle cx="648.3" cy="947.6" r="0.51" fill="#7f7f7f"/><circle cx="637.0" cy="914.7" r="0.59" fill="#8b8b8b"/><circle cx="605.1" cy="973.9" r="0.63" fill="#949494"/><circle cx="632.4" cy="958.8" r="0.76" fill="#787878"/><circle cx="679.5" cy="900.4" r="0.68" fill="#939393"/><circle cx="628.9" cy="916.9" r="0.79" fill="#969696"/><circle cx="606.9" cy="956.1" r="0.55" fill="#676767"/><circle cx="604.0" cy="918.2" r="0.66" fill="#939393"/><circle cx="627.0" cy="953.0" r="0.69" fill="#696969"/><circle cx="624.5" cy="896.1" r="0.75" fill="#7a7a7a"/><circle cx="645.6" cy="895.3" r="0.46" fill="#6a6a6a"/><circle cx="623.8" cy="953.3" r="0.71" fill="#8e8e8e"/><circle cx="653.9" cy="978.9" r="0.74" fill="#888888"/><circle cx="594.8" cy="976.5" r="0.67" fill="#8d8d8d"/><circle cx="608.8" cy="901.3" r="0.45" fill="#949494"/><circle cx="611.7" cy="975.6" r="0.73" fill="#646464"/><circle cx="620.5" cy="925.2" r="0.48" fill="#888888"/><circle cx="680.4" cy="890.6" r="0.64" fill="#999999"/><circle cx="676.5" cy="973.2" r="0.65" fill="#696969"/><circle cx="599.9" cy="968.2" r="0.70" fill="#878787"/><circle cx="666.7" cy="974.6" r="0.73" fill="#7a7a7a"/><circle cx="615.0" cy="904.2" r="0.76" fill="#959595"/><circle cx="651.7" cy="918.6" r="0.64" fill="#939393"/><circle cx="590.9" cy="946.2" r="0.78" fill="#9b9b9b"/><circle cx="668.8" cy="891.7" r="0.64" fill="#8d8d8d"/><circle cx="586.4" cy="913.6" r="0.78" fill="#7f7f7f"/><circle cx="621.5" cy="941.6" r="0.65" fill="#646464"/><circle cx="601.0" cy="923.2" r="0.60" fill="#939393"/><circle cx="599.4" cy="951.8" r="0.64" fill="#656565"/><circle cx="617.3" cy="905.1" r="0.75" fill="#616161"/><circle cx="600.1" cy="926.8" r="0.54" fill="#838383"/><circle cx="645.8" cy="898.3" r="0.69" fill="#777777"/><circle cx="618.4" cy="896.6" r="0.64" fill="#666666"/><circle cx="658.2" cy="933.4" r="0.72" fill="#676767"/><circle cx="646.7" cy="949.7" r="0.66" fill="#8f8f8f"/><circle cx="646.2" cy="900.2" r="0.54" fill="#7b7b7b"/><circle cx="617.8" cy="967.0" r="0.50" fill="#929292"/><circle cx="609.6" cy="896.0" r="0.60" fill="#7f7f7f"/><circle cx="658.2" cy="957.7" r="0.73" fill="#8c8c8c"/><circle cx="590.7" cy="960.4" r="0.79" fill="#757575"/><circle cx="608.3" cy="959.9" r="0.68" fill="#787878"/><circle cx="613.4" cy="936.3" r="0.49" fill="#828282"/><circle cx="648.2" cy="945.3" r="0.69" fill="#8f8f8f"/><circle cx="641.9" cy="904.4" r="0.50" fill="#7f7f7f"/><circle cx="628.5" cy="957.7" r="0.45" fill="#7d7d7d"/><circle cx="640.8" cy="975.9" r="0.49" fill="#6b6b6b"/><circle cx="605.3" cy="932.4" r="0.59" fill="#979797"/><circle cx="609.9" cy="946.6" r="0.62" fill="#737373"/><circle cx="600.7" cy="885.6" r="0.67" fill="#6c6c6c"/><circle cx="669.2" cy="977.0" r="0.53" fill="#949494"/><circle cx="680.6" cy="916.5" r="0.71" fill="#8f8f8f"/><circle cx="632.0" cy="906.9" r="0.73" fill="#717171"/><circle cx="650.4" cy="974.3" r="0.48" fill="#686868"/><circle cx="645.3" cy="943.3" r="0.56" fill="#919191"/><circle cx="601.0" cy="961.0" r="0.79" fill="#9b9b9b"/><circle cx="663.9" cy="940.3" r="0.55" fill="#646464"/><circle cx="622.6" cy="910.4" r="0.68" fill="#828282"/><circle cx="659.9" cy="906.8" r="0.67" fill="#7c7c7c"/><circle cx="592.5" cy="899.7" r="0.77" fill="#7b7b7b"/><circle cx="610.5" cy="926.1" r="0.62" fill="#7a7a7a"/><circle cx="618.8" cy="889.3" r="0.62" fill="#747474"/><circle cx="655.5" cy="913.0" r="0.74" fill="#6e6e6e"/><circle cx="602.1" cy="929.3" r="0.50" fill="#828282"/><circle cx="602.1" cy="931.1" r="0.65" fill="#717171"/><circle cx="679.3" cy="915.1" r="0.55" fill="#787878"/><circle cx="648.3" cy="935.6" r="0.66" fill="#808080"/><circle cx="659.7" cy="926.0" r="0.54" fill="#8c8c8c"/><circle cx="656.8" cy="898.0" r="0.56" fill="#5f5f5f"/><circle cx="598.6" cy="946.5" r="0.64" fill="#959595"/><circle cx="681.2" cy="914.0" r="0.72" fill="#848484"/><circle cx="636.2" cy="948.7" r="0.64" fill="#868686"/><circle cx="624.5" cy="884.7" r="0.63" fill="#7c7c7c"/><circle cx="666.3" cy="896.5" r="0.77" fill="#656565"/><circle cx="674.5" cy="941.9" r="0.76" fill="#9a9a9a"/><circle cx="642.1" cy="960.0" r="0.58" fill="#6b6b6b"/><circle cx="597.3" cy="945.6" r="0.64" fill="#828282"/><circle cx="619.4" cy="903.1" r="0.63" fill="#898989"/><circle cx="656.3" cy="897.7" r="0.75" fill="#979797"/><circle cx="658.9" cy="929.6" r="0.55" fill="#828282"/><circle cx="649.7" cy="933.2" r="0.73" fill="#616161"/><circle cx="647.5" cy="901.7" r="0.63" fill="#878787"/><circle cx="639.0" cy="971.5" r="0.61" fill="#808080"/><circle cx="666.0" cy="898.7" r="0.63" fill="#6d6d6d"/><circle cx="678.5" cy="891.5" r="0.57" fill="#999999"/><circle cx="611.4" cy="949.3" r="0.58" fill="#828282"/><circle cx="679.7" cy="892.9" r="0.46" fill="#868686"/><circle cx="625.6" cy="937.1" r="0.46" fill="#989898"/><circle cx="657.4" cy="908.6" r="0.60" fill="#797979"/><circle cx="611.3" cy="918.5" r="0.62" fill="#777777"/><circle cx="609.0" cy="925.6" r="0.46" fill="#8f8f8f"/><circle cx="631.9" cy="937.7" r="0.75" fill="#686868"/><circle cx="646.5" cy="905.3" r="0.56" fill="#616161"/><circle cx="657.2" cy="889.9" r="0.71" fill="#797979"/><circle cx="635.9" cy="947.1" r="0.54" fill="#818181"/><circle cx="614.4" cy="933.6" r="0.58" fill="#7b7b7b"/><circle cx="608.3" cy="933.3" r="0.59" fill="#6f6f6f"/><circle cx="601.3" cy="913.9" r="0.46" fill="#909090"/><circle cx="610.9" cy="965.5" r="0.76" fill="#979797"/><circle cx="650.2" cy="894.0" r="0.57" fill="#7a7a7a"/><circle cx="671.2" cy="966.7" r="0.53" fill="#606060"/><circle cx="641.0" cy="976.0" r="0.66" fill="#6b6b6b"/><circle cx="652.0" cy="938.4" r="0.50" fill="#777777"/><circle cx="654.1" cy="909.7" r="0.66" fill="#7f7f7f"/><circle cx="631.5" cy="904.3" r="0.78" fill="#777777"/><circle cx="588.8" cy="974.9" r="0.65" fill="#9b9b9b"/><circle cx="679.0" cy="904.0" r="0.72" fill="#777777"/><circle cx="677.3" cy="923.4" r="0.57" fill="#6a6a6a"/><circle cx="636.4" cy="939.1" r="0.52" fill="#656565"/><circle cx="668.6" cy="883.7" r="0.56" fill="#616161"/><circle cx="636.9" cy="941.8" r="0.77" fill="#737373"/><circle cx="681.1" cy="938.7" r="0.72" fill="#9b9b9b"/><circle cx="602.4" cy="884.3" r="0.71" fill="#949494"/><circle cx="605.1" cy="905.8" r="0.63" fill="#797979"/><circle cx="638.9" cy="924.1" r="0.64" fill="#616161"/><circle cx="625.6" cy="921.9" r="0.61" fill="#6d6d6d"/><circle cx="605.3" cy="892.9" r="0.56" fill="#818181"/><circle cx="601.3" cy="940.2" r="0.47" fill="#606060"/><circle cx="619.0" cy="958.6" r="0.48" fill="#747474"/><circle cx="625.4" cy="963.7" r="0.57" fill="#616161"/><circle cx="669.5" cy="917.2" r="0.65" fill="#6d6d6d"/><circle cx="595.7" cy="950.4" r="0.77" fill="#878787"/><circle cx="659.7" cy="950.3" r="0.61" fill="#919191"/><circle cx="622.5" cy="951.2" r="0.69" fill="#8f8f8f"/><circle cx="657.2" cy="978.0" r="0.73" fill="#959595"/><circle cx="621.3" cy="941.6" r="0.66" fill="#666666"/><circle cx="631.1" cy="922.0" r="0.78" fill="#929292"/><circle cx="595.4" cy="948.1" r="0.49" fill="#7f7f7f"/><circle cx="649.1" cy="913.9" r="0.62" fill="#626262"/><circle cx="599.9" cy="905.3" r="0.73" fill="#848484"/><circle cx="660.5" cy="941.1" r="0.45" fill="#979797"/><circle cx="604.5" cy="963.1" r="0.50" fill="#878787"/><circle cx="617.5" cy="922.1" r="0.48" fill="#777777"/><circle cx="670.4" cy="975.9" r="0.64" fill="#646464"/><circle cx="605.8" cy="927.2" r="0.70" fill="#979797"/><circle cx="642.9" cy="963.8" r="0.67" fill="#828282"/><circle cx="655.6" cy="961.1" r="0.62" fill="#848484"/><circle cx="655.6" cy="890.5" r="0.55" fill="#646464"/><circle cx="604.3" cy="946.3" r="0.68" fill="#676767"/><circle cx="654.1" cy="965.7" r="0.79" fill="#6f6f6f"/><circle cx="668.0" cy="887.8" r="0.46" fill="#8c8c8c"/><circle cx="649.4" cy="886.3" r="0.62" fill="#8b8b8b"/><circle cx="672.4" cy="966.2" r="0.79" fill="#707070"/><circle cx="602.2" cy="907.4" r="0.55" fill="#8b8b8b"/><circle cx="663.0" cy="923.2" r="0.53" fill="#8b8b8b"/><circle cx="604.4" cy="907.4" r="0.74" fill="#717171"/><circle cx="664.5" cy="883.3" r="0.67" fill="#959595"/><circle cx="600.9" cy="949.1" r="0.49" fill="#747474"/><circle cx="586.4" cy="963.1" r="0.46" fill="#838383"/><circle cx="646.2" cy="961.3" r="0.59" fill="#868686"/><circle cx="631.7" cy="905.0" r="0.61" fill="#7b7b7b"/><circle cx="603.1" cy="910.1" r="0.74" fill="#777777"/><circle cx="678.9" cy="911.5" r="0.69" fill="#717171"/><circle cx="613.8" cy="887.1" r="0.76" fill="#8c8c8c"/><circle cx="606.6" cy="913.2" r="0.75" fill="#949494"/><circle cx="602.6" cy="913.4" r="0.71" fill="#959595"/><circle cx="683.1" cy="942.4" r="0.73" fill="#6e6e6e"/><circle cx="603.5" cy="925.3" r="0.73" fill="#858585"/><circle cx="617.9" cy="941.9" r="0.51" fill="#999999"/><circle cx="660.0" cy="961.2" r="0.68" fill="#7c7c7c"/><circle cx="612.1" cy="951.0" r="0.52" fill="#969696"/><polyline points="641.4,895.0 642.3,896.5 643.3,897.8 644.2,898.0 645.0,898.9" fill="none" stroke="#5e5e5e" stroke-width="1.2" stroke-linecap="round" stroke-linejoin="round"/><polyline points="642.6,897.1 642.7,898.7 643.5,899.2 644.1,900.1" fill="none" stroke="#5a5a5a" stroke-width="1.0" stroke-linecap="round" stroke-linejoin="round"/><polyline points="642.6,897.7 641.8,897.3 640.2,896.6 638.8,897.3" fill="none" stroke="#454545" stroke-width="1.3" stroke-linecap="round" stroke-linejoin="round"/><polyline points="640.6,896.2 640.7,898.0 640.2,898.9 640.0,900.5 638.8,901.3" fill="none" stroke="#454545" stroke-width="0.9" stroke-linecap="round" stroke-linejoin="round"/><polyline points="643.6,895.9 642.9,897.0 643.0,898.1" fill="none" stroke="#2e2e2e" stroke-width="1.2" stroke-linecap="round" stroke-linejoin="round"/><polyline points="638.9,897.3 638.2,896.6 637.6,895.0 637.5,893.5" fill="none" stroke="#3b3b3b" stroke-width="1.5" stroke-linecap="round" stroke-linejoin="round"/><polyline points="643.3,898.3 642.2,897.0 641.4,895.8" fill="none" stroke="#333333" stroke-width="1.1" stroke-linecap="round" stroke-linejoin="round"/><polyline points="639.5,895.8 640.3,895.8 641.0,896.5 641.0,898.1" fill="none" stroke="#424242" stroke-width="1.5" stroke-linecap="round" stroke-linejoin="round"/><polyline points="643.4,896.0 643.4,894.8 644.0,894.0 644.7,893.0 645.9,892.7" fill="none" stroke="#2a2a2a" stroke-width="0.9" stroke-linecap="round" stroke-linejoin="round"/><ellipse cx="638.9" cy="898.4" rx="0.6" ry="0.4" fill="#545454" transform="rotate(64 638.9 898.4)"/><ellipse cx="641.8" cy="896.7" rx="1.1" ry="0.6" fill="#646464" transform="rotate(175 641.8 896.7)"/><ellipse cx="640.5" cy="899.9" rx="0.8" ry="0.6" fill="#3a3a3a" transform="rotate(80 640.5 899.9)"/><ellipse cx="639.0" cy="898.1" rx="0.9" ry="0.6" fill="#4c4c4c" transform="rotate(156 639.0 898.1)"/><ellipse cx="642.1" cy="898.5" rx="0.6" ry="0.7" fill="#474747" transform="rotate(40 642.1 898.5)"/><ellipse cx="643.9" cy="897.0" rx="0.5" ry="0.4" fill="#383838" transform="rotate(126 643.9 897.0)"/><ellipse cx="643.3" cy="899.1" rx="0.6" ry="0.4" fill="#5a5a5a" transform="rotate(72 643.3 899.1)"/><ellipse cx="643.2" cy="897.4" rx="1.0" ry="0.4" fill="#404040" transform="rotate(0 643.2 897.4)"/><ellipse cx="642.9" cy="898.2" rx="1.0" ry="0.4" fill="#666666" transform="rotate(50 642.9 898.2)"/><ellipse cx="642.8" cy="897.1" rx="0.7" ry="0.6" fill="#505050" transform="rotate(148 642.8 897.1)"/><ellipse cx="643.3" cy="895.4" rx="0.9" ry="0.6" fill="#434343" transform="rotate(42 643.3 895.4)"/><ellipse cx="642.9" cy="895.3" rx="1.0" ry="0.4" fill="#6b6b6b" transform="rotate(124 642.9 895.3)"/><ellipse cx="641.9" cy="898.4" rx="1.0" ry="0.7" fill="#3b3b3b" transform="rotate(135 641.9 898.4)"/><ellipse cx="642.4" cy="896.6" rx="0.8" ry="0.6" fill="#5a5a5a" transform="rotate(104 642.4 896.6)"/><ellipse cx="639.6" cy="896.9" rx="0.6" ry="0.4" fill="#666666" transform="rotate(4 639.6 896.9)"/><ellipse cx="642.1" cy="900.2" rx="0.8" ry="0.5" fill="#3a3a3a" transform="rotate(12 642.1 900.2)"/><ellipse cx="642.5" cy="897.9" rx="0.7" ry="0.5" fill="#6d6d6d" transform="rotate(75 642.5 897.9)"/><ellipse cx="642.1" cy="894.9" rx="1.1" ry="0.5" fill="#565656" transform="rotate(64 642.1 894.9)"/><ellipse cx="641.7" cy="898.2" rx="0.9" ry="0.5" fill="#454545" transform="rotate(142 641.7 898.2)"/><polyline points="650.1,893.2 651.8,892.6 652.7,893.1 653.8,892.8 655.6,892.7" fill="none" stroke="#5a5a5a" stroke-width="1.3" stroke-linecap="round" stroke-linejoin="round"/><polyline points="651.3,893.0 650.9,894.2 649.8,894.5 649.6,895.5" fill="none" stroke="#2f2f2f" stroke-width="1.5" stroke-linecap="round" stroke-linejoin="round"/><ellipse cx="651.4" cy="893.3" rx="0.6" ry="0.6" fill="#585858" transform="rotate(63 651.4 893.3)"/><ellipse cx="652.8" cy="894.2" rx="0.5" ry="0.4" fill="#5b5b5b" transform="rotate(97 652.8 894.2)"/><ellipse cx="652.3" cy="893.0" rx="1.1" ry="0.4" fill="#585858" transform="rotate(118 652.3 893.0)"/><ellipse cx="650.1" cy="893.8" rx="0.8" ry="0.5" fill="#4f4f4f" transform="rotate(74 650.1 893.8)"/><ellipse cx="651.5" cy="893.0" rx="1.0" ry="0.5" fill="#383838" transform="rotate(56 651.5 893.0)"/><ellipse cx="651.8" cy="892.8" rx="1.0" ry="0.5" fill="#393939" transform="rotate(110 651.8 892.8)"/><polyline points="678.4,900.8 677.4,900.8 676.3,900.8" fill="none" stroke="#5b5b5b" stroke-width="1.2" stroke-linecap="round" stroke-linejoin="round"/><polyline points="674.4,902.3 672.6,902.2 672.0,901.2" fill="none" stroke="#5b5b5b" stroke-width="1.1" stroke-linecap="round" stroke-linejoin="round"/><polyline points="679.4,900.9 678.7,900.1 679.0,899.1 680.0,898.2" fill="none" stroke="#5e5e5e" stroke-width="1.0" stroke-linecap="round" stroke-linejoin="round"/><polyline points="676.1,902.3 676.3,903.9 677.0,904.9" fill="none" stroke="#333333" stroke-width="1.1" stroke-linecap="round" stroke-linejoin="round"/><polyline points="675.8,902.9 676.6,903.7 677.0,904.5 676.6,906.1 676.4,907.3" fill="none" stroke="#393939" stroke-width="1.2" stroke-linecap="round" stroke-linejoin="round"/><polyline points="679.2,901.1 680.5,901.7 681.4,901.9" fill="none" stroke="#545454" stroke-width="1.4" stroke-linecap="round" stroke-linejoin="round"/><ellipse cx="678.7" cy="900.5" rx="0.9" ry="0.4" fill="#3f3f3f" transform="rotate(106 678.7 900.5)"/><ellipse cx="677.5" cy="902.0" rx="0.7" ry="0.5" fill="#3f3f3f" transform="rotate(75 677.5 902.0)"/><ellipse cx="679.6" cy="901.2" rx="0.6" ry="0.5" fill="#4a4a4a" transform="rotate(115 679.6 901.2)"/><ellipse cx="676.7" cy="900.9" rx="0.5" ry="0.6" fill="#373737" transform="rotate(32 676.7 900.9)"/><ellipse cx="675.0" cy="901.2" rx="0.8" ry="0.6" fill="#535353" transform="rotate(130 675.0 901.2)"/><ellipse cx="677.0" cy="901.4" rx="0.7" ry="0.4" fill="#4a4a4a" transform="rotate(35 677.0 901.4)"/><ellipse cx="678.5" cy="900.7" rx="1.1" ry="0.6" fill="#505050" transform="rotate(22 678.5 900.7)"/><ellipse cx="675.3" cy="902.6" rx="0.9" ry="0.4" fill="#5e5e5e" transform="rotate(149 675.3 902.6)"/><ellipse cx="679.2" cy="903.3" rx="0.8" ry="0.5" fill="#606060" transform="rotate(94 679.2 903.3)"/><ellipse cx="676.5" cy="901.2" rx="0.7" ry="0.4" fill="#4a4a4a" transform="rotate(114 676.5 901.2)"/><ellipse cx="676.7" cy="902.9" rx="0.9" ry="0.6" fill="#454545" transform="rotate(48 676.7 902.9)"/><ellipse cx="675.2" cy="903.2" rx="0.5" ry="0.7" fill="#626262" transform="rotate(154 675.2 903.2)"/><polyline points="618.4,911.3 618.2,912.2 618.2,913.8 617.9,915.1" fill="none" stroke="#3b3b3b" stroke-width="1.0" stroke-linecap="round" stroke-linejoin="round"/><polyline points="617.7,909.2 617.6,910.4 616.2,911.2 615.0,910.8" fill="none" stroke="#5a5a5a" stroke-width="0.9" stroke-linecap="round" stroke-linejoin="round"/><polyline points="618.8,910.7 618.6,909.0 618.8,907.8 619.2,906.5" fill="none" stroke="#3e3e3e" stroke-width="1.6" stroke-linecap="round" stroke-linejoin="round"/><polyline points="615.4,909.5 616.3,910.5 617.2,911.7 618.3,912.2" fill="none" stroke="#404040" stroke-width="1.3" stroke-linecap="round" stroke-linejoin="round"/><ellipse cx="614.8" cy="907.9" rx="0.9" ry="0.7" fill="#4f4f4f" transform="rotate(169 614.8 907.9)"/><ellipse cx="618.3" cy="909.5" rx="0.8" ry="0.5" fill="#515151" transform="rotate(115 618.3 909.5)"/><ellipse cx="614.1" cy="907.7" rx="1.1" ry="0.7" fill="#5c5c5c" transform="rotate(2 614.1 907.7)"/><ellipse cx="617.3" cy="908.6" rx="1.0" ry="0.6" fill="#414141" transform="rotate(30 617.3 908.6)"/><ellipse cx="618.0" cy="910.5" rx="0.9" ry="0.6" fill="#5e5e5e" transform="rotate(146 618.0 910.5)"/><ellipse cx="618.4" cy="911.3" rx="1.1" ry="0.6" fill="#464646" transform="rotate(42 618.4 911.3)"/><ellipse cx="614.7" cy="907.7" rx="0.6" ry="0.6" fill="#3c3c3c" transform="rotate(163 614.7 907.7)"/><ellipse cx="617.3" cy="908.6" rx="0.9" ry="0.4" fill="#454545" transform="rotate(112 617.3 908.6)"/><polyline points="608.2,913.5 607.1,914.9 607.2,916.0 607.5,917.3 607.4,919.1" fill="none" stroke="#4f4f4f" stroke-width="1.6" stroke-linecap="round" stroke-linejoin="round"/><polyline points="607.7,913.7 606.7,913.0 606.1,911.9 605.4,911.1 605.2,910.1" fill="none" stroke="#535353" stroke-width="1.4" stroke-linecap="round" stroke-linejoin="round"/><polyline points="608.6,913.5 608.3,912.0 608.3,911.2" fill="none" stroke="#434343" stroke-width="0.9" stroke-linecap="round" stroke-linejoin="round"/><polyline points="609.6,912.6 608.7,912.4 607.9,912.6 606.7,911.8" fill="none" stroke="#4b4b4b" stroke-width="1.1" stroke-linecap="round" stroke-linejoin="round"/><ellipse cx="608.4" cy="913.8" rx="1.0" ry="0.6" fill="#4c4c4c" transform="rotate(47 608.4 913.8)"/><ellipse cx="610.6" cy="914.5" rx="1.0" ry="0.5" fill="#636363" transform="rotate(69 610.6 914.5)"/><ellipse cx="610.2" cy="914.8" rx="0.9" ry="0.4" fill="#565656" transform="rotate(47 610.2 914.8)"/><ellipse cx="609.0" cy="915.2" rx="0.9" ry="0.4" fill="#636363" transform="rotate(114 609.0 915.2)"/><ellipse cx="610.6" cy="913.3" rx="0.8" ry="0.4" fill="#5c5c5c" transform="rotate(103 610.6 913.3)"/><ellipse cx="610.7" cy="915.1" rx="0.5" ry="0.4" fill="#494949" transform="rotate(54 610.7 915.1)"/><ellipse cx="608.5" cy="913.3" rx="0.7" ry="0.6" fill="#3c3c3c" transform="rotate(179 608.5 913.3)"/><ellipse cx="610.4" cy="913.7" rx="0.8" ry="0.7" fill="#555555" transform="rotate(23 610.4 913.7)"/><polyline points="609.8,927.0 610.7,927.2 611.7,926.8" fill="none" stroke="#474747" stroke-width="1.2" stroke-linecap="round" stroke-linejoin="round"/><polyline points="610.0,926.2 609.4,925.5 609.2,924.4 608.3,923.9 606.6,923.5" fill="none" stroke="#474747" stroke-width="1.1" stroke-linecap="round" stroke-linejoin="round"/><polyline points="608.0,925.9 609.3,926.8 610.1,927.4 610.0,928.3" fill="none" stroke="#333333" stroke-width="1.4" stroke-linecap="round" stroke-linejoin="round"/><polyline points="608.7,926.7 608.2,925.2 607.8,924.4 607.2,923.6 606.4,923.2" fill="none" stroke="#434343" stroke-width="1.5" stroke-linecap="round" stroke-linejoin="round"/><polyline points="608.4,927.0 609.7,926.4 610.6,926.3 612.2,926.6" fill="none" stroke="#5f5f5f" stroke-width="1.3" stroke-linecap="round" stroke-linejoin="round"/><polyline points="610.2,926.8 610.3,927.7 611.1,929.1" fill="none" stroke="#3e3e3e" stroke-width="0.9" stroke-linecap="round" stroke-linejoin="round"/><polyline points="611.0,927.4 610.8,926.0 611.7,925.0" fill="none" stroke="#383838" stroke-width="1.0" stroke-linecap="round" stroke-linejoin="round"/><ellipse cx="608.4" cy="927.8" rx="0.9" ry="0.4" fill="#444444" transform="rotate(147 608.4 927.8)"/><ellipse cx="610.2" cy="926.1" rx="1.1" ry="0.4" fill="#3a3a3a" transform="rotate(140 610.2 926.1)"/><ellipse cx="608.8" cy="927.1" rx="1.1" ry="0.4" fill="#545454" transform="rotate(22 608.8 927.1)"/><ellipse cx="606.8" cy="927.7" rx="1.0" ry="0.5" fill="#6b6b6b" transform="rotate(68 606.8 927.7)"/><ellipse cx="610.3" cy="924.4" rx="0.7" ry="0.6" fill="#3f3f3f" transform="rotate(53 610.3 924.4)"/><ellipse cx="607.6" cy="927.0" rx="0.7" ry="0.6" fill="#515151" transform="rotate(48 607.6 927.0)"/><ellipse cx="609.8" cy="924.7" rx="1.0" ry="0.7" fill="#5e5e5e" transform="rotate(110 609.8 924.7)"/><ellipse cx="610.9" cy="924.9" rx="0.5" ry="0.4" fill="#3d3d3d" transform="rotate(167 610.9 924.9)"/><ellipse cx="610.4" cy="926.3" rx="0.6" ry="0.5" fill="#3a3a3a" transform="rotate(167 610.4 926.3)"/><ellipse cx="606.8" cy="926.0" rx="0.9" ry="0.5" fill="#595959" transform="rotate(24 606.8 926.0)"/><ellipse cx="607.4" cy="925.0" rx="0.7" ry="0.7" fill="#373737" transform="rotate(131 607.4 925.0)"/><ellipse cx="608.2" cy="925.5" rx="0.6" ry="0.5" fill="#4e4e4e" transform="rotate(49 608.2 925.5)"/><ellipse cx="611.0" cy="927.7" rx="0.9" ry="0.7" fill="#676767" transform="rotate(150 611.0 927.7)"/><ellipse cx="609.6" cy="929.6" rx="0.6" ry="0.5" fill="#6c6c6c" transform="rotate(89 609.6 929.6)"/><ellipse cx="609.9" cy="927.7" rx="0.7" ry="0.5" fill="#595959" transform="rotate(139 609.9 927.7)"/><polyline points="617.2,935.4 617.6,936.6 619.1,937.0 620.1,937.2" fill="none" stroke="#2e2e2e" stroke-width="1.2" stroke-linecap="round" stroke-linejoin="round"/><polyline points="618.5,936.4 619.7,937.2 620.9,938.0 621.3,939.1" fill="none" stroke="#5d5d5d" stroke-width="1.0" stroke-linecap="round" stroke-linejoin="round"/><polyline points="619.6,934.9 620.7,935.3 622.1,935.6 623.6,934.9 625.1,935.7" fill="none" stroke="#464646" stroke-width="1.1" stroke-linecap="round" stroke-linejoin="round"/><ellipse cx="618.6" cy="935.7" rx="0.9" ry="0.5" fill="#626262" transform="rotate(124 618.6 935.7)"/><ellipse cx="618.9" cy="934.1" rx="0.8" ry="0.5" fill="#4d4d4d" transform="rotate(28 618.9 934.1)"/><ellipse cx="619.2" cy="937.7" rx="0.8" ry="0.6" fill="#3a3a3a" transform="rotate(32 619.2 937.7)"/><ellipse cx="619.1" cy="937.6" rx="0.7" ry="0.7" fill="#666666" transform="rotate(147 619.1 937.6)"/><ellipse cx="618.8" cy="934.9" rx="0.9" ry="0.6" fill="#4a4a4a" transform="rotate(87 618.8 934.9)"/><ellipse cx="618.2" cy="937.3" rx="1.0" ry="0.6" fill="#5e5e5e" transform="rotate(53 618.2 937.3)"/><ellipse cx="618.5" cy="937.4" rx="0.9" ry="0.4" fill="#3e3e3e" transform="rotate(55 618.5 937.4)"/><polyline points="648.3,909.2 649.8,908.9 650.7,907.5" fill="none" stroke="#363636" stroke-width="1.6" stroke-linecap="round" stroke-linejoin="round"/><polyline points="647.8,912.8 648.9,912.7 650.6,913.4" fill="none" stroke="#3c3c3c" stroke-width="1.3" stroke-linecap="round" stroke-linejoin="round"/><ellipse cx="646.9" cy="912.6" rx="0.9" ry="0.6" fill="#676767" transform="rotate(103 646.9 912.6)"/><ellipse cx="649.4" cy="909.5" rx="0.7" ry="0.7" fill="#474747" transform="rotate(25 649.4 909.5)"/><ellipse cx="648.0" cy="912.8" rx="0.8" ry="0.4" fill="#3e3e3e" transform="rotate(14 648.0 912.8)"/><ellipse cx="647.7" cy="912.5" rx="0.5" ry="0.4" fill="#4b4b4b" transform="rotate(124 647.7 912.5)"/><ellipse cx="648.5" cy="910.8" rx="0.7" ry="0.5" fill="#636363" transform="rotate(120 648.5 910.8)"/><ellipse cx="649.0" cy="909.2" rx="0.8" ry="0.5" fill="#404040" transform="rotate(80 649.0 909.2)"/><polyline points="632.5,914.8 633.4,914.0 634.2,914.1 635.1,913.5 636.0,912.2" fill="none" stroke="#2a2a2a" stroke-width="1.2" stroke-linecap="round" stroke-linejoin="round"/><ellipse cx="633.6" cy="914.4" rx="1.0" ry="0.5" fill="#545454" transform="rotate(54 633.6 914.4)"/><ellipse cx="632.8" cy="914.8" rx="0.9" ry="0.6" fill="#5f5f5f" transform="rotate(85 632.8 914.8)"/><ellipse cx="633.0" cy="915.7" rx="0.6" ry="0.4" fill="#646464" transform="rotate(69 633.0 915.7)"/><polyline points="644.9,927.7 643.9,928.8 642.8,929.3" fill="none" stroke="#363636" stroke-width="1.2" stroke-linecap="round" stroke-linejoin="round"/><ellipse cx="645.9" cy="927.9" rx="1.0" ry="0.7" fill="#3f3f3f" transform="rotate(149 645.9 927.9)"/><ellipse cx="645.5" cy="927.9" rx="0.8" ry="0.6" fill="#474747" transform="rotate(16 645.5 927.9)"/><ellipse cx="644.3" cy="927.2" rx="0.8" ry="0.7" fill="#696969" transform="rotate(9 644.3 927.2)"/><ellipse cx="646.0" cy="928.6" rx="0.7" ry="0.4" fill="#474747" transform="rotate(62 646.0 928.6)"/><polyline points="661.7,935.4 660.7,936.1 659.7,936.2 659.1,936.7" fill="none" stroke="#303030" stroke-width="0.9" stroke-linecap="round" stroke-linejoin="round"/><ellipse cx="662.3" cy="935.0" rx="0.6" ry="0.5" fill="#545454" transform="rotate(33 662.3 935.0)"/><ellipse cx="662.2" cy="934.8" rx="0.8" ry="0.5" fill="#5c5c5c" transform="rotate(54 662.2 934.8)"/><ellipse cx="663.1" cy="934.5" rx="0.6" ry="0.6" fill="#5c5c5c" transform="rotate(174 663.1 934.5)"/><polyline points="668.4,956.0 667.3,956.6 666.4,956.5" fill="none" stroke="#393939" stroke-width="1.4" stroke-linecap="round" stroke-linejoin="round"/><polyline points="668.3,955.1 669.7,954.7 670.5,955.1 671.7,955.4 672.5,955.9" fill="none" stroke="#545454" stroke-width="1.1" stroke-linecap="round" stroke-linejoin="round"/><ellipse cx="666.8" cy="953.3" rx="0.8" ry="0.6" fill="#575757" transform="rotate(99 666.8 953.3)"/><ellipse cx="668.2" cy="954.5" rx="0.7" ry="0.6" fill="#666666" transform="rotate(36 668.2 954.5)"/><ellipse cx="668.7" cy="954.3" rx="1.0" ry="0.4" fill="#4f4f4f" transform="rotate(150 668.7 954.3)"/><ellipse cx="668.3" cy="955.3" rx="1.0" ry="0.4" fill="#6a6a6a" transform="rotate(104 668.3 955.3)"/><polyline points="596.9,959.3 595.8,959.1 594.5,959.5 593.5,958.7 592.9,957.1" fill="none" stroke="#5a5a5a" stroke-width="1.3" stroke-linecap="round" stroke-linejoin="round"/><polyline points="600.1,961.1 600.3,959.6 599.5,958.6 598.6,957.2 598.9,956.4" fill="none" stroke="#3f3f3f" stroke-width="1.1" stroke-linecap="round" stroke-linejoin="round"/><polyline points="600.5,959.3 601.2,960.2 602.6,960.7 603.1,961.4" fill="none" stroke="#353535" stroke-width="1.2" stroke-linecap="round" stroke-linejoin="round"/><polyline points="599.9,961.5 599.5,960.5 599.0,959.2" fill="none" stroke="#404040" stroke-width="1.5" stroke-linecap="round" stroke-linejoin="round"/><ellipse cx="601.4" cy="960.9" rx="1.1" ry="0.4" fill="#606060" transform="rotate(104 601.4 960.9)"/><ellipse cx="596.7" cy="960.6" rx="0.8" ry="0.7" fill="#6a6a6a" transform="rotate(144 596.7 960.6)"/><ellipse cx="598.3" cy="962.0" rx="0.9" ry="0.6" fill="#484848" transform="rotate(34 598.3 962.0)"/><ellipse cx="599.5" cy="959.4" rx="0.5" ry="0.5" fill="#696969" transform="rotate(10 599.5 959.4)"/><ellipse cx="599.2" cy="959.5" rx="0.8" ry="0.6" fill="#393939" transform="rotate(17 599.2 959.5)"/><ellipse cx="599.4" cy="961.1" rx="1.1" ry="0.6" fill="#565656" transform="rotate(19 599.4 961.1)"/><ellipse cx="600.3" cy="961.2" rx="1.0" ry="0.6" fill="#5f5f5f" transform="rotate(108 600.3 961.2)"/><ellipse cx="601.6" cy="960.2" rx="1.1" ry="0.4" fill="#5b5b5b" transform="rotate(75 601.6 960.2)"/><ellipse cx="601.3" cy="960.1" rx="0.5" ry="0.4" fill="#535353" transform="rotate(78 601.3 960.1)"/><ellipse cx="601.2" cy="960.1" rx="0.9" ry="0.7" fill="#595959" transform="rotate(50 601.2 960.1)"/><polyline points="601.8,968.3 603.4,968.2 604.3,968.1 605.8,969.0" fill="none" stroke="#444444" stroke-width="1.3" stroke-linecap="round" stroke-linejoin="round"/><polyline points="602.4,969.5 602.2,968.6 601.5,967.8 600.2,967.6 598.5,967.3" fill="none" stroke="#454545" stroke-width="1.3" stroke-linecap="round" stroke-linejoin="round"/><polyline points="602.7,967.6 603.3,966.0 604.0,964.8" fill="none" stroke="#5b5b5b" stroke-width="1.2" stroke-linecap="round" stroke-linejoin="round"/><ellipse cx="603.9" cy="970.5" rx="0.6" ry="0.6" fill="#6d6d6d" transform="rotate(132 603.9 970.5)"/><ellipse cx="602.4" cy="968.2" rx="0.6" ry="0.6" fill="#555555" transform="rotate(57 602.4 968.2)"/><ellipse cx="604.8" cy="968.6" rx="0.5" ry="0.6" fill="#626262" transform="rotate(159 604.8 968.6)"/><ellipse cx="605.2" cy="969.2" rx="1.0" ry="0.6" fill="#505050" transform="rotate(104 605.2 969.2)"/><ellipse cx="603.2" cy="968.8" rx="0.7" ry="0.7" fill="#666666" transform="rotate(55 603.2 968.8)"/><ellipse cx="602.9" cy="968.2" rx="1.0" ry="0.5" fill="#373737" transform="rotate(63 602.9 968.2)"/><ellipse cx="605.1" cy="968.8" rx="0.7" ry="0.5" fill="#545454" transform="rotate(38 605.1 968.8)"/><polyline points="609.6,969.4 610.1,968.3 610.0,967.2" fill="none" stroke="#525252" stroke-width="1.6" stroke-linecap="round" stroke-linejoin="round"/><ellipse cx="609.4" cy="969.7" rx="0.5" ry="0.4" fill="#424242" transform="rotate(89 609.4 969.7)"/><ellipse cx="608.9" cy="969.9" rx="0.7" ry="0.4" fill="#626262" transform="rotate(17 608.9 969.9)"/><ellipse cx="608.9" cy="970.6" rx="0.8" ry="0.5" fill="#454545" transform="rotate(51 608.9 970.6)"/><ellipse cx="609.5" cy="971.4" rx="0.6" ry="0.5" fill="#515151" transform="rotate(134 609.5 971.4)"/><polyline points="635.7,976.1 634.8,977.3 634.2,978.2 633.7,979.3" fill="none" stroke="#444444" stroke-width="1.0" stroke-linecap="round" stroke-linejoin="round"/><polyline points="634.8,976.4 635.7,975.3 636.6,973.9 635.9,972.3" fill="none" stroke="#4b4b4b" stroke-width="1.6" stroke-linecap="round" stroke-linejoin="round"/><ellipse cx="637.1" cy="977.4" rx="0.6" ry="0.7" fill="#4d4d4d" transform="rotate(101 637.1 977.4)"/><ellipse cx="634.6" cy="977.3" rx="0.8" ry="0.6" fill="#383838" transform="rotate(55 634.6 977.3)"/><ellipse cx="636.1" cy="976.2" rx="0.8" ry="0.7" fill="#424242" transform="rotate(110 636.1 976.2)"/><ellipse cx="637.1" cy="977.0" rx="0.8" ry="0.6" fill="#4e4e4e" transform="rotate(101 637.1 977.0)"/><polyline points="652.2,977.7 652.9,979.1 652.6,980.1 652.8,981.3" fill="none" stroke="#5d5d5d" stroke-width="1.5" stroke-linecap="round" stroke-linejoin="round"/><ellipse cx="649.9" cy="977.1" rx="0.7" ry="0.5" fill="#676767" transform="rotate(141 649.9 977.1)"/><ellipse cx="650.2" cy="977.7" rx="0.5" ry="0.4" fill="#3f3f3f" transform="rotate(158 650.2 977.7)"/><ellipse cx="652.4" cy="977.7" rx="0.7" ry="0.4" fill="#4b4b4b" transform="rotate(151 652.4 977.7)"/><ellipse cx="651.8" cy="977.6" rx="1.1" ry="0.5" fill="#3d3d3d" transform="rotate(87 651.8 977.6)"/></g>
</g>
<rect x="586.2" y="882.3" width="97.1" height="96.9" fill="none" stroke="#1a1a1a" stroke-width="1.6"/>
<line x1="661.0" y1="971.8" x2="678.0" y2="971.8" stroke="#000" stroke-width="2.6" stroke-linecap="butt"/>
</g>
</svg>
</body></html>
